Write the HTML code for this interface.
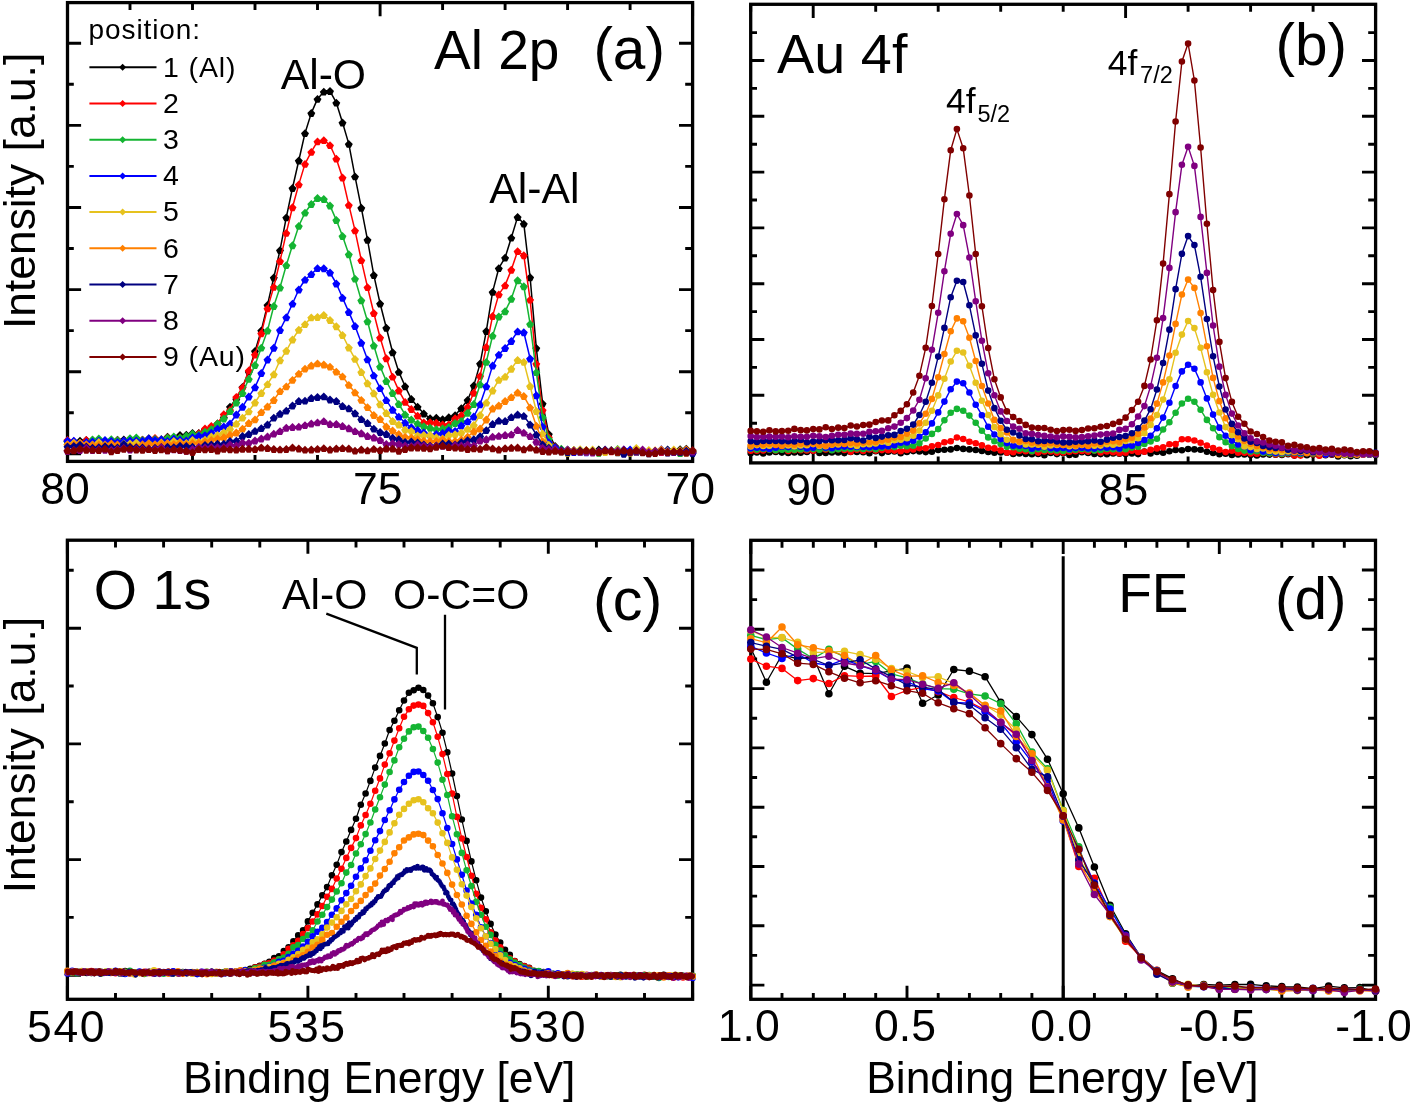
<!DOCTYPE html>
<html><head><meta charset="utf-8"><style>
html,body{margin:0;padding:0;background:#fff;}
svg{display:block;font-family:"Liberation Sans", sans-serif;will-change:transform;}
</style></head><body>
<svg width="1414" height="1106" viewBox="0 0 1414 1106">
<rect width="1414" height="1106" fill="#fff"/>
<path d="M67.5 461.4V447.8M67.5 2.6V16.2M380.1 461.4V447.8M380.1 2.6V16.2M692.6 461.4V447.8M692.6 2.6V16.2M130.0 461.4V455.1M130.0 2.6V10.0M192.5 461.4V455.1M192.5 2.6V10.0M255.0 461.4V455.1M255.0 2.6V10.0M317.5 461.4V455.1M317.5 2.6V10.0M442.6 461.4V455.1M442.6 2.6V10.0M505.1 461.4V455.1M505.1 2.6V10.0M567.6 461.4V455.1M567.6 2.6V10.0M630.1 461.4V455.1M630.1 2.6V10.0M67.5 43.3H81.1M692.6 43.3H679.0M67.5 125.4H81.1M692.6 125.4H679.0M67.5 207.5H81.1M692.6 207.5H679.0M67.5 289.6H81.1M692.6 289.6H679.0M67.5 371.7H81.1M692.6 371.7H679.0M67.5 453.8H81.1M692.6 453.8H679.0M67.5 84.3H73.8M692.6 84.3H685.2M67.5 166.4H73.8M692.6 166.4H685.2M67.5 248.5H73.8M692.6 248.5H685.2M67.5 330.6H73.8M692.6 330.6H685.2M67.5 412.8H73.8M692.6 412.8H685.2" stroke="#000" stroke-width="2.9" fill="none"/>
<path d="M813.2 462.9V449.3M813.2 4.3V17.9M1125.6 462.9V449.3M1125.6 4.3V17.9M750.7 462.9V456.6M750.7 4.3V11.7M875.7 462.9V456.6M875.7 4.3V11.7M938.2 462.9V456.6M938.2 4.3V11.7M1000.7 462.9V456.6M1000.7 4.3V11.7M1063.2 462.9V456.6M1063.2 4.3V11.7M1188.1 462.9V456.6M1188.1 4.3V11.7M1250.6 462.9V456.6M1250.6 4.3V11.7M1313.1 462.9V456.6M1313.1 4.3V11.7M1375.6 462.9V456.6M1375.6 4.3V11.7M750.7 60.5H764.3M1375.6 60.5H1362.0M750.7 116.3H764.3M1375.6 116.3H1362.0M750.7 172.1H764.3M1375.6 172.1H1362.0M750.7 227.9H764.3M1375.6 227.9H1362.0M750.7 283.7H764.3M1375.6 283.7H1362.0M750.7 339.5H764.3M1375.6 339.5H1362.0M750.7 395.3H764.3M1375.6 395.3H1362.0M750.7 451.1H764.3M1375.6 451.1H1362.0M750.7 32.6H757.0M1375.6 32.6H1368.2M750.7 88.4H757.0M1375.6 88.4H1368.2M750.7 144.2H757.0M1375.6 144.2H1368.2M750.7 200.0H757.0M1375.6 200.0H1368.2M750.7 255.8H757.0M1375.6 255.8H1368.2M750.7 311.6H757.0M1375.6 311.6H1368.2M750.7 367.4H757.0M1375.6 367.4H1368.2M750.7 423.2H757.0M1375.6 423.2H1368.2" stroke="#000" stroke-width="2.9" fill="none"/>
<path d="M67.4 999.3V985.7M67.4 540.2V553.8M307.9 999.3V985.7M307.9 540.2V553.8M548.3 999.3V985.7M548.3 540.2V553.8M115.5 999.3V993.0M115.5 540.2V547.6M163.6 999.3V993.0M163.6 540.2V547.6M211.7 999.3V993.0M211.7 540.2V547.6M259.8 999.3V993.0M259.8 540.2V547.6M356.0 999.3V993.0M356.0 540.2V547.6M404.0 999.3V993.0M404.0 540.2V547.6M452.1 999.3V993.0M452.1 540.2V547.6M500.2 999.3V993.0M500.2 540.2V547.6M596.4 999.3V993.0M596.4 540.2V547.6M644.5 999.3V993.0M644.5 540.2V547.6M692.6 999.3V993.0M692.6 540.2V547.6M67.4 628.2H81.0M692.6 628.2H679.0M67.4 743.9H81.0M692.6 743.9H679.0M67.4 859.6H81.0M692.6 859.6H679.0M67.4 975.3H81.0M692.6 975.3H679.0M67.4 570.3H73.7M692.6 570.3H685.2M67.4 686.0H73.7M692.6 686.0H685.2M67.4 801.7H73.7M692.6 801.7H685.2M67.4 917.4H73.7M692.6 917.4H685.2" stroke="#000" stroke-width="2.9" fill="none"/>
<path d="M750.8 999.3V985.7M750.8 540.3V553.9M907.0 999.3V985.7M907.0 540.3V553.9M1063.2 999.3V985.7M1063.2 540.3V553.9M1219.3 999.3V985.7M1219.3 540.3V553.9M1375.5 999.3V985.7M1375.5 540.3V553.9M782.0 999.3V993.0M782.0 540.3V547.7M813.3 999.3V993.0M813.3 540.3V547.7M844.5 999.3V993.0M844.5 540.3V547.7M875.7 999.3V993.0M875.7 540.3V547.7M938.2 999.3V993.0M938.2 540.3V547.7M969.4 999.3V993.0M969.4 540.3V547.7M1000.7 999.3V993.0M1000.7 540.3V547.7M1031.9 999.3V993.0M1031.9 540.3V547.7M1094.4 999.3V993.0M1094.4 540.3V547.7M1125.6 999.3V993.0M1125.6 540.3V547.7M1156.9 999.3V993.0M1156.9 540.3V547.7M1188.1 999.3V993.0M1188.1 540.3V547.7M1250.6 999.3V993.0M1250.6 540.3V547.7M1281.8 999.3V993.0M1281.8 540.3V547.7M1313.0 999.3V993.0M1313.0 540.3V547.7M1344.3 999.3V993.0M1344.3 540.3V547.7M750.8 570.0H764.4M1375.5 570.0H1361.9M750.8 629.3H764.4M1375.5 629.3H1361.9M750.8 688.6H764.4M1375.5 688.6H1361.9M750.8 747.9H764.4M1375.5 747.9H1361.9M750.8 807.2H764.4M1375.5 807.2H1361.9M750.8 866.5H764.4M1375.5 866.5H1361.9M750.8 925.8H764.4M1375.5 925.8H1361.9M750.8 985.1H764.4M1375.5 985.1H1361.9M750.8 599.6H757.1M1375.5 599.6H1368.1M750.8 658.9H757.1M1375.5 658.9H1368.1M750.8 718.2H757.1M1375.5 718.2H1368.1M750.8 777.5H757.1M1375.5 777.5H1368.1M750.8 836.8H757.1M1375.5 836.8H1368.1M750.8 896.1H757.1M1375.5 896.1H1368.1M750.8 955.4H757.1M1375.5 955.4H1368.1" stroke="#000" stroke-width="2.9" fill="none"/>
<rect x="67.5" y="2.6" width="625.1" height="458.8" fill="none" stroke="#000" stroke-width="3.3" stroke-linejoin="miter"/>
<rect x="750.7" y="4.3" width="624.9" height="458.6" fill="none" stroke="#000" stroke-width="3.3" stroke-linejoin="miter"/>
<rect x="67.4" y="540.2" width="625.2" height="459.1" fill="none" stroke="#000" stroke-width="3.3" stroke-linejoin="miter"/>
<rect x="750.8" y="540.3" width="624.7" height="459.0" fill="none" stroke="#000" stroke-width="3.3" stroke-linejoin="miter"/>
<g>
<polyline points="67.5,441.2 73.8,441.5 80.0,440.7 86.3,439.9 92.5,440.3 98.8,439.5 105.0,440.7 111.3,442.1 117.5,439.8 123.8,439.4 130.0,440.6 136.3,440.3 142.5,439.8 148.8,438.3 155.0,439.1 161.3,439.7 167.5,436.8 173.8,437.4 180.0,435.0 186.3,434.8 192.5,432.9 198.8,433.1 205.0,429.5 211.3,428.1 217.5,423.6 223.8,417.3 230.0,406.7 236.3,399.1 242.5,387.1 248.8,371.7 255.0,351.1 261.3,330.4 267.5,304.9 273.8,277.5 280.0,250.2 286.3,217.4 292.5,188.0 298.8,160.5 305.0,133.2 311.3,113.1 317.5,98.9 323.8,91.7 330.0,91.1 336.3,102.7 342.5,122.5 348.8,143.9 355.0,176.4 361.3,207.8 367.5,239.8 373.8,275.1 380.1,303.5 386.3,327.8 392.6,352.3 398.8,371.9 405.1,386.3 411.3,399.0 417.6,406.7 423.8,413.6 430.1,418.3 436.3,417.8 442.6,419.3 448.8,417.3 455.1,415.2 461.3,408.3 467.6,400.0 473.8,385.6 480.1,363.6 486.3,331.1 492.6,291.9 498.8,268.2 505.1,257.7 511.3,237.7 517.6,217.1 523.8,223.7 530.1,277.3 536.3,347.9 542.6,403.4 548.8,434.0 555.1,445.9 561.3,451.4 567.6,449.8 573.8,450.1 580.1,451.0 586.3,450.5 592.6,450.5 598.8,449.4 605.1,450.8 611.3,450.3 617.6,452.3 623.8,451.7 630.1,451.0 636.3,451.8 642.6,450.7 648.8,452.4 655.1,451.1 661.3,451.9 667.6,449.6 673.8,451.6 680.1,449.2 686.3,448.8 692.6,450.9" fill="none" stroke="#000000" stroke-width="1.5" stroke-linejoin="round"/>
<path d="M67.5 437.2l4 4l-2 3.9h-4l-2 -3.9zM73.8 437.5l4 4l-2 3.9h-4l-2 -3.9zM80.0 436.7l4 4l-2 3.9h-4l-2 -3.9zM86.3 435.9l4 4l-2 3.9h-4l-2 -3.9zM92.5 436.3l4 4l-2 3.9h-4l-2 -3.9zM98.8 435.5l4 4l-2 3.9h-4l-2 -3.9zM105.0 436.7l4 4l-2 3.9h-4l-2 -3.9zM111.3 438.1l4 4l-2 3.9h-4l-2 -3.9zM117.5 435.8l4 4l-2 3.9h-4l-2 -3.9zM123.8 435.4l4 4l-2 3.9h-4l-2 -3.9zM130.0 436.6l4 4l-2 3.9h-4l-2 -3.9zM136.3 436.3l4 4l-2 3.9h-4l-2 -3.9zM142.5 435.8l4 4l-2 3.9h-4l-2 -3.9zM148.8 434.3l4 4l-2 3.9h-4l-2 -3.9zM155.0 435.1l4 4l-2 3.9h-4l-2 -3.9zM161.3 435.7l4 4l-2 3.9h-4l-2 -3.9zM167.5 432.8l4 4l-2 3.9h-4l-2 -3.9zM173.8 433.4l4 4l-2 3.9h-4l-2 -3.9zM180.0 431.0l4 4l-2 3.9h-4l-2 -3.9zM186.3 430.8l4 4l-2 3.9h-4l-2 -3.9zM192.5 428.9l4 4l-2 3.9h-4l-2 -3.9zM198.8 429.1l4 4l-2 3.9h-4l-2 -3.9zM205.0 425.5l4 4l-2 3.9h-4l-2 -3.9zM211.3 424.1l4 4l-2 3.9h-4l-2 -3.9zM217.5 419.6l4 4l-2 3.9h-4l-2 -3.9zM223.8 413.3l4 4l-2 3.9h-4l-2 -3.9zM230.0 402.7l4 4l-2 3.9h-4l-2 -3.9zM236.3 395.1l4 4l-2 3.9h-4l-2 -3.9zM242.5 383.1l4 4l-2 3.9h-4l-2 -3.9zM248.8 367.7l4 4l-2 3.9h-4l-2 -3.9zM255.0 347.1l4 4l-2 3.9h-4l-2 -3.9zM261.3 326.4l4 4l-2 3.9h-4l-2 -3.9zM267.5 300.9l4 4l-2 3.9h-4l-2 -3.9zM273.8 273.5l4 4l-2 3.9h-4l-2 -3.9zM280.0 246.2l4 4l-2 3.9h-4l-2 -3.9zM286.3 213.4l4 4l-2 3.9h-4l-2 -3.9zM292.5 184.0l4 4l-2 3.9h-4l-2 -3.9zM298.8 156.5l4 4l-2 3.9h-4l-2 -3.9zM305.0 129.2l4 4l-2 3.9h-4l-2 -3.9zM311.3 109.1l4 4l-2 3.9h-4l-2 -3.9zM317.5 94.9l4 4l-2 3.9h-4l-2 -3.9zM323.8 87.7l4 4l-2 3.9h-4l-2 -3.9zM330.0 87.1l4 4l-2 3.9h-4l-2 -3.9zM336.3 98.7l4 4l-2 3.9h-4l-2 -3.9zM342.5 118.5l4 4l-2 3.9h-4l-2 -3.9zM348.8 139.9l4 4l-2 3.9h-4l-2 -3.9zM355.0 172.4l4 4l-2 3.9h-4l-2 -3.9zM361.3 203.8l4 4l-2 3.9h-4l-2 -3.9zM367.5 235.8l4 4l-2 3.9h-4l-2 -3.9zM373.8 271.1l4 4l-2 3.9h-4l-2 -3.9zM380.1 299.5l4 4l-2 3.9h-4l-2 -3.9zM386.3 323.8l4 4l-2 3.9h-4l-2 -3.9zM392.6 348.3l4 4l-2 3.9h-4l-2 -3.9zM398.8 367.9l4 4l-2 3.9h-4l-2 -3.9zM405.1 382.3l4 4l-2 3.9h-4l-2 -3.9zM411.3 395.0l4 4l-2 3.9h-4l-2 -3.9zM417.6 402.7l4 4l-2 3.9h-4l-2 -3.9zM423.8 409.6l4 4l-2 3.9h-4l-2 -3.9zM430.1 414.3l4 4l-2 3.9h-4l-2 -3.9zM436.3 413.8l4 4l-2 3.9h-4l-2 -3.9zM442.6 415.3l4 4l-2 3.9h-4l-2 -3.9zM448.8 413.3l4 4l-2 3.9h-4l-2 -3.9zM455.1 411.2l4 4l-2 3.9h-4l-2 -3.9zM461.3 404.3l4 4l-2 3.9h-4l-2 -3.9zM467.6 396.0l4 4l-2 3.9h-4l-2 -3.9zM473.8 381.6l4 4l-2 3.9h-4l-2 -3.9zM480.1 359.6l4 4l-2 3.9h-4l-2 -3.9zM486.3 327.1l4 4l-2 3.9h-4l-2 -3.9zM492.6 287.9l4 4l-2 3.9h-4l-2 -3.9zM498.8 264.2l4 4l-2 3.9h-4l-2 -3.9zM505.1 253.7l4 4l-2 3.9h-4l-2 -3.9zM511.3 233.7l4 4l-2 3.9h-4l-2 -3.9zM517.6 213.1l4 4l-2 3.9h-4l-2 -3.9zM523.8 219.7l4 4l-2 3.9h-4l-2 -3.9zM530.1 273.3l4 4l-2 3.9h-4l-2 -3.9zM536.3 343.9l4 4l-2 3.9h-4l-2 -3.9zM542.6 399.4l4 4l-2 3.9h-4l-2 -3.9zM548.8 430.0l4 4l-2 3.9h-4l-2 -3.9zM555.1 441.9l4 4l-2 3.9h-4l-2 -3.9zM561.3 447.4l4 4l-2 3.9h-4l-2 -3.9zM567.6 445.8l4 4l-2 3.9h-4l-2 -3.9zM573.8 446.1l4 4l-2 3.9h-4l-2 -3.9zM580.1 447.0l4 4l-2 3.9h-4l-2 -3.9zM586.3 446.5l4 4l-2 3.9h-4l-2 -3.9zM592.6 446.5l4 4l-2 3.9h-4l-2 -3.9zM598.8 445.4l4 4l-2 3.9h-4l-2 -3.9zM605.1 446.8l4 4l-2 3.9h-4l-2 -3.9zM611.3 446.3l4 4l-2 3.9h-4l-2 -3.9zM617.6 448.3l4 4l-2 3.9h-4l-2 -3.9zM623.8 447.7l4 4l-2 3.9h-4l-2 -3.9zM630.1 447.0l4 4l-2 3.9h-4l-2 -3.9zM636.3 447.8l4 4l-2 3.9h-4l-2 -3.9zM642.6 446.7l4 4l-2 3.9h-4l-2 -3.9zM648.8 448.4l4 4l-2 3.9h-4l-2 -3.9zM655.1 447.1l4 4l-2 3.9h-4l-2 -3.9zM661.3 447.9l4 4l-2 3.9h-4l-2 -3.9zM667.6 445.6l4 4l-2 3.9h-4l-2 -3.9zM673.8 447.6l4 4l-2 3.9h-4l-2 -3.9zM680.1 445.2l4 4l-2 3.9h-4l-2 -3.9zM686.3 444.8l4 4l-2 3.9h-4l-2 -3.9zM692.6 446.9l4 4l-2 3.9h-4l-2 -3.9z" fill="#000000"/>
<polyline points="67.5,440.1 73.8,441.3 80.0,443.7 86.3,440.0 92.5,440.1 98.8,441.0 105.0,441.3 111.3,440.3 117.5,440.2 123.8,441.1 130.0,440.8 136.3,438.7 142.5,439.7 148.8,439.6 155.0,438.0 161.3,439.3 167.5,437.6 173.8,439.2 180.0,437.6 186.3,436.6 192.5,434.4 198.8,433.2 205.0,428.5 211.3,426.1 217.5,423.4 223.8,414.3 230.0,410.0 236.3,396.9 242.5,387.5 248.8,370.5 255.0,354.6 261.3,333.3 267.5,308.4 273.8,286.9 280.0,261.0 286.3,232.9 292.5,207.3 298.8,184.4 305.0,163.9 311.3,151.9 317.5,141.4 323.8,140.2 330.0,145.2 336.3,158.7 342.5,177.5 348.8,204.9 355.0,230.4 361.3,260.2 367.5,287.2 373.8,313.0 380.1,337.5 386.3,358.3 392.6,376.7 398.8,390.6 405.1,401.9 411.3,409.0 417.6,415.7 423.8,422.6 430.1,422.2 436.3,422.8 442.6,424.4 448.8,424.4 455.1,418.3 461.3,415.2 467.6,406.9 473.8,392.8 480.1,375.9 486.3,347.0 492.6,316.1 498.8,294.4 505.1,285.4 511.3,269.8 517.6,251.2 523.8,255.3 530.1,299.7 536.3,363.7 542.6,410.1 548.8,437.2 555.1,446.9 561.3,449.3 567.6,449.9 573.8,451.4 580.1,450.3 586.3,450.6 592.6,450.8 598.8,452.3 605.1,451.7 611.3,451.4 617.6,450.3 623.8,449.4 630.1,452.2 636.3,452.2 642.6,450.9 648.8,451.8 655.1,452.1 661.3,452.2 667.6,452.3 673.8,450.7 680.1,453.1 686.3,449.8 692.6,452.3" fill="none" stroke="#ff0000" stroke-width="1.5" stroke-linejoin="round"/>
<path d="M67.5 436.1l4 4l-2 3.9h-4l-2 -3.9zM73.8 437.3l4 4l-2 3.9h-4l-2 -3.9zM80.0 439.7l4 4l-2 3.9h-4l-2 -3.9zM86.3 436.0l4 4l-2 3.9h-4l-2 -3.9zM92.5 436.1l4 4l-2 3.9h-4l-2 -3.9zM98.8 437.0l4 4l-2 3.9h-4l-2 -3.9zM105.0 437.3l4 4l-2 3.9h-4l-2 -3.9zM111.3 436.3l4 4l-2 3.9h-4l-2 -3.9zM117.5 436.2l4 4l-2 3.9h-4l-2 -3.9zM123.8 437.1l4 4l-2 3.9h-4l-2 -3.9zM130.0 436.8l4 4l-2 3.9h-4l-2 -3.9zM136.3 434.7l4 4l-2 3.9h-4l-2 -3.9zM142.5 435.7l4 4l-2 3.9h-4l-2 -3.9zM148.8 435.6l4 4l-2 3.9h-4l-2 -3.9zM155.0 434.0l4 4l-2 3.9h-4l-2 -3.9zM161.3 435.3l4 4l-2 3.9h-4l-2 -3.9zM167.5 433.6l4 4l-2 3.9h-4l-2 -3.9zM173.8 435.2l4 4l-2 3.9h-4l-2 -3.9zM180.0 433.6l4 4l-2 3.9h-4l-2 -3.9zM186.3 432.6l4 4l-2 3.9h-4l-2 -3.9zM192.5 430.4l4 4l-2 3.9h-4l-2 -3.9zM198.8 429.2l4 4l-2 3.9h-4l-2 -3.9zM205.0 424.5l4 4l-2 3.9h-4l-2 -3.9zM211.3 422.1l4 4l-2 3.9h-4l-2 -3.9zM217.5 419.4l4 4l-2 3.9h-4l-2 -3.9zM223.8 410.3l4 4l-2 3.9h-4l-2 -3.9zM230.0 406.0l4 4l-2 3.9h-4l-2 -3.9zM236.3 392.9l4 4l-2 3.9h-4l-2 -3.9zM242.5 383.5l4 4l-2 3.9h-4l-2 -3.9zM248.8 366.5l4 4l-2 3.9h-4l-2 -3.9zM255.0 350.6l4 4l-2 3.9h-4l-2 -3.9zM261.3 329.3l4 4l-2 3.9h-4l-2 -3.9zM267.5 304.4l4 4l-2 3.9h-4l-2 -3.9zM273.8 282.9l4 4l-2 3.9h-4l-2 -3.9zM280.0 257.0l4 4l-2 3.9h-4l-2 -3.9zM286.3 228.9l4 4l-2 3.9h-4l-2 -3.9zM292.5 203.3l4 4l-2 3.9h-4l-2 -3.9zM298.8 180.4l4 4l-2 3.9h-4l-2 -3.9zM305.0 159.9l4 4l-2 3.9h-4l-2 -3.9zM311.3 147.9l4 4l-2 3.9h-4l-2 -3.9zM317.5 137.4l4 4l-2 3.9h-4l-2 -3.9zM323.8 136.2l4 4l-2 3.9h-4l-2 -3.9zM330.0 141.2l4 4l-2 3.9h-4l-2 -3.9zM336.3 154.7l4 4l-2 3.9h-4l-2 -3.9zM342.5 173.5l4 4l-2 3.9h-4l-2 -3.9zM348.8 200.9l4 4l-2 3.9h-4l-2 -3.9zM355.0 226.4l4 4l-2 3.9h-4l-2 -3.9zM361.3 256.2l4 4l-2 3.9h-4l-2 -3.9zM367.5 283.2l4 4l-2 3.9h-4l-2 -3.9zM373.8 309.0l4 4l-2 3.9h-4l-2 -3.9zM380.1 333.5l4 4l-2 3.9h-4l-2 -3.9zM386.3 354.3l4 4l-2 3.9h-4l-2 -3.9zM392.6 372.7l4 4l-2 3.9h-4l-2 -3.9zM398.8 386.6l4 4l-2 3.9h-4l-2 -3.9zM405.1 397.9l4 4l-2 3.9h-4l-2 -3.9zM411.3 405.0l4 4l-2 3.9h-4l-2 -3.9zM417.6 411.7l4 4l-2 3.9h-4l-2 -3.9zM423.8 418.6l4 4l-2 3.9h-4l-2 -3.9zM430.1 418.2l4 4l-2 3.9h-4l-2 -3.9zM436.3 418.8l4 4l-2 3.9h-4l-2 -3.9zM442.6 420.4l4 4l-2 3.9h-4l-2 -3.9zM448.8 420.4l4 4l-2 3.9h-4l-2 -3.9zM455.1 414.3l4 4l-2 3.9h-4l-2 -3.9zM461.3 411.2l4 4l-2 3.9h-4l-2 -3.9zM467.6 402.9l4 4l-2 3.9h-4l-2 -3.9zM473.8 388.8l4 4l-2 3.9h-4l-2 -3.9zM480.1 371.9l4 4l-2 3.9h-4l-2 -3.9zM486.3 343.0l4 4l-2 3.9h-4l-2 -3.9zM492.6 312.1l4 4l-2 3.9h-4l-2 -3.9zM498.8 290.4l4 4l-2 3.9h-4l-2 -3.9zM505.1 281.4l4 4l-2 3.9h-4l-2 -3.9zM511.3 265.8l4 4l-2 3.9h-4l-2 -3.9zM517.6 247.2l4 4l-2 3.9h-4l-2 -3.9zM523.8 251.3l4 4l-2 3.9h-4l-2 -3.9zM530.1 295.7l4 4l-2 3.9h-4l-2 -3.9zM536.3 359.7l4 4l-2 3.9h-4l-2 -3.9zM542.6 406.1l4 4l-2 3.9h-4l-2 -3.9zM548.8 433.2l4 4l-2 3.9h-4l-2 -3.9zM555.1 442.9l4 4l-2 3.9h-4l-2 -3.9zM561.3 445.3l4 4l-2 3.9h-4l-2 -3.9zM567.6 445.9l4 4l-2 3.9h-4l-2 -3.9zM573.8 447.4l4 4l-2 3.9h-4l-2 -3.9zM580.1 446.3l4 4l-2 3.9h-4l-2 -3.9zM586.3 446.6l4 4l-2 3.9h-4l-2 -3.9zM592.6 446.8l4 4l-2 3.9h-4l-2 -3.9zM598.8 448.3l4 4l-2 3.9h-4l-2 -3.9zM605.1 447.7l4 4l-2 3.9h-4l-2 -3.9zM611.3 447.4l4 4l-2 3.9h-4l-2 -3.9zM617.6 446.3l4 4l-2 3.9h-4l-2 -3.9zM623.8 445.4l4 4l-2 3.9h-4l-2 -3.9zM630.1 448.2l4 4l-2 3.9h-4l-2 -3.9zM636.3 448.2l4 4l-2 3.9h-4l-2 -3.9zM642.6 446.9l4 4l-2 3.9h-4l-2 -3.9zM648.8 447.8l4 4l-2 3.9h-4l-2 -3.9zM655.1 448.1l4 4l-2 3.9h-4l-2 -3.9zM661.3 448.2l4 4l-2 3.9h-4l-2 -3.9zM667.6 448.3l4 4l-2 3.9h-4l-2 -3.9zM673.8 446.7l4 4l-2 3.9h-4l-2 -3.9zM680.1 449.1l4 4l-2 3.9h-4l-2 -3.9zM686.3 445.8l4 4l-2 3.9h-4l-2 -3.9zM692.6 448.3l4 4l-2 3.9h-4l-2 -3.9z" fill="#ff0000"/>
<polyline points="67.5,441.6 73.8,442.0 80.0,443.1 86.3,442.6 92.5,439.4 98.8,438.6 105.0,441.5 111.3,439.2 117.5,440.3 123.8,441.3 130.0,438.2 136.3,437.5 142.5,440.1 148.8,439.7 155.0,439.1 161.3,439.2 167.5,437.8 173.8,436.5 180.0,437.5 186.3,435.7 192.5,433.7 198.8,434.6 205.0,431.7 211.3,429.2 217.5,423.5 223.8,418.5 230.0,411.2 236.3,402.6 242.5,393.1 248.8,378.9 255.0,365.1 261.3,347.7 267.5,330.6 273.8,306.0 280.0,287.5 286.3,265.2 292.5,245.3 298.8,225.9 305.0,212.7 311.3,204.0 317.5,198.1 323.8,199.0 330.0,205.6 336.3,220.1 342.5,236.1 348.8,254.3 355.0,278.7 361.3,300.3 367.5,321.3 373.8,345.5 380.1,366.5 386.3,381.1 392.6,393.0 398.8,404.0 405.1,414.6 411.3,419.5 417.6,423.6 423.8,426.2 430.1,427.8 436.3,429.2 442.6,428.6 448.8,426.9 455.1,423.0 461.3,420.9 467.6,412.8 473.8,404.1 480.1,384.4 486.3,361.9 492.6,335.7 498.8,316.5 505.1,311.3 511.3,298.8 517.6,280.3 523.8,286.3 530.1,323.9 536.3,372.2 542.6,417.1 548.8,439.0 555.1,447.7 561.3,448.8 567.6,450.3 573.8,450.6 580.1,452.2 586.3,451.3 592.6,450.9 598.8,452.8 605.1,450.3 611.3,450.5 617.6,448.9 623.8,453.0 630.1,452.3 636.3,452.2 642.6,451.9 648.8,451.3 655.1,451.4 661.3,450.9 667.6,451.0 673.8,451.3 680.1,453.1 686.3,452.0 692.6,451.2" fill="none" stroke="#14b432" stroke-width="1.5" stroke-linejoin="round"/>
<path d="M67.5 437.6l4 4l-2 3.9h-4l-2 -3.9zM73.8 438.0l4 4l-2 3.9h-4l-2 -3.9zM80.0 439.1l4 4l-2 3.9h-4l-2 -3.9zM86.3 438.6l4 4l-2 3.9h-4l-2 -3.9zM92.5 435.4l4 4l-2 3.9h-4l-2 -3.9zM98.8 434.6l4 4l-2 3.9h-4l-2 -3.9zM105.0 437.5l4 4l-2 3.9h-4l-2 -3.9zM111.3 435.2l4 4l-2 3.9h-4l-2 -3.9zM117.5 436.3l4 4l-2 3.9h-4l-2 -3.9zM123.8 437.3l4 4l-2 3.9h-4l-2 -3.9zM130.0 434.2l4 4l-2 3.9h-4l-2 -3.9zM136.3 433.5l4 4l-2 3.9h-4l-2 -3.9zM142.5 436.1l4 4l-2 3.9h-4l-2 -3.9zM148.8 435.7l4 4l-2 3.9h-4l-2 -3.9zM155.0 435.1l4 4l-2 3.9h-4l-2 -3.9zM161.3 435.2l4 4l-2 3.9h-4l-2 -3.9zM167.5 433.8l4 4l-2 3.9h-4l-2 -3.9zM173.8 432.5l4 4l-2 3.9h-4l-2 -3.9zM180.0 433.5l4 4l-2 3.9h-4l-2 -3.9zM186.3 431.7l4 4l-2 3.9h-4l-2 -3.9zM192.5 429.7l4 4l-2 3.9h-4l-2 -3.9zM198.8 430.6l4 4l-2 3.9h-4l-2 -3.9zM205.0 427.7l4 4l-2 3.9h-4l-2 -3.9zM211.3 425.2l4 4l-2 3.9h-4l-2 -3.9zM217.5 419.5l4 4l-2 3.9h-4l-2 -3.9zM223.8 414.5l4 4l-2 3.9h-4l-2 -3.9zM230.0 407.2l4 4l-2 3.9h-4l-2 -3.9zM236.3 398.6l4 4l-2 3.9h-4l-2 -3.9zM242.5 389.1l4 4l-2 3.9h-4l-2 -3.9zM248.8 374.9l4 4l-2 3.9h-4l-2 -3.9zM255.0 361.1l4 4l-2 3.9h-4l-2 -3.9zM261.3 343.7l4 4l-2 3.9h-4l-2 -3.9zM267.5 326.6l4 4l-2 3.9h-4l-2 -3.9zM273.8 302.0l4 4l-2 3.9h-4l-2 -3.9zM280.0 283.5l4 4l-2 3.9h-4l-2 -3.9zM286.3 261.2l4 4l-2 3.9h-4l-2 -3.9zM292.5 241.3l4 4l-2 3.9h-4l-2 -3.9zM298.8 221.9l4 4l-2 3.9h-4l-2 -3.9zM305.0 208.7l4 4l-2 3.9h-4l-2 -3.9zM311.3 200.0l4 4l-2 3.9h-4l-2 -3.9zM317.5 194.1l4 4l-2 3.9h-4l-2 -3.9zM323.8 195.0l4 4l-2 3.9h-4l-2 -3.9zM330.0 201.6l4 4l-2 3.9h-4l-2 -3.9zM336.3 216.1l4 4l-2 3.9h-4l-2 -3.9zM342.5 232.1l4 4l-2 3.9h-4l-2 -3.9zM348.8 250.3l4 4l-2 3.9h-4l-2 -3.9zM355.0 274.7l4 4l-2 3.9h-4l-2 -3.9zM361.3 296.3l4 4l-2 3.9h-4l-2 -3.9zM367.5 317.3l4 4l-2 3.9h-4l-2 -3.9zM373.8 341.5l4 4l-2 3.9h-4l-2 -3.9zM380.1 362.5l4 4l-2 3.9h-4l-2 -3.9zM386.3 377.1l4 4l-2 3.9h-4l-2 -3.9zM392.6 389.0l4 4l-2 3.9h-4l-2 -3.9zM398.8 400.0l4 4l-2 3.9h-4l-2 -3.9zM405.1 410.6l4 4l-2 3.9h-4l-2 -3.9zM411.3 415.5l4 4l-2 3.9h-4l-2 -3.9zM417.6 419.6l4 4l-2 3.9h-4l-2 -3.9zM423.8 422.2l4 4l-2 3.9h-4l-2 -3.9zM430.1 423.8l4 4l-2 3.9h-4l-2 -3.9zM436.3 425.2l4 4l-2 3.9h-4l-2 -3.9zM442.6 424.6l4 4l-2 3.9h-4l-2 -3.9zM448.8 422.9l4 4l-2 3.9h-4l-2 -3.9zM455.1 419.0l4 4l-2 3.9h-4l-2 -3.9zM461.3 416.9l4 4l-2 3.9h-4l-2 -3.9zM467.6 408.8l4 4l-2 3.9h-4l-2 -3.9zM473.8 400.1l4 4l-2 3.9h-4l-2 -3.9zM480.1 380.4l4 4l-2 3.9h-4l-2 -3.9zM486.3 357.9l4 4l-2 3.9h-4l-2 -3.9zM492.6 331.7l4 4l-2 3.9h-4l-2 -3.9zM498.8 312.5l4 4l-2 3.9h-4l-2 -3.9zM505.1 307.3l4 4l-2 3.9h-4l-2 -3.9zM511.3 294.8l4 4l-2 3.9h-4l-2 -3.9zM517.6 276.3l4 4l-2 3.9h-4l-2 -3.9zM523.8 282.3l4 4l-2 3.9h-4l-2 -3.9zM530.1 319.9l4 4l-2 3.9h-4l-2 -3.9zM536.3 368.2l4 4l-2 3.9h-4l-2 -3.9zM542.6 413.1l4 4l-2 3.9h-4l-2 -3.9zM548.8 435.0l4 4l-2 3.9h-4l-2 -3.9zM555.1 443.7l4 4l-2 3.9h-4l-2 -3.9zM561.3 444.8l4 4l-2 3.9h-4l-2 -3.9zM567.6 446.3l4 4l-2 3.9h-4l-2 -3.9zM573.8 446.6l4 4l-2 3.9h-4l-2 -3.9zM580.1 448.2l4 4l-2 3.9h-4l-2 -3.9zM586.3 447.3l4 4l-2 3.9h-4l-2 -3.9zM592.6 446.9l4 4l-2 3.9h-4l-2 -3.9zM598.8 448.8l4 4l-2 3.9h-4l-2 -3.9zM605.1 446.3l4 4l-2 3.9h-4l-2 -3.9zM611.3 446.5l4 4l-2 3.9h-4l-2 -3.9zM617.6 444.9l4 4l-2 3.9h-4l-2 -3.9zM623.8 449.0l4 4l-2 3.9h-4l-2 -3.9zM630.1 448.3l4 4l-2 3.9h-4l-2 -3.9zM636.3 448.2l4 4l-2 3.9h-4l-2 -3.9zM642.6 447.9l4 4l-2 3.9h-4l-2 -3.9zM648.8 447.3l4 4l-2 3.9h-4l-2 -3.9zM655.1 447.4l4 4l-2 3.9h-4l-2 -3.9zM661.3 446.9l4 4l-2 3.9h-4l-2 -3.9zM667.6 447.0l4 4l-2 3.9h-4l-2 -3.9zM673.8 447.3l4 4l-2 3.9h-4l-2 -3.9zM680.1 449.1l4 4l-2 3.9h-4l-2 -3.9zM686.3 448.0l4 4l-2 3.9h-4l-2 -3.9zM692.6 447.2l4 4l-2 3.9h-4l-2 -3.9z" fill="#14b432"/>
<polyline points="67.5,440.8 73.8,440.7 80.0,443.3 86.3,442.0 92.5,441.4 98.8,440.8 105.0,439.9 111.3,441.0 117.5,442.1 123.8,440.5 130.0,440.6 136.3,440.5 142.5,440.8 148.8,438.6 155.0,440.1 161.3,439.2 167.5,441.0 173.8,438.7 180.0,439.8 186.3,440.4 192.5,437.3 198.8,435.8 205.0,435.2 211.3,432.8 217.5,428.7 223.8,426.6 230.0,423.5 236.3,414.5 242.5,406.8 248.8,396.6 255.0,387.3 261.3,373.1 267.5,359.6 273.8,347.8 280.0,330.0 286.3,317.3 292.5,303.7 298.8,289.5 305.0,279.7 311.3,274.2 317.5,268.2 323.8,268.3 330.0,272.6 336.3,283.5 342.5,297.8 348.8,312.1 355.0,326.1 361.3,342.8 367.5,359.4 373.8,375.4 380.1,388.2 386.3,400.2 392.6,409.8 398.8,416.7 405.1,422.8 411.3,427.3 417.6,429.9 423.8,432.5 430.1,435.2 436.3,434.0 442.6,433.1 448.8,430.2 455.1,431.1 461.3,425.5 467.6,421.4 473.8,416.5 480.1,404.3 486.3,386.3 492.6,365.6 498.8,354.7 505.1,348.1 511.3,341.0 517.6,331.4 523.8,332.3 530.1,358.5 536.3,395.3 542.6,426.4 548.8,442.3 555.1,447.3 561.3,450.6 567.6,449.4 573.8,452.2 580.1,452.2 586.3,452.3 592.6,450.4 598.8,451.7 605.1,450.9 611.3,450.6 617.6,450.7 623.8,449.6 630.1,449.4 636.3,452.1 642.6,451.0 648.8,451.5 655.1,452.4 661.3,449.2 667.6,450.3 673.8,451.5 680.1,451.7 686.3,450.8 692.6,452.5" fill="none" stroke="#0000ff" stroke-width="1.5" stroke-linejoin="round"/>
<path d="M67.5 436.8l4 4l-2 3.9h-4l-2 -3.9zM73.8 436.7l4 4l-2 3.9h-4l-2 -3.9zM80.0 439.3l4 4l-2 3.9h-4l-2 -3.9zM86.3 438.0l4 4l-2 3.9h-4l-2 -3.9zM92.5 437.4l4 4l-2 3.9h-4l-2 -3.9zM98.8 436.8l4 4l-2 3.9h-4l-2 -3.9zM105.0 435.9l4 4l-2 3.9h-4l-2 -3.9zM111.3 437.0l4 4l-2 3.9h-4l-2 -3.9zM117.5 438.1l4 4l-2 3.9h-4l-2 -3.9zM123.8 436.5l4 4l-2 3.9h-4l-2 -3.9zM130.0 436.6l4 4l-2 3.9h-4l-2 -3.9zM136.3 436.5l4 4l-2 3.9h-4l-2 -3.9zM142.5 436.8l4 4l-2 3.9h-4l-2 -3.9zM148.8 434.6l4 4l-2 3.9h-4l-2 -3.9zM155.0 436.1l4 4l-2 3.9h-4l-2 -3.9zM161.3 435.2l4 4l-2 3.9h-4l-2 -3.9zM167.5 437.0l4 4l-2 3.9h-4l-2 -3.9zM173.8 434.7l4 4l-2 3.9h-4l-2 -3.9zM180.0 435.8l4 4l-2 3.9h-4l-2 -3.9zM186.3 436.4l4 4l-2 3.9h-4l-2 -3.9zM192.5 433.3l4 4l-2 3.9h-4l-2 -3.9zM198.8 431.8l4 4l-2 3.9h-4l-2 -3.9zM205.0 431.2l4 4l-2 3.9h-4l-2 -3.9zM211.3 428.8l4 4l-2 3.9h-4l-2 -3.9zM217.5 424.7l4 4l-2 3.9h-4l-2 -3.9zM223.8 422.6l4 4l-2 3.9h-4l-2 -3.9zM230.0 419.5l4 4l-2 3.9h-4l-2 -3.9zM236.3 410.5l4 4l-2 3.9h-4l-2 -3.9zM242.5 402.8l4 4l-2 3.9h-4l-2 -3.9zM248.8 392.6l4 4l-2 3.9h-4l-2 -3.9zM255.0 383.3l4 4l-2 3.9h-4l-2 -3.9zM261.3 369.1l4 4l-2 3.9h-4l-2 -3.9zM267.5 355.6l4 4l-2 3.9h-4l-2 -3.9zM273.8 343.8l4 4l-2 3.9h-4l-2 -3.9zM280.0 326.0l4 4l-2 3.9h-4l-2 -3.9zM286.3 313.3l4 4l-2 3.9h-4l-2 -3.9zM292.5 299.7l4 4l-2 3.9h-4l-2 -3.9zM298.8 285.5l4 4l-2 3.9h-4l-2 -3.9zM305.0 275.7l4 4l-2 3.9h-4l-2 -3.9zM311.3 270.2l4 4l-2 3.9h-4l-2 -3.9zM317.5 264.2l4 4l-2 3.9h-4l-2 -3.9zM323.8 264.3l4 4l-2 3.9h-4l-2 -3.9zM330.0 268.6l4 4l-2 3.9h-4l-2 -3.9zM336.3 279.5l4 4l-2 3.9h-4l-2 -3.9zM342.5 293.8l4 4l-2 3.9h-4l-2 -3.9zM348.8 308.1l4 4l-2 3.9h-4l-2 -3.9zM355.0 322.1l4 4l-2 3.9h-4l-2 -3.9zM361.3 338.8l4 4l-2 3.9h-4l-2 -3.9zM367.5 355.4l4 4l-2 3.9h-4l-2 -3.9zM373.8 371.4l4 4l-2 3.9h-4l-2 -3.9zM380.1 384.2l4 4l-2 3.9h-4l-2 -3.9zM386.3 396.2l4 4l-2 3.9h-4l-2 -3.9zM392.6 405.8l4 4l-2 3.9h-4l-2 -3.9zM398.8 412.7l4 4l-2 3.9h-4l-2 -3.9zM405.1 418.8l4 4l-2 3.9h-4l-2 -3.9zM411.3 423.3l4 4l-2 3.9h-4l-2 -3.9zM417.6 425.9l4 4l-2 3.9h-4l-2 -3.9zM423.8 428.5l4 4l-2 3.9h-4l-2 -3.9zM430.1 431.2l4 4l-2 3.9h-4l-2 -3.9zM436.3 430.0l4 4l-2 3.9h-4l-2 -3.9zM442.6 429.1l4 4l-2 3.9h-4l-2 -3.9zM448.8 426.2l4 4l-2 3.9h-4l-2 -3.9zM455.1 427.1l4 4l-2 3.9h-4l-2 -3.9zM461.3 421.5l4 4l-2 3.9h-4l-2 -3.9zM467.6 417.4l4 4l-2 3.9h-4l-2 -3.9zM473.8 412.5l4 4l-2 3.9h-4l-2 -3.9zM480.1 400.3l4 4l-2 3.9h-4l-2 -3.9zM486.3 382.3l4 4l-2 3.9h-4l-2 -3.9zM492.6 361.6l4 4l-2 3.9h-4l-2 -3.9zM498.8 350.7l4 4l-2 3.9h-4l-2 -3.9zM505.1 344.1l4 4l-2 3.9h-4l-2 -3.9zM511.3 337.0l4 4l-2 3.9h-4l-2 -3.9zM517.6 327.4l4 4l-2 3.9h-4l-2 -3.9zM523.8 328.3l4 4l-2 3.9h-4l-2 -3.9zM530.1 354.5l4 4l-2 3.9h-4l-2 -3.9zM536.3 391.3l4 4l-2 3.9h-4l-2 -3.9zM542.6 422.4l4 4l-2 3.9h-4l-2 -3.9zM548.8 438.3l4 4l-2 3.9h-4l-2 -3.9zM555.1 443.3l4 4l-2 3.9h-4l-2 -3.9zM561.3 446.6l4 4l-2 3.9h-4l-2 -3.9zM567.6 445.4l4 4l-2 3.9h-4l-2 -3.9zM573.8 448.2l4 4l-2 3.9h-4l-2 -3.9zM580.1 448.2l4 4l-2 3.9h-4l-2 -3.9zM586.3 448.3l4 4l-2 3.9h-4l-2 -3.9zM592.6 446.4l4 4l-2 3.9h-4l-2 -3.9zM598.8 447.7l4 4l-2 3.9h-4l-2 -3.9zM605.1 446.9l4 4l-2 3.9h-4l-2 -3.9zM611.3 446.6l4 4l-2 3.9h-4l-2 -3.9zM617.6 446.7l4 4l-2 3.9h-4l-2 -3.9zM623.8 445.6l4 4l-2 3.9h-4l-2 -3.9zM630.1 445.4l4 4l-2 3.9h-4l-2 -3.9zM636.3 448.1l4 4l-2 3.9h-4l-2 -3.9zM642.6 447.0l4 4l-2 3.9h-4l-2 -3.9zM648.8 447.5l4 4l-2 3.9h-4l-2 -3.9zM655.1 448.4l4 4l-2 3.9h-4l-2 -3.9zM661.3 445.2l4 4l-2 3.9h-4l-2 -3.9zM667.6 446.3l4 4l-2 3.9h-4l-2 -3.9zM673.8 447.5l4 4l-2 3.9h-4l-2 -3.9zM680.1 447.7l4 4l-2 3.9h-4l-2 -3.9zM686.3 446.8l4 4l-2 3.9h-4l-2 -3.9zM692.6 448.5l4 4l-2 3.9h-4l-2 -3.9z" fill="#0000ff"/>
<polyline points="67.5,444.4 73.8,442.8 80.0,443.1 86.3,445.0 92.5,444.6 98.8,441.9 105.0,445.5 111.3,444.6 117.5,445.3 123.8,443.4 130.0,443.4 136.3,442.4 142.5,446.4 148.8,443.3 155.0,445.1 161.3,442.5 167.5,443.2 173.8,440.9 180.0,442.0 186.3,443.1 192.5,440.0 198.8,441.7 205.0,439.7 211.3,436.5 217.5,435.0 223.8,432.2 230.0,428.9 236.3,423.7 242.5,417.7 248.8,411.4 255.0,402.5 261.3,393.0 267.5,384.2 273.8,374.3 280.0,360.3 286.3,350.8 292.5,339.5 298.8,329.8 305.0,324.2 311.3,317.4 317.5,317.0 323.8,315.0 330.0,320.1 336.3,326.3 342.5,335.0 348.8,347.6 355.0,358.9 361.3,372.0 367.5,383.3 373.8,393.3 380.1,404.3 386.3,413.0 392.6,421.0 398.8,424.5 405.1,429.7 411.3,430.9 417.6,435.6 423.8,435.1 430.1,435.0 436.3,437.2 442.6,438.4 448.8,434.9 455.1,434.3 461.3,432.7 467.6,428.9 473.8,425.0 480.1,415.0 486.3,402.7 492.6,390.5 498.8,379.9 505.1,376.7 511.3,368.8 517.6,360.1 523.8,361.9 530.1,386.0 536.3,411.0 542.6,433.4 548.8,444.8 555.1,449.5 561.3,450.7 567.6,453.0 573.8,449.9 580.1,449.3 586.3,450.0 592.6,449.6 598.8,451.9 605.1,452.0 611.3,450.1 617.6,449.6 623.8,450.8 630.1,452.7 636.3,448.1 642.6,451.8 648.8,450.0 655.1,452.4 661.3,450.1 667.6,450.9 673.8,449.6 680.1,450.2 686.3,452.8 692.6,452.2" fill="none" stroke="#e6c21e" stroke-width="1.5" stroke-linejoin="round"/>
<path d="M67.5 440.4l4 4l-2 3.9h-4l-2 -3.9zM73.8 438.8l4 4l-2 3.9h-4l-2 -3.9zM80.0 439.1l4 4l-2 3.9h-4l-2 -3.9zM86.3 441.0l4 4l-2 3.9h-4l-2 -3.9zM92.5 440.6l4 4l-2 3.9h-4l-2 -3.9zM98.8 437.9l4 4l-2 3.9h-4l-2 -3.9zM105.0 441.5l4 4l-2 3.9h-4l-2 -3.9zM111.3 440.6l4 4l-2 3.9h-4l-2 -3.9zM117.5 441.3l4 4l-2 3.9h-4l-2 -3.9zM123.8 439.4l4 4l-2 3.9h-4l-2 -3.9zM130.0 439.4l4 4l-2 3.9h-4l-2 -3.9zM136.3 438.4l4 4l-2 3.9h-4l-2 -3.9zM142.5 442.4l4 4l-2 3.9h-4l-2 -3.9zM148.8 439.3l4 4l-2 3.9h-4l-2 -3.9zM155.0 441.1l4 4l-2 3.9h-4l-2 -3.9zM161.3 438.5l4 4l-2 3.9h-4l-2 -3.9zM167.5 439.2l4 4l-2 3.9h-4l-2 -3.9zM173.8 436.9l4 4l-2 3.9h-4l-2 -3.9zM180.0 438.0l4 4l-2 3.9h-4l-2 -3.9zM186.3 439.1l4 4l-2 3.9h-4l-2 -3.9zM192.5 436.0l4 4l-2 3.9h-4l-2 -3.9zM198.8 437.7l4 4l-2 3.9h-4l-2 -3.9zM205.0 435.7l4 4l-2 3.9h-4l-2 -3.9zM211.3 432.5l4 4l-2 3.9h-4l-2 -3.9zM217.5 431.0l4 4l-2 3.9h-4l-2 -3.9zM223.8 428.2l4 4l-2 3.9h-4l-2 -3.9zM230.0 424.9l4 4l-2 3.9h-4l-2 -3.9zM236.3 419.7l4 4l-2 3.9h-4l-2 -3.9zM242.5 413.7l4 4l-2 3.9h-4l-2 -3.9zM248.8 407.4l4 4l-2 3.9h-4l-2 -3.9zM255.0 398.5l4 4l-2 3.9h-4l-2 -3.9zM261.3 389.0l4 4l-2 3.9h-4l-2 -3.9zM267.5 380.2l4 4l-2 3.9h-4l-2 -3.9zM273.8 370.3l4 4l-2 3.9h-4l-2 -3.9zM280.0 356.3l4 4l-2 3.9h-4l-2 -3.9zM286.3 346.8l4 4l-2 3.9h-4l-2 -3.9zM292.5 335.5l4 4l-2 3.9h-4l-2 -3.9zM298.8 325.8l4 4l-2 3.9h-4l-2 -3.9zM305.0 320.2l4 4l-2 3.9h-4l-2 -3.9zM311.3 313.4l4 4l-2 3.9h-4l-2 -3.9zM317.5 313.0l4 4l-2 3.9h-4l-2 -3.9zM323.8 311.0l4 4l-2 3.9h-4l-2 -3.9zM330.0 316.1l4 4l-2 3.9h-4l-2 -3.9zM336.3 322.3l4 4l-2 3.9h-4l-2 -3.9zM342.5 331.0l4 4l-2 3.9h-4l-2 -3.9zM348.8 343.6l4 4l-2 3.9h-4l-2 -3.9zM355.0 354.9l4 4l-2 3.9h-4l-2 -3.9zM361.3 368.0l4 4l-2 3.9h-4l-2 -3.9zM367.5 379.3l4 4l-2 3.9h-4l-2 -3.9zM373.8 389.3l4 4l-2 3.9h-4l-2 -3.9zM380.1 400.3l4 4l-2 3.9h-4l-2 -3.9zM386.3 409.0l4 4l-2 3.9h-4l-2 -3.9zM392.6 417.0l4 4l-2 3.9h-4l-2 -3.9zM398.8 420.5l4 4l-2 3.9h-4l-2 -3.9zM405.1 425.7l4 4l-2 3.9h-4l-2 -3.9zM411.3 426.9l4 4l-2 3.9h-4l-2 -3.9zM417.6 431.6l4 4l-2 3.9h-4l-2 -3.9zM423.8 431.1l4 4l-2 3.9h-4l-2 -3.9zM430.1 431.0l4 4l-2 3.9h-4l-2 -3.9zM436.3 433.2l4 4l-2 3.9h-4l-2 -3.9zM442.6 434.4l4 4l-2 3.9h-4l-2 -3.9zM448.8 430.9l4 4l-2 3.9h-4l-2 -3.9zM455.1 430.3l4 4l-2 3.9h-4l-2 -3.9zM461.3 428.7l4 4l-2 3.9h-4l-2 -3.9zM467.6 424.9l4 4l-2 3.9h-4l-2 -3.9zM473.8 421.0l4 4l-2 3.9h-4l-2 -3.9zM480.1 411.0l4 4l-2 3.9h-4l-2 -3.9zM486.3 398.7l4 4l-2 3.9h-4l-2 -3.9zM492.6 386.5l4 4l-2 3.9h-4l-2 -3.9zM498.8 375.9l4 4l-2 3.9h-4l-2 -3.9zM505.1 372.7l4 4l-2 3.9h-4l-2 -3.9zM511.3 364.8l4 4l-2 3.9h-4l-2 -3.9zM517.6 356.1l4 4l-2 3.9h-4l-2 -3.9zM523.8 357.9l4 4l-2 3.9h-4l-2 -3.9zM530.1 382.0l4 4l-2 3.9h-4l-2 -3.9zM536.3 407.0l4 4l-2 3.9h-4l-2 -3.9zM542.6 429.4l4 4l-2 3.9h-4l-2 -3.9zM548.8 440.8l4 4l-2 3.9h-4l-2 -3.9zM555.1 445.5l4 4l-2 3.9h-4l-2 -3.9zM561.3 446.7l4 4l-2 3.9h-4l-2 -3.9zM567.6 449.0l4 4l-2 3.9h-4l-2 -3.9zM573.8 445.9l4 4l-2 3.9h-4l-2 -3.9zM580.1 445.3l4 4l-2 3.9h-4l-2 -3.9zM586.3 446.0l4 4l-2 3.9h-4l-2 -3.9zM592.6 445.6l4 4l-2 3.9h-4l-2 -3.9zM598.8 447.9l4 4l-2 3.9h-4l-2 -3.9zM605.1 448.0l4 4l-2 3.9h-4l-2 -3.9zM611.3 446.1l4 4l-2 3.9h-4l-2 -3.9zM617.6 445.6l4 4l-2 3.9h-4l-2 -3.9zM623.8 446.8l4 4l-2 3.9h-4l-2 -3.9zM630.1 448.7l4 4l-2 3.9h-4l-2 -3.9zM636.3 444.1l4 4l-2 3.9h-4l-2 -3.9zM642.6 447.8l4 4l-2 3.9h-4l-2 -3.9zM648.8 446.0l4 4l-2 3.9h-4l-2 -3.9zM655.1 448.4l4 4l-2 3.9h-4l-2 -3.9zM661.3 446.1l4 4l-2 3.9h-4l-2 -3.9zM667.6 446.9l4 4l-2 3.9h-4l-2 -3.9zM673.8 445.6l4 4l-2 3.9h-4l-2 -3.9zM680.1 446.2l4 4l-2 3.9h-4l-2 -3.9zM686.3 448.8l4 4l-2 3.9h-4l-2 -3.9zM692.6 448.2l4 4l-2 3.9h-4l-2 -3.9z" fill="#e6c21e"/>
<polyline points="67.5,444.4 73.8,443.9 80.0,442.9 86.3,444.3 92.5,444.7 98.8,444.6 105.0,444.6 111.3,443.5 117.5,444.5 123.8,444.5 130.0,445.8 136.3,446.3 142.5,444.3 148.8,443.6 155.0,444.2 161.3,443.6 167.5,443.3 173.8,443.9 180.0,442.7 186.3,444.0 192.5,442.9 198.8,442.7 205.0,441.6 211.3,440.0 217.5,438.4 223.8,437.3 230.0,434.7 236.3,432.6 242.5,428.7 248.8,423.1 255.0,419.4 261.3,412.2 267.5,406.6 273.8,400.1 280.0,391.2 286.3,386.4 292.5,379.9 298.8,373.7 305.0,368.7 311.3,365.5 317.5,363.4 323.8,364.5 330.0,366.7 336.3,371.7 342.5,376.4 348.8,384.9 355.0,392.4 361.3,399.9 367.5,407.2 373.8,415.1 380.1,419.1 386.3,426.5 392.6,430.6 398.8,434.1 405.1,436.7 411.3,437.5 417.6,439.2 423.8,440.8 430.1,441.0 436.3,441.0 442.6,439.2 448.8,440.9 455.1,440.9 461.3,439.5 467.6,436.7 473.8,431.5 480.1,428.5 486.3,419.6 492.6,408.5 498.8,405.6 505.1,401.0 511.3,397.2 517.6,392.5 523.8,396.1 530.1,407.4 536.3,425.8 542.6,441.3 548.8,448.7 555.1,449.9 561.3,450.6 567.6,449.8 573.8,450.4 580.1,451.6 586.3,451.5 592.6,451.3 598.8,452.2 605.1,450.4 611.3,451.1 617.6,451.9 623.8,451.8 630.1,452.3 636.3,451.6 642.6,450.9 648.8,451.6 655.1,450.3 661.3,449.6 667.6,451.9 673.8,451.2 680.1,451.6 686.3,449.6 692.6,450.9" fill="none" stroke="#ff8000" stroke-width="1.5" stroke-linejoin="round"/>
<path d="M67.5 440.4l4 4l-2 3.9h-4l-2 -3.9zM73.8 439.9l4 4l-2 3.9h-4l-2 -3.9zM80.0 438.9l4 4l-2 3.9h-4l-2 -3.9zM86.3 440.3l4 4l-2 3.9h-4l-2 -3.9zM92.5 440.7l4 4l-2 3.9h-4l-2 -3.9zM98.8 440.6l4 4l-2 3.9h-4l-2 -3.9zM105.0 440.6l4 4l-2 3.9h-4l-2 -3.9zM111.3 439.5l4 4l-2 3.9h-4l-2 -3.9zM117.5 440.5l4 4l-2 3.9h-4l-2 -3.9zM123.8 440.5l4 4l-2 3.9h-4l-2 -3.9zM130.0 441.8l4 4l-2 3.9h-4l-2 -3.9zM136.3 442.3l4 4l-2 3.9h-4l-2 -3.9zM142.5 440.3l4 4l-2 3.9h-4l-2 -3.9zM148.8 439.6l4 4l-2 3.9h-4l-2 -3.9zM155.0 440.2l4 4l-2 3.9h-4l-2 -3.9zM161.3 439.6l4 4l-2 3.9h-4l-2 -3.9zM167.5 439.3l4 4l-2 3.9h-4l-2 -3.9zM173.8 439.9l4 4l-2 3.9h-4l-2 -3.9zM180.0 438.7l4 4l-2 3.9h-4l-2 -3.9zM186.3 440.0l4 4l-2 3.9h-4l-2 -3.9zM192.5 438.9l4 4l-2 3.9h-4l-2 -3.9zM198.8 438.7l4 4l-2 3.9h-4l-2 -3.9zM205.0 437.6l4 4l-2 3.9h-4l-2 -3.9zM211.3 436.0l4 4l-2 3.9h-4l-2 -3.9zM217.5 434.4l4 4l-2 3.9h-4l-2 -3.9zM223.8 433.3l4 4l-2 3.9h-4l-2 -3.9zM230.0 430.7l4 4l-2 3.9h-4l-2 -3.9zM236.3 428.6l4 4l-2 3.9h-4l-2 -3.9zM242.5 424.7l4 4l-2 3.9h-4l-2 -3.9zM248.8 419.1l4 4l-2 3.9h-4l-2 -3.9zM255.0 415.4l4 4l-2 3.9h-4l-2 -3.9zM261.3 408.2l4 4l-2 3.9h-4l-2 -3.9zM267.5 402.6l4 4l-2 3.9h-4l-2 -3.9zM273.8 396.1l4 4l-2 3.9h-4l-2 -3.9zM280.0 387.2l4 4l-2 3.9h-4l-2 -3.9zM286.3 382.4l4 4l-2 3.9h-4l-2 -3.9zM292.5 375.9l4 4l-2 3.9h-4l-2 -3.9zM298.8 369.7l4 4l-2 3.9h-4l-2 -3.9zM305.0 364.7l4 4l-2 3.9h-4l-2 -3.9zM311.3 361.5l4 4l-2 3.9h-4l-2 -3.9zM317.5 359.4l4 4l-2 3.9h-4l-2 -3.9zM323.8 360.5l4 4l-2 3.9h-4l-2 -3.9zM330.0 362.7l4 4l-2 3.9h-4l-2 -3.9zM336.3 367.7l4 4l-2 3.9h-4l-2 -3.9zM342.5 372.4l4 4l-2 3.9h-4l-2 -3.9zM348.8 380.9l4 4l-2 3.9h-4l-2 -3.9zM355.0 388.4l4 4l-2 3.9h-4l-2 -3.9zM361.3 395.9l4 4l-2 3.9h-4l-2 -3.9zM367.5 403.2l4 4l-2 3.9h-4l-2 -3.9zM373.8 411.1l4 4l-2 3.9h-4l-2 -3.9zM380.1 415.1l4 4l-2 3.9h-4l-2 -3.9zM386.3 422.5l4 4l-2 3.9h-4l-2 -3.9zM392.6 426.6l4 4l-2 3.9h-4l-2 -3.9zM398.8 430.1l4 4l-2 3.9h-4l-2 -3.9zM405.1 432.7l4 4l-2 3.9h-4l-2 -3.9zM411.3 433.5l4 4l-2 3.9h-4l-2 -3.9zM417.6 435.2l4 4l-2 3.9h-4l-2 -3.9zM423.8 436.8l4 4l-2 3.9h-4l-2 -3.9zM430.1 437.0l4 4l-2 3.9h-4l-2 -3.9zM436.3 437.0l4 4l-2 3.9h-4l-2 -3.9zM442.6 435.2l4 4l-2 3.9h-4l-2 -3.9zM448.8 436.9l4 4l-2 3.9h-4l-2 -3.9zM455.1 436.9l4 4l-2 3.9h-4l-2 -3.9zM461.3 435.5l4 4l-2 3.9h-4l-2 -3.9zM467.6 432.7l4 4l-2 3.9h-4l-2 -3.9zM473.8 427.5l4 4l-2 3.9h-4l-2 -3.9zM480.1 424.5l4 4l-2 3.9h-4l-2 -3.9zM486.3 415.6l4 4l-2 3.9h-4l-2 -3.9zM492.6 404.5l4 4l-2 3.9h-4l-2 -3.9zM498.8 401.6l4 4l-2 3.9h-4l-2 -3.9zM505.1 397.0l4 4l-2 3.9h-4l-2 -3.9zM511.3 393.2l4 4l-2 3.9h-4l-2 -3.9zM517.6 388.5l4 4l-2 3.9h-4l-2 -3.9zM523.8 392.1l4 4l-2 3.9h-4l-2 -3.9zM530.1 403.4l4 4l-2 3.9h-4l-2 -3.9zM536.3 421.8l4 4l-2 3.9h-4l-2 -3.9zM542.6 437.3l4 4l-2 3.9h-4l-2 -3.9zM548.8 444.7l4 4l-2 3.9h-4l-2 -3.9zM555.1 445.9l4 4l-2 3.9h-4l-2 -3.9zM561.3 446.6l4 4l-2 3.9h-4l-2 -3.9zM567.6 445.8l4 4l-2 3.9h-4l-2 -3.9zM573.8 446.4l4 4l-2 3.9h-4l-2 -3.9zM580.1 447.6l4 4l-2 3.9h-4l-2 -3.9zM586.3 447.5l4 4l-2 3.9h-4l-2 -3.9zM592.6 447.3l4 4l-2 3.9h-4l-2 -3.9zM598.8 448.2l4 4l-2 3.9h-4l-2 -3.9zM605.1 446.4l4 4l-2 3.9h-4l-2 -3.9zM611.3 447.1l4 4l-2 3.9h-4l-2 -3.9zM617.6 447.9l4 4l-2 3.9h-4l-2 -3.9zM623.8 447.8l4 4l-2 3.9h-4l-2 -3.9zM630.1 448.3l4 4l-2 3.9h-4l-2 -3.9zM636.3 447.6l4 4l-2 3.9h-4l-2 -3.9zM642.6 446.9l4 4l-2 3.9h-4l-2 -3.9zM648.8 447.6l4 4l-2 3.9h-4l-2 -3.9zM655.1 446.3l4 4l-2 3.9h-4l-2 -3.9zM661.3 445.6l4 4l-2 3.9h-4l-2 -3.9zM667.6 447.9l4 4l-2 3.9h-4l-2 -3.9zM673.8 447.2l4 4l-2 3.9h-4l-2 -3.9zM680.1 447.6l4 4l-2 3.9h-4l-2 -3.9zM686.3 445.6l4 4l-2 3.9h-4l-2 -3.9zM692.6 446.9l4 4l-2 3.9h-4l-2 -3.9z" fill="#ff8000"/>
<polyline points="67.5,446.4 73.8,446.1 80.0,444.7 86.3,446.6 92.5,447.8 98.8,447.3 105.0,446.3 111.3,446.9 117.5,447.6 123.8,444.1 130.0,446.7 136.3,447.3 142.5,447.4 148.8,448.4 155.0,447.8 161.3,446.9 167.5,446.8 173.8,447.2 180.0,445.8 186.3,446.1 192.5,446.8 198.8,447.5 205.0,444.9 211.3,444.4 217.5,443.8 223.8,443.8 230.0,441.0 236.3,440.7 242.5,436.0 248.8,434.0 255.0,430.9 261.3,428.2 267.5,424.5 273.8,417.7 280.0,413.8 286.3,410.7 292.5,405.6 298.8,401.1 305.0,400.7 311.3,398.1 317.5,397.1 323.8,396.4 330.0,399.5 336.3,401.0 342.5,406.0 348.8,408.4 355.0,413.3 361.3,419.2 367.5,423.0 373.8,428.7 380.1,432.1 386.3,434.1 392.6,437.7 398.8,439.3 405.1,442.0 411.3,441.5 417.6,442.4 423.8,444.4 430.1,445.7 436.3,445.5 442.6,443.5 448.8,443.5 455.1,444.5 461.3,442.2 467.6,440.2 473.8,439.3 480.1,436.3 486.3,430.2 492.6,424.0 498.8,420.7 505.1,421.1 511.3,417.2 517.6,414.5 523.8,415.9 530.1,424.5 536.3,434.7 542.6,444.4 548.8,447.8 555.1,450.1 561.3,450.0 567.6,452.3 573.8,451.2 580.1,450.5 586.3,450.9 592.6,451.0 598.8,451.9 605.1,449.6 611.3,450.2 617.6,450.9 623.8,453.8 630.1,452.2 636.3,451.1 642.6,452.0 648.8,453.3 655.1,451.0 661.3,450.9 667.6,452.5 673.8,451.8 680.1,452.0 686.3,450.8 692.6,453.2" fill="none" stroke="#000080" stroke-width="1.5" stroke-linejoin="round"/>
<path d="M67.5 442.4l4 4l-2 3.9h-4l-2 -3.9zM73.8 442.1l4 4l-2 3.9h-4l-2 -3.9zM80.0 440.7l4 4l-2 3.9h-4l-2 -3.9zM86.3 442.6l4 4l-2 3.9h-4l-2 -3.9zM92.5 443.8l4 4l-2 3.9h-4l-2 -3.9zM98.8 443.3l4 4l-2 3.9h-4l-2 -3.9zM105.0 442.3l4 4l-2 3.9h-4l-2 -3.9zM111.3 442.9l4 4l-2 3.9h-4l-2 -3.9zM117.5 443.6l4 4l-2 3.9h-4l-2 -3.9zM123.8 440.1l4 4l-2 3.9h-4l-2 -3.9zM130.0 442.7l4 4l-2 3.9h-4l-2 -3.9zM136.3 443.3l4 4l-2 3.9h-4l-2 -3.9zM142.5 443.4l4 4l-2 3.9h-4l-2 -3.9zM148.8 444.4l4 4l-2 3.9h-4l-2 -3.9zM155.0 443.8l4 4l-2 3.9h-4l-2 -3.9zM161.3 442.9l4 4l-2 3.9h-4l-2 -3.9zM167.5 442.8l4 4l-2 3.9h-4l-2 -3.9zM173.8 443.2l4 4l-2 3.9h-4l-2 -3.9zM180.0 441.8l4 4l-2 3.9h-4l-2 -3.9zM186.3 442.1l4 4l-2 3.9h-4l-2 -3.9zM192.5 442.8l4 4l-2 3.9h-4l-2 -3.9zM198.8 443.5l4 4l-2 3.9h-4l-2 -3.9zM205.0 440.9l4 4l-2 3.9h-4l-2 -3.9zM211.3 440.4l4 4l-2 3.9h-4l-2 -3.9zM217.5 439.8l4 4l-2 3.9h-4l-2 -3.9zM223.8 439.8l4 4l-2 3.9h-4l-2 -3.9zM230.0 437.0l4 4l-2 3.9h-4l-2 -3.9zM236.3 436.7l4 4l-2 3.9h-4l-2 -3.9zM242.5 432.0l4 4l-2 3.9h-4l-2 -3.9zM248.8 430.0l4 4l-2 3.9h-4l-2 -3.9zM255.0 426.9l4 4l-2 3.9h-4l-2 -3.9zM261.3 424.2l4 4l-2 3.9h-4l-2 -3.9zM267.5 420.5l4 4l-2 3.9h-4l-2 -3.9zM273.8 413.7l4 4l-2 3.9h-4l-2 -3.9zM280.0 409.8l4 4l-2 3.9h-4l-2 -3.9zM286.3 406.7l4 4l-2 3.9h-4l-2 -3.9zM292.5 401.6l4 4l-2 3.9h-4l-2 -3.9zM298.8 397.1l4 4l-2 3.9h-4l-2 -3.9zM305.0 396.7l4 4l-2 3.9h-4l-2 -3.9zM311.3 394.1l4 4l-2 3.9h-4l-2 -3.9zM317.5 393.1l4 4l-2 3.9h-4l-2 -3.9zM323.8 392.4l4 4l-2 3.9h-4l-2 -3.9zM330.0 395.5l4 4l-2 3.9h-4l-2 -3.9zM336.3 397.0l4 4l-2 3.9h-4l-2 -3.9zM342.5 402.0l4 4l-2 3.9h-4l-2 -3.9zM348.8 404.4l4 4l-2 3.9h-4l-2 -3.9zM355.0 409.3l4 4l-2 3.9h-4l-2 -3.9zM361.3 415.2l4 4l-2 3.9h-4l-2 -3.9zM367.5 419.0l4 4l-2 3.9h-4l-2 -3.9zM373.8 424.7l4 4l-2 3.9h-4l-2 -3.9zM380.1 428.1l4 4l-2 3.9h-4l-2 -3.9zM386.3 430.1l4 4l-2 3.9h-4l-2 -3.9zM392.6 433.7l4 4l-2 3.9h-4l-2 -3.9zM398.8 435.3l4 4l-2 3.9h-4l-2 -3.9zM405.1 438.0l4 4l-2 3.9h-4l-2 -3.9zM411.3 437.5l4 4l-2 3.9h-4l-2 -3.9zM417.6 438.4l4 4l-2 3.9h-4l-2 -3.9zM423.8 440.4l4 4l-2 3.9h-4l-2 -3.9zM430.1 441.7l4 4l-2 3.9h-4l-2 -3.9zM436.3 441.5l4 4l-2 3.9h-4l-2 -3.9zM442.6 439.5l4 4l-2 3.9h-4l-2 -3.9zM448.8 439.5l4 4l-2 3.9h-4l-2 -3.9zM455.1 440.5l4 4l-2 3.9h-4l-2 -3.9zM461.3 438.2l4 4l-2 3.9h-4l-2 -3.9zM467.6 436.2l4 4l-2 3.9h-4l-2 -3.9zM473.8 435.3l4 4l-2 3.9h-4l-2 -3.9zM480.1 432.3l4 4l-2 3.9h-4l-2 -3.9zM486.3 426.2l4 4l-2 3.9h-4l-2 -3.9zM492.6 420.0l4 4l-2 3.9h-4l-2 -3.9zM498.8 416.7l4 4l-2 3.9h-4l-2 -3.9zM505.1 417.1l4 4l-2 3.9h-4l-2 -3.9zM511.3 413.2l4 4l-2 3.9h-4l-2 -3.9zM517.6 410.5l4 4l-2 3.9h-4l-2 -3.9zM523.8 411.9l4 4l-2 3.9h-4l-2 -3.9zM530.1 420.5l4 4l-2 3.9h-4l-2 -3.9zM536.3 430.7l4 4l-2 3.9h-4l-2 -3.9zM542.6 440.4l4 4l-2 3.9h-4l-2 -3.9zM548.8 443.8l4 4l-2 3.9h-4l-2 -3.9zM555.1 446.1l4 4l-2 3.9h-4l-2 -3.9zM561.3 446.0l4 4l-2 3.9h-4l-2 -3.9zM567.6 448.3l4 4l-2 3.9h-4l-2 -3.9zM573.8 447.2l4 4l-2 3.9h-4l-2 -3.9zM580.1 446.5l4 4l-2 3.9h-4l-2 -3.9zM586.3 446.9l4 4l-2 3.9h-4l-2 -3.9zM592.6 447.0l4 4l-2 3.9h-4l-2 -3.9zM598.8 447.9l4 4l-2 3.9h-4l-2 -3.9zM605.1 445.6l4 4l-2 3.9h-4l-2 -3.9zM611.3 446.2l4 4l-2 3.9h-4l-2 -3.9zM617.6 446.9l4 4l-2 3.9h-4l-2 -3.9zM623.8 449.8l4 4l-2 3.9h-4l-2 -3.9zM630.1 448.2l4 4l-2 3.9h-4l-2 -3.9zM636.3 447.1l4 4l-2 3.9h-4l-2 -3.9zM642.6 448.0l4 4l-2 3.9h-4l-2 -3.9zM648.8 449.3l4 4l-2 3.9h-4l-2 -3.9zM655.1 447.0l4 4l-2 3.9h-4l-2 -3.9zM661.3 446.9l4 4l-2 3.9h-4l-2 -3.9zM667.6 448.5l4 4l-2 3.9h-4l-2 -3.9zM673.8 447.8l4 4l-2 3.9h-4l-2 -3.9zM680.1 448.0l4 4l-2 3.9h-4l-2 -3.9zM686.3 446.8l4 4l-2 3.9h-4l-2 -3.9zM692.6 449.2l4 4l-2 3.9h-4l-2 -3.9z" fill="#000080"/>
<polyline points="67.5,451.0 73.8,450.0 80.0,450.1 86.3,447.7 92.5,450.0 98.8,449.3 105.0,449.8 111.3,450.1 117.5,449.1 123.8,447.9 130.0,449.7 136.3,448.7 142.5,449.1 148.8,448.8 155.0,449.0 161.3,447.2 167.5,450.3 173.8,449.4 180.0,450.1 186.3,450.8 192.5,448.9 198.8,447.1 205.0,447.6 211.3,447.0 217.5,447.2 223.8,447.1 230.0,444.4 236.3,445.5 242.5,442.6 248.8,442.7 255.0,440.6 261.3,438.5 267.5,436.5 273.8,433.7 280.0,431.2 286.3,427.8 292.5,427.0 298.8,426.7 305.0,425.2 311.3,423.5 317.5,422.4 323.8,421.2 330.0,424.0 336.3,424.1 342.5,426.1 348.8,428.3 355.0,431.2 361.3,433.3 367.5,436.1 373.8,437.5 380.1,440.1 386.3,444.1 392.6,443.3 398.8,444.1 405.1,445.5 411.3,446.0 417.6,444.6 423.8,445.6 430.1,446.6 436.3,446.1 442.6,445.9 448.8,447.2 455.1,445.1 461.3,445.6 467.6,444.6 473.8,445.4 480.1,440.7 486.3,439.3 492.6,436.7 498.8,435.9 505.1,435.0 511.3,434.4 517.6,430.0 523.8,432.7 530.1,436.2 536.3,441.9 542.6,447.8 548.8,449.0 555.1,449.0 561.3,450.8 567.6,449.9 573.8,450.7 580.1,451.6 586.3,451.5 592.6,452.7 598.8,451.1 605.1,449.9 611.3,450.6 617.6,450.4 623.8,450.2 630.1,451.7 636.3,450.7 642.6,449.5 648.8,451.9 655.1,451.2 661.3,451.6 667.6,451.4 673.8,451.9 680.1,451.3 686.3,452.4 692.6,451.7" fill="none" stroke="#800080" stroke-width="1.5" stroke-linejoin="round"/>
<path d="M67.5 447.0l4 4l-2 3.9h-4l-2 -3.9zM73.8 446.0l4 4l-2 3.9h-4l-2 -3.9zM80.0 446.1l4 4l-2 3.9h-4l-2 -3.9zM86.3 443.7l4 4l-2 3.9h-4l-2 -3.9zM92.5 446.0l4 4l-2 3.9h-4l-2 -3.9zM98.8 445.3l4 4l-2 3.9h-4l-2 -3.9zM105.0 445.8l4 4l-2 3.9h-4l-2 -3.9zM111.3 446.1l4 4l-2 3.9h-4l-2 -3.9zM117.5 445.1l4 4l-2 3.9h-4l-2 -3.9zM123.8 443.9l4 4l-2 3.9h-4l-2 -3.9zM130.0 445.7l4 4l-2 3.9h-4l-2 -3.9zM136.3 444.7l4 4l-2 3.9h-4l-2 -3.9zM142.5 445.1l4 4l-2 3.9h-4l-2 -3.9zM148.8 444.8l4 4l-2 3.9h-4l-2 -3.9zM155.0 445.0l4 4l-2 3.9h-4l-2 -3.9zM161.3 443.2l4 4l-2 3.9h-4l-2 -3.9zM167.5 446.3l4 4l-2 3.9h-4l-2 -3.9zM173.8 445.4l4 4l-2 3.9h-4l-2 -3.9zM180.0 446.1l4 4l-2 3.9h-4l-2 -3.9zM186.3 446.8l4 4l-2 3.9h-4l-2 -3.9zM192.5 444.9l4 4l-2 3.9h-4l-2 -3.9zM198.8 443.1l4 4l-2 3.9h-4l-2 -3.9zM205.0 443.6l4 4l-2 3.9h-4l-2 -3.9zM211.3 443.0l4 4l-2 3.9h-4l-2 -3.9zM217.5 443.2l4 4l-2 3.9h-4l-2 -3.9zM223.8 443.1l4 4l-2 3.9h-4l-2 -3.9zM230.0 440.4l4 4l-2 3.9h-4l-2 -3.9zM236.3 441.5l4 4l-2 3.9h-4l-2 -3.9zM242.5 438.6l4 4l-2 3.9h-4l-2 -3.9zM248.8 438.7l4 4l-2 3.9h-4l-2 -3.9zM255.0 436.6l4 4l-2 3.9h-4l-2 -3.9zM261.3 434.5l4 4l-2 3.9h-4l-2 -3.9zM267.5 432.5l4 4l-2 3.9h-4l-2 -3.9zM273.8 429.7l4 4l-2 3.9h-4l-2 -3.9zM280.0 427.2l4 4l-2 3.9h-4l-2 -3.9zM286.3 423.8l4 4l-2 3.9h-4l-2 -3.9zM292.5 423.0l4 4l-2 3.9h-4l-2 -3.9zM298.8 422.7l4 4l-2 3.9h-4l-2 -3.9zM305.0 421.2l4 4l-2 3.9h-4l-2 -3.9zM311.3 419.5l4 4l-2 3.9h-4l-2 -3.9zM317.5 418.4l4 4l-2 3.9h-4l-2 -3.9zM323.8 417.2l4 4l-2 3.9h-4l-2 -3.9zM330.0 420.0l4 4l-2 3.9h-4l-2 -3.9zM336.3 420.1l4 4l-2 3.9h-4l-2 -3.9zM342.5 422.1l4 4l-2 3.9h-4l-2 -3.9zM348.8 424.3l4 4l-2 3.9h-4l-2 -3.9zM355.0 427.2l4 4l-2 3.9h-4l-2 -3.9zM361.3 429.3l4 4l-2 3.9h-4l-2 -3.9zM367.5 432.1l4 4l-2 3.9h-4l-2 -3.9zM373.8 433.5l4 4l-2 3.9h-4l-2 -3.9zM380.1 436.1l4 4l-2 3.9h-4l-2 -3.9zM386.3 440.1l4 4l-2 3.9h-4l-2 -3.9zM392.6 439.3l4 4l-2 3.9h-4l-2 -3.9zM398.8 440.1l4 4l-2 3.9h-4l-2 -3.9zM405.1 441.5l4 4l-2 3.9h-4l-2 -3.9zM411.3 442.0l4 4l-2 3.9h-4l-2 -3.9zM417.6 440.6l4 4l-2 3.9h-4l-2 -3.9zM423.8 441.6l4 4l-2 3.9h-4l-2 -3.9zM430.1 442.6l4 4l-2 3.9h-4l-2 -3.9zM436.3 442.1l4 4l-2 3.9h-4l-2 -3.9zM442.6 441.9l4 4l-2 3.9h-4l-2 -3.9zM448.8 443.2l4 4l-2 3.9h-4l-2 -3.9zM455.1 441.1l4 4l-2 3.9h-4l-2 -3.9zM461.3 441.6l4 4l-2 3.9h-4l-2 -3.9zM467.6 440.6l4 4l-2 3.9h-4l-2 -3.9zM473.8 441.4l4 4l-2 3.9h-4l-2 -3.9zM480.1 436.7l4 4l-2 3.9h-4l-2 -3.9zM486.3 435.3l4 4l-2 3.9h-4l-2 -3.9zM492.6 432.7l4 4l-2 3.9h-4l-2 -3.9zM498.8 431.9l4 4l-2 3.9h-4l-2 -3.9zM505.1 431.0l4 4l-2 3.9h-4l-2 -3.9zM511.3 430.4l4 4l-2 3.9h-4l-2 -3.9zM517.6 426.0l4 4l-2 3.9h-4l-2 -3.9zM523.8 428.7l4 4l-2 3.9h-4l-2 -3.9zM530.1 432.2l4 4l-2 3.9h-4l-2 -3.9zM536.3 437.9l4 4l-2 3.9h-4l-2 -3.9zM542.6 443.8l4 4l-2 3.9h-4l-2 -3.9zM548.8 445.0l4 4l-2 3.9h-4l-2 -3.9zM555.1 445.0l4 4l-2 3.9h-4l-2 -3.9zM561.3 446.8l4 4l-2 3.9h-4l-2 -3.9zM567.6 445.9l4 4l-2 3.9h-4l-2 -3.9zM573.8 446.7l4 4l-2 3.9h-4l-2 -3.9zM580.1 447.6l4 4l-2 3.9h-4l-2 -3.9zM586.3 447.5l4 4l-2 3.9h-4l-2 -3.9zM592.6 448.7l4 4l-2 3.9h-4l-2 -3.9zM598.8 447.1l4 4l-2 3.9h-4l-2 -3.9zM605.1 445.9l4 4l-2 3.9h-4l-2 -3.9zM611.3 446.6l4 4l-2 3.9h-4l-2 -3.9zM617.6 446.4l4 4l-2 3.9h-4l-2 -3.9zM623.8 446.2l4 4l-2 3.9h-4l-2 -3.9zM630.1 447.7l4 4l-2 3.9h-4l-2 -3.9zM636.3 446.7l4 4l-2 3.9h-4l-2 -3.9zM642.6 445.5l4 4l-2 3.9h-4l-2 -3.9zM648.8 447.9l4 4l-2 3.9h-4l-2 -3.9zM655.1 447.2l4 4l-2 3.9h-4l-2 -3.9zM661.3 447.6l4 4l-2 3.9h-4l-2 -3.9zM667.6 447.4l4 4l-2 3.9h-4l-2 -3.9zM673.8 447.9l4 4l-2 3.9h-4l-2 -3.9zM680.1 447.3l4 4l-2 3.9h-4l-2 -3.9zM686.3 448.4l4 4l-2 3.9h-4l-2 -3.9zM692.6 447.7l4 4l-2 3.9h-4l-2 -3.9z" fill="#800080"/>
<polyline points="67.5,450.3 73.8,450.3 80.0,448.6 86.3,449.8 92.5,449.7 98.8,450.1 105.0,448.7 111.3,451.4 117.5,450.0 123.8,448.8 130.0,448.4 136.3,449.6 142.5,449.8 148.8,449.2 155.0,450.0 161.3,449.3 167.5,450.4 173.8,449.2 180.0,449.9 186.3,450.8 192.5,452.2 198.8,449.0 205.0,449.4 211.3,449.1 217.5,450.5 223.8,448.8 230.0,449.3 236.3,449.7 242.5,448.8 248.8,448.8 255.0,449.1 261.3,447.6 267.5,448.1 273.8,449.0 280.0,449.4 286.3,449.0 292.5,447.5 298.8,448.6 305.0,449.7 311.3,449.5 317.5,448.9 323.8,448.2 330.0,449.6 336.3,448.6 342.5,448.2 348.8,448.6 355.0,450.7 361.3,449.6 367.5,450.4 373.8,448.9 380.1,450.1 386.3,448.5 392.6,448.7 398.8,450.8 405.1,449.0 411.3,447.5 417.6,447.6 423.8,447.8 430.1,448.4 436.3,446.8 442.6,445.7 448.8,447.2 455.1,447.6 461.3,447.9 467.6,449.1 473.8,448.4 480.1,448.8 486.3,446.9 492.6,448.4 498.8,449.5 505.1,448.3 511.3,447.8 517.6,447.6 523.8,449.3 530.1,447.7 536.3,449.6 542.6,451.0 548.8,451.7 555.1,450.8 561.3,451.6 567.6,451.0 573.8,451.4 580.1,451.2 586.3,450.3 592.6,451.3 598.8,452.1 605.1,450.4 611.3,451.1 617.6,451.9 623.8,450.3 630.1,451.5 636.3,450.3 642.6,452.3 648.8,453.4 655.1,453.1 661.3,451.1 667.6,452.0 673.8,451.4 680.1,451.4 686.3,452.7 692.6,450.1" fill="none" stroke="#800000" stroke-width="1.5" stroke-linejoin="round"/>
<path d="M67.5 446.3l4 4l-2 3.9h-4l-2 -3.9zM73.8 446.3l4 4l-2 3.9h-4l-2 -3.9zM80.0 444.6l4 4l-2 3.9h-4l-2 -3.9zM86.3 445.8l4 4l-2 3.9h-4l-2 -3.9zM92.5 445.7l4 4l-2 3.9h-4l-2 -3.9zM98.8 446.1l4 4l-2 3.9h-4l-2 -3.9zM105.0 444.7l4 4l-2 3.9h-4l-2 -3.9zM111.3 447.4l4 4l-2 3.9h-4l-2 -3.9zM117.5 446.0l4 4l-2 3.9h-4l-2 -3.9zM123.8 444.8l4 4l-2 3.9h-4l-2 -3.9zM130.0 444.4l4 4l-2 3.9h-4l-2 -3.9zM136.3 445.6l4 4l-2 3.9h-4l-2 -3.9zM142.5 445.8l4 4l-2 3.9h-4l-2 -3.9zM148.8 445.2l4 4l-2 3.9h-4l-2 -3.9zM155.0 446.0l4 4l-2 3.9h-4l-2 -3.9zM161.3 445.3l4 4l-2 3.9h-4l-2 -3.9zM167.5 446.4l4 4l-2 3.9h-4l-2 -3.9zM173.8 445.2l4 4l-2 3.9h-4l-2 -3.9zM180.0 445.9l4 4l-2 3.9h-4l-2 -3.9zM186.3 446.8l4 4l-2 3.9h-4l-2 -3.9zM192.5 448.2l4 4l-2 3.9h-4l-2 -3.9zM198.8 445.0l4 4l-2 3.9h-4l-2 -3.9zM205.0 445.4l4 4l-2 3.9h-4l-2 -3.9zM211.3 445.1l4 4l-2 3.9h-4l-2 -3.9zM217.5 446.5l4 4l-2 3.9h-4l-2 -3.9zM223.8 444.8l4 4l-2 3.9h-4l-2 -3.9zM230.0 445.3l4 4l-2 3.9h-4l-2 -3.9zM236.3 445.7l4 4l-2 3.9h-4l-2 -3.9zM242.5 444.8l4 4l-2 3.9h-4l-2 -3.9zM248.8 444.8l4 4l-2 3.9h-4l-2 -3.9zM255.0 445.1l4 4l-2 3.9h-4l-2 -3.9zM261.3 443.6l4 4l-2 3.9h-4l-2 -3.9zM267.5 444.1l4 4l-2 3.9h-4l-2 -3.9zM273.8 445.0l4 4l-2 3.9h-4l-2 -3.9zM280.0 445.4l4 4l-2 3.9h-4l-2 -3.9zM286.3 445.0l4 4l-2 3.9h-4l-2 -3.9zM292.5 443.5l4 4l-2 3.9h-4l-2 -3.9zM298.8 444.6l4 4l-2 3.9h-4l-2 -3.9zM305.0 445.7l4 4l-2 3.9h-4l-2 -3.9zM311.3 445.5l4 4l-2 3.9h-4l-2 -3.9zM317.5 444.9l4 4l-2 3.9h-4l-2 -3.9zM323.8 444.2l4 4l-2 3.9h-4l-2 -3.9zM330.0 445.6l4 4l-2 3.9h-4l-2 -3.9zM336.3 444.6l4 4l-2 3.9h-4l-2 -3.9zM342.5 444.2l4 4l-2 3.9h-4l-2 -3.9zM348.8 444.6l4 4l-2 3.9h-4l-2 -3.9zM355.0 446.7l4 4l-2 3.9h-4l-2 -3.9zM361.3 445.6l4 4l-2 3.9h-4l-2 -3.9zM367.5 446.4l4 4l-2 3.9h-4l-2 -3.9zM373.8 444.9l4 4l-2 3.9h-4l-2 -3.9zM380.1 446.1l4 4l-2 3.9h-4l-2 -3.9zM386.3 444.5l4 4l-2 3.9h-4l-2 -3.9zM392.6 444.7l4 4l-2 3.9h-4l-2 -3.9zM398.8 446.8l4 4l-2 3.9h-4l-2 -3.9zM405.1 445.0l4 4l-2 3.9h-4l-2 -3.9zM411.3 443.5l4 4l-2 3.9h-4l-2 -3.9zM417.6 443.6l4 4l-2 3.9h-4l-2 -3.9zM423.8 443.8l4 4l-2 3.9h-4l-2 -3.9zM430.1 444.4l4 4l-2 3.9h-4l-2 -3.9zM436.3 442.8l4 4l-2 3.9h-4l-2 -3.9zM442.6 441.7l4 4l-2 3.9h-4l-2 -3.9zM448.8 443.2l4 4l-2 3.9h-4l-2 -3.9zM455.1 443.6l4 4l-2 3.9h-4l-2 -3.9zM461.3 443.9l4 4l-2 3.9h-4l-2 -3.9zM467.6 445.1l4 4l-2 3.9h-4l-2 -3.9zM473.8 444.4l4 4l-2 3.9h-4l-2 -3.9zM480.1 444.8l4 4l-2 3.9h-4l-2 -3.9zM486.3 442.9l4 4l-2 3.9h-4l-2 -3.9zM492.6 444.4l4 4l-2 3.9h-4l-2 -3.9zM498.8 445.5l4 4l-2 3.9h-4l-2 -3.9zM505.1 444.3l4 4l-2 3.9h-4l-2 -3.9zM511.3 443.8l4 4l-2 3.9h-4l-2 -3.9zM517.6 443.6l4 4l-2 3.9h-4l-2 -3.9zM523.8 445.3l4 4l-2 3.9h-4l-2 -3.9zM530.1 443.7l4 4l-2 3.9h-4l-2 -3.9zM536.3 445.6l4 4l-2 3.9h-4l-2 -3.9zM542.6 447.0l4 4l-2 3.9h-4l-2 -3.9zM548.8 447.7l4 4l-2 3.9h-4l-2 -3.9zM555.1 446.8l4 4l-2 3.9h-4l-2 -3.9zM561.3 447.6l4 4l-2 3.9h-4l-2 -3.9zM567.6 447.0l4 4l-2 3.9h-4l-2 -3.9zM573.8 447.4l4 4l-2 3.9h-4l-2 -3.9zM580.1 447.2l4 4l-2 3.9h-4l-2 -3.9zM586.3 446.3l4 4l-2 3.9h-4l-2 -3.9zM592.6 447.3l4 4l-2 3.9h-4l-2 -3.9zM598.8 448.1l4 4l-2 3.9h-4l-2 -3.9zM605.1 446.4l4 4l-2 3.9h-4l-2 -3.9zM611.3 447.1l4 4l-2 3.9h-4l-2 -3.9zM617.6 447.9l4 4l-2 3.9h-4l-2 -3.9zM623.8 446.3l4 4l-2 3.9h-4l-2 -3.9zM630.1 447.5l4 4l-2 3.9h-4l-2 -3.9zM636.3 446.3l4 4l-2 3.9h-4l-2 -3.9zM642.6 448.3l4 4l-2 3.9h-4l-2 -3.9zM648.8 449.4l4 4l-2 3.9h-4l-2 -3.9zM655.1 449.1l4 4l-2 3.9h-4l-2 -3.9zM661.3 447.1l4 4l-2 3.9h-4l-2 -3.9zM667.6 448.0l4 4l-2 3.9h-4l-2 -3.9zM673.8 447.4l4 4l-2 3.9h-4l-2 -3.9zM680.1 447.4l4 4l-2 3.9h-4l-2 -3.9zM686.3 448.7l4 4l-2 3.9h-4l-2 -3.9zM692.6 446.1l4 4l-2 3.9h-4l-2 -3.9z" fill="#800000"/>
</g>
<g>
<polyline points="750.7,453.1 756.9,452.4 763.2,453.4 769.4,452.5 775.7,451.9 781.9,452.6 788.2,452.9 794.4,452.4 800.7,452.7 806.9,452.0 813.2,450.9 819.4,453.0 825.7,452.9 831.9,452.5 838.2,452.4 844.4,453.1 850.7,452.0 856.9,451.9 863.2,452.2 869.4,453.2 875.7,451.3 881.9,453.1 888.2,451.8 894.4,451.5 900.7,453.1 906.9,452.0 913.2,451.1 919.4,451.5 925.7,452.1 931.9,451.8 938.2,450.0 944.4,449.8 950.7,449.4 956.9,448.0 963.2,448.9 969.4,449.4 975.7,450.0 981.9,450.9 988.2,452.0 994.4,452.6 1000.7,452.5 1006.9,452.8 1013.2,454.0 1019.4,453.5 1025.7,454.0 1031.9,454.3 1038.2,453.9 1044.4,455.1 1050.7,452.9 1056.9,454.1 1063.2,453.3 1069.4,454.9 1075.6,454.8 1081.9,452.2 1088.1,452.9 1094.4,454.0 1100.6,454.1 1106.9,454.1 1113.1,453.5 1119.4,453.8 1125.6,453.9 1131.9,453.4 1138.1,454.1 1144.4,451.6 1150.6,453.4 1156.9,451.9 1163.1,452.7 1169.4,451.2 1175.6,450.0 1181.9,450.2 1188.1,449.0 1194.4,449.4 1200.6,449.7 1206.9,451.8 1213.1,453.0 1219.4,454.1 1225.6,453.8 1231.9,455.0 1238.1,454.5 1244.4,454.5 1250.6,455.1 1256.9,455.5 1263.1,454.5 1269.4,454.6 1275.6,454.7 1281.9,454.9 1288.1,454.3 1294.4,455.6 1300.6,454.6 1306.9,455.3 1313.1,454.4 1319.4,455.2 1325.6,455.2 1331.9,454.7 1338.1,456.4 1344.4,455.2 1350.6,456.2 1356.9,455.7 1363.1,454.5 1369.4,454.7 1375.6,455.3" fill="none" stroke="#000000" stroke-width="1.4" stroke-linejoin="round"/>
<path d="M747.4 453.1a3.3 3.3 0 1 0 6.6 0a3.3 3.3 0 1 0 -6.6 0zM753.6 452.4a3.3 3.3 0 1 0 6.6 0a3.3 3.3 0 1 0 -6.6 0zM759.9 453.4a3.3 3.3 0 1 0 6.6 0a3.3 3.3 0 1 0 -6.6 0zM766.1 452.5a3.3 3.3 0 1 0 6.6 0a3.3 3.3 0 1 0 -6.6 0zM772.4 451.9a3.3 3.3 0 1 0 6.6 0a3.3 3.3 0 1 0 -6.6 0zM778.6 452.6a3.3 3.3 0 1 0 6.6 0a3.3 3.3 0 1 0 -6.6 0zM784.9 452.9a3.3 3.3 0 1 0 6.6 0a3.3 3.3 0 1 0 -6.6 0zM791.1 452.4a3.3 3.3 0 1 0 6.6 0a3.3 3.3 0 1 0 -6.6 0zM797.4 452.7a3.3 3.3 0 1 0 6.6 0a3.3 3.3 0 1 0 -6.6 0zM803.6 452.0a3.3 3.3 0 1 0 6.6 0a3.3 3.3 0 1 0 -6.6 0zM809.9 450.9a3.3 3.3 0 1 0 6.6 0a3.3 3.3 0 1 0 -6.6 0zM816.1 453.0a3.3 3.3 0 1 0 6.6 0a3.3 3.3 0 1 0 -6.6 0zM822.4 452.9a3.3 3.3 0 1 0 6.6 0a3.3 3.3 0 1 0 -6.6 0zM828.6 452.5a3.3 3.3 0 1 0 6.6 0a3.3 3.3 0 1 0 -6.6 0zM834.9 452.4a3.3 3.3 0 1 0 6.6 0a3.3 3.3 0 1 0 -6.6 0zM841.1 453.1a3.3 3.3 0 1 0 6.6 0a3.3 3.3 0 1 0 -6.6 0zM847.4 452.0a3.3 3.3 0 1 0 6.6 0a3.3 3.3 0 1 0 -6.6 0zM853.6 451.9a3.3 3.3 0 1 0 6.6 0a3.3 3.3 0 1 0 -6.6 0zM859.9 452.2a3.3 3.3 0 1 0 6.6 0a3.3 3.3 0 1 0 -6.6 0zM866.1 453.2a3.3 3.3 0 1 0 6.6 0a3.3 3.3 0 1 0 -6.6 0zM872.4 451.3a3.3 3.3 0 1 0 6.6 0a3.3 3.3 0 1 0 -6.6 0zM878.6 453.1a3.3 3.3 0 1 0 6.6 0a3.3 3.3 0 1 0 -6.6 0zM884.9 451.8a3.3 3.3 0 1 0 6.6 0a3.3 3.3 0 1 0 -6.6 0zM891.1 451.5a3.3 3.3 0 1 0 6.6 0a3.3 3.3 0 1 0 -6.6 0zM897.4 453.1a3.3 3.3 0 1 0 6.6 0a3.3 3.3 0 1 0 -6.6 0zM903.6 452.0a3.3 3.3 0 1 0 6.6 0a3.3 3.3 0 1 0 -6.6 0zM909.9 451.1a3.3 3.3 0 1 0 6.6 0a3.3 3.3 0 1 0 -6.6 0zM916.1 451.5a3.3 3.3 0 1 0 6.6 0a3.3 3.3 0 1 0 -6.6 0zM922.4 452.1a3.3 3.3 0 1 0 6.6 0a3.3 3.3 0 1 0 -6.6 0zM928.6 451.8a3.3 3.3 0 1 0 6.6 0a3.3 3.3 0 1 0 -6.6 0zM934.9 450.0a3.3 3.3 0 1 0 6.6 0a3.3 3.3 0 1 0 -6.6 0zM941.1 449.8a3.3 3.3 0 1 0 6.6 0a3.3 3.3 0 1 0 -6.6 0zM947.4 449.4a3.3 3.3 0 1 0 6.6 0a3.3 3.3 0 1 0 -6.6 0zM953.6 448.0a3.3 3.3 0 1 0 6.6 0a3.3 3.3 0 1 0 -6.6 0zM959.9 448.9a3.3 3.3 0 1 0 6.6 0a3.3 3.3 0 1 0 -6.6 0zM966.1 449.4a3.3 3.3 0 1 0 6.6 0a3.3 3.3 0 1 0 -6.6 0zM972.4 450.0a3.3 3.3 0 1 0 6.6 0a3.3 3.3 0 1 0 -6.6 0zM978.6 450.9a3.3 3.3 0 1 0 6.6 0a3.3 3.3 0 1 0 -6.6 0zM984.9 452.0a3.3 3.3 0 1 0 6.6 0a3.3 3.3 0 1 0 -6.6 0zM991.1 452.6a3.3 3.3 0 1 0 6.6 0a3.3 3.3 0 1 0 -6.6 0zM997.4 452.5a3.3 3.3 0 1 0 6.6 0a3.3 3.3 0 1 0 -6.6 0zM1003.6 452.8a3.3 3.3 0 1 0 6.6 0a3.3 3.3 0 1 0 -6.6 0zM1009.9 454.0a3.3 3.3 0 1 0 6.6 0a3.3 3.3 0 1 0 -6.6 0zM1016.1 453.5a3.3 3.3 0 1 0 6.6 0a3.3 3.3 0 1 0 -6.6 0zM1022.4 454.0a3.3 3.3 0 1 0 6.6 0a3.3 3.3 0 1 0 -6.6 0zM1028.6 454.3a3.3 3.3 0 1 0 6.6 0a3.3 3.3 0 1 0 -6.6 0zM1034.9 453.9a3.3 3.3 0 1 0 6.6 0a3.3 3.3 0 1 0 -6.6 0zM1041.1 455.1a3.3 3.3 0 1 0 6.6 0a3.3 3.3 0 1 0 -6.6 0zM1047.4 452.9a3.3 3.3 0 1 0 6.6 0a3.3 3.3 0 1 0 -6.6 0zM1053.6 454.1a3.3 3.3 0 1 0 6.6 0a3.3 3.3 0 1 0 -6.6 0zM1059.9 453.3a3.3 3.3 0 1 0 6.6 0a3.3 3.3 0 1 0 -6.6 0zM1066.1 454.9a3.3 3.3 0 1 0 6.6 0a3.3 3.3 0 1 0 -6.6 0zM1072.3 454.8a3.3 3.3 0 1 0 6.6 0a3.3 3.3 0 1 0 -6.6 0zM1078.6 452.2a3.3 3.3 0 1 0 6.6 0a3.3 3.3 0 1 0 -6.6 0zM1084.8 452.9a3.3 3.3 0 1 0 6.6 0a3.3 3.3 0 1 0 -6.6 0zM1091.1 454.0a3.3 3.3 0 1 0 6.6 0a3.3 3.3 0 1 0 -6.6 0zM1097.3 454.1a3.3 3.3 0 1 0 6.6 0a3.3 3.3 0 1 0 -6.6 0zM1103.6 454.1a3.3 3.3 0 1 0 6.6 0a3.3 3.3 0 1 0 -6.6 0zM1109.8 453.5a3.3 3.3 0 1 0 6.6 0a3.3 3.3 0 1 0 -6.6 0zM1116.1 453.8a3.3 3.3 0 1 0 6.6 0a3.3 3.3 0 1 0 -6.6 0zM1122.3 453.9a3.3 3.3 0 1 0 6.6 0a3.3 3.3 0 1 0 -6.6 0zM1128.6 453.4a3.3 3.3 0 1 0 6.6 0a3.3 3.3 0 1 0 -6.6 0zM1134.8 454.1a3.3 3.3 0 1 0 6.6 0a3.3 3.3 0 1 0 -6.6 0zM1141.1 451.6a3.3 3.3 0 1 0 6.6 0a3.3 3.3 0 1 0 -6.6 0zM1147.3 453.4a3.3 3.3 0 1 0 6.6 0a3.3 3.3 0 1 0 -6.6 0zM1153.6 451.9a3.3 3.3 0 1 0 6.6 0a3.3 3.3 0 1 0 -6.6 0zM1159.8 452.7a3.3 3.3 0 1 0 6.6 0a3.3 3.3 0 1 0 -6.6 0zM1166.1 451.2a3.3 3.3 0 1 0 6.6 0a3.3 3.3 0 1 0 -6.6 0zM1172.3 450.0a3.3 3.3 0 1 0 6.6 0a3.3 3.3 0 1 0 -6.6 0zM1178.6 450.2a3.3 3.3 0 1 0 6.6 0a3.3 3.3 0 1 0 -6.6 0zM1184.8 449.0a3.3 3.3 0 1 0 6.6 0a3.3 3.3 0 1 0 -6.6 0zM1191.1 449.4a3.3 3.3 0 1 0 6.6 0a3.3 3.3 0 1 0 -6.6 0zM1197.3 449.7a3.3 3.3 0 1 0 6.6 0a3.3 3.3 0 1 0 -6.6 0zM1203.6 451.8a3.3 3.3 0 1 0 6.6 0a3.3 3.3 0 1 0 -6.6 0zM1209.8 453.0a3.3 3.3 0 1 0 6.6 0a3.3 3.3 0 1 0 -6.6 0zM1216.1 454.1a3.3 3.3 0 1 0 6.6 0a3.3 3.3 0 1 0 -6.6 0zM1222.3 453.8a3.3 3.3 0 1 0 6.6 0a3.3 3.3 0 1 0 -6.6 0zM1228.6 455.0a3.3 3.3 0 1 0 6.6 0a3.3 3.3 0 1 0 -6.6 0zM1234.8 454.5a3.3 3.3 0 1 0 6.6 0a3.3 3.3 0 1 0 -6.6 0zM1241.1 454.5a3.3 3.3 0 1 0 6.6 0a3.3 3.3 0 1 0 -6.6 0zM1247.3 455.1a3.3 3.3 0 1 0 6.6 0a3.3 3.3 0 1 0 -6.6 0zM1253.6 455.5a3.3 3.3 0 1 0 6.6 0a3.3 3.3 0 1 0 -6.6 0zM1259.8 454.5a3.3 3.3 0 1 0 6.6 0a3.3 3.3 0 1 0 -6.6 0zM1266.1 454.6a3.3 3.3 0 1 0 6.6 0a3.3 3.3 0 1 0 -6.6 0zM1272.3 454.7a3.3 3.3 0 1 0 6.6 0a3.3 3.3 0 1 0 -6.6 0zM1278.6 454.9a3.3 3.3 0 1 0 6.6 0a3.3 3.3 0 1 0 -6.6 0zM1284.8 454.3a3.3 3.3 0 1 0 6.6 0a3.3 3.3 0 1 0 -6.6 0zM1291.1 455.6a3.3 3.3 0 1 0 6.6 0a3.3 3.3 0 1 0 -6.6 0zM1297.3 454.6a3.3 3.3 0 1 0 6.6 0a3.3 3.3 0 1 0 -6.6 0zM1303.6 455.3a3.3 3.3 0 1 0 6.6 0a3.3 3.3 0 1 0 -6.6 0zM1309.8 454.4a3.3 3.3 0 1 0 6.6 0a3.3 3.3 0 1 0 -6.6 0zM1316.1 455.2a3.3 3.3 0 1 0 6.6 0a3.3 3.3 0 1 0 -6.6 0zM1322.3 455.2a3.3 3.3 0 1 0 6.6 0a3.3 3.3 0 1 0 -6.6 0zM1328.6 454.7a3.3 3.3 0 1 0 6.6 0a3.3 3.3 0 1 0 -6.6 0zM1334.8 456.4a3.3 3.3 0 1 0 6.6 0a3.3 3.3 0 1 0 -6.6 0zM1341.1 455.2a3.3 3.3 0 1 0 6.6 0a3.3 3.3 0 1 0 -6.6 0zM1347.3 456.2a3.3 3.3 0 1 0 6.6 0a3.3 3.3 0 1 0 -6.6 0zM1353.6 455.7a3.3 3.3 0 1 0 6.6 0a3.3 3.3 0 1 0 -6.6 0zM1359.8 454.5a3.3 3.3 0 1 0 6.6 0a3.3 3.3 0 1 0 -6.6 0zM1366.1 454.7a3.3 3.3 0 1 0 6.6 0a3.3 3.3 0 1 0 -6.6 0zM1372.3 455.3a3.3 3.3 0 1 0 6.6 0a3.3 3.3 0 1 0 -6.6 0z" fill="#000000"/>
<polyline points="750.7,450.7 756.9,450.7 763.2,450.5 769.4,449.4 775.7,450.5 781.9,449.1 788.2,450.9 794.4,450.2 800.7,450.2 806.9,450.5 813.2,450.8 819.4,449.6 825.7,449.4 831.9,449.9 838.2,449.2 844.4,449.9 850.7,451.7 856.9,449.8 863.2,450.9 869.4,449.5 875.7,450.6 881.9,450.1 888.2,450.2 894.4,450.6 900.7,451.2 906.9,449.9 913.2,449.5 919.4,448.1 925.7,448.2 931.9,446.2 938.2,445.0 944.4,442.2 950.7,441.3 956.9,437.5 963.2,439.0 969.4,441.7 975.7,443.3 981.9,445.4 988.2,447.7 994.4,448.4 1000.7,450.4 1006.9,452.6 1013.2,452.1 1019.4,450.8 1025.7,451.1 1031.9,451.5 1038.2,452.6 1044.4,451.4 1050.7,451.5 1056.9,452.6 1063.2,452.6 1069.4,451.8 1075.6,451.3 1081.9,451.0 1088.1,451.6 1094.4,450.5 1100.6,452.5 1106.9,451.5 1113.1,452.3 1119.4,453.2 1125.6,452.6 1131.9,450.8 1138.1,451.9 1144.4,451.7 1150.6,449.7 1156.9,448.4 1163.1,447.4 1169.4,444.3 1175.6,444.1 1181.9,439.3 1188.1,439.2 1194.4,440.5 1200.6,442.7 1206.9,445.6 1213.1,448.1 1219.4,449.7 1225.6,452.1 1231.9,450.7 1238.1,452.8 1244.4,452.7 1250.6,453.5 1256.9,453.7 1263.1,453.0 1269.4,453.3 1275.6,454.4 1281.9,454.1 1288.1,453.4 1294.4,455.4 1300.6,455.6 1306.9,453.0 1313.1,454.3 1319.4,455.8 1325.6,454.6 1331.9,454.3 1338.1,454.0 1344.4,453.8 1350.6,454.0 1356.9,453.8 1363.1,454.7 1369.4,453.9 1375.6,453.9" fill="none" stroke="#ff0000" stroke-width="1.4" stroke-linejoin="round"/>
<path d="M747.4 450.7a3.3 3.3 0 1 0 6.6 0a3.3 3.3 0 1 0 -6.6 0zM753.6 450.7a3.3 3.3 0 1 0 6.6 0a3.3 3.3 0 1 0 -6.6 0zM759.9 450.5a3.3 3.3 0 1 0 6.6 0a3.3 3.3 0 1 0 -6.6 0zM766.1 449.4a3.3 3.3 0 1 0 6.6 0a3.3 3.3 0 1 0 -6.6 0zM772.4 450.5a3.3 3.3 0 1 0 6.6 0a3.3 3.3 0 1 0 -6.6 0zM778.6 449.1a3.3 3.3 0 1 0 6.6 0a3.3 3.3 0 1 0 -6.6 0zM784.9 450.9a3.3 3.3 0 1 0 6.6 0a3.3 3.3 0 1 0 -6.6 0zM791.1 450.2a3.3 3.3 0 1 0 6.6 0a3.3 3.3 0 1 0 -6.6 0zM797.4 450.2a3.3 3.3 0 1 0 6.6 0a3.3 3.3 0 1 0 -6.6 0zM803.6 450.5a3.3 3.3 0 1 0 6.6 0a3.3 3.3 0 1 0 -6.6 0zM809.9 450.8a3.3 3.3 0 1 0 6.6 0a3.3 3.3 0 1 0 -6.6 0zM816.1 449.6a3.3 3.3 0 1 0 6.6 0a3.3 3.3 0 1 0 -6.6 0zM822.4 449.4a3.3 3.3 0 1 0 6.6 0a3.3 3.3 0 1 0 -6.6 0zM828.6 449.9a3.3 3.3 0 1 0 6.6 0a3.3 3.3 0 1 0 -6.6 0zM834.9 449.2a3.3 3.3 0 1 0 6.6 0a3.3 3.3 0 1 0 -6.6 0zM841.1 449.9a3.3 3.3 0 1 0 6.6 0a3.3 3.3 0 1 0 -6.6 0zM847.4 451.7a3.3 3.3 0 1 0 6.6 0a3.3 3.3 0 1 0 -6.6 0zM853.6 449.8a3.3 3.3 0 1 0 6.6 0a3.3 3.3 0 1 0 -6.6 0zM859.9 450.9a3.3 3.3 0 1 0 6.6 0a3.3 3.3 0 1 0 -6.6 0zM866.1 449.5a3.3 3.3 0 1 0 6.6 0a3.3 3.3 0 1 0 -6.6 0zM872.4 450.6a3.3 3.3 0 1 0 6.6 0a3.3 3.3 0 1 0 -6.6 0zM878.6 450.1a3.3 3.3 0 1 0 6.6 0a3.3 3.3 0 1 0 -6.6 0zM884.9 450.2a3.3 3.3 0 1 0 6.6 0a3.3 3.3 0 1 0 -6.6 0zM891.1 450.6a3.3 3.3 0 1 0 6.6 0a3.3 3.3 0 1 0 -6.6 0zM897.4 451.2a3.3 3.3 0 1 0 6.6 0a3.3 3.3 0 1 0 -6.6 0zM903.6 449.9a3.3 3.3 0 1 0 6.6 0a3.3 3.3 0 1 0 -6.6 0zM909.9 449.5a3.3 3.3 0 1 0 6.6 0a3.3 3.3 0 1 0 -6.6 0zM916.1 448.1a3.3 3.3 0 1 0 6.6 0a3.3 3.3 0 1 0 -6.6 0zM922.4 448.2a3.3 3.3 0 1 0 6.6 0a3.3 3.3 0 1 0 -6.6 0zM928.6 446.2a3.3 3.3 0 1 0 6.6 0a3.3 3.3 0 1 0 -6.6 0zM934.9 445.0a3.3 3.3 0 1 0 6.6 0a3.3 3.3 0 1 0 -6.6 0zM941.1 442.2a3.3 3.3 0 1 0 6.6 0a3.3 3.3 0 1 0 -6.6 0zM947.4 441.3a3.3 3.3 0 1 0 6.6 0a3.3 3.3 0 1 0 -6.6 0zM953.6 437.5a3.3 3.3 0 1 0 6.6 0a3.3 3.3 0 1 0 -6.6 0zM959.9 439.0a3.3 3.3 0 1 0 6.6 0a3.3 3.3 0 1 0 -6.6 0zM966.1 441.7a3.3 3.3 0 1 0 6.6 0a3.3 3.3 0 1 0 -6.6 0zM972.4 443.3a3.3 3.3 0 1 0 6.6 0a3.3 3.3 0 1 0 -6.6 0zM978.6 445.4a3.3 3.3 0 1 0 6.6 0a3.3 3.3 0 1 0 -6.6 0zM984.9 447.7a3.3 3.3 0 1 0 6.6 0a3.3 3.3 0 1 0 -6.6 0zM991.1 448.4a3.3 3.3 0 1 0 6.6 0a3.3 3.3 0 1 0 -6.6 0zM997.4 450.4a3.3 3.3 0 1 0 6.6 0a3.3 3.3 0 1 0 -6.6 0zM1003.6 452.6a3.3 3.3 0 1 0 6.6 0a3.3 3.3 0 1 0 -6.6 0zM1009.9 452.1a3.3 3.3 0 1 0 6.6 0a3.3 3.3 0 1 0 -6.6 0zM1016.1 450.8a3.3 3.3 0 1 0 6.6 0a3.3 3.3 0 1 0 -6.6 0zM1022.4 451.1a3.3 3.3 0 1 0 6.6 0a3.3 3.3 0 1 0 -6.6 0zM1028.6 451.5a3.3 3.3 0 1 0 6.6 0a3.3 3.3 0 1 0 -6.6 0zM1034.9 452.6a3.3 3.3 0 1 0 6.6 0a3.3 3.3 0 1 0 -6.6 0zM1041.1 451.4a3.3 3.3 0 1 0 6.6 0a3.3 3.3 0 1 0 -6.6 0zM1047.4 451.5a3.3 3.3 0 1 0 6.6 0a3.3 3.3 0 1 0 -6.6 0zM1053.6 452.6a3.3 3.3 0 1 0 6.6 0a3.3 3.3 0 1 0 -6.6 0zM1059.9 452.6a3.3 3.3 0 1 0 6.6 0a3.3 3.3 0 1 0 -6.6 0zM1066.1 451.8a3.3 3.3 0 1 0 6.6 0a3.3 3.3 0 1 0 -6.6 0zM1072.3 451.3a3.3 3.3 0 1 0 6.6 0a3.3 3.3 0 1 0 -6.6 0zM1078.6 451.0a3.3 3.3 0 1 0 6.6 0a3.3 3.3 0 1 0 -6.6 0zM1084.8 451.6a3.3 3.3 0 1 0 6.6 0a3.3 3.3 0 1 0 -6.6 0zM1091.1 450.5a3.3 3.3 0 1 0 6.6 0a3.3 3.3 0 1 0 -6.6 0zM1097.3 452.5a3.3 3.3 0 1 0 6.6 0a3.3 3.3 0 1 0 -6.6 0zM1103.6 451.5a3.3 3.3 0 1 0 6.6 0a3.3 3.3 0 1 0 -6.6 0zM1109.8 452.3a3.3 3.3 0 1 0 6.6 0a3.3 3.3 0 1 0 -6.6 0zM1116.1 453.2a3.3 3.3 0 1 0 6.6 0a3.3 3.3 0 1 0 -6.6 0zM1122.3 452.6a3.3 3.3 0 1 0 6.6 0a3.3 3.3 0 1 0 -6.6 0zM1128.6 450.8a3.3 3.3 0 1 0 6.6 0a3.3 3.3 0 1 0 -6.6 0zM1134.8 451.9a3.3 3.3 0 1 0 6.6 0a3.3 3.3 0 1 0 -6.6 0zM1141.1 451.7a3.3 3.3 0 1 0 6.6 0a3.3 3.3 0 1 0 -6.6 0zM1147.3 449.7a3.3 3.3 0 1 0 6.6 0a3.3 3.3 0 1 0 -6.6 0zM1153.6 448.4a3.3 3.3 0 1 0 6.6 0a3.3 3.3 0 1 0 -6.6 0zM1159.8 447.4a3.3 3.3 0 1 0 6.6 0a3.3 3.3 0 1 0 -6.6 0zM1166.1 444.3a3.3 3.3 0 1 0 6.6 0a3.3 3.3 0 1 0 -6.6 0zM1172.3 444.1a3.3 3.3 0 1 0 6.6 0a3.3 3.3 0 1 0 -6.6 0zM1178.6 439.3a3.3 3.3 0 1 0 6.6 0a3.3 3.3 0 1 0 -6.6 0zM1184.8 439.2a3.3 3.3 0 1 0 6.6 0a3.3 3.3 0 1 0 -6.6 0zM1191.1 440.5a3.3 3.3 0 1 0 6.6 0a3.3 3.3 0 1 0 -6.6 0zM1197.3 442.7a3.3 3.3 0 1 0 6.6 0a3.3 3.3 0 1 0 -6.6 0zM1203.6 445.6a3.3 3.3 0 1 0 6.6 0a3.3 3.3 0 1 0 -6.6 0zM1209.8 448.1a3.3 3.3 0 1 0 6.6 0a3.3 3.3 0 1 0 -6.6 0zM1216.1 449.7a3.3 3.3 0 1 0 6.6 0a3.3 3.3 0 1 0 -6.6 0zM1222.3 452.1a3.3 3.3 0 1 0 6.6 0a3.3 3.3 0 1 0 -6.6 0zM1228.6 450.7a3.3 3.3 0 1 0 6.6 0a3.3 3.3 0 1 0 -6.6 0zM1234.8 452.8a3.3 3.3 0 1 0 6.6 0a3.3 3.3 0 1 0 -6.6 0zM1241.1 452.7a3.3 3.3 0 1 0 6.6 0a3.3 3.3 0 1 0 -6.6 0zM1247.3 453.5a3.3 3.3 0 1 0 6.6 0a3.3 3.3 0 1 0 -6.6 0zM1253.6 453.7a3.3 3.3 0 1 0 6.6 0a3.3 3.3 0 1 0 -6.6 0zM1259.8 453.0a3.3 3.3 0 1 0 6.6 0a3.3 3.3 0 1 0 -6.6 0zM1266.1 453.3a3.3 3.3 0 1 0 6.6 0a3.3 3.3 0 1 0 -6.6 0zM1272.3 454.4a3.3 3.3 0 1 0 6.6 0a3.3 3.3 0 1 0 -6.6 0zM1278.6 454.1a3.3 3.3 0 1 0 6.6 0a3.3 3.3 0 1 0 -6.6 0zM1284.8 453.4a3.3 3.3 0 1 0 6.6 0a3.3 3.3 0 1 0 -6.6 0zM1291.1 455.4a3.3 3.3 0 1 0 6.6 0a3.3 3.3 0 1 0 -6.6 0zM1297.3 455.6a3.3 3.3 0 1 0 6.6 0a3.3 3.3 0 1 0 -6.6 0zM1303.6 453.0a3.3 3.3 0 1 0 6.6 0a3.3 3.3 0 1 0 -6.6 0zM1309.8 454.3a3.3 3.3 0 1 0 6.6 0a3.3 3.3 0 1 0 -6.6 0zM1316.1 455.8a3.3 3.3 0 1 0 6.6 0a3.3 3.3 0 1 0 -6.6 0zM1322.3 454.6a3.3 3.3 0 1 0 6.6 0a3.3 3.3 0 1 0 -6.6 0zM1328.6 454.3a3.3 3.3 0 1 0 6.6 0a3.3 3.3 0 1 0 -6.6 0zM1334.8 454.0a3.3 3.3 0 1 0 6.6 0a3.3 3.3 0 1 0 -6.6 0zM1341.1 453.8a3.3 3.3 0 1 0 6.6 0a3.3 3.3 0 1 0 -6.6 0zM1347.3 454.0a3.3 3.3 0 1 0 6.6 0a3.3 3.3 0 1 0 -6.6 0zM1353.6 453.8a3.3 3.3 0 1 0 6.6 0a3.3 3.3 0 1 0 -6.6 0zM1359.8 454.7a3.3 3.3 0 1 0 6.6 0a3.3 3.3 0 1 0 -6.6 0zM1366.1 453.9a3.3 3.3 0 1 0 6.6 0a3.3 3.3 0 1 0 -6.6 0zM1372.3 453.9a3.3 3.3 0 1 0 6.6 0a3.3 3.3 0 1 0 -6.6 0z" fill="#ff0000"/>
<polyline points="750.7,448.8 756.9,449.6 763.2,448.9 769.4,449.4 775.7,450.3 781.9,449.8 788.2,449.8 794.4,449.7 800.7,449.5 806.9,449.3 813.2,449.1 819.4,449.8 825.7,448.5 831.9,450.2 838.2,449.2 844.4,448.6 850.7,448.7 856.9,448.4 863.2,448.9 869.4,448.1 875.7,449.3 881.9,447.7 888.2,446.4 894.4,447.1 900.7,445.7 906.9,446.3 913.2,445.7 919.4,443.3 925.7,438.5 931.9,433.9 938.2,429.1 944.4,420.3 950.7,412.7 956.9,408.9 963.2,410.7 969.4,415.6 975.7,422.7 981.9,430.7 988.2,437.4 994.4,441.2 1000.7,444.1 1006.9,446.8 1013.2,447.3 1019.4,448.7 1025.7,449.3 1031.9,451.2 1038.2,449.2 1044.4,449.9 1050.7,449.9 1056.9,450.5 1063.2,450.9 1069.4,449.9 1075.6,449.7 1081.9,449.0 1088.1,449.5 1094.4,450.4 1100.6,449.9 1106.9,449.0 1113.1,449.2 1119.4,449.2 1125.6,449.1 1131.9,447.6 1138.1,446.8 1144.4,443.9 1150.6,441.4 1156.9,438.8 1163.1,429.5 1169.4,422.2 1175.6,412.8 1181.9,403.5 1188.1,398.7 1194.4,401.7 1200.6,409.8 1206.9,419.9 1213.1,428.2 1219.4,437.1 1225.6,442.2 1231.9,446.1 1238.1,448.9 1244.4,450.6 1250.6,451.6 1256.9,451.3 1263.1,452.7 1269.4,453.2 1275.6,453.4 1281.9,453.8 1288.1,452.9 1294.4,453.0 1300.6,453.9 1306.9,452.4 1313.1,453.6 1319.4,453.2 1325.6,453.4 1331.9,452.5 1338.1,453.1 1344.4,453.8 1350.6,454.5 1356.9,454.6 1363.1,453.9 1369.4,453.8 1375.6,453.4" fill="none" stroke="#14b432" stroke-width="1.4" stroke-linejoin="round"/>
<path d="M747.4 448.8a3.3 3.3 0 1 0 6.6 0a3.3 3.3 0 1 0 -6.6 0zM753.6 449.6a3.3 3.3 0 1 0 6.6 0a3.3 3.3 0 1 0 -6.6 0zM759.9 448.9a3.3 3.3 0 1 0 6.6 0a3.3 3.3 0 1 0 -6.6 0zM766.1 449.4a3.3 3.3 0 1 0 6.6 0a3.3 3.3 0 1 0 -6.6 0zM772.4 450.3a3.3 3.3 0 1 0 6.6 0a3.3 3.3 0 1 0 -6.6 0zM778.6 449.8a3.3 3.3 0 1 0 6.6 0a3.3 3.3 0 1 0 -6.6 0zM784.9 449.8a3.3 3.3 0 1 0 6.6 0a3.3 3.3 0 1 0 -6.6 0zM791.1 449.7a3.3 3.3 0 1 0 6.6 0a3.3 3.3 0 1 0 -6.6 0zM797.4 449.5a3.3 3.3 0 1 0 6.6 0a3.3 3.3 0 1 0 -6.6 0zM803.6 449.3a3.3 3.3 0 1 0 6.6 0a3.3 3.3 0 1 0 -6.6 0zM809.9 449.1a3.3 3.3 0 1 0 6.6 0a3.3 3.3 0 1 0 -6.6 0zM816.1 449.8a3.3 3.3 0 1 0 6.6 0a3.3 3.3 0 1 0 -6.6 0zM822.4 448.5a3.3 3.3 0 1 0 6.6 0a3.3 3.3 0 1 0 -6.6 0zM828.6 450.2a3.3 3.3 0 1 0 6.6 0a3.3 3.3 0 1 0 -6.6 0zM834.9 449.2a3.3 3.3 0 1 0 6.6 0a3.3 3.3 0 1 0 -6.6 0zM841.1 448.6a3.3 3.3 0 1 0 6.6 0a3.3 3.3 0 1 0 -6.6 0zM847.4 448.7a3.3 3.3 0 1 0 6.6 0a3.3 3.3 0 1 0 -6.6 0zM853.6 448.4a3.3 3.3 0 1 0 6.6 0a3.3 3.3 0 1 0 -6.6 0zM859.9 448.9a3.3 3.3 0 1 0 6.6 0a3.3 3.3 0 1 0 -6.6 0zM866.1 448.1a3.3 3.3 0 1 0 6.6 0a3.3 3.3 0 1 0 -6.6 0zM872.4 449.3a3.3 3.3 0 1 0 6.6 0a3.3 3.3 0 1 0 -6.6 0zM878.6 447.7a3.3 3.3 0 1 0 6.6 0a3.3 3.3 0 1 0 -6.6 0zM884.9 446.4a3.3 3.3 0 1 0 6.6 0a3.3 3.3 0 1 0 -6.6 0zM891.1 447.1a3.3 3.3 0 1 0 6.6 0a3.3 3.3 0 1 0 -6.6 0zM897.4 445.7a3.3 3.3 0 1 0 6.6 0a3.3 3.3 0 1 0 -6.6 0zM903.6 446.3a3.3 3.3 0 1 0 6.6 0a3.3 3.3 0 1 0 -6.6 0zM909.9 445.7a3.3 3.3 0 1 0 6.6 0a3.3 3.3 0 1 0 -6.6 0zM916.1 443.3a3.3 3.3 0 1 0 6.6 0a3.3 3.3 0 1 0 -6.6 0zM922.4 438.5a3.3 3.3 0 1 0 6.6 0a3.3 3.3 0 1 0 -6.6 0zM928.6 433.9a3.3 3.3 0 1 0 6.6 0a3.3 3.3 0 1 0 -6.6 0zM934.9 429.1a3.3 3.3 0 1 0 6.6 0a3.3 3.3 0 1 0 -6.6 0zM941.1 420.3a3.3 3.3 0 1 0 6.6 0a3.3 3.3 0 1 0 -6.6 0zM947.4 412.7a3.3 3.3 0 1 0 6.6 0a3.3 3.3 0 1 0 -6.6 0zM953.6 408.9a3.3 3.3 0 1 0 6.6 0a3.3 3.3 0 1 0 -6.6 0zM959.9 410.7a3.3 3.3 0 1 0 6.6 0a3.3 3.3 0 1 0 -6.6 0zM966.1 415.6a3.3 3.3 0 1 0 6.6 0a3.3 3.3 0 1 0 -6.6 0zM972.4 422.7a3.3 3.3 0 1 0 6.6 0a3.3 3.3 0 1 0 -6.6 0zM978.6 430.7a3.3 3.3 0 1 0 6.6 0a3.3 3.3 0 1 0 -6.6 0zM984.9 437.4a3.3 3.3 0 1 0 6.6 0a3.3 3.3 0 1 0 -6.6 0zM991.1 441.2a3.3 3.3 0 1 0 6.6 0a3.3 3.3 0 1 0 -6.6 0zM997.4 444.1a3.3 3.3 0 1 0 6.6 0a3.3 3.3 0 1 0 -6.6 0zM1003.6 446.8a3.3 3.3 0 1 0 6.6 0a3.3 3.3 0 1 0 -6.6 0zM1009.9 447.3a3.3 3.3 0 1 0 6.6 0a3.3 3.3 0 1 0 -6.6 0zM1016.1 448.7a3.3 3.3 0 1 0 6.6 0a3.3 3.3 0 1 0 -6.6 0zM1022.4 449.3a3.3 3.3 0 1 0 6.6 0a3.3 3.3 0 1 0 -6.6 0zM1028.6 451.2a3.3 3.3 0 1 0 6.6 0a3.3 3.3 0 1 0 -6.6 0zM1034.9 449.2a3.3 3.3 0 1 0 6.6 0a3.3 3.3 0 1 0 -6.6 0zM1041.1 449.9a3.3 3.3 0 1 0 6.6 0a3.3 3.3 0 1 0 -6.6 0zM1047.4 449.9a3.3 3.3 0 1 0 6.6 0a3.3 3.3 0 1 0 -6.6 0zM1053.6 450.5a3.3 3.3 0 1 0 6.6 0a3.3 3.3 0 1 0 -6.6 0zM1059.9 450.9a3.3 3.3 0 1 0 6.6 0a3.3 3.3 0 1 0 -6.6 0zM1066.1 449.9a3.3 3.3 0 1 0 6.6 0a3.3 3.3 0 1 0 -6.6 0zM1072.3 449.7a3.3 3.3 0 1 0 6.6 0a3.3 3.3 0 1 0 -6.6 0zM1078.6 449.0a3.3 3.3 0 1 0 6.6 0a3.3 3.3 0 1 0 -6.6 0zM1084.8 449.5a3.3 3.3 0 1 0 6.6 0a3.3 3.3 0 1 0 -6.6 0zM1091.1 450.4a3.3 3.3 0 1 0 6.6 0a3.3 3.3 0 1 0 -6.6 0zM1097.3 449.9a3.3 3.3 0 1 0 6.6 0a3.3 3.3 0 1 0 -6.6 0zM1103.6 449.0a3.3 3.3 0 1 0 6.6 0a3.3 3.3 0 1 0 -6.6 0zM1109.8 449.2a3.3 3.3 0 1 0 6.6 0a3.3 3.3 0 1 0 -6.6 0zM1116.1 449.2a3.3 3.3 0 1 0 6.6 0a3.3 3.3 0 1 0 -6.6 0zM1122.3 449.1a3.3 3.3 0 1 0 6.6 0a3.3 3.3 0 1 0 -6.6 0zM1128.6 447.6a3.3 3.3 0 1 0 6.6 0a3.3 3.3 0 1 0 -6.6 0zM1134.8 446.8a3.3 3.3 0 1 0 6.6 0a3.3 3.3 0 1 0 -6.6 0zM1141.1 443.9a3.3 3.3 0 1 0 6.6 0a3.3 3.3 0 1 0 -6.6 0zM1147.3 441.4a3.3 3.3 0 1 0 6.6 0a3.3 3.3 0 1 0 -6.6 0zM1153.6 438.8a3.3 3.3 0 1 0 6.6 0a3.3 3.3 0 1 0 -6.6 0zM1159.8 429.5a3.3 3.3 0 1 0 6.6 0a3.3 3.3 0 1 0 -6.6 0zM1166.1 422.2a3.3 3.3 0 1 0 6.6 0a3.3 3.3 0 1 0 -6.6 0zM1172.3 412.8a3.3 3.3 0 1 0 6.6 0a3.3 3.3 0 1 0 -6.6 0zM1178.6 403.5a3.3 3.3 0 1 0 6.6 0a3.3 3.3 0 1 0 -6.6 0zM1184.8 398.7a3.3 3.3 0 1 0 6.6 0a3.3 3.3 0 1 0 -6.6 0zM1191.1 401.7a3.3 3.3 0 1 0 6.6 0a3.3 3.3 0 1 0 -6.6 0zM1197.3 409.8a3.3 3.3 0 1 0 6.6 0a3.3 3.3 0 1 0 -6.6 0zM1203.6 419.9a3.3 3.3 0 1 0 6.6 0a3.3 3.3 0 1 0 -6.6 0zM1209.8 428.2a3.3 3.3 0 1 0 6.6 0a3.3 3.3 0 1 0 -6.6 0zM1216.1 437.1a3.3 3.3 0 1 0 6.6 0a3.3 3.3 0 1 0 -6.6 0zM1222.3 442.2a3.3 3.3 0 1 0 6.6 0a3.3 3.3 0 1 0 -6.6 0zM1228.6 446.1a3.3 3.3 0 1 0 6.6 0a3.3 3.3 0 1 0 -6.6 0zM1234.8 448.9a3.3 3.3 0 1 0 6.6 0a3.3 3.3 0 1 0 -6.6 0zM1241.1 450.6a3.3 3.3 0 1 0 6.6 0a3.3 3.3 0 1 0 -6.6 0zM1247.3 451.6a3.3 3.3 0 1 0 6.6 0a3.3 3.3 0 1 0 -6.6 0zM1253.6 451.3a3.3 3.3 0 1 0 6.6 0a3.3 3.3 0 1 0 -6.6 0zM1259.8 452.7a3.3 3.3 0 1 0 6.6 0a3.3 3.3 0 1 0 -6.6 0zM1266.1 453.2a3.3 3.3 0 1 0 6.6 0a3.3 3.3 0 1 0 -6.6 0zM1272.3 453.4a3.3 3.3 0 1 0 6.6 0a3.3 3.3 0 1 0 -6.6 0zM1278.6 453.8a3.3 3.3 0 1 0 6.6 0a3.3 3.3 0 1 0 -6.6 0zM1284.8 452.9a3.3 3.3 0 1 0 6.6 0a3.3 3.3 0 1 0 -6.6 0zM1291.1 453.0a3.3 3.3 0 1 0 6.6 0a3.3 3.3 0 1 0 -6.6 0zM1297.3 453.9a3.3 3.3 0 1 0 6.6 0a3.3 3.3 0 1 0 -6.6 0zM1303.6 452.4a3.3 3.3 0 1 0 6.6 0a3.3 3.3 0 1 0 -6.6 0zM1309.8 453.6a3.3 3.3 0 1 0 6.6 0a3.3 3.3 0 1 0 -6.6 0zM1316.1 453.2a3.3 3.3 0 1 0 6.6 0a3.3 3.3 0 1 0 -6.6 0zM1322.3 453.4a3.3 3.3 0 1 0 6.6 0a3.3 3.3 0 1 0 -6.6 0zM1328.6 452.5a3.3 3.3 0 1 0 6.6 0a3.3 3.3 0 1 0 -6.6 0zM1334.8 453.1a3.3 3.3 0 1 0 6.6 0a3.3 3.3 0 1 0 -6.6 0zM1341.1 453.8a3.3 3.3 0 1 0 6.6 0a3.3 3.3 0 1 0 -6.6 0zM1347.3 454.5a3.3 3.3 0 1 0 6.6 0a3.3 3.3 0 1 0 -6.6 0zM1353.6 454.6a3.3 3.3 0 1 0 6.6 0a3.3 3.3 0 1 0 -6.6 0zM1359.8 453.9a3.3 3.3 0 1 0 6.6 0a3.3 3.3 0 1 0 -6.6 0zM1366.1 453.8a3.3 3.3 0 1 0 6.6 0a3.3 3.3 0 1 0 -6.6 0zM1372.3 453.4a3.3 3.3 0 1 0 6.6 0a3.3 3.3 0 1 0 -6.6 0z" fill="#14b432"/>
<polyline points="750.7,448.2 756.9,447.7 763.2,448.3 769.4,449.0 775.7,447.8 781.9,446.7 788.2,447.1 794.4,446.7 800.7,446.8 806.9,448.5 813.2,447.7 819.4,446.4 825.7,447.8 831.9,448.2 838.2,446.9 844.4,446.6 850.7,446.7 856.9,447.0 863.2,447.0 869.4,447.2 875.7,446.9 881.9,446.5 888.2,446.2 894.4,445.2 900.7,442.8 906.9,442.5 913.2,440.7 919.4,436.7 925.7,432.2 931.9,423.4 938.2,412.4 944.4,401.6 950.7,389.2 956.9,381.6 963.2,383.3 969.4,392.5 975.7,404.7 981.9,415.2 988.2,426.8 994.4,434.5 1000.7,439.1 1006.9,443.1 1013.2,445.7 1019.4,445.7 1025.7,446.0 1031.9,448.8 1038.2,447.4 1044.4,447.1 1050.7,448.3 1056.9,448.6 1063.2,447.9 1069.4,449.0 1075.6,448.1 1081.9,447.7 1088.1,448.4 1094.4,448.6 1100.6,447.4 1106.9,447.8 1113.1,447.1 1119.4,448.6 1125.6,445.4 1131.9,445.8 1138.1,443.0 1144.4,440.0 1150.6,435.7 1156.9,428.3 1163.1,417.6 1169.4,402.7 1175.6,386.0 1181.9,371.4 1188.1,364.7 1194.4,368.7 1200.6,382.4 1206.9,398.4 1213.1,414.6 1219.4,427.6 1225.6,435.7 1231.9,440.6 1238.1,444.5 1244.4,446.7 1250.6,450.2 1256.9,449.5 1263.1,451.6 1269.4,451.7 1275.6,452.9 1281.9,452.8 1288.1,452.3 1294.4,452.5 1300.6,452.9 1306.9,453.1 1313.1,452.8 1319.4,453.3 1325.6,454.6 1331.9,452.3 1338.1,453.8 1344.4,453.1 1350.6,453.9 1356.9,454.4 1363.1,453.9 1369.4,454.5 1375.6,452.9" fill="none" stroke="#0000ff" stroke-width="1.4" stroke-linejoin="round"/>
<path d="M747.4 448.2a3.3 3.3 0 1 0 6.6 0a3.3 3.3 0 1 0 -6.6 0zM753.6 447.7a3.3 3.3 0 1 0 6.6 0a3.3 3.3 0 1 0 -6.6 0zM759.9 448.3a3.3 3.3 0 1 0 6.6 0a3.3 3.3 0 1 0 -6.6 0zM766.1 449.0a3.3 3.3 0 1 0 6.6 0a3.3 3.3 0 1 0 -6.6 0zM772.4 447.8a3.3 3.3 0 1 0 6.6 0a3.3 3.3 0 1 0 -6.6 0zM778.6 446.7a3.3 3.3 0 1 0 6.6 0a3.3 3.3 0 1 0 -6.6 0zM784.9 447.1a3.3 3.3 0 1 0 6.6 0a3.3 3.3 0 1 0 -6.6 0zM791.1 446.7a3.3 3.3 0 1 0 6.6 0a3.3 3.3 0 1 0 -6.6 0zM797.4 446.8a3.3 3.3 0 1 0 6.6 0a3.3 3.3 0 1 0 -6.6 0zM803.6 448.5a3.3 3.3 0 1 0 6.6 0a3.3 3.3 0 1 0 -6.6 0zM809.9 447.7a3.3 3.3 0 1 0 6.6 0a3.3 3.3 0 1 0 -6.6 0zM816.1 446.4a3.3 3.3 0 1 0 6.6 0a3.3 3.3 0 1 0 -6.6 0zM822.4 447.8a3.3 3.3 0 1 0 6.6 0a3.3 3.3 0 1 0 -6.6 0zM828.6 448.2a3.3 3.3 0 1 0 6.6 0a3.3 3.3 0 1 0 -6.6 0zM834.9 446.9a3.3 3.3 0 1 0 6.6 0a3.3 3.3 0 1 0 -6.6 0zM841.1 446.6a3.3 3.3 0 1 0 6.6 0a3.3 3.3 0 1 0 -6.6 0zM847.4 446.7a3.3 3.3 0 1 0 6.6 0a3.3 3.3 0 1 0 -6.6 0zM853.6 447.0a3.3 3.3 0 1 0 6.6 0a3.3 3.3 0 1 0 -6.6 0zM859.9 447.0a3.3 3.3 0 1 0 6.6 0a3.3 3.3 0 1 0 -6.6 0zM866.1 447.2a3.3 3.3 0 1 0 6.6 0a3.3 3.3 0 1 0 -6.6 0zM872.4 446.9a3.3 3.3 0 1 0 6.6 0a3.3 3.3 0 1 0 -6.6 0zM878.6 446.5a3.3 3.3 0 1 0 6.6 0a3.3 3.3 0 1 0 -6.6 0zM884.9 446.2a3.3 3.3 0 1 0 6.6 0a3.3 3.3 0 1 0 -6.6 0zM891.1 445.2a3.3 3.3 0 1 0 6.6 0a3.3 3.3 0 1 0 -6.6 0zM897.4 442.8a3.3 3.3 0 1 0 6.6 0a3.3 3.3 0 1 0 -6.6 0zM903.6 442.5a3.3 3.3 0 1 0 6.6 0a3.3 3.3 0 1 0 -6.6 0zM909.9 440.7a3.3 3.3 0 1 0 6.6 0a3.3 3.3 0 1 0 -6.6 0zM916.1 436.7a3.3 3.3 0 1 0 6.6 0a3.3 3.3 0 1 0 -6.6 0zM922.4 432.2a3.3 3.3 0 1 0 6.6 0a3.3 3.3 0 1 0 -6.6 0zM928.6 423.4a3.3 3.3 0 1 0 6.6 0a3.3 3.3 0 1 0 -6.6 0zM934.9 412.4a3.3 3.3 0 1 0 6.6 0a3.3 3.3 0 1 0 -6.6 0zM941.1 401.6a3.3 3.3 0 1 0 6.6 0a3.3 3.3 0 1 0 -6.6 0zM947.4 389.2a3.3 3.3 0 1 0 6.6 0a3.3 3.3 0 1 0 -6.6 0zM953.6 381.6a3.3 3.3 0 1 0 6.6 0a3.3 3.3 0 1 0 -6.6 0zM959.9 383.3a3.3 3.3 0 1 0 6.6 0a3.3 3.3 0 1 0 -6.6 0zM966.1 392.5a3.3 3.3 0 1 0 6.6 0a3.3 3.3 0 1 0 -6.6 0zM972.4 404.7a3.3 3.3 0 1 0 6.6 0a3.3 3.3 0 1 0 -6.6 0zM978.6 415.2a3.3 3.3 0 1 0 6.6 0a3.3 3.3 0 1 0 -6.6 0zM984.9 426.8a3.3 3.3 0 1 0 6.6 0a3.3 3.3 0 1 0 -6.6 0zM991.1 434.5a3.3 3.3 0 1 0 6.6 0a3.3 3.3 0 1 0 -6.6 0zM997.4 439.1a3.3 3.3 0 1 0 6.6 0a3.3 3.3 0 1 0 -6.6 0zM1003.6 443.1a3.3 3.3 0 1 0 6.6 0a3.3 3.3 0 1 0 -6.6 0zM1009.9 445.7a3.3 3.3 0 1 0 6.6 0a3.3 3.3 0 1 0 -6.6 0zM1016.1 445.7a3.3 3.3 0 1 0 6.6 0a3.3 3.3 0 1 0 -6.6 0zM1022.4 446.0a3.3 3.3 0 1 0 6.6 0a3.3 3.3 0 1 0 -6.6 0zM1028.6 448.8a3.3 3.3 0 1 0 6.6 0a3.3 3.3 0 1 0 -6.6 0zM1034.9 447.4a3.3 3.3 0 1 0 6.6 0a3.3 3.3 0 1 0 -6.6 0zM1041.1 447.1a3.3 3.3 0 1 0 6.6 0a3.3 3.3 0 1 0 -6.6 0zM1047.4 448.3a3.3 3.3 0 1 0 6.6 0a3.3 3.3 0 1 0 -6.6 0zM1053.6 448.6a3.3 3.3 0 1 0 6.6 0a3.3 3.3 0 1 0 -6.6 0zM1059.9 447.9a3.3 3.3 0 1 0 6.6 0a3.3 3.3 0 1 0 -6.6 0zM1066.1 449.0a3.3 3.3 0 1 0 6.6 0a3.3 3.3 0 1 0 -6.6 0zM1072.3 448.1a3.3 3.3 0 1 0 6.6 0a3.3 3.3 0 1 0 -6.6 0zM1078.6 447.7a3.3 3.3 0 1 0 6.6 0a3.3 3.3 0 1 0 -6.6 0zM1084.8 448.4a3.3 3.3 0 1 0 6.6 0a3.3 3.3 0 1 0 -6.6 0zM1091.1 448.6a3.3 3.3 0 1 0 6.6 0a3.3 3.3 0 1 0 -6.6 0zM1097.3 447.4a3.3 3.3 0 1 0 6.6 0a3.3 3.3 0 1 0 -6.6 0zM1103.6 447.8a3.3 3.3 0 1 0 6.6 0a3.3 3.3 0 1 0 -6.6 0zM1109.8 447.1a3.3 3.3 0 1 0 6.6 0a3.3 3.3 0 1 0 -6.6 0zM1116.1 448.6a3.3 3.3 0 1 0 6.6 0a3.3 3.3 0 1 0 -6.6 0zM1122.3 445.4a3.3 3.3 0 1 0 6.6 0a3.3 3.3 0 1 0 -6.6 0zM1128.6 445.8a3.3 3.3 0 1 0 6.6 0a3.3 3.3 0 1 0 -6.6 0zM1134.8 443.0a3.3 3.3 0 1 0 6.6 0a3.3 3.3 0 1 0 -6.6 0zM1141.1 440.0a3.3 3.3 0 1 0 6.6 0a3.3 3.3 0 1 0 -6.6 0zM1147.3 435.7a3.3 3.3 0 1 0 6.6 0a3.3 3.3 0 1 0 -6.6 0zM1153.6 428.3a3.3 3.3 0 1 0 6.6 0a3.3 3.3 0 1 0 -6.6 0zM1159.8 417.6a3.3 3.3 0 1 0 6.6 0a3.3 3.3 0 1 0 -6.6 0zM1166.1 402.7a3.3 3.3 0 1 0 6.6 0a3.3 3.3 0 1 0 -6.6 0zM1172.3 386.0a3.3 3.3 0 1 0 6.6 0a3.3 3.3 0 1 0 -6.6 0zM1178.6 371.4a3.3 3.3 0 1 0 6.6 0a3.3 3.3 0 1 0 -6.6 0zM1184.8 364.7a3.3 3.3 0 1 0 6.6 0a3.3 3.3 0 1 0 -6.6 0zM1191.1 368.7a3.3 3.3 0 1 0 6.6 0a3.3 3.3 0 1 0 -6.6 0zM1197.3 382.4a3.3 3.3 0 1 0 6.6 0a3.3 3.3 0 1 0 -6.6 0zM1203.6 398.4a3.3 3.3 0 1 0 6.6 0a3.3 3.3 0 1 0 -6.6 0zM1209.8 414.6a3.3 3.3 0 1 0 6.6 0a3.3 3.3 0 1 0 -6.6 0zM1216.1 427.6a3.3 3.3 0 1 0 6.6 0a3.3 3.3 0 1 0 -6.6 0zM1222.3 435.7a3.3 3.3 0 1 0 6.6 0a3.3 3.3 0 1 0 -6.6 0zM1228.6 440.6a3.3 3.3 0 1 0 6.6 0a3.3 3.3 0 1 0 -6.6 0zM1234.8 444.5a3.3 3.3 0 1 0 6.6 0a3.3 3.3 0 1 0 -6.6 0zM1241.1 446.7a3.3 3.3 0 1 0 6.6 0a3.3 3.3 0 1 0 -6.6 0zM1247.3 450.2a3.3 3.3 0 1 0 6.6 0a3.3 3.3 0 1 0 -6.6 0zM1253.6 449.5a3.3 3.3 0 1 0 6.6 0a3.3 3.3 0 1 0 -6.6 0zM1259.8 451.6a3.3 3.3 0 1 0 6.6 0a3.3 3.3 0 1 0 -6.6 0zM1266.1 451.7a3.3 3.3 0 1 0 6.6 0a3.3 3.3 0 1 0 -6.6 0zM1272.3 452.9a3.3 3.3 0 1 0 6.6 0a3.3 3.3 0 1 0 -6.6 0zM1278.6 452.8a3.3 3.3 0 1 0 6.6 0a3.3 3.3 0 1 0 -6.6 0zM1284.8 452.3a3.3 3.3 0 1 0 6.6 0a3.3 3.3 0 1 0 -6.6 0zM1291.1 452.5a3.3 3.3 0 1 0 6.6 0a3.3 3.3 0 1 0 -6.6 0zM1297.3 452.9a3.3 3.3 0 1 0 6.6 0a3.3 3.3 0 1 0 -6.6 0zM1303.6 453.1a3.3 3.3 0 1 0 6.6 0a3.3 3.3 0 1 0 -6.6 0zM1309.8 452.8a3.3 3.3 0 1 0 6.6 0a3.3 3.3 0 1 0 -6.6 0zM1316.1 453.3a3.3 3.3 0 1 0 6.6 0a3.3 3.3 0 1 0 -6.6 0zM1322.3 454.6a3.3 3.3 0 1 0 6.6 0a3.3 3.3 0 1 0 -6.6 0zM1328.6 452.3a3.3 3.3 0 1 0 6.6 0a3.3 3.3 0 1 0 -6.6 0zM1334.8 453.8a3.3 3.3 0 1 0 6.6 0a3.3 3.3 0 1 0 -6.6 0zM1341.1 453.1a3.3 3.3 0 1 0 6.6 0a3.3 3.3 0 1 0 -6.6 0zM1347.3 453.9a3.3 3.3 0 1 0 6.6 0a3.3 3.3 0 1 0 -6.6 0zM1353.6 454.4a3.3 3.3 0 1 0 6.6 0a3.3 3.3 0 1 0 -6.6 0zM1359.8 453.9a3.3 3.3 0 1 0 6.6 0a3.3 3.3 0 1 0 -6.6 0zM1366.1 454.5a3.3 3.3 0 1 0 6.6 0a3.3 3.3 0 1 0 -6.6 0zM1372.3 452.9a3.3 3.3 0 1 0 6.6 0a3.3 3.3 0 1 0 -6.6 0z" fill="#0000ff"/>
<polyline points="750.7,446.4 756.9,445.1 763.2,446.0 769.4,445.6 775.7,443.6 781.9,444.9 788.2,445.5 794.4,446.4 800.7,445.4 806.9,445.3 813.2,444.1 819.4,446.0 825.7,446.1 831.9,444.7 838.2,444.4 844.4,443.3 850.7,444.8 856.9,445.9 863.2,444.2 869.4,444.3 875.7,443.4 881.9,441.8 888.2,442.8 894.4,440.2 900.7,439.7 906.9,438.2 913.2,435.7 919.4,430.5 925.7,422.8 931.9,410.7 938.2,395.4 944.4,378.8 950.7,361.5 956.9,350.8 963.2,352.5 969.4,365.8 975.7,382.8 981.9,400.7 988.2,415.0 994.4,427.0 1000.7,434.2 1006.9,439.8 1013.2,440.1 1019.4,442.3 1025.7,444.4 1031.9,444.4 1038.2,444.8 1044.4,446.6 1050.7,445.4 1056.9,445.0 1063.2,445.0 1069.4,446.2 1075.6,446.2 1081.9,444.9 1088.1,445.0 1094.4,445.8 1100.6,445.6 1106.9,444.3 1113.1,444.6 1119.4,443.7 1125.6,441.0 1131.9,440.3 1138.1,438.2 1144.4,433.2 1150.6,424.9 1156.9,415.0 1163.1,399.6 1169.4,379.2 1175.6,352.8 1181.9,334.6 1188.1,321.0 1194.4,328.1 1200.6,347.8 1206.9,372.2 1213.1,394.8 1219.4,412.5 1225.6,427.1 1231.9,435.1 1238.1,439.3 1244.4,446.5 1250.6,447.1 1256.9,449.3 1263.1,448.4 1269.4,450.9 1275.6,451.6 1281.9,452.1 1288.1,451.4 1294.4,451.0 1300.6,452.0 1306.9,450.8 1313.1,451.4 1319.4,452.9 1325.6,452.3 1331.9,453.0 1338.1,453.2 1344.4,454.7 1350.6,454.4 1356.9,453.5 1363.1,454.5 1369.4,453.2 1375.6,453.6" fill="none" stroke="#e6c21e" stroke-width="1.4" stroke-linejoin="round"/>
<path d="M747.4 446.4a3.3 3.3 0 1 0 6.6 0a3.3 3.3 0 1 0 -6.6 0zM753.6 445.1a3.3 3.3 0 1 0 6.6 0a3.3 3.3 0 1 0 -6.6 0zM759.9 446.0a3.3 3.3 0 1 0 6.6 0a3.3 3.3 0 1 0 -6.6 0zM766.1 445.6a3.3 3.3 0 1 0 6.6 0a3.3 3.3 0 1 0 -6.6 0zM772.4 443.6a3.3 3.3 0 1 0 6.6 0a3.3 3.3 0 1 0 -6.6 0zM778.6 444.9a3.3 3.3 0 1 0 6.6 0a3.3 3.3 0 1 0 -6.6 0zM784.9 445.5a3.3 3.3 0 1 0 6.6 0a3.3 3.3 0 1 0 -6.6 0zM791.1 446.4a3.3 3.3 0 1 0 6.6 0a3.3 3.3 0 1 0 -6.6 0zM797.4 445.4a3.3 3.3 0 1 0 6.6 0a3.3 3.3 0 1 0 -6.6 0zM803.6 445.3a3.3 3.3 0 1 0 6.6 0a3.3 3.3 0 1 0 -6.6 0zM809.9 444.1a3.3 3.3 0 1 0 6.6 0a3.3 3.3 0 1 0 -6.6 0zM816.1 446.0a3.3 3.3 0 1 0 6.6 0a3.3 3.3 0 1 0 -6.6 0zM822.4 446.1a3.3 3.3 0 1 0 6.6 0a3.3 3.3 0 1 0 -6.6 0zM828.6 444.7a3.3 3.3 0 1 0 6.6 0a3.3 3.3 0 1 0 -6.6 0zM834.9 444.4a3.3 3.3 0 1 0 6.6 0a3.3 3.3 0 1 0 -6.6 0zM841.1 443.3a3.3 3.3 0 1 0 6.6 0a3.3 3.3 0 1 0 -6.6 0zM847.4 444.8a3.3 3.3 0 1 0 6.6 0a3.3 3.3 0 1 0 -6.6 0zM853.6 445.9a3.3 3.3 0 1 0 6.6 0a3.3 3.3 0 1 0 -6.6 0zM859.9 444.2a3.3 3.3 0 1 0 6.6 0a3.3 3.3 0 1 0 -6.6 0zM866.1 444.3a3.3 3.3 0 1 0 6.6 0a3.3 3.3 0 1 0 -6.6 0zM872.4 443.4a3.3 3.3 0 1 0 6.6 0a3.3 3.3 0 1 0 -6.6 0zM878.6 441.8a3.3 3.3 0 1 0 6.6 0a3.3 3.3 0 1 0 -6.6 0zM884.9 442.8a3.3 3.3 0 1 0 6.6 0a3.3 3.3 0 1 0 -6.6 0zM891.1 440.2a3.3 3.3 0 1 0 6.6 0a3.3 3.3 0 1 0 -6.6 0zM897.4 439.7a3.3 3.3 0 1 0 6.6 0a3.3 3.3 0 1 0 -6.6 0zM903.6 438.2a3.3 3.3 0 1 0 6.6 0a3.3 3.3 0 1 0 -6.6 0zM909.9 435.7a3.3 3.3 0 1 0 6.6 0a3.3 3.3 0 1 0 -6.6 0zM916.1 430.5a3.3 3.3 0 1 0 6.6 0a3.3 3.3 0 1 0 -6.6 0zM922.4 422.8a3.3 3.3 0 1 0 6.6 0a3.3 3.3 0 1 0 -6.6 0zM928.6 410.7a3.3 3.3 0 1 0 6.6 0a3.3 3.3 0 1 0 -6.6 0zM934.9 395.4a3.3 3.3 0 1 0 6.6 0a3.3 3.3 0 1 0 -6.6 0zM941.1 378.8a3.3 3.3 0 1 0 6.6 0a3.3 3.3 0 1 0 -6.6 0zM947.4 361.5a3.3 3.3 0 1 0 6.6 0a3.3 3.3 0 1 0 -6.6 0zM953.6 350.8a3.3 3.3 0 1 0 6.6 0a3.3 3.3 0 1 0 -6.6 0zM959.9 352.5a3.3 3.3 0 1 0 6.6 0a3.3 3.3 0 1 0 -6.6 0zM966.1 365.8a3.3 3.3 0 1 0 6.6 0a3.3 3.3 0 1 0 -6.6 0zM972.4 382.8a3.3 3.3 0 1 0 6.6 0a3.3 3.3 0 1 0 -6.6 0zM978.6 400.7a3.3 3.3 0 1 0 6.6 0a3.3 3.3 0 1 0 -6.6 0zM984.9 415.0a3.3 3.3 0 1 0 6.6 0a3.3 3.3 0 1 0 -6.6 0zM991.1 427.0a3.3 3.3 0 1 0 6.6 0a3.3 3.3 0 1 0 -6.6 0zM997.4 434.2a3.3 3.3 0 1 0 6.6 0a3.3 3.3 0 1 0 -6.6 0zM1003.6 439.8a3.3 3.3 0 1 0 6.6 0a3.3 3.3 0 1 0 -6.6 0zM1009.9 440.1a3.3 3.3 0 1 0 6.6 0a3.3 3.3 0 1 0 -6.6 0zM1016.1 442.3a3.3 3.3 0 1 0 6.6 0a3.3 3.3 0 1 0 -6.6 0zM1022.4 444.4a3.3 3.3 0 1 0 6.6 0a3.3 3.3 0 1 0 -6.6 0zM1028.6 444.4a3.3 3.3 0 1 0 6.6 0a3.3 3.3 0 1 0 -6.6 0zM1034.9 444.8a3.3 3.3 0 1 0 6.6 0a3.3 3.3 0 1 0 -6.6 0zM1041.1 446.6a3.3 3.3 0 1 0 6.6 0a3.3 3.3 0 1 0 -6.6 0zM1047.4 445.4a3.3 3.3 0 1 0 6.6 0a3.3 3.3 0 1 0 -6.6 0zM1053.6 445.0a3.3 3.3 0 1 0 6.6 0a3.3 3.3 0 1 0 -6.6 0zM1059.9 445.0a3.3 3.3 0 1 0 6.6 0a3.3 3.3 0 1 0 -6.6 0zM1066.1 446.2a3.3 3.3 0 1 0 6.6 0a3.3 3.3 0 1 0 -6.6 0zM1072.3 446.2a3.3 3.3 0 1 0 6.6 0a3.3 3.3 0 1 0 -6.6 0zM1078.6 444.9a3.3 3.3 0 1 0 6.6 0a3.3 3.3 0 1 0 -6.6 0zM1084.8 445.0a3.3 3.3 0 1 0 6.6 0a3.3 3.3 0 1 0 -6.6 0zM1091.1 445.8a3.3 3.3 0 1 0 6.6 0a3.3 3.3 0 1 0 -6.6 0zM1097.3 445.6a3.3 3.3 0 1 0 6.6 0a3.3 3.3 0 1 0 -6.6 0zM1103.6 444.3a3.3 3.3 0 1 0 6.6 0a3.3 3.3 0 1 0 -6.6 0zM1109.8 444.6a3.3 3.3 0 1 0 6.6 0a3.3 3.3 0 1 0 -6.6 0zM1116.1 443.7a3.3 3.3 0 1 0 6.6 0a3.3 3.3 0 1 0 -6.6 0zM1122.3 441.0a3.3 3.3 0 1 0 6.6 0a3.3 3.3 0 1 0 -6.6 0zM1128.6 440.3a3.3 3.3 0 1 0 6.6 0a3.3 3.3 0 1 0 -6.6 0zM1134.8 438.2a3.3 3.3 0 1 0 6.6 0a3.3 3.3 0 1 0 -6.6 0zM1141.1 433.2a3.3 3.3 0 1 0 6.6 0a3.3 3.3 0 1 0 -6.6 0zM1147.3 424.9a3.3 3.3 0 1 0 6.6 0a3.3 3.3 0 1 0 -6.6 0zM1153.6 415.0a3.3 3.3 0 1 0 6.6 0a3.3 3.3 0 1 0 -6.6 0zM1159.8 399.6a3.3 3.3 0 1 0 6.6 0a3.3 3.3 0 1 0 -6.6 0zM1166.1 379.2a3.3 3.3 0 1 0 6.6 0a3.3 3.3 0 1 0 -6.6 0zM1172.3 352.8a3.3 3.3 0 1 0 6.6 0a3.3 3.3 0 1 0 -6.6 0zM1178.6 334.6a3.3 3.3 0 1 0 6.6 0a3.3 3.3 0 1 0 -6.6 0zM1184.8 321.0a3.3 3.3 0 1 0 6.6 0a3.3 3.3 0 1 0 -6.6 0zM1191.1 328.1a3.3 3.3 0 1 0 6.6 0a3.3 3.3 0 1 0 -6.6 0zM1197.3 347.8a3.3 3.3 0 1 0 6.6 0a3.3 3.3 0 1 0 -6.6 0zM1203.6 372.2a3.3 3.3 0 1 0 6.6 0a3.3 3.3 0 1 0 -6.6 0zM1209.8 394.8a3.3 3.3 0 1 0 6.6 0a3.3 3.3 0 1 0 -6.6 0zM1216.1 412.5a3.3 3.3 0 1 0 6.6 0a3.3 3.3 0 1 0 -6.6 0zM1222.3 427.1a3.3 3.3 0 1 0 6.6 0a3.3 3.3 0 1 0 -6.6 0zM1228.6 435.1a3.3 3.3 0 1 0 6.6 0a3.3 3.3 0 1 0 -6.6 0zM1234.8 439.3a3.3 3.3 0 1 0 6.6 0a3.3 3.3 0 1 0 -6.6 0zM1241.1 446.5a3.3 3.3 0 1 0 6.6 0a3.3 3.3 0 1 0 -6.6 0zM1247.3 447.1a3.3 3.3 0 1 0 6.6 0a3.3 3.3 0 1 0 -6.6 0zM1253.6 449.3a3.3 3.3 0 1 0 6.6 0a3.3 3.3 0 1 0 -6.6 0zM1259.8 448.4a3.3 3.3 0 1 0 6.6 0a3.3 3.3 0 1 0 -6.6 0zM1266.1 450.9a3.3 3.3 0 1 0 6.6 0a3.3 3.3 0 1 0 -6.6 0zM1272.3 451.6a3.3 3.3 0 1 0 6.6 0a3.3 3.3 0 1 0 -6.6 0zM1278.6 452.1a3.3 3.3 0 1 0 6.6 0a3.3 3.3 0 1 0 -6.6 0zM1284.8 451.4a3.3 3.3 0 1 0 6.6 0a3.3 3.3 0 1 0 -6.6 0zM1291.1 451.0a3.3 3.3 0 1 0 6.6 0a3.3 3.3 0 1 0 -6.6 0zM1297.3 452.0a3.3 3.3 0 1 0 6.6 0a3.3 3.3 0 1 0 -6.6 0zM1303.6 450.8a3.3 3.3 0 1 0 6.6 0a3.3 3.3 0 1 0 -6.6 0zM1309.8 451.4a3.3 3.3 0 1 0 6.6 0a3.3 3.3 0 1 0 -6.6 0zM1316.1 452.9a3.3 3.3 0 1 0 6.6 0a3.3 3.3 0 1 0 -6.6 0zM1322.3 452.3a3.3 3.3 0 1 0 6.6 0a3.3 3.3 0 1 0 -6.6 0zM1328.6 453.0a3.3 3.3 0 1 0 6.6 0a3.3 3.3 0 1 0 -6.6 0zM1334.8 453.2a3.3 3.3 0 1 0 6.6 0a3.3 3.3 0 1 0 -6.6 0zM1341.1 454.7a3.3 3.3 0 1 0 6.6 0a3.3 3.3 0 1 0 -6.6 0zM1347.3 454.4a3.3 3.3 0 1 0 6.6 0a3.3 3.3 0 1 0 -6.6 0zM1353.6 453.5a3.3 3.3 0 1 0 6.6 0a3.3 3.3 0 1 0 -6.6 0zM1359.8 454.5a3.3 3.3 0 1 0 6.6 0a3.3 3.3 0 1 0 -6.6 0zM1366.1 453.2a3.3 3.3 0 1 0 6.6 0a3.3 3.3 0 1 0 -6.6 0zM1372.3 453.6a3.3 3.3 0 1 0 6.6 0a3.3 3.3 0 1 0 -6.6 0z" fill="#e6c21e"/>
<polyline points="750.7,445.6 756.9,444.1 763.2,444.7 769.4,443.9 775.7,444.9 781.9,445.9 788.2,444.1 794.4,444.7 800.7,443.8 806.9,443.6 813.2,443.4 819.4,445.1 825.7,445.6 831.9,444.1 838.2,443.1 844.4,443.9 850.7,442.9 856.9,443.4 863.2,442.6 869.4,442.2 875.7,441.9 881.9,440.4 888.2,439.7 894.4,437.6 900.7,436.9 906.9,433.7 913.2,430.6 919.4,423.4 925.7,413.8 931.9,398.9 938.2,377.3 944.4,354.0 950.7,331.2 956.9,318.4 963.2,321.2 969.4,337.8 975.7,361.0 981.9,386.0 988.2,403.5 994.4,419.9 1000.7,428.0 1006.9,432.5 1013.2,439.9 1019.4,441.4 1025.7,441.0 1031.9,442.8 1038.2,443.2 1044.4,443.9 1050.7,443.2 1056.9,444.0 1063.2,444.9 1069.4,444.8 1075.6,445.5 1081.9,444.6 1088.1,445.9 1094.4,443.5 1100.6,443.7 1106.9,441.6 1113.1,441.3 1119.4,442.1 1125.6,439.0 1131.9,437.8 1138.1,433.9 1144.4,427.5 1150.6,418.5 1156.9,403.6 1163.1,382.4 1169.4,355.5 1175.6,323.9 1181.9,294.5 1188.1,279.6 1194.4,287.9 1200.6,313.1 1206.9,346.2 1213.1,377.9 1219.4,401.1 1225.6,418.2 1231.9,429.7 1238.1,436.5 1244.4,440.9 1250.6,443.7 1256.9,446.0 1263.1,447.3 1269.4,449.2 1275.6,449.2 1281.9,450.0 1288.1,449.9 1294.4,452.3 1300.6,451.9 1306.9,453.2 1313.1,452.8 1319.4,453.5 1325.6,452.5 1331.9,453.4 1338.1,455.0 1344.4,452.4 1350.6,454.2 1356.9,454.7 1363.1,453.9 1369.4,454.2 1375.6,454.7" fill="none" stroke="#ff8000" stroke-width="1.4" stroke-linejoin="round"/>
<path d="M747.4 445.6a3.3 3.3 0 1 0 6.6 0a3.3 3.3 0 1 0 -6.6 0zM753.6 444.1a3.3 3.3 0 1 0 6.6 0a3.3 3.3 0 1 0 -6.6 0zM759.9 444.7a3.3 3.3 0 1 0 6.6 0a3.3 3.3 0 1 0 -6.6 0zM766.1 443.9a3.3 3.3 0 1 0 6.6 0a3.3 3.3 0 1 0 -6.6 0zM772.4 444.9a3.3 3.3 0 1 0 6.6 0a3.3 3.3 0 1 0 -6.6 0zM778.6 445.9a3.3 3.3 0 1 0 6.6 0a3.3 3.3 0 1 0 -6.6 0zM784.9 444.1a3.3 3.3 0 1 0 6.6 0a3.3 3.3 0 1 0 -6.6 0zM791.1 444.7a3.3 3.3 0 1 0 6.6 0a3.3 3.3 0 1 0 -6.6 0zM797.4 443.8a3.3 3.3 0 1 0 6.6 0a3.3 3.3 0 1 0 -6.6 0zM803.6 443.6a3.3 3.3 0 1 0 6.6 0a3.3 3.3 0 1 0 -6.6 0zM809.9 443.4a3.3 3.3 0 1 0 6.6 0a3.3 3.3 0 1 0 -6.6 0zM816.1 445.1a3.3 3.3 0 1 0 6.6 0a3.3 3.3 0 1 0 -6.6 0zM822.4 445.6a3.3 3.3 0 1 0 6.6 0a3.3 3.3 0 1 0 -6.6 0zM828.6 444.1a3.3 3.3 0 1 0 6.6 0a3.3 3.3 0 1 0 -6.6 0zM834.9 443.1a3.3 3.3 0 1 0 6.6 0a3.3 3.3 0 1 0 -6.6 0zM841.1 443.9a3.3 3.3 0 1 0 6.6 0a3.3 3.3 0 1 0 -6.6 0zM847.4 442.9a3.3 3.3 0 1 0 6.6 0a3.3 3.3 0 1 0 -6.6 0zM853.6 443.4a3.3 3.3 0 1 0 6.6 0a3.3 3.3 0 1 0 -6.6 0zM859.9 442.6a3.3 3.3 0 1 0 6.6 0a3.3 3.3 0 1 0 -6.6 0zM866.1 442.2a3.3 3.3 0 1 0 6.6 0a3.3 3.3 0 1 0 -6.6 0zM872.4 441.9a3.3 3.3 0 1 0 6.6 0a3.3 3.3 0 1 0 -6.6 0zM878.6 440.4a3.3 3.3 0 1 0 6.6 0a3.3 3.3 0 1 0 -6.6 0zM884.9 439.7a3.3 3.3 0 1 0 6.6 0a3.3 3.3 0 1 0 -6.6 0zM891.1 437.6a3.3 3.3 0 1 0 6.6 0a3.3 3.3 0 1 0 -6.6 0zM897.4 436.9a3.3 3.3 0 1 0 6.6 0a3.3 3.3 0 1 0 -6.6 0zM903.6 433.7a3.3 3.3 0 1 0 6.6 0a3.3 3.3 0 1 0 -6.6 0zM909.9 430.6a3.3 3.3 0 1 0 6.6 0a3.3 3.3 0 1 0 -6.6 0zM916.1 423.4a3.3 3.3 0 1 0 6.6 0a3.3 3.3 0 1 0 -6.6 0zM922.4 413.8a3.3 3.3 0 1 0 6.6 0a3.3 3.3 0 1 0 -6.6 0zM928.6 398.9a3.3 3.3 0 1 0 6.6 0a3.3 3.3 0 1 0 -6.6 0zM934.9 377.3a3.3 3.3 0 1 0 6.6 0a3.3 3.3 0 1 0 -6.6 0zM941.1 354.0a3.3 3.3 0 1 0 6.6 0a3.3 3.3 0 1 0 -6.6 0zM947.4 331.2a3.3 3.3 0 1 0 6.6 0a3.3 3.3 0 1 0 -6.6 0zM953.6 318.4a3.3 3.3 0 1 0 6.6 0a3.3 3.3 0 1 0 -6.6 0zM959.9 321.2a3.3 3.3 0 1 0 6.6 0a3.3 3.3 0 1 0 -6.6 0zM966.1 337.8a3.3 3.3 0 1 0 6.6 0a3.3 3.3 0 1 0 -6.6 0zM972.4 361.0a3.3 3.3 0 1 0 6.6 0a3.3 3.3 0 1 0 -6.6 0zM978.6 386.0a3.3 3.3 0 1 0 6.6 0a3.3 3.3 0 1 0 -6.6 0zM984.9 403.5a3.3 3.3 0 1 0 6.6 0a3.3 3.3 0 1 0 -6.6 0zM991.1 419.9a3.3 3.3 0 1 0 6.6 0a3.3 3.3 0 1 0 -6.6 0zM997.4 428.0a3.3 3.3 0 1 0 6.6 0a3.3 3.3 0 1 0 -6.6 0zM1003.6 432.5a3.3 3.3 0 1 0 6.6 0a3.3 3.3 0 1 0 -6.6 0zM1009.9 439.9a3.3 3.3 0 1 0 6.6 0a3.3 3.3 0 1 0 -6.6 0zM1016.1 441.4a3.3 3.3 0 1 0 6.6 0a3.3 3.3 0 1 0 -6.6 0zM1022.4 441.0a3.3 3.3 0 1 0 6.6 0a3.3 3.3 0 1 0 -6.6 0zM1028.6 442.8a3.3 3.3 0 1 0 6.6 0a3.3 3.3 0 1 0 -6.6 0zM1034.9 443.2a3.3 3.3 0 1 0 6.6 0a3.3 3.3 0 1 0 -6.6 0zM1041.1 443.9a3.3 3.3 0 1 0 6.6 0a3.3 3.3 0 1 0 -6.6 0zM1047.4 443.2a3.3 3.3 0 1 0 6.6 0a3.3 3.3 0 1 0 -6.6 0zM1053.6 444.0a3.3 3.3 0 1 0 6.6 0a3.3 3.3 0 1 0 -6.6 0zM1059.9 444.9a3.3 3.3 0 1 0 6.6 0a3.3 3.3 0 1 0 -6.6 0zM1066.1 444.8a3.3 3.3 0 1 0 6.6 0a3.3 3.3 0 1 0 -6.6 0zM1072.3 445.5a3.3 3.3 0 1 0 6.6 0a3.3 3.3 0 1 0 -6.6 0zM1078.6 444.6a3.3 3.3 0 1 0 6.6 0a3.3 3.3 0 1 0 -6.6 0zM1084.8 445.9a3.3 3.3 0 1 0 6.6 0a3.3 3.3 0 1 0 -6.6 0zM1091.1 443.5a3.3 3.3 0 1 0 6.6 0a3.3 3.3 0 1 0 -6.6 0zM1097.3 443.7a3.3 3.3 0 1 0 6.6 0a3.3 3.3 0 1 0 -6.6 0zM1103.6 441.6a3.3 3.3 0 1 0 6.6 0a3.3 3.3 0 1 0 -6.6 0zM1109.8 441.3a3.3 3.3 0 1 0 6.6 0a3.3 3.3 0 1 0 -6.6 0zM1116.1 442.1a3.3 3.3 0 1 0 6.6 0a3.3 3.3 0 1 0 -6.6 0zM1122.3 439.0a3.3 3.3 0 1 0 6.6 0a3.3 3.3 0 1 0 -6.6 0zM1128.6 437.8a3.3 3.3 0 1 0 6.6 0a3.3 3.3 0 1 0 -6.6 0zM1134.8 433.9a3.3 3.3 0 1 0 6.6 0a3.3 3.3 0 1 0 -6.6 0zM1141.1 427.5a3.3 3.3 0 1 0 6.6 0a3.3 3.3 0 1 0 -6.6 0zM1147.3 418.5a3.3 3.3 0 1 0 6.6 0a3.3 3.3 0 1 0 -6.6 0zM1153.6 403.6a3.3 3.3 0 1 0 6.6 0a3.3 3.3 0 1 0 -6.6 0zM1159.8 382.4a3.3 3.3 0 1 0 6.6 0a3.3 3.3 0 1 0 -6.6 0zM1166.1 355.5a3.3 3.3 0 1 0 6.6 0a3.3 3.3 0 1 0 -6.6 0zM1172.3 323.9a3.3 3.3 0 1 0 6.6 0a3.3 3.3 0 1 0 -6.6 0zM1178.6 294.5a3.3 3.3 0 1 0 6.6 0a3.3 3.3 0 1 0 -6.6 0zM1184.8 279.6a3.3 3.3 0 1 0 6.6 0a3.3 3.3 0 1 0 -6.6 0zM1191.1 287.9a3.3 3.3 0 1 0 6.6 0a3.3 3.3 0 1 0 -6.6 0zM1197.3 313.1a3.3 3.3 0 1 0 6.6 0a3.3 3.3 0 1 0 -6.6 0zM1203.6 346.2a3.3 3.3 0 1 0 6.6 0a3.3 3.3 0 1 0 -6.6 0zM1209.8 377.9a3.3 3.3 0 1 0 6.6 0a3.3 3.3 0 1 0 -6.6 0zM1216.1 401.1a3.3 3.3 0 1 0 6.6 0a3.3 3.3 0 1 0 -6.6 0zM1222.3 418.2a3.3 3.3 0 1 0 6.6 0a3.3 3.3 0 1 0 -6.6 0zM1228.6 429.7a3.3 3.3 0 1 0 6.6 0a3.3 3.3 0 1 0 -6.6 0zM1234.8 436.5a3.3 3.3 0 1 0 6.6 0a3.3 3.3 0 1 0 -6.6 0zM1241.1 440.9a3.3 3.3 0 1 0 6.6 0a3.3 3.3 0 1 0 -6.6 0zM1247.3 443.7a3.3 3.3 0 1 0 6.6 0a3.3 3.3 0 1 0 -6.6 0zM1253.6 446.0a3.3 3.3 0 1 0 6.6 0a3.3 3.3 0 1 0 -6.6 0zM1259.8 447.3a3.3 3.3 0 1 0 6.6 0a3.3 3.3 0 1 0 -6.6 0zM1266.1 449.2a3.3 3.3 0 1 0 6.6 0a3.3 3.3 0 1 0 -6.6 0zM1272.3 449.2a3.3 3.3 0 1 0 6.6 0a3.3 3.3 0 1 0 -6.6 0zM1278.6 450.0a3.3 3.3 0 1 0 6.6 0a3.3 3.3 0 1 0 -6.6 0zM1284.8 449.9a3.3 3.3 0 1 0 6.6 0a3.3 3.3 0 1 0 -6.6 0zM1291.1 452.3a3.3 3.3 0 1 0 6.6 0a3.3 3.3 0 1 0 -6.6 0zM1297.3 451.9a3.3 3.3 0 1 0 6.6 0a3.3 3.3 0 1 0 -6.6 0zM1303.6 453.2a3.3 3.3 0 1 0 6.6 0a3.3 3.3 0 1 0 -6.6 0zM1309.8 452.8a3.3 3.3 0 1 0 6.6 0a3.3 3.3 0 1 0 -6.6 0zM1316.1 453.5a3.3 3.3 0 1 0 6.6 0a3.3 3.3 0 1 0 -6.6 0zM1322.3 452.5a3.3 3.3 0 1 0 6.6 0a3.3 3.3 0 1 0 -6.6 0zM1328.6 453.4a3.3 3.3 0 1 0 6.6 0a3.3 3.3 0 1 0 -6.6 0zM1334.8 455.0a3.3 3.3 0 1 0 6.6 0a3.3 3.3 0 1 0 -6.6 0zM1341.1 452.4a3.3 3.3 0 1 0 6.6 0a3.3 3.3 0 1 0 -6.6 0zM1347.3 454.2a3.3 3.3 0 1 0 6.6 0a3.3 3.3 0 1 0 -6.6 0zM1353.6 454.7a3.3 3.3 0 1 0 6.6 0a3.3 3.3 0 1 0 -6.6 0zM1359.8 453.9a3.3 3.3 0 1 0 6.6 0a3.3 3.3 0 1 0 -6.6 0zM1366.1 454.2a3.3 3.3 0 1 0 6.6 0a3.3 3.3 0 1 0 -6.6 0zM1372.3 454.7a3.3 3.3 0 1 0 6.6 0a3.3 3.3 0 1 0 -6.6 0z" fill="#ff8000"/>
<polyline points="750.7,441.2 756.9,441.9 763.2,441.0 769.4,441.0 775.7,441.0 781.9,441.2 788.2,441.3 794.4,441.5 800.7,440.0 806.9,442.3 813.2,441.6 819.4,441.1 825.7,440.1 831.9,440.1 838.2,440.3 844.4,439.9 850.7,438.1 856.9,439.4 863.2,440.5 869.4,436.6 875.7,437.9 881.9,436.6 888.2,435.2 894.4,434.9 900.7,431.0 906.9,428.8 913.2,424.6 919.4,415.0 925.7,401.7 931.9,382.7 938.2,356.6 944.4,327.9 950.7,297.2 956.9,280.7 963.2,282.0 969.4,305.3 975.7,335.4 981.9,363.8 988.2,390.6 994.4,408.1 1000.7,420.7 1006.9,429.8 1013.2,432.5 1019.4,435.4 1025.7,439.0 1031.9,439.2 1038.2,441.2 1044.4,440.9 1050.7,440.5 1056.9,441.4 1063.2,442.5 1069.4,442.4 1075.6,441.7 1081.9,441.6 1088.1,441.2 1094.4,440.5 1100.6,441.7 1106.9,439.6 1113.1,437.8 1119.4,437.0 1125.6,436.0 1131.9,433.2 1138.1,428.3 1144.4,420.6 1150.6,409.2 1156.9,389.5 1163.1,363.0 1169.4,329.6 1175.6,289.1 1181.9,253.8 1188.1,236.1 1194.4,245.1 1200.6,276.8 1206.9,319.0 1213.1,356.3 1219.4,386.5 1225.6,409.5 1231.9,423.9 1238.1,432.2 1244.4,438.4 1250.6,441.8 1256.9,442.9 1263.1,445.9 1269.4,447.1 1275.6,448.0 1281.9,448.0 1288.1,449.6 1294.4,450.5 1300.6,451.1 1306.9,450.6 1313.1,452.3 1319.4,451.3 1325.6,452.3 1331.9,453.6 1338.1,452.4 1344.4,452.7 1350.6,454.0 1356.9,453.1 1363.1,453.3 1369.4,453.8 1375.6,454.6" fill="none" stroke="#000080" stroke-width="1.4" stroke-linejoin="round"/>
<path d="M747.4 441.2a3.3 3.3 0 1 0 6.6 0a3.3 3.3 0 1 0 -6.6 0zM753.6 441.9a3.3 3.3 0 1 0 6.6 0a3.3 3.3 0 1 0 -6.6 0zM759.9 441.0a3.3 3.3 0 1 0 6.6 0a3.3 3.3 0 1 0 -6.6 0zM766.1 441.0a3.3 3.3 0 1 0 6.6 0a3.3 3.3 0 1 0 -6.6 0zM772.4 441.0a3.3 3.3 0 1 0 6.6 0a3.3 3.3 0 1 0 -6.6 0zM778.6 441.2a3.3 3.3 0 1 0 6.6 0a3.3 3.3 0 1 0 -6.6 0zM784.9 441.3a3.3 3.3 0 1 0 6.6 0a3.3 3.3 0 1 0 -6.6 0zM791.1 441.5a3.3 3.3 0 1 0 6.6 0a3.3 3.3 0 1 0 -6.6 0zM797.4 440.0a3.3 3.3 0 1 0 6.6 0a3.3 3.3 0 1 0 -6.6 0zM803.6 442.3a3.3 3.3 0 1 0 6.6 0a3.3 3.3 0 1 0 -6.6 0zM809.9 441.6a3.3 3.3 0 1 0 6.6 0a3.3 3.3 0 1 0 -6.6 0zM816.1 441.1a3.3 3.3 0 1 0 6.6 0a3.3 3.3 0 1 0 -6.6 0zM822.4 440.1a3.3 3.3 0 1 0 6.6 0a3.3 3.3 0 1 0 -6.6 0zM828.6 440.1a3.3 3.3 0 1 0 6.6 0a3.3 3.3 0 1 0 -6.6 0zM834.9 440.3a3.3 3.3 0 1 0 6.6 0a3.3 3.3 0 1 0 -6.6 0zM841.1 439.9a3.3 3.3 0 1 0 6.6 0a3.3 3.3 0 1 0 -6.6 0zM847.4 438.1a3.3 3.3 0 1 0 6.6 0a3.3 3.3 0 1 0 -6.6 0zM853.6 439.4a3.3 3.3 0 1 0 6.6 0a3.3 3.3 0 1 0 -6.6 0zM859.9 440.5a3.3 3.3 0 1 0 6.6 0a3.3 3.3 0 1 0 -6.6 0zM866.1 436.6a3.3 3.3 0 1 0 6.6 0a3.3 3.3 0 1 0 -6.6 0zM872.4 437.9a3.3 3.3 0 1 0 6.6 0a3.3 3.3 0 1 0 -6.6 0zM878.6 436.6a3.3 3.3 0 1 0 6.6 0a3.3 3.3 0 1 0 -6.6 0zM884.9 435.2a3.3 3.3 0 1 0 6.6 0a3.3 3.3 0 1 0 -6.6 0zM891.1 434.9a3.3 3.3 0 1 0 6.6 0a3.3 3.3 0 1 0 -6.6 0zM897.4 431.0a3.3 3.3 0 1 0 6.6 0a3.3 3.3 0 1 0 -6.6 0zM903.6 428.8a3.3 3.3 0 1 0 6.6 0a3.3 3.3 0 1 0 -6.6 0zM909.9 424.6a3.3 3.3 0 1 0 6.6 0a3.3 3.3 0 1 0 -6.6 0zM916.1 415.0a3.3 3.3 0 1 0 6.6 0a3.3 3.3 0 1 0 -6.6 0zM922.4 401.7a3.3 3.3 0 1 0 6.6 0a3.3 3.3 0 1 0 -6.6 0zM928.6 382.7a3.3 3.3 0 1 0 6.6 0a3.3 3.3 0 1 0 -6.6 0zM934.9 356.6a3.3 3.3 0 1 0 6.6 0a3.3 3.3 0 1 0 -6.6 0zM941.1 327.9a3.3 3.3 0 1 0 6.6 0a3.3 3.3 0 1 0 -6.6 0zM947.4 297.2a3.3 3.3 0 1 0 6.6 0a3.3 3.3 0 1 0 -6.6 0zM953.6 280.7a3.3 3.3 0 1 0 6.6 0a3.3 3.3 0 1 0 -6.6 0zM959.9 282.0a3.3 3.3 0 1 0 6.6 0a3.3 3.3 0 1 0 -6.6 0zM966.1 305.3a3.3 3.3 0 1 0 6.6 0a3.3 3.3 0 1 0 -6.6 0zM972.4 335.4a3.3 3.3 0 1 0 6.6 0a3.3 3.3 0 1 0 -6.6 0zM978.6 363.8a3.3 3.3 0 1 0 6.6 0a3.3 3.3 0 1 0 -6.6 0zM984.9 390.6a3.3 3.3 0 1 0 6.6 0a3.3 3.3 0 1 0 -6.6 0zM991.1 408.1a3.3 3.3 0 1 0 6.6 0a3.3 3.3 0 1 0 -6.6 0zM997.4 420.7a3.3 3.3 0 1 0 6.6 0a3.3 3.3 0 1 0 -6.6 0zM1003.6 429.8a3.3 3.3 0 1 0 6.6 0a3.3 3.3 0 1 0 -6.6 0zM1009.9 432.5a3.3 3.3 0 1 0 6.6 0a3.3 3.3 0 1 0 -6.6 0zM1016.1 435.4a3.3 3.3 0 1 0 6.6 0a3.3 3.3 0 1 0 -6.6 0zM1022.4 439.0a3.3 3.3 0 1 0 6.6 0a3.3 3.3 0 1 0 -6.6 0zM1028.6 439.2a3.3 3.3 0 1 0 6.6 0a3.3 3.3 0 1 0 -6.6 0zM1034.9 441.2a3.3 3.3 0 1 0 6.6 0a3.3 3.3 0 1 0 -6.6 0zM1041.1 440.9a3.3 3.3 0 1 0 6.6 0a3.3 3.3 0 1 0 -6.6 0zM1047.4 440.5a3.3 3.3 0 1 0 6.6 0a3.3 3.3 0 1 0 -6.6 0zM1053.6 441.4a3.3 3.3 0 1 0 6.6 0a3.3 3.3 0 1 0 -6.6 0zM1059.9 442.5a3.3 3.3 0 1 0 6.6 0a3.3 3.3 0 1 0 -6.6 0zM1066.1 442.4a3.3 3.3 0 1 0 6.6 0a3.3 3.3 0 1 0 -6.6 0zM1072.3 441.7a3.3 3.3 0 1 0 6.6 0a3.3 3.3 0 1 0 -6.6 0zM1078.6 441.6a3.3 3.3 0 1 0 6.6 0a3.3 3.3 0 1 0 -6.6 0zM1084.8 441.2a3.3 3.3 0 1 0 6.6 0a3.3 3.3 0 1 0 -6.6 0zM1091.1 440.5a3.3 3.3 0 1 0 6.6 0a3.3 3.3 0 1 0 -6.6 0zM1097.3 441.7a3.3 3.3 0 1 0 6.6 0a3.3 3.3 0 1 0 -6.6 0zM1103.6 439.6a3.3 3.3 0 1 0 6.6 0a3.3 3.3 0 1 0 -6.6 0zM1109.8 437.8a3.3 3.3 0 1 0 6.6 0a3.3 3.3 0 1 0 -6.6 0zM1116.1 437.0a3.3 3.3 0 1 0 6.6 0a3.3 3.3 0 1 0 -6.6 0zM1122.3 436.0a3.3 3.3 0 1 0 6.6 0a3.3 3.3 0 1 0 -6.6 0zM1128.6 433.2a3.3 3.3 0 1 0 6.6 0a3.3 3.3 0 1 0 -6.6 0zM1134.8 428.3a3.3 3.3 0 1 0 6.6 0a3.3 3.3 0 1 0 -6.6 0zM1141.1 420.6a3.3 3.3 0 1 0 6.6 0a3.3 3.3 0 1 0 -6.6 0zM1147.3 409.2a3.3 3.3 0 1 0 6.6 0a3.3 3.3 0 1 0 -6.6 0zM1153.6 389.5a3.3 3.3 0 1 0 6.6 0a3.3 3.3 0 1 0 -6.6 0zM1159.8 363.0a3.3 3.3 0 1 0 6.6 0a3.3 3.3 0 1 0 -6.6 0zM1166.1 329.6a3.3 3.3 0 1 0 6.6 0a3.3 3.3 0 1 0 -6.6 0zM1172.3 289.1a3.3 3.3 0 1 0 6.6 0a3.3 3.3 0 1 0 -6.6 0zM1178.6 253.8a3.3 3.3 0 1 0 6.6 0a3.3 3.3 0 1 0 -6.6 0zM1184.8 236.1a3.3 3.3 0 1 0 6.6 0a3.3 3.3 0 1 0 -6.6 0zM1191.1 245.1a3.3 3.3 0 1 0 6.6 0a3.3 3.3 0 1 0 -6.6 0zM1197.3 276.8a3.3 3.3 0 1 0 6.6 0a3.3 3.3 0 1 0 -6.6 0zM1203.6 319.0a3.3 3.3 0 1 0 6.6 0a3.3 3.3 0 1 0 -6.6 0zM1209.8 356.3a3.3 3.3 0 1 0 6.6 0a3.3 3.3 0 1 0 -6.6 0zM1216.1 386.5a3.3 3.3 0 1 0 6.6 0a3.3 3.3 0 1 0 -6.6 0zM1222.3 409.5a3.3 3.3 0 1 0 6.6 0a3.3 3.3 0 1 0 -6.6 0zM1228.6 423.9a3.3 3.3 0 1 0 6.6 0a3.3 3.3 0 1 0 -6.6 0zM1234.8 432.2a3.3 3.3 0 1 0 6.6 0a3.3 3.3 0 1 0 -6.6 0zM1241.1 438.4a3.3 3.3 0 1 0 6.6 0a3.3 3.3 0 1 0 -6.6 0zM1247.3 441.8a3.3 3.3 0 1 0 6.6 0a3.3 3.3 0 1 0 -6.6 0zM1253.6 442.9a3.3 3.3 0 1 0 6.6 0a3.3 3.3 0 1 0 -6.6 0zM1259.8 445.9a3.3 3.3 0 1 0 6.6 0a3.3 3.3 0 1 0 -6.6 0zM1266.1 447.1a3.3 3.3 0 1 0 6.6 0a3.3 3.3 0 1 0 -6.6 0zM1272.3 448.0a3.3 3.3 0 1 0 6.6 0a3.3 3.3 0 1 0 -6.6 0zM1278.6 448.0a3.3 3.3 0 1 0 6.6 0a3.3 3.3 0 1 0 -6.6 0zM1284.8 449.6a3.3 3.3 0 1 0 6.6 0a3.3 3.3 0 1 0 -6.6 0zM1291.1 450.5a3.3 3.3 0 1 0 6.6 0a3.3 3.3 0 1 0 -6.6 0zM1297.3 451.1a3.3 3.3 0 1 0 6.6 0a3.3 3.3 0 1 0 -6.6 0zM1303.6 450.6a3.3 3.3 0 1 0 6.6 0a3.3 3.3 0 1 0 -6.6 0zM1309.8 452.3a3.3 3.3 0 1 0 6.6 0a3.3 3.3 0 1 0 -6.6 0zM1316.1 451.3a3.3 3.3 0 1 0 6.6 0a3.3 3.3 0 1 0 -6.6 0zM1322.3 452.3a3.3 3.3 0 1 0 6.6 0a3.3 3.3 0 1 0 -6.6 0zM1328.6 453.6a3.3 3.3 0 1 0 6.6 0a3.3 3.3 0 1 0 -6.6 0zM1334.8 452.4a3.3 3.3 0 1 0 6.6 0a3.3 3.3 0 1 0 -6.6 0zM1341.1 452.7a3.3 3.3 0 1 0 6.6 0a3.3 3.3 0 1 0 -6.6 0zM1347.3 454.0a3.3 3.3 0 1 0 6.6 0a3.3 3.3 0 1 0 -6.6 0zM1353.6 453.1a3.3 3.3 0 1 0 6.6 0a3.3 3.3 0 1 0 -6.6 0zM1359.8 453.3a3.3 3.3 0 1 0 6.6 0a3.3 3.3 0 1 0 -6.6 0zM1366.1 453.8a3.3 3.3 0 1 0 6.6 0a3.3 3.3 0 1 0 -6.6 0zM1372.3 454.6a3.3 3.3 0 1 0 6.6 0a3.3 3.3 0 1 0 -6.6 0z" fill="#000080"/>
<polyline points="750.7,436.1 756.9,437.0 763.2,436.8 769.4,436.6 775.7,436.7 781.9,436.6 788.2,437.3 794.4,436.3 800.7,436.8 806.9,436.8 813.2,435.8 819.4,436.2 825.7,437.0 831.9,435.8 838.2,434.7 844.4,434.7 850.7,433.6 856.9,433.9 863.2,433.7 869.4,431.7 875.7,431.2 881.9,430.9 888.2,428.2 894.4,426.6 900.7,422.7 906.9,418.1 913.2,410.5 919.4,399.7 925.7,378.2 931.9,349.8 938.2,312.8 944.4,271.2 950.7,233.8 956.9,214.0 963.2,225.1 969.4,257.5 975.7,301.2 981.9,340.7 988.2,373.3 994.4,395.2 1000.7,411.4 1006.9,421.0 1013.2,426.6 1019.4,428.8 1025.7,433.2 1031.9,433.9 1038.2,435.0 1044.4,435.9 1050.7,436.5 1056.9,437.3 1063.2,436.4 1069.4,436.7 1075.6,437.4 1081.9,437.1 1088.1,436.3 1094.4,435.6 1100.6,434.6 1106.9,434.0 1113.1,433.5 1119.4,429.9 1125.6,428.9 1131.9,424.2 1138.1,416.5 1144.4,406.1 1150.6,386.2 1156.9,357.8 1163.1,318.1 1169.4,267.9 1175.6,212.1 1181.9,164.8 1188.1,146.7 1194.4,165.9 1200.6,216.9 1206.9,272.9 1213.1,325.5 1219.4,366.6 1225.6,394.9 1231.9,413.6 1238.1,425.5 1244.4,433.3 1250.6,438.3 1256.9,441.4 1263.1,442.5 1269.4,444.4 1275.6,445.7 1281.9,447.8 1288.1,447.1 1294.4,450.2 1300.6,449.6 1306.9,450.0 1313.1,451.3 1319.4,452.2 1325.6,452.1 1331.9,453.0 1338.1,452.6 1344.4,453.7 1350.6,453.9 1356.9,453.2 1363.1,454.5 1369.4,453.8 1375.6,453.9" fill="none" stroke="#800080" stroke-width="1.4" stroke-linejoin="round"/>
<path d="M747.4 436.1a3.3 3.3 0 1 0 6.6 0a3.3 3.3 0 1 0 -6.6 0zM753.6 437.0a3.3 3.3 0 1 0 6.6 0a3.3 3.3 0 1 0 -6.6 0zM759.9 436.8a3.3 3.3 0 1 0 6.6 0a3.3 3.3 0 1 0 -6.6 0zM766.1 436.6a3.3 3.3 0 1 0 6.6 0a3.3 3.3 0 1 0 -6.6 0zM772.4 436.7a3.3 3.3 0 1 0 6.6 0a3.3 3.3 0 1 0 -6.6 0zM778.6 436.6a3.3 3.3 0 1 0 6.6 0a3.3 3.3 0 1 0 -6.6 0zM784.9 437.3a3.3 3.3 0 1 0 6.6 0a3.3 3.3 0 1 0 -6.6 0zM791.1 436.3a3.3 3.3 0 1 0 6.6 0a3.3 3.3 0 1 0 -6.6 0zM797.4 436.8a3.3 3.3 0 1 0 6.6 0a3.3 3.3 0 1 0 -6.6 0zM803.6 436.8a3.3 3.3 0 1 0 6.6 0a3.3 3.3 0 1 0 -6.6 0zM809.9 435.8a3.3 3.3 0 1 0 6.6 0a3.3 3.3 0 1 0 -6.6 0zM816.1 436.2a3.3 3.3 0 1 0 6.6 0a3.3 3.3 0 1 0 -6.6 0zM822.4 437.0a3.3 3.3 0 1 0 6.6 0a3.3 3.3 0 1 0 -6.6 0zM828.6 435.8a3.3 3.3 0 1 0 6.6 0a3.3 3.3 0 1 0 -6.6 0zM834.9 434.7a3.3 3.3 0 1 0 6.6 0a3.3 3.3 0 1 0 -6.6 0zM841.1 434.7a3.3 3.3 0 1 0 6.6 0a3.3 3.3 0 1 0 -6.6 0zM847.4 433.6a3.3 3.3 0 1 0 6.6 0a3.3 3.3 0 1 0 -6.6 0zM853.6 433.9a3.3 3.3 0 1 0 6.6 0a3.3 3.3 0 1 0 -6.6 0zM859.9 433.7a3.3 3.3 0 1 0 6.6 0a3.3 3.3 0 1 0 -6.6 0zM866.1 431.7a3.3 3.3 0 1 0 6.6 0a3.3 3.3 0 1 0 -6.6 0zM872.4 431.2a3.3 3.3 0 1 0 6.6 0a3.3 3.3 0 1 0 -6.6 0zM878.6 430.9a3.3 3.3 0 1 0 6.6 0a3.3 3.3 0 1 0 -6.6 0zM884.9 428.2a3.3 3.3 0 1 0 6.6 0a3.3 3.3 0 1 0 -6.6 0zM891.1 426.6a3.3 3.3 0 1 0 6.6 0a3.3 3.3 0 1 0 -6.6 0zM897.4 422.7a3.3 3.3 0 1 0 6.6 0a3.3 3.3 0 1 0 -6.6 0zM903.6 418.1a3.3 3.3 0 1 0 6.6 0a3.3 3.3 0 1 0 -6.6 0zM909.9 410.5a3.3 3.3 0 1 0 6.6 0a3.3 3.3 0 1 0 -6.6 0zM916.1 399.7a3.3 3.3 0 1 0 6.6 0a3.3 3.3 0 1 0 -6.6 0zM922.4 378.2a3.3 3.3 0 1 0 6.6 0a3.3 3.3 0 1 0 -6.6 0zM928.6 349.8a3.3 3.3 0 1 0 6.6 0a3.3 3.3 0 1 0 -6.6 0zM934.9 312.8a3.3 3.3 0 1 0 6.6 0a3.3 3.3 0 1 0 -6.6 0zM941.1 271.2a3.3 3.3 0 1 0 6.6 0a3.3 3.3 0 1 0 -6.6 0zM947.4 233.8a3.3 3.3 0 1 0 6.6 0a3.3 3.3 0 1 0 -6.6 0zM953.6 214.0a3.3 3.3 0 1 0 6.6 0a3.3 3.3 0 1 0 -6.6 0zM959.9 225.1a3.3 3.3 0 1 0 6.6 0a3.3 3.3 0 1 0 -6.6 0zM966.1 257.5a3.3 3.3 0 1 0 6.6 0a3.3 3.3 0 1 0 -6.6 0zM972.4 301.2a3.3 3.3 0 1 0 6.6 0a3.3 3.3 0 1 0 -6.6 0zM978.6 340.7a3.3 3.3 0 1 0 6.6 0a3.3 3.3 0 1 0 -6.6 0zM984.9 373.3a3.3 3.3 0 1 0 6.6 0a3.3 3.3 0 1 0 -6.6 0zM991.1 395.2a3.3 3.3 0 1 0 6.6 0a3.3 3.3 0 1 0 -6.6 0zM997.4 411.4a3.3 3.3 0 1 0 6.6 0a3.3 3.3 0 1 0 -6.6 0zM1003.6 421.0a3.3 3.3 0 1 0 6.6 0a3.3 3.3 0 1 0 -6.6 0zM1009.9 426.6a3.3 3.3 0 1 0 6.6 0a3.3 3.3 0 1 0 -6.6 0zM1016.1 428.8a3.3 3.3 0 1 0 6.6 0a3.3 3.3 0 1 0 -6.6 0zM1022.4 433.2a3.3 3.3 0 1 0 6.6 0a3.3 3.3 0 1 0 -6.6 0zM1028.6 433.9a3.3 3.3 0 1 0 6.6 0a3.3 3.3 0 1 0 -6.6 0zM1034.9 435.0a3.3 3.3 0 1 0 6.6 0a3.3 3.3 0 1 0 -6.6 0zM1041.1 435.9a3.3 3.3 0 1 0 6.6 0a3.3 3.3 0 1 0 -6.6 0zM1047.4 436.5a3.3 3.3 0 1 0 6.6 0a3.3 3.3 0 1 0 -6.6 0zM1053.6 437.3a3.3 3.3 0 1 0 6.6 0a3.3 3.3 0 1 0 -6.6 0zM1059.9 436.4a3.3 3.3 0 1 0 6.6 0a3.3 3.3 0 1 0 -6.6 0zM1066.1 436.7a3.3 3.3 0 1 0 6.6 0a3.3 3.3 0 1 0 -6.6 0zM1072.3 437.4a3.3 3.3 0 1 0 6.6 0a3.3 3.3 0 1 0 -6.6 0zM1078.6 437.1a3.3 3.3 0 1 0 6.6 0a3.3 3.3 0 1 0 -6.6 0zM1084.8 436.3a3.3 3.3 0 1 0 6.6 0a3.3 3.3 0 1 0 -6.6 0zM1091.1 435.6a3.3 3.3 0 1 0 6.6 0a3.3 3.3 0 1 0 -6.6 0zM1097.3 434.6a3.3 3.3 0 1 0 6.6 0a3.3 3.3 0 1 0 -6.6 0zM1103.6 434.0a3.3 3.3 0 1 0 6.6 0a3.3 3.3 0 1 0 -6.6 0zM1109.8 433.5a3.3 3.3 0 1 0 6.6 0a3.3 3.3 0 1 0 -6.6 0zM1116.1 429.9a3.3 3.3 0 1 0 6.6 0a3.3 3.3 0 1 0 -6.6 0zM1122.3 428.9a3.3 3.3 0 1 0 6.6 0a3.3 3.3 0 1 0 -6.6 0zM1128.6 424.2a3.3 3.3 0 1 0 6.6 0a3.3 3.3 0 1 0 -6.6 0zM1134.8 416.5a3.3 3.3 0 1 0 6.6 0a3.3 3.3 0 1 0 -6.6 0zM1141.1 406.1a3.3 3.3 0 1 0 6.6 0a3.3 3.3 0 1 0 -6.6 0zM1147.3 386.2a3.3 3.3 0 1 0 6.6 0a3.3 3.3 0 1 0 -6.6 0zM1153.6 357.8a3.3 3.3 0 1 0 6.6 0a3.3 3.3 0 1 0 -6.6 0zM1159.8 318.1a3.3 3.3 0 1 0 6.6 0a3.3 3.3 0 1 0 -6.6 0zM1166.1 267.9a3.3 3.3 0 1 0 6.6 0a3.3 3.3 0 1 0 -6.6 0zM1172.3 212.1a3.3 3.3 0 1 0 6.6 0a3.3 3.3 0 1 0 -6.6 0zM1178.6 164.8a3.3 3.3 0 1 0 6.6 0a3.3 3.3 0 1 0 -6.6 0zM1184.8 146.7a3.3 3.3 0 1 0 6.6 0a3.3 3.3 0 1 0 -6.6 0zM1191.1 165.9a3.3 3.3 0 1 0 6.6 0a3.3 3.3 0 1 0 -6.6 0zM1197.3 216.9a3.3 3.3 0 1 0 6.6 0a3.3 3.3 0 1 0 -6.6 0zM1203.6 272.9a3.3 3.3 0 1 0 6.6 0a3.3 3.3 0 1 0 -6.6 0zM1209.8 325.5a3.3 3.3 0 1 0 6.6 0a3.3 3.3 0 1 0 -6.6 0zM1216.1 366.6a3.3 3.3 0 1 0 6.6 0a3.3 3.3 0 1 0 -6.6 0zM1222.3 394.9a3.3 3.3 0 1 0 6.6 0a3.3 3.3 0 1 0 -6.6 0zM1228.6 413.6a3.3 3.3 0 1 0 6.6 0a3.3 3.3 0 1 0 -6.6 0zM1234.8 425.5a3.3 3.3 0 1 0 6.6 0a3.3 3.3 0 1 0 -6.6 0zM1241.1 433.3a3.3 3.3 0 1 0 6.6 0a3.3 3.3 0 1 0 -6.6 0zM1247.3 438.3a3.3 3.3 0 1 0 6.6 0a3.3 3.3 0 1 0 -6.6 0zM1253.6 441.4a3.3 3.3 0 1 0 6.6 0a3.3 3.3 0 1 0 -6.6 0zM1259.8 442.5a3.3 3.3 0 1 0 6.6 0a3.3 3.3 0 1 0 -6.6 0zM1266.1 444.4a3.3 3.3 0 1 0 6.6 0a3.3 3.3 0 1 0 -6.6 0zM1272.3 445.7a3.3 3.3 0 1 0 6.6 0a3.3 3.3 0 1 0 -6.6 0zM1278.6 447.8a3.3 3.3 0 1 0 6.6 0a3.3 3.3 0 1 0 -6.6 0zM1284.8 447.1a3.3 3.3 0 1 0 6.6 0a3.3 3.3 0 1 0 -6.6 0zM1291.1 450.2a3.3 3.3 0 1 0 6.6 0a3.3 3.3 0 1 0 -6.6 0zM1297.3 449.6a3.3 3.3 0 1 0 6.6 0a3.3 3.3 0 1 0 -6.6 0zM1303.6 450.0a3.3 3.3 0 1 0 6.6 0a3.3 3.3 0 1 0 -6.6 0zM1309.8 451.3a3.3 3.3 0 1 0 6.6 0a3.3 3.3 0 1 0 -6.6 0zM1316.1 452.2a3.3 3.3 0 1 0 6.6 0a3.3 3.3 0 1 0 -6.6 0zM1322.3 452.1a3.3 3.3 0 1 0 6.6 0a3.3 3.3 0 1 0 -6.6 0zM1328.6 453.0a3.3 3.3 0 1 0 6.6 0a3.3 3.3 0 1 0 -6.6 0zM1334.8 452.6a3.3 3.3 0 1 0 6.6 0a3.3 3.3 0 1 0 -6.6 0zM1341.1 453.7a3.3 3.3 0 1 0 6.6 0a3.3 3.3 0 1 0 -6.6 0zM1347.3 453.9a3.3 3.3 0 1 0 6.6 0a3.3 3.3 0 1 0 -6.6 0zM1353.6 453.2a3.3 3.3 0 1 0 6.6 0a3.3 3.3 0 1 0 -6.6 0zM1359.8 454.5a3.3 3.3 0 1 0 6.6 0a3.3 3.3 0 1 0 -6.6 0zM1366.1 453.8a3.3 3.3 0 1 0 6.6 0a3.3 3.3 0 1 0 -6.6 0zM1372.3 453.9a3.3 3.3 0 1 0 6.6 0a3.3 3.3 0 1 0 -6.6 0z" fill="#800080"/>
<polyline points="750.7,430.9 756.9,431.2 763.2,431.8 769.4,430.2 775.7,431.4 781.9,431.0 788.2,430.8 794.4,428.9 800.7,430.1 806.9,430.4 813.2,429.1 819.4,429.4 825.7,427.3 831.9,429.0 838.2,427.6 844.4,428.1 850.7,425.5 856.9,426.5 863.2,425.0 869.4,424.6 875.7,422.0 881.9,420.5 888.2,420.4 894.4,415.2 900.7,410.9 906.9,404.3 913.2,392.5 919.4,375.7 925.7,347.8 931.9,306.0 938.2,254.0 944.4,199.2 950.7,150.3 956.9,129.1 963.2,148.3 969.4,195.5 975.7,254.0 981.9,306.2 988.2,348.0 994.4,379.3 1000.7,397.4 1006.9,411.4 1013.2,417.0 1019.4,421.0 1025.7,424.9 1031.9,427.6 1038.2,428.1 1044.4,428.0 1050.7,429.8 1056.9,431.0 1063.2,430.0 1069.4,429.8 1075.6,430.9 1081.9,430.0 1088.1,428.5 1094.4,428.2 1100.6,426.8 1106.9,426.0 1113.1,423.9 1119.4,421.9 1125.6,417.6 1131.9,410.0 1138.1,401.7 1144.4,385.9 1150.6,359.5 1156.9,320.2 1163.1,263.6 1169.4,194.1 1175.6,121.5 1181.9,61.5 1188.1,43.5 1194.4,80.5 1200.6,147.5 1206.9,223.7 1213.1,290.1 1219.4,341.9 1225.6,378.1 1231.9,401.9 1238.1,416.8 1244.4,423.7 1250.6,431.5 1256.9,434.0 1263.1,437.0 1269.4,440.5 1275.6,441.7 1281.9,442.2 1288.1,445.8 1294.4,444.9 1300.6,446.6 1306.9,447.3 1313.1,448.8 1319.4,448.1 1325.6,449.6 1331.9,448.9 1338.1,450.5 1344.4,449.6 1350.6,450.2 1356.9,452.0 1363.1,451.2 1369.4,451.3 1375.6,453.0" fill="none" stroke="#800000" stroke-width="1.4" stroke-linejoin="round"/>
<path d="M747.4 430.9a3.3 3.3 0 1 0 6.6 0a3.3 3.3 0 1 0 -6.6 0zM753.6 431.2a3.3 3.3 0 1 0 6.6 0a3.3 3.3 0 1 0 -6.6 0zM759.9 431.8a3.3 3.3 0 1 0 6.6 0a3.3 3.3 0 1 0 -6.6 0zM766.1 430.2a3.3 3.3 0 1 0 6.6 0a3.3 3.3 0 1 0 -6.6 0zM772.4 431.4a3.3 3.3 0 1 0 6.6 0a3.3 3.3 0 1 0 -6.6 0zM778.6 431.0a3.3 3.3 0 1 0 6.6 0a3.3 3.3 0 1 0 -6.6 0zM784.9 430.8a3.3 3.3 0 1 0 6.6 0a3.3 3.3 0 1 0 -6.6 0zM791.1 428.9a3.3 3.3 0 1 0 6.6 0a3.3 3.3 0 1 0 -6.6 0zM797.4 430.1a3.3 3.3 0 1 0 6.6 0a3.3 3.3 0 1 0 -6.6 0zM803.6 430.4a3.3 3.3 0 1 0 6.6 0a3.3 3.3 0 1 0 -6.6 0zM809.9 429.1a3.3 3.3 0 1 0 6.6 0a3.3 3.3 0 1 0 -6.6 0zM816.1 429.4a3.3 3.3 0 1 0 6.6 0a3.3 3.3 0 1 0 -6.6 0zM822.4 427.3a3.3 3.3 0 1 0 6.6 0a3.3 3.3 0 1 0 -6.6 0zM828.6 429.0a3.3 3.3 0 1 0 6.6 0a3.3 3.3 0 1 0 -6.6 0zM834.9 427.6a3.3 3.3 0 1 0 6.6 0a3.3 3.3 0 1 0 -6.6 0zM841.1 428.1a3.3 3.3 0 1 0 6.6 0a3.3 3.3 0 1 0 -6.6 0zM847.4 425.5a3.3 3.3 0 1 0 6.6 0a3.3 3.3 0 1 0 -6.6 0zM853.6 426.5a3.3 3.3 0 1 0 6.6 0a3.3 3.3 0 1 0 -6.6 0zM859.9 425.0a3.3 3.3 0 1 0 6.6 0a3.3 3.3 0 1 0 -6.6 0zM866.1 424.6a3.3 3.3 0 1 0 6.6 0a3.3 3.3 0 1 0 -6.6 0zM872.4 422.0a3.3 3.3 0 1 0 6.6 0a3.3 3.3 0 1 0 -6.6 0zM878.6 420.5a3.3 3.3 0 1 0 6.6 0a3.3 3.3 0 1 0 -6.6 0zM884.9 420.4a3.3 3.3 0 1 0 6.6 0a3.3 3.3 0 1 0 -6.6 0zM891.1 415.2a3.3 3.3 0 1 0 6.6 0a3.3 3.3 0 1 0 -6.6 0zM897.4 410.9a3.3 3.3 0 1 0 6.6 0a3.3 3.3 0 1 0 -6.6 0zM903.6 404.3a3.3 3.3 0 1 0 6.6 0a3.3 3.3 0 1 0 -6.6 0zM909.9 392.5a3.3 3.3 0 1 0 6.6 0a3.3 3.3 0 1 0 -6.6 0zM916.1 375.7a3.3 3.3 0 1 0 6.6 0a3.3 3.3 0 1 0 -6.6 0zM922.4 347.8a3.3 3.3 0 1 0 6.6 0a3.3 3.3 0 1 0 -6.6 0zM928.6 306.0a3.3 3.3 0 1 0 6.6 0a3.3 3.3 0 1 0 -6.6 0zM934.9 254.0a3.3 3.3 0 1 0 6.6 0a3.3 3.3 0 1 0 -6.6 0zM941.1 199.2a3.3 3.3 0 1 0 6.6 0a3.3 3.3 0 1 0 -6.6 0zM947.4 150.3a3.3 3.3 0 1 0 6.6 0a3.3 3.3 0 1 0 -6.6 0zM953.6 129.1a3.3 3.3 0 1 0 6.6 0a3.3 3.3 0 1 0 -6.6 0zM959.9 148.3a3.3 3.3 0 1 0 6.6 0a3.3 3.3 0 1 0 -6.6 0zM966.1 195.5a3.3 3.3 0 1 0 6.6 0a3.3 3.3 0 1 0 -6.6 0zM972.4 254.0a3.3 3.3 0 1 0 6.6 0a3.3 3.3 0 1 0 -6.6 0zM978.6 306.2a3.3 3.3 0 1 0 6.6 0a3.3 3.3 0 1 0 -6.6 0zM984.9 348.0a3.3 3.3 0 1 0 6.6 0a3.3 3.3 0 1 0 -6.6 0zM991.1 379.3a3.3 3.3 0 1 0 6.6 0a3.3 3.3 0 1 0 -6.6 0zM997.4 397.4a3.3 3.3 0 1 0 6.6 0a3.3 3.3 0 1 0 -6.6 0zM1003.6 411.4a3.3 3.3 0 1 0 6.6 0a3.3 3.3 0 1 0 -6.6 0zM1009.9 417.0a3.3 3.3 0 1 0 6.6 0a3.3 3.3 0 1 0 -6.6 0zM1016.1 421.0a3.3 3.3 0 1 0 6.6 0a3.3 3.3 0 1 0 -6.6 0zM1022.4 424.9a3.3 3.3 0 1 0 6.6 0a3.3 3.3 0 1 0 -6.6 0zM1028.6 427.6a3.3 3.3 0 1 0 6.6 0a3.3 3.3 0 1 0 -6.6 0zM1034.9 428.1a3.3 3.3 0 1 0 6.6 0a3.3 3.3 0 1 0 -6.6 0zM1041.1 428.0a3.3 3.3 0 1 0 6.6 0a3.3 3.3 0 1 0 -6.6 0zM1047.4 429.8a3.3 3.3 0 1 0 6.6 0a3.3 3.3 0 1 0 -6.6 0zM1053.6 431.0a3.3 3.3 0 1 0 6.6 0a3.3 3.3 0 1 0 -6.6 0zM1059.9 430.0a3.3 3.3 0 1 0 6.6 0a3.3 3.3 0 1 0 -6.6 0zM1066.1 429.8a3.3 3.3 0 1 0 6.6 0a3.3 3.3 0 1 0 -6.6 0zM1072.3 430.9a3.3 3.3 0 1 0 6.6 0a3.3 3.3 0 1 0 -6.6 0zM1078.6 430.0a3.3 3.3 0 1 0 6.6 0a3.3 3.3 0 1 0 -6.6 0zM1084.8 428.5a3.3 3.3 0 1 0 6.6 0a3.3 3.3 0 1 0 -6.6 0zM1091.1 428.2a3.3 3.3 0 1 0 6.6 0a3.3 3.3 0 1 0 -6.6 0zM1097.3 426.8a3.3 3.3 0 1 0 6.6 0a3.3 3.3 0 1 0 -6.6 0zM1103.6 426.0a3.3 3.3 0 1 0 6.6 0a3.3 3.3 0 1 0 -6.6 0zM1109.8 423.9a3.3 3.3 0 1 0 6.6 0a3.3 3.3 0 1 0 -6.6 0zM1116.1 421.9a3.3 3.3 0 1 0 6.6 0a3.3 3.3 0 1 0 -6.6 0zM1122.3 417.6a3.3 3.3 0 1 0 6.6 0a3.3 3.3 0 1 0 -6.6 0zM1128.6 410.0a3.3 3.3 0 1 0 6.6 0a3.3 3.3 0 1 0 -6.6 0zM1134.8 401.7a3.3 3.3 0 1 0 6.6 0a3.3 3.3 0 1 0 -6.6 0zM1141.1 385.9a3.3 3.3 0 1 0 6.6 0a3.3 3.3 0 1 0 -6.6 0zM1147.3 359.5a3.3 3.3 0 1 0 6.6 0a3.3 3.3 0 1 0 -6.6 0zM1153.6 320.2a3.3 3.3 0 1 0 6.6 0a3.3 3.3 0 1 0 -6.6 0zM1159.8 263.6a3.3 3.3 0 1 0 6.6 0a3.3 3.3 0 1 0 -6.6 0zM1166.1 194.1a3.3 3.3 0 1 0 6.6 0a3.3 3.3 0 1 0 -6.6 0zM1172.3 121.5a3.3 3.3 0 1 0 6.6 0a3.3 3.3 0 1 0 -6.6 0zM1178.6 61.5a3.3 3.3 0 1 0 6.6 0a3.3 3.3 0 1 0 -6.6 0zM1184.8 43.5a3.3 3.3 0 1 0 6.6 0a3.3 3.3 0 1 0 -6.6 0zM1191.1 80.5a3.3 3.3 0 1 0 6.6 0a3.3 3.3 0 1 0 -6.6 0zM1197.3 147.5a3.3 3.3 0 1 0 6.6 0a3.3 3.3 0 1 0 -6.6 0zM1203.6 223.7a3.3 3.3 0 1 0 6.6 0a3.3 3.3 0 1 0 -6.6 0zM1209.8 290.1a3.3 3.3 0 1 0 6.6 0a3.3 3.3 0 1 0 -6.6 0zM1216.1 341.9a3.3 3.3 0 1 0 6.6 0a3.3 3.3 0 1 0 -6.6 0zM1222.3 378.1a3.3 3.3 0 1 0 6.6 0a3.3 3.3 0 1 0 -6.6 0zM1228.6 401.9a3.3 3.3 0 1 0 6.6 0a3.3 3.3 0 1 0 -6.6 0zM1234.8 416.8a3.3 3.3 0 1 0 6.6 0a3.3 3.3 0 1 0 -6.6 0zM1241.1 423.7a3.3 3.3 0 1 0 6.6 0a3.3 3.3 0 1 0 -6.6 0zM1247.3 431.5a3.3 3.3 0 1 0 6.6 0a3.3 3.3 0 1 0 -6.6 0zM1253.6 434.0a3.3 3.3 0 1 0 6.6 0a3.3 3.3 0 1 0 -6.6 0zM1259.8 437.0a3.3 3.3 0 1 0 6.6 0a3.3 3.3 0 1 0 -6.6 0zM1266.1 440.5a3.3 3.3 0 1 0 6.6 0a3.3 3.3 0 1 0 -6.6 0zM1272.3 441.7a3.3 3.3 0 1 0 6.6 0a3.3 3.3 0 1 0 -6.6 0zM1278.6 442.2a3.3 3.3 0 1 0 6.6 0a3.3 3.3 0 1 0 -6.6 0zM1284.8 445.8a3.3 3.3 0 1 0 6.6 0a3.3 3.3 0 1 0 -6.6 0zM1291.1 444.9a3.3 3.3 0 1 0 6.6 0a3.3 3.3 0 1 0 -6.6 0zM1297.3 446.6a3.3 3.3 0 1 0 6.6 0a3.3 3.3 0 1 0 -6.6 0zM1303.6 447.3a3.3 3.3 0 1 0 6.6 0a3.3 3.3 0 1 0 -6.6 0zM1309.8 448.8a3.3 3.3 0 1 0 6.6 0a3.3 3.3 0 1 0 -6.6 0zM1316.1 448.1a3.3 3.3 0 1 0 6.6 0a3.3 3.3 0 1 0 -6.6 0zM1322.3 449.6a3.3 3.3 0 1 0 6.6 0a3.3 3.3 0 1 0 -6.6 0zM1328.6 448.9a3.3 3.3 0 1 0 6.6 0a3.3 3.3 0 1 0 -6.6 0zM1334.8 450.5a3.3 3.3 0 1 0 6.6 0a3.3 3.3 0 1 0 -6.6 0zM1341.1 449.6a3.3 3.3 0 1 0 6.6 0a3.3 3.3 0 1 0 -6.6 0zM1347.3 450.2a3.3 3.3 0 1 0 6.6 0a3.3 3.3 0 1 0 -6.6 0zM1353.6 452.0a3.3 3.3 0 1 0 6.6 0a3.3 3.3 0 1 0 -6.6 0zM1359.8 451.2a3.3 3.3 0 1 0 6.6 0a3.3 3.3 0 1 0 -6.6 0zM1366.1 451.3a3.3 3.3 0 1 0 6.6 0a3.3 3.3 0 1 0 -6.6 0zM1372.3 453.0a3.3 3.3 0 1 0 6.6 0a3.3 3.3 0 1 0 -6.6 0z" fill="#800000"/>
</g>
<g>
<polyline points="67.4,972.3 72.2,971.5 77.0,972.6 81.8,971.3 86.6,972.9 91.4,973.0 96.3,971.8 101.1,971.8 105.9,972.4 110.7,972.3 115.5,971.7 120.3,972.8 125.1,971.0 129.9,972.1 134.7,972.2 139.5,972.3 144.3,972.8 149.2,971.7 154.0,973.0 158.8,972.5 163.6,972.2 168.4,971.7 173.2,971.9 178.0,973.0 182.8,972.1 187.6,972.8 192.4,973.5 197.2,973.4 202.1,973.8 206.9,972.4 211.7,971.7 216.5,973.1 221.3,972.4 226.1,972.6 230.9,971.5 235.7,971.8 240.5,970.9 245.3,970.0 250.2,968.8 255.0,967.4 259.8,965.7 264.6,963.7 269.4,961.9 274.2,958.0 279.0,956.3 283.8,951.1 288.6,947.3 293.4,941.4 298.2,935.4 303.1,930.4 307.9,921.4 312.7,912.7 317.5,904.4 322.3,895.3 327.1,887.1 331.9,875.2 336.7,864.8 341.5,852.1 346.3,841.5 351.1,829.9 356.0,818.7 360.8,804.8 365.6,793.5 370.4,780.9 375.2,767.6 380.0,755.9 384.8,743.5 389.6,730.0 394.4,720.7 399.2,710.2 404.0,700.5 408.9,692.8 413.7,690.2 418.5,687.7 423.3,690.0 428.1,695.6 432.9,703.3 437.7,717.1 442.5,732.8 447.3,752.2 452.1,773.5 456.9,796.1 461.8,819.5 466.6,840.9 471.4,861.4 476.2,880.3 481.0,897.6 485.8,911.3 490.6,923.9 495.4,934.5 500.2,942.6 505.0,949.8 509.8,954.9 514.7,961.1 519.5,964.0 524.3,966.1 529.1,967.9 533.9,971.2 538.7,971.2 543.5,972.0 548.3,973.1 553.1,973.7 557.9,975.0 562.8,974.4 567.6,976.2 572.4,974.4 577.2,975.6 582.0,974.6 586.8,976.7 591.6,975.3 596.4,975.6 601.2,976.3 606.0,976.6 610.8,975.0 615.7,975.6 620.5,974.9 625.3,976.0 630.1,975.9 634.9,975.7 639.7,975.5 644.5,975.8 649.3,975.6 654.1,976.5 658.9,977.2 663.7,974.8 668.6,976.1 673.4,976.0 678.2,976.6 683.0,975.7 687.8,976.3 692.6,975.7" fill="none" stroke="#000000" stroke-width="1.2" stroke-linejoin="round"/>
<path d="M64.1 972.3a3.3 3.3 0 1 0 6.6 0a3.3 3.3 0 1 0 -6.6 0zM68.9 971.5a3.3 3.3 0 1 0 6.6 0a3.3 3.3 0 1 0 -6.6 0zM73.7 972.6a3.3 3.3 0 1 0 6.6 0a3.3 3.3 0 1 0 -6.6 0zM78.5 971.3a3.3 3.3 0 1 0 6.6 0a3.3 3.3 0 1 0 -6.6 0zM83.3 972.9a3.3 3.3 0 1 0 6.6 0a3.3 3.3 0 1 0 -6.6 0zM88.1 973.0a3.3 3.3 0 1 0 6.6 0a3.3 3.3 0 1 0 -6.6 0zM93.0 971.8a3.3 3.3 0 1 0 6.6 0a3.3 3.3 0 1 0 -6.6 0zM97.8 971.8a3.3 3.3 0 1 0 6.6 0a3.3 3.3 0 1 0 -6.6 0zM102.6 972.4a3.3 3.3 0 1 0 6.6 0a3.3 3.3 0 1 0 -6.6 0zM107.4 972.3a3.3 3.3 0 1 0 6.6 0a3.3 3.3 0 1 0 -6.6 0zM112.2 971.7a3.3 3.3 0 1 0 6.6 0a3.3 3.3 0 1 0 -6.6 0zM117.0 972.8a3.3 3.3 0 1 0 6.6 0a3.3 3.3 0 1 0 -6.6 0zM121.8 971.0a3.3 3.3 0 1 0 6.6 0a3.3 3.3 0 1 0 -6.6 0zM126.6 972.1a3.3 3.3 0 1 0 6.6 0a3.3 3.3 0 1 0 -6.6 0zM131.4 972.2a3.3 3.3 0 1 0 6.6 0a3.3 3.3 0 1 0 -6.6 0zM136.2 972.3a3.3 3.3 0 1 0 6.6 0a3.3 3.3 0 1 0 -6.6 0zM141.0 972.8a3.3 3.3 0 1 0 6.6 0a3.3 3.3 0 1 0 -6.6 0zM145.9 971.7a3.3 3.3 0 1 0 6.6 0a3.3 3.3 0 1 0 -6.6 0zM150.7 973.0a3.3 3.3 0 1 0 6.6 0a3.3 3.3 0 1 0 -6.6 0zM155.5 972.5a3.3 3.3 0 1 0 6.6 0a3.3 3.3 0 1 0 -6.6 0zM160.3 972.2a3.3 3.3 0 1 0 6.6 0a3.3 3.3 0 1 0 -6.6 0zM165.1 971.7a3.3 3.3 0 1 0 6.6 0a3.3 3.3 0 1 0 -6.6 0zM169.9 971.9a3.3 3.3 0 1 0 6.6 0a3.3 3.3 0 1 0 -6.6 0zM174.7 973.0a3.3 3.3 0 1 0 6.6 0a3.3 3.3 0 1 0 -6.6 0zM179.5 972.1a3.3 3.3 0 1 0 6.6 0a3.3 3.3 0 1 0 -6.6 0zM184.3 972.8a3.3 3.3 0 1 0 6.6 0a3.3 3.3 0 1 0 -6.6 0zM189.1 973.5a3.3 3.3 0 1 0 6.6 0a3.3 3.3 0 1 0 -6.6 0zM193.9 973.4a3.3 3.3 0 1 0 6.6 0a3.3 3.3 0 1 0 -6.6 0zM198.8 973.8a3.3 3.3 0 1 0 6.6 0a3.3 3.3 0 1 0 -6.6 0zM203.6 972.4a3.3 3.3 0 1 0 6.6 0a3.3 3.3 0 1 0 -6.6 0zM208.4 971.7a3.3 3.3 0 1 0 6.6 0a3.3 3.3 0 1 0 -6.6 0zM213.2 973.1a3.3 3.3 0 1 0 6.6 0a3.3 3.3 0 1 0 -6.6 0zM218.0 972.4a3.3 3.3 0 1 0 6.6 0a3.3 3.3 0 1 0 -6.6 0zM222.8 972.6a3.3 3.3 0 1 0 6.6 0a3.3 3.3 0 1 0 -6.6 0zM227.6 971.5a3.3 3.3 0 1 0 6.6 0a3.3 3.3 0 1 0 -6.6 0zM232.4 971.8a3.3 3.3 0 1 0 6.6 0a3.3 3.3 0 1 0 -6.6 0zM237.2 970.9a3.3 3.3 0 1 0 6.6 0a3.3 3.3 0 1 0 -6.6 0zM242.0 970.0a3.3 3.3 0 1 0 6.6 0a3.3 3.3 0 1 0 -6.6 0zM246.9 968.8a3.3 3.3 0 1 0 6.6 0a3.3 3.3 0 1 0 -6.6 0zM251.7 967.4a3.3 3.3 0 1 0 6.6 0a3.3 3.3 0 1 0 -6.6 0zM256.5 965.7a3.3 3.3 0 1 0 6.6 0a3.3 3.3 0 1 0 -6.6 0zM261.3 963.7a3.3 3.3 0 1 0 6.6 0a3.3 3.3 0 1 0 -6.6 0zM266.1 961.9a3.3 3.3 0 1 0 6.6 0a3.3 3.3 0 1 0 -6.6 0zM270.9 958.0a3.3 3.3 0 1 0 6.6 0a3.3 3.3 0 1 0 -6.6 0zM275.7 956.3a3.3 3.3 0 1 0 6.6 0a3.3 3.3 0 1 0 -6.6 0zM280.5 951.1a3.3 3.3 0 1 0 6.6 0a3.3 3.3 0 1 0 -6.6 0zM285.3 947.3a3.3 3.3 0 1 0 6.6 0a3.3 3.3 0 1 0 -6.6 0zM290.1 941.4a3.3 3.3 0 1 0 6.6 0a3.3 3.3 0 1 0 -6.6 0zM294.9 935.4a3.3 3.3 0 1 0 6.6 0a3.3 3.3 0 1 0 -6.6 0zM299.8 930.4a3.3 3.3 0 1 0 6.6 0a3.3 3.3 0 1 0 -6.6 0zM304.6 921.4a3.3 3.3 0 1 0 6.6 0a3.3 3.3 0 1 0 -6.6 0zM309.4 912.7a3.3 3.3 0 1 0 6.6 0a3.3 3.3 0 1 0 -6.6 0zM314.2 904.4a3.3 3.3 0 1 0 6.6 0a3.3 3.3 0 1 0 -6.6 0zM319.0 895.3a3.3 3.3 0 1 0 6.6 0a3.3 3.3 0 1 0 -6.6 0zM323.8 887.1a3.3 3.3 0 1 0 6.6 0a3.3 3.3 0 1 0 -6.6 0zM328.6 875.2a3.3 3.3 0 1 0 6.6 0a3.3 3.3 0 1 0 -6.6 0zM333.4 864.8a3.3 3.3 0 1 0 6.6 0a3.3 3.3 0 1 0 -6.6 0zM338.2 852.1a3.3 3.3 0 1 0 6.6 0a3.3 3.3 0 1 0 -6.6 0zM343.0 841.5a3.3 3.3 0 1 0 6.6 0a3.3 3.3 0 1 0 -6.6 0zM347.8 829.9a3.3 3.3 0 1 0 6.6 0a3.3 3.3 0 1 0 -6.6 0zM352.7 818.7a3.3 3.3 0 1 0 6.6 0a3.3 3.3 0 1 0 -6.6 0zM357.5 804.8a3.3 3.3 0 1 0 6.6 0a3.3 3.3 0 1 0 -6.6 0zM362.3 793.5a3.3 3.3 0 1 0 6.6 0a3.3 3.3 0 1 0 -6.6 0zM367.1 780.9a3.3 3.3 0 1 0 6.6 0a3.3 3.3 0 1 0 -6.6 0zM371.9 767.6a3.3 3.3 0 1 0 6.6 0a3.3 3.3 0 1 0 -6.6 0zM376.7 755.9a3.3 3.3 0 1 0 6.6 0a3.3 3.3 0 1 0 -6.6 0zM381.5 743.5a3.3 3.3 0 1 0 6.6 0a3.3 3.3 0 1 0 -6.6 0zM386.3 730.0a3.3 3.3 0 1 0 6.6 0a3.3 3.3 0 1 0 -6.6 0zM391.1 720.7a3.3 3.3 0 1 0 6.6 0a3.3 3.3 0 1 0 -6.6 0zM395.9 710.2a3.3 3.3 0 1 0 6.6 0a3.3 3.3 0 1 0 -6.6 0zM400.7 700.5a3.3 3.3 0 1 0 6.6 0a3.3 3.3 0 1 0 -6.6 0zM405.6 692.8a3.3 3.3 0 1 0 6.6 0a3.3 3.3 0 1 0 -6.6 0zM410.4 690.2a3.3 3.3 0 1 0 6.6 0a3.3 3.3 0 1 0 -6.6 0zM415.2 687.7a3.3 3.3 0 1 0 6.6 0a3.3 3.3 0 1 0 -6.6 0zM420.0 690.0a3.3 3.3 0 1 0 6.6 0a3.3 3.3 0 1 0 -6.6 0zM424.8 695.6a3.3 3.3 0 1 0 6.6 0a3.3 3.3 0 1 0 -6.6 0zM429.6 703.3a3.3 3.3 0 1 0 6.6 0a3.3 3.3 0 1 0 -6.6 0zM434.4 717.1a3.3 3.3 0 1 0 6.6 0a3.3 3.3 0 1 0 -6.6 0zM439.2 732.8a3.3 3.3 0 1 0 6.6 0a3.3 3.3 0 1 0 -6.6 0zM444.0 752.2a3.3 3.3 0 1 0 6.6 0a3.3 3.3 0 1 0 -6.6 0zM448.8 773.5a3.3 3.3 0 1 0 6.6 0a3.3 3.3 0 1 0 -6.6 0zM453.6 796.1a3.3 3.3 0 1 0 6.6 0a3.3 3.3 0 1 0 -6.6 0zM458.5 819.5a3.3 3.3 0 1 0 6.6 0a3.3 3.3 0 1 0 -6.6 0zM463.3 840.9a3.3 3.3 0 1 0 6.6 0a3.3 3.3 0 1 0 -6.6 0zM468.1 861.4a3.3 3.3 0 1 0 6.6 0a3.3 3.3 0 1 0 -6.6 0zM472.9 880.3a3.3 3.3 0 1 0 6.6 0a3.3 3.3 0 1 0 -6.6 0zM477.7 897.6a3.3 3.3 0 1 0 6.6 0a3.3 3.3 0 1 0 -6.6 0zM482.5 911.3a3.3 3.3 0 1 0 6.6 0a3.3 3.3 0 1 0 -6.6 0zM487.3 923.9a3.3 3.3 0 1 0 6.6 0a3.3 3.3 0 1 0 -6.6 0zM492.1 934.5a3.3 3.3 0 1 0 6.6 0a3.3 3.3 0 1 0 -6.6 0zM496.9 942.6a3.3 3.3 0 1 0 6.6 0a3.3 3.3 0 1 0 -6.6 0zM501.7 949.8a3.3 3.3 0 1 0 6.6 0a3.3 3.3 0 1 0 -6.6 0zM506.5 954.9a3.3 3.3 0 1 0 6.6 0a3.3 3.3 0 1 0 -6.6 0zM511.4 961.1a3.3 3.3 0 1 0 6.6 0a3.3 3.3 0 1 0 -6.6 0zM516.2 964.0a3.3 3.3 0 1 0 6.6 0a3.3 3.3 0 1 0 -6.6 0zM521.0 966.1a3.3 3.3 0 1 0 6.6 0a3.3 3.3 0 1 0 -6.6 0zM525.8 967.9a3.3 3.3 0 1 0 6.6 0a3.3 3.3 0 1 0 -6.6 0zM530.6 971.2a3.3 3.3 0 1 0 6.6 0a3.3 3.3 0 1 0 -6.6 0zM535.4 971.2a3.3 3.3 0 1 0 6.6 0a3.3 3.3 0 1 0 -6.6 0zM540.2 972.0a3.3 3.3 0 1 0 6.6 0a3.3 3.3 0 1 0 -6.6 0zM545.0 973.1a3.3 3.3 0 1 0 6.6 0a3.3 3.3 0 1 0 -6.6 0zM549.8 973.7a3.3 3.3 0 1 0 6.6 0a3.3 3.3 0 1 0 -6.6 0zM554.6 975.0a3.3 3.3 0 1 0 6.6 0a3.3 3.3 0 1 0 -6.6 0zM559.5 974.4a3.3 3.3 0 1 0 6.6 0a3.3 3.3 0 1 0 -6.6 0zM564.3 976.2a3.3 3.3 0 1 0 6.6 0a3.3 3.3 0 1 0 -6.6 0zM569.1 974.4a3.3 3.3 0 1 0 6.6 0a3.3 3.3 0 1 0 -6.6 0zM573.9 975.6a3.3 3.3 0 1 0 6.6 0a3.3 3.3 0 1 0 -6.6 0zM578.7 974.6a3.3 3.3 0 1 0 6.6 0a3.3 3.3 0 1 0 -6.6 0zM583.5 976.7a3.3 3.3 0 1 0 6.6 0a3.3 3.3 0 1 0 -6.6 0zM588.3 975.3a3.3 3.3 0 1 0 6.6 0a3.3 3.3 0 1 0 -6.6 0zM593.1 975.6a3.3 3.3 0 1 0 6.6 0a3.3 3.3 0 1 0 -6.6 0zM597.9 976.3a3.3 3.3 0 1 0 6.6 0a3.3 3.3 0 1 0 -6.6 0zM602.7 976.6a3.3 3.3 0 1 0 6.6 0a3.3 3.3 0 1 0 -6.6 0zM607.5 975.0a3.3 3.3 0 1 0 6.6 0a3.3 3.3 0 1 0 -6.6 0zM612.4 975.6a3.3 3.3 0 1 0 6.6 0a3.3 3.3 0 1 0 -6.6 0zM617.2 974.9a3.3 3.3 0 1 0 6.6 0a3.3 3.3 0 1 0 -6.6 0zM622.0 976.0a3.3 3.3 0 1 0 6.6 0a3.3 3.3 0 1 0 -6.6 0zM626.8 975.9a3.3 3.3 0 1 0 6.6 0a3.3 3.3 0 1 0 -6.6 0zM631.6 975.7a3.3 3.3 0 1 0 6.6 0a3.3 3.3 0 1 0 -6.6 0zM636.4 975.5a3.3 3.3 0 1 0 6.6 0a3.3 3.3 0 1 0 -6.6 0zM641.2 975.8a3.3 3.3 0 1 0 6.6 0a3.3 3.3 0 1 0 -6.6 0zM646.0 975.6a3.3 3.3 0 1 0 6.6 0a3.3 3.3 0 1 0 -6.6 0zM650.8 976.5a3.3 3.3 0 1 0 6.6 0a3.3 3.3 0 1 0 -6.6 0zM655.6 977.2a3.3 3.3 0 1 0 6.6 0a3.3 3.3 0 1 0 -6.6 0zM660.4 974.8a3.3 3.3 0 1 0 6.6 0a3.3 3.3 0 1 0 -6.6 0zM665.3 976.1a3.3 3.3 0 1 0 6.6 0a3.3 3.3 0 1 0 -6.6 0zM670.1 976.0a3.3 3.3 0 1 0 6.6 0a3.3 3.3 0 1 0 -6.6 0zM674.9 976.6a3.3 3.3 0 1 0 6.6 0a3.3 3.3 0 1 0 -6.6 0zM679.7 975.7a3.3 3.3 0 1 0 6.6 0a3.3 3.3 0 1 0 -6.6 0zM684.5 976.3a3.3 3.3 0 1 0 6.6 0a3.3 3.3 0 1 0 -6.6 0zM689.3 975.7a3.3 3.3 0 1 0 6.6 0a3.3 3.3 0 1 0 -6.6 0z" fill="#000000"/>
<polyline points="67.4,972.5 72.2,972.1 77.0,972.0 81.8,972.4 86.6,972.0 91.4,971.1 96.3,972.6 101.1,972.4 105.9,972.2 110.7,973.0 115.5,973.2 120.3,971.6 125.1,971.9 129.9,973.5 134.7,973.5 139.5,972.0 144.3,971.7 149.2,972.1 154.0,972.3 158.8,971.5 163.6,972.7 168.4,971.8 173.2,971.9 178.0,973.4 182.8,972.3 187.6,972.7 192.4,973.2 197.2,973.3 202.1,972.5 206.9,972.7 211.7,972.0 216.5,973.7 221.3,972.7 226.1,971.3 230.9,971.7 235.7,971.8 240.5,971.0 245.3,971.3 250.2,970.1 255.0,967.6 259.8,966.5 264.6,964.0 269.4,963.0 274.2,960.5 279.0,959.4 283.8,954.2 288.6,948.8 293.4,945.3 298.2,940.8 303.1,934.1 307.9,928.1 312.7,921.5 317.5,914.4 322.3,906.0 327.1,896.8 331.9,888.9 336.7,878.5 341.5,868.7 346.3,857.9 351.1,847.9 356.0,838.1 360.8,825.4 365.6,815.0 370.4,803.7 375.2,790.7 380.0,778.4 384.8,764.6 389.6,753.3 394.4,740.6 399.2,728.3 404.0,716.8 408.9,709.3 413.7,705.6 418.5,704.6 423.3,705.9 428.1,713.1 432.9,722.3 437.7,736.8 442.5,754.1 447.3,774.0 452.1,793.6 456.9,816.9 461.8,838.5 466.6,857.0 471.4,875.7 476.2,893.7 481.0,907.8 485.8,919.3 490.6,932.2 495.4,940.6 500.2,947.4 505.0,955.0 509.8,958.3 514.7,961.4 519.5,964.9 524.3,966.4 529.1,968.4 533.9,970.7 538.7,971.2 543.5,972.2 548.3,974.4 553.1,974.4 557.9,974.8 562.8,974.9 567.6,975.2 572.4,976.1 577.2,975.2 582.0,976.7 586.8,974.8 591.6,975.4 596.4,974.7 601.2,975.4 606.0,976.1 610.8,976.8 615.7,975.4 620.5,975.9 625.3,975.7 630.1,975.4 634.9,975.2 639.7,976.1 644.5,974.8 649.3,976.2 654.1,976.1 658.9,975.7 663.7,975.5 668.6,975.3 673.4,977.6 678.2,975.4 683.0,977.4 687.8,976.8 692.6,976.1" fill="none" stroke="#ff0000" stroke-width="1.2" stroke-linejoin="round"/>
<path d="M64.1 972.5a3.3 3.3 0 1 0 6.6 0a3.3 3.3 0 1 0 -6.6 0zM68.9 972.1a3.3 3.3 0 1 0 6.6 0a3.3 3.3 0 1 0 -6.6 0zM73.7 972.0a3.3 3.3 0 1 0 6.6 0a3.3 3.3 0 1 0 -6.6 0zM78.5 972.4a3.3 3.3 0 1 0 6.6 0a3.3 3.3 0 1 0 -6.6 0zM83.3 972.0a3.3 3.3 0 1 0 6.6 0a3.3 3.3 0 1 0 -6.6 0zM88.1 971.1a3.3 3.3 0 1 0 6.6 0a3.3 3.3 0 1 0 -6.6 0zM93.0 972.6a3.3 3.3 0 1 0 6.6 0a3.3 3.3 0 1 0 -6.6 0zM97.8 972.4a3.3 3.3 0 1 0 6.6 0a3.3 3.3 0 1 0 -6.6 0zM102.6 972.2a3.3 3.3 0 1 0 6.6 0a3.3 3.3 0 1 0 -6.6 0zM107.4 973.0a3.3 3.3 0 1 0 6.6 0a3.3 3.3 0 1 0 -6.6 0zM112.2 973.2a3.3 3.3 0 1 0 6.6 0a3.3 3.3 0 1 0 -6.6 0zM117.0 971.6a3.3 3.3 0 1 0 6.6 0a3.3 3.3 0 1 0 -6.6 0zM121.8 971.9a3.3 3.3 0 1 0 6.6 0a3.3 3.3 0 1 0 -6.6 0zM126.6 973.5a3.3 3.3 0 1 0 6.6 0a3.3 3.3 0 1 0 -6.6 0zM131.4 973.5a3.3 3.3 0 1 0 6.6 0a3.3 3.3 0 1 0 -6.6 0zM136.2 972.0a3.3 3.3 0 1 0 6.6 0a3.3 3.3 0 1 0 -6.6 0zM141.0 971.7a3.3 3.3 0 1 0 6.6 0a3.3 3.3 0 1 0 -6.6 0zM145.9 972.1a3.3 3.3 0 1 0 6.6 0a3.3 3.3 0 1 0 -6.6 0zM150.7 972.3a3.3 3.3 0 1 0 6.6 0a3.3 3.3 0 1 0 -6.6 0zM155.5 971.5a3.3 3.3 0 1 0 6.6 0a3.3 3.3 0 1 0 -6.6 0zM160.3 972.7a3.3 3.3 0 1 0 6.6 0a3.3 3.3 0 1 0 -6.6 0zM165.1 971.8a3.3 3.3 0 1 0 6.6 0a3.3 3.3 0 1 0 -6.6 0zM169.9 971.9a3.3 3.3 0 1 0 6.6 0a3.3 3.3 0 1 0 -6.6 0zM174.7 973.4a3.3 3.3 0 1 0 6.6 0a3.3 3.3 0 1 0 -6.6 0zM179.5 972.3a3.3 3.3 0 1 0 6.6 0a3.3 3.3 0 1 0 -6.6 0zM184.3 972.7a3.3 3.3 0 1 0 6.6 0a3.3 3.3 0 1 0 -6.6 0zM189.1 973.2a3.3 3.3 0 1 0 6.6 0a3.3 3.3 0 1 0 -6.6 0zM193.9 973.3a3.3 3.3 0 1 0 6.6 0a3.3 3.3 0 1 0 -6.6 0zM198.8 972.5a3.3 3.3 0 1 0 6.6 0a3.3 3.3 0 1 0 -6.6 0zM203.6 972.7a3.3 3.3 0 1 0 6.6 0a3.3 3.3 0 1 0 -6.6 0zM208.4 972.0a3.3 3.3 0 1 0 6.6 0a3.3 3.3 0 1 0 -6.6 0zM213.2 973.7a3.3 3.3 0 1 0 6.6 0a3.3 3.3 0 1 0 -6.6 0zM218.0 972.7a3.3 3.3 0 1 0 6.6 0a3.3 3.3 0 1 0 -6.6 0zM222.8 971.3a3.3 3.3 0 1 0 6.6 0a3.3 3.3 0 1 0 -6.6 0zM227.6 971.7a3.3 3.3 0 1 0 6.6 0a3.3 3.3 0 1 0 -6.6 0zM232.4 971.8a3.3 3.3 0 1 0 6.6 0a3.3 3.3 0 1 0 -6.6 0zM237.2 971.0a3.3 3.3 0 1 0 6.6 0a3.3 3.3 0 1 0 -6.6 0zM242.0 971.3a3.3 3.3 0 1 0 6.6 0a3.3 3.3 0 1 0 -6.6 0zM246.9 970.1a3.3 3.3 0 1 0 6.6 0a3.3 3.3 0 1 0 -6.6 0zM251.7 967.6a3.3 3.3 0 1 0 6.6 0a3.3 3.3 0 1 0 -6.6 0zM256.5 966.5a3.3 3.3 0 1 0 6.6 0a3.3 3.3 0 1 0 -6.6 0zM261.3 964.0a3.3 3.3 0 1 0 6.6 0a3.3 3.3 0 1 0 -6.6 0zM266.1 963.0a3.3 3.3 0 1 0 6.6 0a3.3 3.3 0 1 0 -6.6 0zM270.9 960.5a3.3 3.3 0 1 0 6.6 0a3.3 3.3 0 1 0 -6.6 0zM275.7 959.4a3.3 3.3 0 1 0 6.6 0a3.3 3.3 0 1 0 -6.6 0zM280.5 954.2a3.3 3.3 0 1 0 6.6 0a3.3 3.3 0 1 0 -6.6 0zM285.3 948.8a3.3 3.3 0 1 0 6.6 0a3.3 3.3 0 1 0 -6.6 0zM290.1 945.3a3.3 3.3 0 1 0 6.6 0a3.3 3.3 0 1 0 -6.6 0zM294.9 940.8a3.3 3.3 0 1 0 6.6 0a3.3 3.3 0 1 0 -6.6 0zM299.8 934.1a3.3 3.3 0 1 0 6.6 0a3.3 3.3 0 1 0 -6.6 0zM304.6 928.1a3.3 3.3 0 1 0 6.6 0a3.3 3.3 0 1 0 -6.6 0zM309.4 921.5a3.3 3.3 0 1 0 6.6 0a3.3 3.3 0 1 0 -6.6 0zM314.2 914.4a3.3 3.3 0 1 0 6.6 0a3.3 3.3 0 1 0 -6.6 0zM319.0 906.0a3.3 3.3 0 1 0 6.6 0a3.3 3.3 0 1 0 -6.6 0zM323.8 896.8a3.3 3.3 0 1 0 6.6 0a3.3 3.3 0 1 0 -6.6 0zM328.6 888.9a3.3 3.3 0 1 0 6.6 0a3.3 3.3 0 1 0 -6.6 0zM333.4 878.5a3.3 3.3 0 1 0 6.6 0a3.3 3.3 0 1 0 -6.6 0zM338.2 868.7a3.3 3.3 0 1 0 6.6 0a3.3 3.3 0 1 0 -6.6 0zM343.0 857.9a3.3 3.3 0 1 0 6.6 0a3.3 3.3 0 1 0 -6.6 0zM347.8 847.9a3.3 3.3 0 1 0 6.6 0a3.3 3.3 0 1 0 -6.6 0zM352.7 838.1a3.3 3.3 0 1 0 6.6 0a3.3 3.3 0 1 0 -6.6 0zM357.5 825.4a3.3 3.3 0 1 0 6.6 0a3.3 3.3 0 1 0 -6.6 0zM362.3 815.0a3.3 3.3 0 1 0 6.6 0a3.3 3.3 0 1 0 -6.6 0zM367.1 803.7a3.3 3.3 0 1 0 6.6 0a3.3 3.3 0 1 0 -6.6 0zM371.9 790.7a3.3 3.3 0 1 0 6.6 0a3.3 3.3 0 1 0 -6.6 0zM376.7 778.4a3.3 3.3 0 1 0 6.6 0a3.3 3.3 0 1 0 -6.6 0zM381.5 764.6a3.3 3.3 0 1 0 6.6 0a3.3 3.3 0 1 0 -6.6 0zM386.3 753.3a3.3 3.3 0 1 0 6.6 0a3.3 3.3 0 1 0 -6.6 0zM391.1 740.6a3.3 3.3 0 1 0 6.6 0a3.3 3.3 0 1 0 -6.6 0zM395.9 728.3a3.3 3.3 0 1 0 6.6 0a3.3 3.3 0 1 0 -6.6 0zM400.7 716.8a3.3 3.3 0 1 0 6.6 0a3.3 3.3 0 1 0 -6.6 0zM405.6 709.3a3.3 3.3 0 1 0 6.6 0a3.3 3.3 0 1 0 -6.6 0zM410.4 705.6a3.3 3.3 0 1 0 6.6 0a3.3 3.3 0 1 0 -6.6 0zM415.2 704.6a3.3 3.3 0 1 0 6.6 0a3.3 3.3 0 1 0 -6.6 0zM420.0 705.9a3.3 3.3 0 1 0 6.6 0a3.3 3.3 0 1 0 -6.6 0zM424.8 713.1a3.3 3.3 0 1 0 6.6 0a3.3 3.3 0 1 0 -6.6 0zM429.6 722.3a3.3 3.3 0 1 0 6.6 0a3.3 3.3 0 1 0 -6.6 0zM434.4 736.8a3.3 3.3 0 1 0 6.6 0a3.3 3.3 0 1 0 -6.6 0zM439.2 754.1a3.3 3.3 0 1 0 6.6 0a3.3 3.3 0 1 0 -6.6 0zM444.0 774.0a3.3 3.3 0 1 0 6.6 0a3.3 3.3 0 1 0 -6.6 0zM448.8 793.6a3.3 3.3 0 1 0 6.6 0a3.3 3.3 0 1 0 -6.6 0zM453.6 816.9a3.3 3.3 0 1 0 6.6 0a3.3 3.3 0 1 0 -6.6 0zM458.5 838.5a3.3 3.3 0 1 0 6.6 0a3.3 3.3 0 1 0 -6.6 0zM463.3 857.0a3.3 3.3 0 1 0 6.6 0a3.3 3.3 0 1 0 -6.6 0zM468.1 875.7a3.3 3.3 0 1 0 6.6 0a3.3 3.3 0 1 0 -6.6 0zM472.9 893.7a3.3 3.3 0 1 0 6.6 0a3.3 3.3 0 1 0 -6.6 0zM477.7 907.8a3.3 3.3 0 1 0 6.6 0a3.3 3.3 0 1 0 -6.6 0zM482.5 919.3a3.3 3.3 0 1 0 6.6 0a3.3 3.3 0 1 0 -6.6 0zM487.3 932.2a3.3 3.3 0 1 0 6.6 0a3.3 3.3 0 1 0 -6.6 0zM492.1 940.6a3.3 3.3 0 1 0 6.6 0a3.3 3.3 0 1 0 -6.6 0zM496.9 947.4a3.3 3.3 0 1 0 6.6 0a3.3 3.3 0 1 0 -6.6 0zM501.7 955.0a3.3 3.3 0 1 0 6.6 0a3.3 3.3 0 1 0 -6.6 0zM506.5 958.3a3.3 3.3 0 1 0 6.6 0a3.3 3.3 0 1 0 -6.6 0zM511.4 961.4a3.3 3.3 0 1 0 6.6 0a3.3 3.3 0 1 0 -6.6 0zM516.2 964.9a3.3 3.3 0 1 0 6.6 0a3.3 3.3 0 1 0 -6.6 0zM521.0 966.4a3.3 3.3 0 1 0 6.6 0a3.3 3.3 0 1 0 -6.6 0zM525.8 968.4a3.3 3.3 0 1 0 6.6 0a3.3 3.3 0 1 0 -6.6 0zM530.6 970.7a3.3 3.3 0 1 0 6.6 0a3.3 3.3 0 1 0 -6.6 0zM535.4 971.2a3.3 3.3 0 1 0 6.6 0a3.3 3.3 0 1 0 -6.6 0zM540.2 972.2a3.3 3.3 0 1 0 6.6 0a3.3 3.3 0 1 0 -6.6 0zM545.0 974.4a3.3 3.3 0 1 0 6.6 0a3.3 3.3 0 1 0 -6.6 0zM549.8 974.4a3.3 3.3 0 1 0 6.6 0a3.3 3.3 0 1 0 -6.6 0zM554.6 974.8a3.3 3.3 0 1 0 6.6 0a3.3 3.3 0 1 0 -6.6 0zM559.5 974.9a3.3 3.3 0 1 0 6.6 0a3.3 3.3 0 1 0 -6.6 0zM564.3 975.2a3.3 3.3 0 1 0 6.6 0a3.3 3.3 0 1 0 -6.6 0zM569.1 976.1a3.3 3.3 0 1 0 6.6 0a3.3 3.3 0 1 0 -6.6 0zM573.9 975.2a3.3 3.3 0 1 0 6.6 0a3.3 3.3 0 1 0 -6.6 0zM578.7 976.7a3.3 3.3 0 1 0 6.6 0a3.3 3.3 0 1 0 -6.6 0zM583.5 974.8a3.3 3.3 0 1 0 6.6 0a3.3 3.3 0 1 0 -6.6 0zM588.3 975.4a3.3 3.3 0 1 0 6.6 0a3.3 3.3 0 1 0 -6.6 0zM593.1 974.7a3.3 3.3 0 1 0 6.6 0a3.3 3.3 0 1 0 -6.6 0zM597.9 975.4a3.3 3.3 0 1 0 6.6 0a3.3 3.3 0 1 0 -6.6 0zM602.7 976.1a3.3 3.3 0 1 0 6.6 0a3.3 3.3 0 1 0 -6.6 0zM607.5 976.8a3.3 3.3 0 1 0 6.6 0a3.3 3.3 0 1 0 -6.6 0zM612.4 975.4a3.3 3.3 0 1 0 6.6 0a3.3 3.3 0 1 0 -6.6 0zM617.2 975.9a3.3 3.3 0 1 0 6.6 0a3.3 3.3 0 1 0 -6.6 0zM622.0 975.7a3.3 3.3 0 1 0 6.6 0a3.3 3.3 0 1 0 -6.6 0zM626.8 975.4a3.3 3.3 0 1 0 6.6 0a3.3 3.3 0 1 0 -6.6 0zM631.6 975.2a3.3 3.3 0 1 0 6.6 0a3.3 3.3 0 1 0 -6.6 0zM636.4 976.1a3.3 3.3 0 1 0 6.6 0a3.3 3.3 0 1 0 -6.6 0zM641.2 974.8a3.3 3.3 0 1 0 6.6 0a3.3 3.3 0 1 0 -6.6 0zM646.0 976.2a3.3 3.3 0 1 0 6.6 0a3.3 3.3 0 1 0 -6.6 0zM650.8 976.1a3.3 3.3 0 1 0 6.6 0a3.3 3.3 0 1 0 -6.6 0zM655.6 975.7a3.3 3.3 0 1 0 6.6 0a3.3 3.3 0 1 0 -6.6 0zM660.4 975.5a3.3 3.3 0 1 0 6.6 0a3.3 3.3 0 1 0 -6.6 0zM665.3 975.3a3.3 3.3 0 1 0 6.6 0a3.3 3.3 0 1 0 -6.6 0zM670.1 977.6a3.3 3.3 0 1 0 6.6 0a3.3 3.3 0 1 0 -6.6 0zM674.9 975.4a3.3 3.3 0 1 0 6.6 0a3.3 3.3 0 1 0 -6.6 0zM679.7 977.4a3.3 3.3 0 1 0 6.6 0a3.3 3.3 0 1 0 -6.6 0zM684.5 976.8a3.3 3.3 0 1 0 6.6 0a3.3 3.3 0 1 0 -6.6 0zM689.3 976.1a3.3 3.3 0 1 0 6.6 0a3.3 3.3 0 1 0 -6.6 0z" fill="#ff0000"/>
<polyline points="67.4,971.2 72.2,972.8 77.0,973.3 81.8,971.4 86.6,971.9 91.4,972.9 96.3,972.4 101.1,973.6 105.9,971.9 110.7,972.7 115.5,971.5 120.3,973.8 125.1,971.9 129.9,970.9 134.7,972.4 139.5,972.4 144.3,973.9 149.2,972.3 154.0,972.6 158.8,973.1 163.6,973.8 168.4,972.7 173.2,973.4 178.0,973.1 182.8,972.6 187.6,972.8 192.4,972.8 197.2,972.1 202.1,973.6 206.9,971.7 211.7,973.5 216.5,973.2 221.3,972.3 226.1,971.6 230.9,971.7 235.7,971.8 240.5,971.6 245.3,970.6 250.2,970.3 255.0,968.3 259.8,967.6 264.6,964.9 269.4,964.8 274.2,962.2 279.0,959.3 283.8,957.5 288.6,953.7 293.4,947.4 298.2,945.0 303.1,939.0 307.9,935.2 312.7,930.2 317.5,921.5 322.3,914.8 327.1,907.1 331.9,899.6 336.7,891.5 341.5,883.2 346.3,872.6 351.1,865.0 356.0,853.5 360.8,844.2 365.6,834.1 370.4,822.5 375.2,809.5 380.0,797.2 384.8,784.6 389.6,772.0 394.4,760.4 399.2,747.2 404.0,738.7 408.9,731.4 413.7,727.2 418.5,726.6 423.3,731.0 428.1,737.8 432.9,749.0 437.7,762.6 442.5,779.7 447.3,795.0 452.1,816.2 456.9,834.2 461.8,852.9 466.6,870.3 471.4,886.1 476.2,901.9 481.0,914.7 485.8,926.8 490.6,934.9 495.4,944.8 500.2,950.5 505.0,955.4 509.8,959.3 514.7,962.6 519.5,965.1 524.3,967.6 529.1,969.7 533.9,970.8 538.7,971.0 543.5,972.6 548.3,972.8 553.1,974.1 557.9,975.7 562.8,975.1 567.6,974.7 572.4,974.0 577.2,974.3 582.0,974.2 586.8,976.0 591.6,975.0 596.4,975.7 601.2,975.3 606.0,975.8 610.8,976.8 615.7,975.4 620.5,975.6 625.3,975.4 630.1,976.6 634.9,975.3 639.7,975.2 644.5,975.1 649.3,975.1 654.1,976.5 658.9,978.0 663.7,975.5 668.6,976.9 673.4,976.4 678.2,975.5 683.0,976.1 687.8,976.2 692.6,975.9" fill="none" stroke="#14b432" stroke-width="1.2" stroke-linejoin="round"/>
<path d="M64.1 971.2a3.3 3.3 0 1 0 6.6 0a3.3 3.3 0 1 0 -6.6 0zM68.9 972.8a3.3 3.3 0 1 0 6.6 0a3.3 3.3 0 1 0 -6.6 0zM73.7 973.3a3.3 3.3 0 1 0 6.6 0a3.3 3.3 0 1 0 -6.6 0zM78.5 971.4a3.3 3.3 0 1 0 6.6 0a3.3 3.3 0 1 0 -6.6 0zM83.3 971.9a3.3 3.3 0 1 0 6.6 0a3.3 3.3 0 1 0 -6.6 0zM88.1 972.9a3.3 3.3 0 1 0 6.6 0a3.3 3.3 0 1 0 -6.6 0zM93.0 972.4a3.3 3.3 0 1 0 6.6 0a3.3 3.3 0 1 0 -6.6 0zM97.8 973.6a3.3 3.3 0 1 0 6.6 0a3.3 3.3 0 1 0 -6.6 0zM102.6 971.9a3.3 3.3 0 1 0 6.6 0a3.3 3.3 0 1 0 -6.6 0zM107.4 972.7a3.3 3.3 0 1 0 6.6 0a3.3 3.3 0 1 0 -6.6 0zM112.2 971.5a3.3 3.3 0 1 0 6.6 0a3.3 3.3 0 1 0 -6.6 0zM117.0 973.8a3.3 3.3 0 1 0 6.6 0a3.3 3.3 0 1 0 -6.6 0zM121.8 971.9a3.3 3.3 0 1 0 6.6 0a3.3 3.3 0 1 0 -6.6 0zM126.6 970.9a3.3 3.3 0 1 0 6.6 0a3.3 3.3 0 1 0 -6.6 0zM131.4 972.4a3.3 3.3 0 1 0 6.6 0a3.3 3.3 0 1 0 -6.6 0zM136.2 972.4a3.3 3.3 0 1 0 6.6 0a3.3 3.3 0 1 0 -6.6 0zM141.0 973.9a3.3 3.3 0 1 0 6.6 0a3.3 3.3 0 1 0 -6.6 0zM145.9 972.3a3.3 3.3 0 1 0 6.6 0a3.3 3.3 0 1 0 -6.6 0zM150.7 972.6a3.3 3.3 0 1 0 6.6 0a3.3 3.3 0 1 0 -6.6 0zM155.5 973.1a3.3 3.3 0 1 0 6.6 0a3.3 3.3 0 1 0 -6.6 0zM160.3 973.8a3.3 3.3 0 1 0 6.6 0a3.3 3.3 0 1 0 -6.6 0zM165.1 972.7a3.3 3.3 0 1 0 6.6 0a3.3 3.3 0 1 0 -6.6 0zM169.9 973.4a3.3 3.3 0 1 0 6.6 0a3.3 3.3 0 1 0 -6.6 0zM174.7 973.1a3.3 3.3 0 1 0 6.6 0a3.3 3.3 0 1 0 -6.6 0zM179.5 972.6a3.3 3.3 0 1 0 6.6 0a3.3 3.3 0 1 0 -6.6 0zM184.3 972.8a3.3 3.3 0 1 0 6.6 0a3.3 3.3 0 1 0 -6.6 0zM189.1 972.8a3.3 3.3 0 1 0 6.6 0a3.3 3.3 0 1 0 -6.6 0zM193.9 972.1a3.3 3.3 0 1 0 6.6 0a3.3 3.3 0 1 0 -6.6 0zM198.8 973.6a3.3 3.3 0 1 0 6.6 0a3.3 3.3 0 1 0 -6.6 0zM203.6 971.7a3.3 3.3 0 1 0 6.6 0a3.3 3.3 0 1 0 -6.6 0zM208.4 973.5a3.3 3.3 0 1 0 6.6 0a3.3 3.3 0 1 0 -6.6 0zM213.2 973.2a3.3 3.3 0 1 0 6.6 0a3.3 3.3 0 1 0 -6.6 0zM218.0 972.3a3.3 3.3 0 1 0 6.6 0a3.3 3.3 0 1 0 -6.6 0zM222.8 971.6a3.3 3.3 0 1 0 6.6 0a3.3 3.3 0 1 0 -6.6 0zM227.6 971.7a3.3 3.3 0 1 0 6.6 0a3.3 3.3 0 1 0 -6.6 0zM232.4 971.8a3.3 3.3 0 1 0 6.6 0a3.3 3.3 0 1 0 -6.6 0zM237.2 971.6a3.3 3.3 0 1 0 6.6 0a3.3 3.3 0 1 0 -6.6 0zM242.0 970.6a3.3 3.3 0 1 0 6.6 0a3.3 3.3 0 1 0 -6.6 0zM246.9 970.3a3.3 3.3 0 1 0 6.6 0a3.3 3.3 0 1 0 -6.6 0zM251.7 968.3a3.3 3.3 0 1 0 6.6 0a3.3 3.3 0 1 0 -6.6 0zM256.5 967.6a3.3 3.3 0 1 0 6.6 0a3.3 3.3 0 1 0 -6.6 0zM261.3 964.9a3.3 3.3 0 1 0 6.6 0a3.3 3.3 0 1 0 -6.6 0zM266.1 964.8a3.3 3.3 0 1 0 6.6 0a3.3 3.3 0 1 0 -6.6 0zM270.9 962.2a3.3 3.3 0 1 0 6.6 0a3.3 3.3 0 1 0 -6.6 0zM275.7 959.3a3.3 3.3 0 1 0 6.6 0a3.3 3.3 0 1 0 -6.6 0zM280.5 957.5a3.3 3.3 0 1 0 6.6 0a3.3 3.3 0 1 0 -6.6 0zM285.3 953.7a3.3 3.3 0 1 0 6.6 0a3.3 3.3 0 1 0 -6.6 0zM290.1 947.4a3.3 3.3 0 1 0 6.6 0a3.3 3.3 0 1 0 -6.6 0zM294.9 945.0a3.3 3.3 0 1 0 6.6 0a3.3 3.3 0 1 0 -6.6 0zM299.8 939.0a3.3 3.3 0 1 0 6.6 0a3.3 3.3 0 1 0 -6.6 0zM304.6 935.2a3.3 3.3 0 1 0 6.6 0a3.3 3.3 0 1 0 -6.6 0zM309.4 930.2a3.3 3.3 0 1 0 6.6 0a3.3 3.3 0 1 0 -6.6 0zM314.2 921.5a3.3 3.3 0 1 0 6.6 0a3.3 3.3 0 1 0 -6.6 0zM319.0 914.8a3.3 3.3 0 1 0 6.6 0a3.3 3.3 0 1 0 -6.6 0zM323.8 907.1a3.3 3.3 0 1 0 6.6 0a3.3 3.3 0 1 0 -6.6 0zM328.6 899.6a3.3 3.3 0 1 0 6.6 0a3.3 3.3 0 1 0 -6.6 0zM333.4 891.5a3.3 3.3 0 1 0 6.6 0a3.3 3.3 0 1 0 -6.6 0zM338.2 883.2a3.3 3.3 0 1 0 6.6 0a3.3 3.3 0 1 0 -6.6 0zM343.0 872.6a3.3 3.3 0 1 0 6.6 0a3.3 3.3 0 1 0 -6.6 0zM347.8 865.0a3.3 3.3 0 1 0 6.6 0a3.3 3.3 0 1 0 -6.6 0zM352.7 853.5a3.3 3.3 0 1 0 6.6 0a3.3 3.3 0 1 0 -6.6 0zM357.5 844.2a3.3 3.3 0 1 0 6.6 0a3.3 3.3 0 1 0 -6.6 0zM362.3 834.1a3.3 3.3 0 1 0 6.6 0a3.3 3.3 0 1 0 -6.6 0zM367.1 822.5a3.3 3.3 0 1 0 6.6 0a3.3 3.3 0 1 0 -6.6 0zM371.9 809.5a3.3 3.3 0 1 0 6.6 0a3.3 3.3 0 1 0 -6.6 0zM376.7 797.2a3.3 3.3 0 1 0 6.6 0a3.3 3.3 0 1 0 -6.6 0zM381.5 784.6a3.3 3.3 0 1 0 6.6 0a3.3 3.3 0 1 0 -6.6 0zM386.3 772.0a3.3 3.3 0 1 0 6.6 0a3.3 3.3 0 1 0 -6.6 0zM391.1 760.4a3.3 3.3 0 1 0 6.6 0a3.3 3.3 0 1 0 -6.6 0zM395.9 747.2a3.3 3.3 0 1 0 6.6 0a3.3 3.3 0 1 0 -6.6 0zM400.7 738.7a3.3 3.3 0 1 0 6.6 0a3.3 3.3 0 1 0 -6.6 0zM405.6 731.4a3.3 3.3 0 1 0 6.6 0a3.3 3.3 0 1 0 -6.6 0zM410.4 727.2a3.3 3.3 0 1 0 6.6 0a3.3 3.3 0 1 0 -6.6 0zM415.2 726.6a3.3 3.3 0 1 0 6.6 0a3.3 3.3 0 1 0 -6.6 0zM420.0 731.0a3.3 3.3 0 1 0 6.6 0a3.3 3.3 0 1 0 -6.6 0zM424.8 737.8a3.3 3.3 0 1 0 6.6 0a3.3 3.3 0 1 0 -6.6 0zM429.6 749.0a3.3 3.3 0 1 0 6.6 0a3.3 3.3 0 1 0 -6.6 0zM434.4 762.6a3.3 3.3 0 1 0 6.6 0a3.3 3.3 0 1 0 -6.6 0zM439.2 779.7a3.3 3.3 0 1 0 6.6 0a3.3 3.3 0 1 0 -6.6 0zM444.0 795.0a3.3 3.3 0 1 0 6.6 0a3.3 3.3 0 1 0 -6.6 0zM448.8 816.2a3.3 3.3 0 1 0 6.6 0a3.3 3.3 0 1 0 -6.6 0zM453.6 834.2a3.3 3.3 0 1 0 6.6 0a3.3 3.3 0 1 0 -6.6 0zM458.5 852.9a3.3 3.3 0 1 0 6.6 0a3.3 3.3 0 1 0 -6.6 0zM463.3 870.3a3.3 3.3 0 1 0 6.6 0a3.3 3.3 0 1 0 -6.6 0zM468.1 886.1a3.3 3.3 0 1 0 6.6 0a3.3 3.3 0 1 0 -6.6 0zM472.9 901.9a3.3 3.3 0 1 0 6.6 0a3.3 3.3 0 1 0 -6.6 0zM477.7 914.7a3.3 3.3 0 1 0 6.6 0a3.3 3.3 0 1 0 -6.6 0zM482.5 926.8a3.3 3.3 0 1 0 6.6 0a3.3 3.3 0 1 0 -6.6 0zM487.3 934.9a3.3 3.3 0 1 0 6.6 0a3.3 3.3 0 1 0 -6.6 0zM492.1 944.8a3.3 3.3 0 1 0 6.6 0a3.3 3.3 0 1 0 -6.6 0zM496.9 950.5a3.3 3.3 0 1 0 6.6 0a3.3 3.3 0 1 0 -6.6 0zM501.7 955.4a3.3 3.3 0 1 0 6.6 0a3.3 3.3 0 1 0 -6.6 0zM506.5 959.3a3.3 3.3 0 1 0 6.6 0a3.3 3.3 0 1 0 -6.6 0zM511.4 962.6a3.3 3.3 0 1 0 6.6 0a3.3 3.3 0 1 0 -6.6 0zM516.2 965.1a3.3 3.3 0 1 0 6.6 0a3.3 3.3 0 1 0 -6.6 0zM521.0 967.6a3.3 3.3 0 1 0 6.6 0a3.3 3.3 0 1 0 -6.6 0zM525.8 969.7a3.3 3.3 0 1 0 6.6 0a3.3 3.3 0 1 0 -6.6 0zM530.6 970.8a3.3 3.3 0 1 0 6.6 0a3.3 3.3 0 1 0 -6.6 0zM535.4 971.0a3.3 3.3 0 1 0 6.6 0a3.3 3.3 0 1 0 -6.6 0zM540.2 972.6a3.3 3.3 0 1 0 6.6 0a3.3 3.3 0 1 0 -6.6 0zM545.0 972.8a3.3 3.3 0 1 0 6.6 0a3.3 3.3 0 1 0 -6.6 0zM549.8 974.1a3.3 3.3 0 1 0 6.6 0a3.3 3.3 0 1 0 -6.6 0zM554.6 975.7a3.3 3.3 0 1 0 6.6 0a3.3 3.3 0 1 0 -6.6 0zM559.5 975.1a3.3 3.3 0 1 0 6.6 0a3.3 3.3 0 1 0 -6.6 0zM564.3 974.7a3.3 3.3 0 1 0 6.6 0a3.3 3.3 0 1 0 -6.6 0zM569.1 974.0a3.3 3.3 0 1 0 6.6 0a3.3 3.3 0 1 0 -6.6 0zM573.9 974.3a3.3 3.3 0 1 0 6.6 0a3.3 3.3 0 1 0 -6.6 0zM578.7 974.2a3.3 3.3 0 1 0 6.6 0a3.3 3.3 0 1 0 -6.6 0zM583.5 976.0a3.3 3.3 0 1 0 6.6 0a3.3 3.3 0 1 0 -6.6 0zM588.3 975.0a3.3 3.3 0 1 0 6.6 0a3.3 3.3 0 1 0 -6.6 0zM593.1 975.7a3.3 3.3 0 1 0 6.6 0a3.3 3.3 0 1 0 -6.6 0zM597.9 975.3a3.3 3.3 0 1 0 6.6 0a3.3 3.3 0 1 0 -6.6 0zM602.7 975.8a3.3 3.3 0 1 0 6.6 0a3.3 3.3 0 1 0 -6.6 0zM607.5 976.8a3.3 3.3 0 1 0 6.6 0a3.3 3.3 0 1 0 -6.6 0zM612.4 975.4a3.3 3.3 0 1 0 6.6 0a3.3 3.3 0 1 0 -6.6 0zM617.2 975.6a3.3 3.3 0 1 0 6.6 0a3.3 3.3 0 1 0 -6.6 0zM622.0 975.4a3.3 3.3 0 1 0 6.6 0a3.3 3.3 0 1 0 -6.6 0zM626.8 976.6a3.3 3.3 0 1 0 6.6 0a3.3 3.3 0 1 0 -6.6 0zM631.6 975.3a3.3 3.3 0 1 0 6.6 0a3.3 3.3 0 1 0 -6.6 0zM636.4 975.2a3.3 3.3 0 1 0 6.6 0a3.3 3.3 0 1 0 -6.6 0zM641.2 975.1a3.3 3.3 0 1 0 6.6 0a3.3 3.3 0 1 0 -6.6 0zM646.0 975.1a3.3 3.3 0 1 0 6.6 0a3.3 3.3 0 1 0 -6.6 0zM650.8 976.5a3.3 3.3 0 1 0 6.6 0a3.3 3.3 0 1 0 -6.6 0zM655.6 978.0a3.3 3.3 0 1 0 6.6 0a3.3 3.3 0 1 0 -6.6 0zM660.4 975.5a3.3 3.3 0 1 0 6.6 0a3.3 3.3 0 1 0 -6.6 0zM665.3 976.9a3.3 3.3 0 1 0 6.6 0a3.3 3.3 0 1 0 -6.6 0zM670.1 976.4a3.3 3.3 0 1 0 6.6 0a3.3 3.3 0 1 0 -6.6 0zM674.9 975.5a3.3 3.3 0 1 0 6.6 0a3.3 3.3 0 1 0 -6.6 0zM679.7 976.1a3.3 3.3 0 1 0 6.6 0a3.3 3.3 0 1 0 -6.6 0zM684.5 976.2a3.3 3.3 0 1 0 6.6 0a3.3 3.3 0 1 0 -6.6 0zM689.3 975.9a3.3 3.3 0 1 0 6.6 0a3.3 3.3 0 1 0 -6.6 0z" fill="#14b432"/>
<polyline points="67.4,973.4 72.2,970.7 77.0,972.3 81.8,972.3 86.6,971.7 91.4,972.3 96.3,972.8 101.1,972.3 105.9,972.6 110.7,972.8 115.5,970.9 120.3,973.4 125.1,974.0 129.9,973.1 134.7,973.2 139.5,971.5 144.3,972.5 149.2,972.0 154.0,972.2 158.8,973.3 163.6,972.1 168.4,972.6 173.2,971.4 178.0,972.6 182.8,972.8 187.6,972.3 192.4,972.3 197.2,974.1 202.1,971.9 206.9,972.0 211.7,972.1 216.5,973.5 221.3,974.0 226.1,972.6 230.9,971.6 235.7,971.6 240.5,972.2 245.3,970.4 250.2,971.4 255.0,970.6 259.8,968.7 264.6,967.9 269.4,966.6 274.2,965.5 279.0,961.7 283.8,960.9 288.6,957.1 293.4,953.7 298.2,950.8 303.1,946.6 307.9,941.7 312.7,936.4 317.5,931.7 322.3,927.7 327.1,922.0 331.9,914.7 336.7,908.4 341.5,900.2 346.3,893.1 351.1,885.7 356.0,876.8 360.8,868.4 365.6,860.3 370.4,850.7 375.2,840.3 380.0,831.1 384.8,820.0 389.6,810.3 394.4,799.4 399.2,789.8 404.0,782.0 408.9,775.8 413.7,771.9 418.5,771.5 423.3,775.0 428.1,780.8 432.9,790.0 437.7,799.1 442.5,813.3 447.3,828.0 452.1,844.0 456.9,859.4 461.8,874.8 466.6,890.5 471.4,903.6 476.2,914.9 481.0,927.3 485.8,936.3 490.6,943.0 495.4,950.4 500.2,954.6 505.0,960.2 509.8,962.7 514.7,965.0 519.5,967.5 524.3,968.9 529.1,970.9 533.9,972.0 538.7,972.7 543.5,972.9 548.3,971.3 553.1,974.3 557.9,973.3 562.8,975.0 567.6,975.8 572.4,975.4 577.2,975.1 582.0,975.3 586.8,975.4 591.6,975.2 596.4,975.2 601.2,975.1 606.0,976.6 610.8,975.8 615.7,976.5 620.5,975.7 625.3,976.0 630.1,975.8 634.9,976.3 639.7,976.6 644.5,976.2 649.3,975.6 654.1,975.6 658.9,977.3 663.7,976.0 668.6,976.0 673.4,977.3 678.2,977.1 683.0,976.7 687.8,976.1 692.6,978.0" fill="none" stroke="#0000ff" stroke-width="1.2" stroke-linejoin="round"/>
<path d="M64.1 973.4a3.3 3.3 0 1 0 6.6 0a3.3 3.3 0 1 0 -6.6 0zM68.9 970.7a3.3 3.3 0 1 0 6.6 0a3.3 3.3 0 1 0 -6.6 0zM73.7 972.3a3.3 3.3 0 1 0 6.6 0a3.3 3.3 0 1 0 -6.6 0zM78.5 972.3a3.3 3.3 0 1 0 6.6 0a3.3 3.3 0 1 0 -6.6 0zM83.3 971.7a3.3 3.3 0 1 0 6.6 0a3.3 3.3 0 1 0 -6.6 0zM88.1 972.3a3.3 3.3 0 1 0 6.6 0a3.3 3.3 0 1 0 -6.6 0zM93.0 972.8a3.3 3.3 0 1 0 6.6 0a3.3 3.3 0 1 0 -6.6 0zM97.8 972.3a3.3 3.3 0 1 0 6.6 0a3.3 3.3 0 1 0 -6.6 0zM102.6 972.6a3.3 3.3 0 1 0 6.6 0a3.3 3.3 0 1 0 -6.6 0zM107.4 972.8a3.3 3.3 0 1 0 6.6 0a3.3 3.3 0 1 0 -6.6 0zM112.2 970.9a3.3 3.3 0 1 0 6.6 0a3.3 3.3 0 1 0 -6.6 0zM117.0 973.4a3.3 3.3 0 1 0 6.6 0a3.3 3.3 0 1 0 -6.6 0zM121.8 974.0a3.3 3.3 0 1 0 6.6 0a3.3 3.3 0 1 0 -6.6 0zM126.6 973.1a3.3 3.3 0 1 0 6.6 0a3.3 3.3 0 1 0 -6.6 0zM131.4 973.2a3.3 3.3 0 1 0 6.6 0a3.3 3.3 0 1 0 -6.6 0zM136.2 971.5a3.3 3.3 0 1 0 6.6 0a3.3 3.3 0 1 0 -6.6 0zM141.0 972.5a3.3 3.3 0 1 0 6.6 0a3.3 3.3 0 1 0 -6.6 0zM145.9 972.0a3.3 3.3 0 1 0 6.6 0a3.3 3.3 0 1 0 -6.6 0zM150.7 972.2a3.3 3.3 0 1 0 6.6 0a3.3 3.3 0 1 0 -6.6 0zM155.5 973.3a3.3 3.3 0 1 0 6.6 0a3.3 3.3 0 1 0 -6.6 0zM160.3 972.1a3.3 3.3 0 1 0 6.6 0a3.3 3.3 0 1 0 -6.6 0zM165.1 972.6a3.3 3.3 0 1 0 6.6 0a3.3 3.3 0 1 0 -6.6 0zM169.9 971.4a3.3 3.3 0 1 0 6.6 0a3.3 3.3 0 1 0 -6.6 0zM174.7 972.6a3.3 3.3 0 1 0 6.6 0a3.3 3.3 0 1 0 -6.6 0zM179.5 972.8a3.3 3.3 0 1 0 6.6 0a3.3 3.3 0 1 0 -6.6 0zM184.3 972.3a3.3 3.3 0 1 0 6.6 0a3.3 3.3 0 1 0 -6.6 0zM189.1 972.3a3.3 3.3 0 1 0 6.6 0a3.3 3.3 0 1 0 -6.6 0zM193.9 974.1a3.3 3.3 0 1 0 6.6 0a3.3 3.3 0 1 0 -6.6 0zM198.8 971.9a3.3 3.3 0 1 0 6.6 0a3.3 3.3 0 1 0 -6.6 0zM203.6 972.0a3.3 3.3 0 1 0 6.6 0a3.3 3.3 0 1 0 -6.6 0zM208.4 972.1a3.3 3.3 0 1 0 6.6 0a3.3 3.3 0 1 0 -6.6 0zM213.2 973.5a3.3 3.3 0 1 0 6.6 0a3.3 3.3 0 1 0 -6.6 0zM218.0 974.0a3.3 3.3 0 1 0 6.6 0a3.3 3.3 0 1 0 -6.6 0zM222.8 972.6a3.3 3.3 0 1 0 6.6 0a3.3 3.3 0 1 0 -6.6 0zM227.6 971.6a3.3 3.3 0 1 0 6.6 0a3.3 3.3 0 1 0 -6.6 0zM232.4 971.6a3.3 3.3 0 1 0 6.6 0a3.3 3.3 0 1 0 -6.6 0zM237.2 972.2a3.3 3.3 0 1 0 6.6 0a3.3 3.3 0 1 0 -6.6 0zM242.0 970.4a3.3 3.3 0 1 0 6.6 0a3.3 3.3 0 1 0 -6.6 0zM246.9 971.4a3.3 3.3 0 1 0 6.6 0a3.3 3.3 0 1 0 -6.6 0zM251.7 970.6a3.3 3.3 0 1 0 6.6 0a3.3 3.3 0 1 0 -6.6 0zM256.5 968.7a3.3 3.3 0 1 0 6.6 0a3.3 3.3 0 1 0 -6.6 0zM261.3 967.9a3.3 3.3 0 1 0 6.6 0a3.3 3.3 0 1 0 -6.6 0zM266.1 966.6a3.3 3.3 0 1 0 6.6 0a3.3 3.3 0 1 0 -6.6 0zM270.9 965.5a3.3 3.3 0 1 0 6.6 0a3.3 3.3 0 1 0 -6.6 0zM275.7 961.7a3.3 3.3 0 1 0 6.6 0a3.3 3.3 0 1 0 -6.6 0zM280.5 960.9a3.3 3.3 0 1 0 6.6 0a3.3 3.3 0 1 0 -6.6 0zM285.3 957.1a3.3 3.3 0 1 0 6.6 0a3.3 3.3 0 1 0 -6.6 0zM290.1 953.7a3.3 3.3 0 1 0 6.6 0a3.3 3.3 0 1 0 -6.6 0zM294.9 950.8a3.3 3.3 0 1 0 6.6 0a3.3 3.3 0 1 0 -6.6 0zM299.8 946.6a3.3 3.3 0 1 0 6.6 0a3.3 3.3 0 1 0 -6.6 0zM304.6 941.7a3.3 3.3 0 1 0 6.6 0a3.3 3.3 0 1 0 -6.6 0zM309.4 936.4a3.3 3.3 0 1 0 6.6 0a3.3 3.3 0 1 0 -6.6 0zM314.2 931.7a3.3 3.3 0 1 0 6.6 0a3.3 3.3 0 1 0 -6.6 0zM319.0 927.7a3.3 3.3 0 1 0 6.6 0a3.3 3.3 0 1 0 -6.6 0zM323.8 922.0a3.3 3.3 0 1 0 6.6 0a3.3 3.3 0 1 0 -6.6 0zM328.6 914.7a3.3 3.3 0 1 0 6.6 0a3.3 3.3 0 1 0 -6.6 0zM333.4 908.4a3.3 3.3 0 1 0 6.6 0a3.3 3.3 0 1 0 -6.6 0zM338.2 900.2a3.3 3.3 0 1 0 6.6 0a3.3 3.3 0 1 0 -6.6 0zM343.0 893.1a3.3 3.3 0 1 0 6.6 0a3.3 3.3 0 1 0 -6.6 0zM347.8 885.7a3.3 3.3 0 1 0 6.6 0a3.3 3.3 0 1 0 -6.6 0zM352.7 876.8a3.3 3.3 0 1 0 6.6 0a3.3 3.3 0 1 0 -6.6 0zM357.5 868.4a3.3 3.3 0 1 0 6.6 0a3.3 3.3 0 1 0 -6.6 0zM362.3 860.3a3.3 3.3 0 1 0 6.6 0a3.3 3.3 0 1 0 -6.6 0zM367.1 850.7a3.3 3.3 0 1 0 6.6 0a3.3 3.3 0 1 0 -6.6 0zM371.9 840.3a3.3 3.3 0 1 0 6.6 0a3.3 3.3 0 1 0 -6.6 0zM376.7 831.1a3.3 3.3 0 1 0 6.6 0a3.3 3.3 0 1 0 -6.6 0zM381.5 820.0a3.3 3.3 0 1 0 6.6 0a3.3 3.3 0 1 0 -6.6 0zM386.3 810.3a3.3 3.3 0 1 0 6.6 0a3.3 3.3 0 1 0 -6.6 0zM391.1 799.4a3.3 3.3 0 1 0 6.6 0a3.3 3.3 0 1 0 -6.6 0zM395.9 789.8a3.3 3.3 0 1 0 6.6 0a3.3 3.3 0 1 0 -6.6 0zM400.7 782.0a3.3 3.3 0 1 0 6.6 0a3.3 3.3 0 1 0 -6.6 0zM405.6 775.8a3.3 3.3 0 1 0 6.6 0a3.3 3.3 0 1 0 -6.6 0zM410.4 771.9a3.3 3.3 0 1 0 6.6 0a3.3 3.3 0 1 0 -6.6 0zM415.2 771.5a3.3 3.3 0 1 0 6.6 0a3.3 3.3 0 1 0 -6.6 0zM420.0 775.0a3.3 3.3 0 1 0 6.6 0a3.3 3.3 0 1 0 -6.6 0zM424.8 780.8a3.3 3.3 0 1 0 6.6 0a3.3 3.3 0 1 0 -6.6 0zM429.6 790.0a3.3 3.3 0 1 0 6.6 0a3.3 3.3 0 1 0 -6.6 0zM434.4 799.1a3.3 3.3 0 1 0 6.6 0a3.3 3.3 0 1 0 -6.6 0zM439.2 813.3a3.3 3.3 0 1 0 6.6 0a3.3 3.3 0 1 0 -6.6 0zM444.0 828.0a3.3 3.3 0 1 0 6.6 0a3.3 3.3 0 1 0 -6.6 0zM448.8 844.0a3.3 3.3 0 1 0 6.6 0a3.3 3.3 0 1 0 -6.6 0zM453.6 859.4a3.3 3.3 0 1 0 6.6 0a3.3 3.3 0 1 0 -6.6 0zM458.5 874.8a3.3 3.3 0 1 0 6.6 0a3.3 3.3 0 1 0 -6.6 0zM463.3 890.5a3.3 3.3 0 1 0 6.6 0a3.3 3.3 0 1 0 -6.6 0zM468.1 903.6a3.3 3.3 0 1 0 6.6 0a3.3 3.3 0 1 0 -6.6 0zM472.9 914.9a3.3 3.3 0 1 0 6.6 0a3.3 3.3 0 1 0 -6.6 0zM477.7 927.3a3.3 3.3 0 1 0 6.6 0a3.3 3.3 0 1 0 -6.6 0zM482.5 936.3a3.3 3.3 0 1 0 6.6 0a3.3 3.3 0 1 0 -6.6 0zM487.3 943.0a3.3 3.3 0 1 0 6.6 0a3.3 3.3 0 1 0 -6.6 0zM492.1 950.4a3.3 3.3 0 1 0 6.6 0a3.3 3.3 0 1 0 -6.6 0zM496.9 954.6a3.3 3.3 0 1 0 6.6 0a3.3 3.3 0 1 0 -6.6 0zM501.7 960.2a3.3 3.3 0 1 0 6.6 0a3.3 3.3 0 1 0 -6.6 0zM506.5 962.7a3.3 3.3 0 1 0 6.6 0a3.3 3.3 0 1 0 -6.6 0zM511.4 965.0a3.3 3.3 0 1 0 6.6 0a3.3 3.3 0 1 0 -6.6 0zM516.2 967.5a3.3 3.3 0 1 0 6.6 0a3.3 3.3 0 1 0 -6.6 0zM521.0 968.9a3.3 3.3 0 1 0 6.6 0a3.3 3.3 0 1 0 -6.6 0zM525.8 970.9a3.3 3.3 0 1 0 6.6 0a3.3 3.3 0 1 0 -6.6 0zM530.6 972.0a3.3 3.3 0 1 0 6.6 0a3.3 3.3 0 1 0 -6.6 0zM535.4 972.7a3.3 3.3 0 1 0 6.6 0a3.3 3.3 0 1 0 -6.6 0zM540.2 972.9a3.3 3.3 0 1 0 6.6 0a3.3 3.3 0 1 0 -6.6 0zM545.0 971.3a3.3 3.3 0 1 0 6.6 0a3.3 3.3 0 1 0 -6.6 0zM549.8 974.3a3.3 3.3 0 1 0 6.6 0a3.3 3.3 0 1 0 -6.6 0zM554.6 973.3a3.3 3.3 0 1 0 6.6 0a3.3 3.3 0 1 0 -6.6 0zM559.5 975.0a3.3 3.3 0 1 0 6.6 0a3.3 3.3 0 1 0 -6.6 0zM564.3 975.8a3.3 3.3 0 1 0 6.6 0a3.3 3.3 0 1 0 -6.6 0zM569.1 975.4a3.3 3.3 0 1 0 6.6 0a3.3 3.3 0 1 0 -6.6 0zM573.9 975.1a3.3 3.3 0 1 0 6.6 0a3.3 3.3 0 1 0 -6.6 0zM578.7 975.3a3.3 3.3 0 1 0 6.6 0a3.3 3.3 0 1 0 -6.6 0zM583.5 975.4a3.3 3.3 0 1 0 6.6 0a3.3 3.3 0 1 0 -6.6 0zM588.3 975.2a3.3 3.3 0 1 0 6.6 0a3.3 3.3 0 1 0 -6.6 0zM593.1 975.2a3.3 3.3 0 1 0 6.6 0a3.3 3.3 0 1 0 -6.6 0zM597.9 975.1a3.3 3.3 0 1 0 6.6 0a3.3 3.3 0 1 0 -6.6 0zM602.7 976.6a3.3 3.3 0 1 0 6.6 0a3.3 3.3 0 1 0 -6.6 0zM607.5 975.8a3.3 3.3 0 1 0 6.6 0a3.3 3.3 0 1 0 -6.6 0zM612.4 976.5a3.3 3.3 0 1 0 6.6 0a3.3 3.3 0 1 0 -6.6 0zM617.2 975.7a3.3 3.3 0 1 0 6.6 0a3.3 3.3 0 1 0 -6.6 0zM622.0 976.0a3.3 3.3 0 1 0 6.6 0a3.3 3.3 0 1 0 -6.6 0zM626.8 975.8a3.3 3.3 0 1 0 6.6 0a3.3 3.3 0 1 0 -6.6 0zM631.6 976.3a3.3 3.3 0 1 0 6.6 0a3.3 3.3 0 1 0 -6.6 0zM636.4 976.6a3.3 3.3 0 1 0 6.6 0a3.3 3.3 0 1 0 -6.6 0zM641.2 976.2a3.3 3.3 0 1 0 6.6 0a3.3 3.3 0 1 0 -6.6 0zM646.0 975.6a3.3 3.3 0 1 0 6.6 0a3.3 3.3 0 1 0 -6.6 0zM650.8 975.6a3.3 3.3 0 1 0 6.6 0a3.3 3.3 0 1 0 -6.6 0zM655.6 977.3a3.3 3.3 0 1 0 6.6 0a3.3 3.3 0 1 0 -6.6 0zM660.4 976.0a3.3 3.3 0 1 0 6.6 0a3.3 3.3 0 1 0 -6.6 0zM665.3 976.0a3.3 3.3 0 1 0 6.6 0a3.3 3.3 0 1 0 -6.6 0zM670.1 977.3a3.3 3.3 0 1 0 6.6 0a3.3 3.3 0 1 0 -6.6 0zM674.9 977.1a3.3 3.3 0 1 0 6.6 0a3.3 3.3 0 1 0 -6.6 0zM679.7 976.7a3.3 3.3 0 1 0 6.6 0a3.3 3.3 0 1 0 -6.6 0zM684.5 976.1a3.3 3.3 0 1 0 6.6 0a3.3 3.3 0 1 0 -6.6 0zM689.3 978.0a3.3 3.3 0 1 0 6.6 0a3.3 3.3 0 1 0 -6.6 0z" fill="#0000ff"/>
<polyline points="67.4,972.3 72.2,972.4 77.0,971.9 81.8,971.1 86.6,971.2 91.4,972.5 96.3,972.5 101.1,972.1 105.9,971.5 110.7,971.3 115.5,972.1 120.3,971.4 125.1,973.0 129.9,973.2 134.7,974.5 139.5,973.1 144.3,972.1 149.2,972.0 154.0,970.2 158.8,972.2 163.6,972.5 168.4,973.4 173.2,973.2 178.0,973.2 182.8,972.9 187.6,973.3 192.4,973.8 197.2,972.1 202.1,972.5 206.9,971.8 211.7,973.9 216.5,973.6 221.3,973.1 226.1,971.6 230.9,972.4 235.7,971.9 240.5,971.8 245.3,971.2 250.2,971.2 255.0,969.9 259.8,970.0 264.6,968.6 269.4,967.0 274.2,965.7 279.0,963.8 283.8,962.7 288.6,959.7 293.4,957.4 298.2,954.0 303.1,949.9 307.9,947.9 312.7,942.4 317.5,939.2 322.3,934.2 327.1,927.6 331.9,922.6 336.7,917.2 341.5,910.9 346.3,904.3 351.1,899.0 356.0,891.3 360.8,884.4 365.6,876.1 370.4,868.4 375.2,859.0 380.0,850.6 384.8,841.9 389.6,832.4 394.4,823.3 399.2,814.8 404.0,808.9 408.9,803.8 413.7,800.3 418.5,799.3 423.3,802.3 428.1,808.3 432.9,813.3 437.7,822.6 442.5,833.2 447.3,842.9 452.1,857.4 456.9,869.8 461.8,884.2 466.6,895.6 471.4,907.0 476.2,918.2 481.0,928.2 485.8,936.2 490.6,943.9 495.4,949.2 500.2,955.2 505.0,960.1 509.8,964.4 514.7,966.3 519.5,968.2 524.3,970.5 529.1,971.7 533.9,973.2 538.7,973.7 543.5,973.4 548.3,974.2 553.1,974.5 557.9,974.9 562.8,975.1 567.6,974.6 572.4,973.8 577.2,974.9 582.0,974.0 586.8,975.6 591.6,975.6 596.4,974.5 601.2,976.2 606.0,976.4 610.8,975.9 615.7,977.0 620.5,977.2 625.3,975.1 630.1,976.7 634.9,976.3 639.7,976.3 644.5,976.7 649.3,975.6 654.1,975.7 658.9,975.6 663.7,975.7 668.6,976.2 673.4,975.2 678.2,975.6 683.0,976.7 687.8,976.3 692.6,976.7" fill="none" stroke="#e6c21e" stroke-width="1.2" stroke-linejoin="round"/>
<path d="M64.1 972.3a3.3 3.3 0 1 0 6.6 0a3.3 3.3 0 1 0 -6.6 0zM68.9 972.4a3.3 3.3 0 1 0 6.6 0a3.3 3.3 0 1 0 -6.6 0zM73.7 971.9a3.3 3.3 0 1 0 6.6 0a3.3 3.3 0 1 0 -6.6 0zM78.5 971.1a3.3 3.3 0 1 0 6.6 0a3.3 3.3 0 1 0 -6.6 0zM83.3 971.2a3.3 3.3 0 1 0 6.6 0a3.3 3.3 0 1 0 -6.6 0zM88.1 972.5a3.3 3.3 0 1 0 6.6 0a3.3 3.3 0 1 0 -6.6 0zM93.0 972.5a3.3 3.3 0 1 0 6.6 0a3.3 3.3 0 1 0 -6.6 0zM97.8 972.1a3.3 3.3 0 1 0 6.6 0a3.3 3.3 0 1 0 -6.6 0zM102.6 971.5a3.3 3.3 0 1 0 6.6 0a3.3 3.3 0 1 0 -6.6 0zM107.4 971.3a3.3 3.3 0 1 0 6.6 0a3.3 3.3 0 1 0 -6.6 0zM112.2 972.1a3.3 3.3 0 1 0 6.6 0a3.3 3.3 0 1 0 -6.6 0zM117.0 971.4a3.3 3.3 0 1 0 6.6 0a3.3 3.3 0 1 0 -6.6 0zM121.8 973.0a3.3 3.3 0 1 0 6.6 0a3.3 3.3 0 1 0 -6.6 0zM126.6 973.2a3.3 3.3 0 1 0 6.6 0a3.3 3.3 0 1 0 -6.6 0zM131.4 974.5a3.3 3.3 0 1 0 6.6 0a3.3 3.3 0 1 0 -6.6 0zM136.2 973.1a3.3 3.3 0 1 0 6.6 0a3.3 3.3 0 1 0 -6.6 0zM141.0 972.1a3.3 3.3 0 1 0 6.6 0a3.3 3.3 0 1 0 -6.6 0zM145.9 972.0a3.3 3.3 0 1 0 6.6 0a3.3 3.3 0 1 0 -6.6 0zM150.7 970.2a3.3 3.3 0 1 0 6.6 0a3.3 3.3 0 1 0 -6.6 0zM155.5 972.2a3.3 3.3 0 1 0 6.6 0a3.3 3.3 0 1 0 -6.6 0zM160.3 972.5a3.3 3.3 0 1 0 6.6 0a3.3 3.3 0 1 0 -6.6 0zM165.1 973.4a3.3 3.3 0 1 0 6.6 0a3.3 3.3 0 1 0 -6.6 0zM169.9 973.2a3.3 3.3 0 1 0 6.6 0a3.3 3.3 0 1 0 -6.6 0zM174.7 973.2a3.3 3.3 0 1 0 6.6 0a3.3 3.3 0 1 0 -6.6 0zM179.5 972.9a3.3 3.3 0 1 0 6.6 0a3.3 3.3 0 1 0 -6.6 0zM184.3 973.3a3.3 3.3 0 1 0 6.6 0a3.3 3.3 0 1 0 -6.6 0zM189.1 973.8a3.3 3.3 0 1 0 6.6 0a3.3 3.3 0 1 0 -6.6 0zM193.9 972.1a3.3 3.3 0 1 0 6.6 0a3.3 3.3 0 1 0 -6.6 0zM198.8 972.5a3.3 3.3 0 1 0 6.6 0a3.3 3.3 0 1 0 -6.6 0zM203.6 971.8a3.3 3.3 0 1 0 6.6 0a3.3 3.3 0 1 0 -6.6 0zM208.4 973.9a3.3 3.3 0 1 0 6.6 0a3.3 3.3 0 1 0 -6.6 0zM213.2 973.6a3.3 3.3 0 1 0 6.6 0a3.3 3.3 0 1 0 -6.6 0zM218.0 973.1a3.3 3.3 0 1 0 6.6 0a3.3 3.3 0 1 0 -6.6 0zM222.8 971.6a3.3 3.3 0 1 0 6.6 0a3.3 3.3 0 1 0 -6.6 0zM227.6 972.4a3.3 3.3 0 1 0 6.6 0a3.3 3.3 0 1 0 -6.6 0zM232.4 971.9a3.3 3.3 0 1 0 6.6 0a3.3 3.3 0 1 0 -6.6 0zM237.2 971.8a3.3 3.3 0 1 0 6.6 0a3.3 3.3 0 1 0 -6.6 0zM242.0 971.2a3.3 3.3 0 1 0 6.6 0a3.3 3.3 0 1 0 -6.6 0zM246.9 971.2a3.3 3.3 0 1 0 6.6 0a3.3 3.3 0 1 0 -6.6 0zM251.7 969.9a3.3 3.3 0 1 0 6.6 0a3.3 3.3 0 1 0 -6.6 0zM256.5 970.0a3.3 3.3 0 1 0 6.6 0a3.3 3.3 0 1 0 -6.6 0zM261.3 968.6a3.3 3.3 0 1 0 6.6 0a3.3 3.3 0 1 0 -6.6 0zM266.1 967.0a3.3 3.3 0 1 0 6.6 0a3.3 3.3 0 1 0 -6.6 0zM270.9 965.7a3.3 3.3 0 1 0 6.6 0a3.3 3.3 0 1 0 -6.6 0zM275.7 963.8a3.3 3.3 0 1 0 6.6 0a3.3 3.3 0 1 0 -6.6 0zM280.5 962.7a3.3 3.3 0 1 0 6.6 0a3.3 3.3 0 1 0 -6.6 0zM285.3 959.7a3.3 3.3 0 1 0 6.6 0a3.3 3.3 0 1 0 -6.6 0zM290.1 957.4a3.3 3.3 0 1 0 6.6 0a3.3 3.3 0 1 0 -6.6 0zM294.9 954.0a3.3 3.3 0 1 0 6.6 0a3.3 3.3 0 1 0 -6.6 0zM299.8 949.9a3.3 3.3 0 1 0 6.6 0a3.3 3.3 0 1 0 -6.6 0zM304.6 947.9a3.3 3.3 0 1 0 6.6 0a3.3 3.3 0 1 0 -6.6 0zM309.4 942.4a3.3 3.3 0 1 0 6.6 0a3.3 3.3 0 1 0 -6.6 0zM314.2 939.2a3.3 3.3 0 1 0 6.6 0a3.3 3.3 0 1 0 -6.6 0zM319.0 934.2a3.3 3.3 0 1 0 6.6 0a3.3 3.3 0 1 0 -6.6 0zM323.8 927.6a3.3 3.3 0 1 0 6.6 0a3.3 3.3 0 1 0 -6.6 0zM328.6 922.6a3.3 3.3 0 1 0 6.6 0a3.3 3.3 0 1 0 -6.6 0zM333.4 917.2a3.3 3.3 0 1 0 6.6 0a3.3 3.3 0 1 0 -6.6 0zM338.2 910.9a3.3 3.3 0 1 0 6.6 0a3.3 3.3 0 1 0 -6.6 0zM343.0 904.3a3.3 3.3 0 1 0 6.6 0a3.3 3.3 0 1 0 -6.6 0zM347.8 899.0a3.3 3.3 0 1 0 6.6 0a3.3 3.3 0 1 0 -6.6 0zM352.7 891.3a3.3 3.3 0 1 0 6.6 0a3.3 3.3 0 1 0 -6.6 0zM357.5 884.4a3.3 3.3 0 1 0 6.6 0a3.3 3.3 0 1 0 -6.6 0zM362.3 876.1a3.3 3.3 0 1 0 6.6 0a3.3 3.3 0 1 0 -6.6 0zM367.1 868.4a3.3 3.3 0 1 0 6.6 0a3.3 3.3 0 1 0 -6.6 0zM371.9 859.0a3.3 3.3 0 1 0 6.6 0a3.3 3.3 0 1 0 -6.6 0zM376.7 850.6a3.3 3.3 0 1 0 6.6 0a3.3 3.3 0 1 0 -6.6 0zM381.5 841.9a3.3 3.3 0 1 0 6.6 0a3.3 3.3 0 1 0 -6.6 0zM386.3 832.4a3.3 3.3 0 1 0 6.6 0a3.3 3.3 0 1 0 -6.6 0zM391.1 823.3a3.3 3.3 0 1 0 6.6 0a3.3 3.3 0 1 0 -6.6 0zM395.9 814.8a3.3 3.3 0 1 0 6.6 0a3.3 3.3 0 1 0 -6.6 0zM400.7 808.9a3.3 3.3 0 1 0 6.6 0a3.3 3.3 0 1 0 -6.6 0zM405.6 803.8a3.3 3.3 0 1 0 6.6 0a3.3 3.3 0 1 0 -6.6 0zM410.4 800.3a3.3 3.3 0 1 0 6.6 0a3.3 3.3 0 1 0 -6.6 0zM415.2 799.3a3.3 3.3 0 1 0 6.6 0a3.3 3.3 0 1 0 -6.6 0zM420.0 802.3a3.3 3.3 0 1 0 6.6 0a3.3 3.3 0 1 0 -6.6 0zM424.8 808.3a3.3 3.3 0 1 0 6.6 0a3.3 3.3 0 1 0 -6.6 0zM429.6 813.3a3.3 3.3 0 1 0 6.6 0a3.3 3.3 0 1 0 -6.6 0zM434.4 822.6a3.3 3.3 0 1 0 6.6 0a3.3 3.3 0 1 0 -6.6 0zM439.2 833.2a3.3 3.3 0 1 0 6.6 0a3.3 3.3 0 1 0 -6.6 0zM444.0 842.9a3.3 3.3 0 1 0 6.6 0a3.3 3.3 0 1 0 -6.6 0zM448.8 857.4a3.3 3.3 0 1 0 6.6 0a3.3 3.3 0 1 0 -6.6 0zM453.6 869.8a3.3 3.3 0 1 0 6.6 0a3.3 3.3 0 1 0 -6.6 0zM458.5 884.2a3.3 3.3 0 1 0 6.6 0a3.3 3.3 0 1 0 -6.6 0zM463.3 895.6a3.3 3.3 0 1 0 6.6 0a3.3 3.3 0 1 0 -6.6 0zM468.1 907.0a3.3 3.3 0 1 0 6.6 0a3.3 3.3 0 1 0 -6.6 0zM472.9 918.2a3.3 3.3 0 1 0 6.6 0a3.3 3.3 0 1 0 -6.6 0zM477.7 928.2a3.3 3.3 0 1 0 6.6 0a3.3 3.3 0 1 0 -6.6 0zM482.5 936.2a3.3 3.3 0 1 0 6.6 0a3.3 3.3 0 1 0 -6.6 0zM487.3 943.9a3.3 3.3 0 1 0 6.6 0a3.3 3.3 0 1 0 -6.6 0zM492.1 949.2a3.3 3.3 0 1 0 6.6 0a3.3 3.3 0 1 0 -6.6 0zM496.9 955.2a3.3 3.3 0 1 0 6.6 0a3.3 3.3 0 1 0 -6.6 0zM501.7 960.1a3.3 3.3 0 1 0 6.6 0a3.3 3.3 0 1 0 -6.6 0zM506.5 964.4a3.3 3.3 0 1 0 6.6 0a3.3 3.3 0 1 0 -6.6 0zM511.4 966.3a3.3 3.3 0 1 0 6.6 0a3.3 3.3 0 1 0 -6.6 0zM516.2 968.2a3.3 3.3 0 1 0 6.6 0a3.3 3.3 0 1 0 -6.6 0zM521.0 970.5a3.3 3.3 0 1 0 6.6 0a3.3 3.3 0 1 0 -6.6 0zM525.8 971.7a3.3 3.3 0 1 0 6.6 0a3.3 3.3 0 1 0 -6.6 0zM530.6 973.2a3.3 3.3 0 1 0 6.6 0a3.3 3.3 0 1 0 -6.6 0zM535.4 973.7a3.3 3.3 0 1 0 6.6 0a3.3 3.3 0 1 0 -6.6 0zM540.2 973.4a3.3 3.3 0 1 0 6.6 0a3.3 3.3 0 1 0 -6.6 0zM545.0 974.2a3.3 3.3 0 1 0 6.6 0a3.3 3.3 0 1 0 -6.6 0zM549.8 974.5a3.3 3.3 0 1 0 6.6 0a3.3 3.3 0 1 0 -6.6 0zM554.6 974.9a3.3 3.3 0 1 0 6.6 0a3.3 3.3 0 1 0 -6.6 0zM559.5 975.1a3.3 3.3 0 1 0 6.6 0a3.3 3.3 0 1 0 -6.6 0zM564.3 974.6a3.3 3.3 0 1 0 6.6 0a3.3 3.3 0 1 0 -6.6 0zM569.1 973.8a3.3 3.3 0 1 0 6.6 0a3.3 3.3 0 1 0 -6.6 0zM573.9 974.9a3.3 3.3 0 1 0 6.6 0a3.3 3.3 0 1 0 -6.6 0zM578.7 974.0a3.3 3.3 0 1 0 6.6 0a3.3 3.3 0 1 0 -6.6 0zM583.5 975.6a3.3 3.3 0 1 0 6.6 0a3.3 3.3 0 1 0 -6.6 0zM588.3 975.6a3.3 3.3 0 1 0 6.6 0a3.3 3.3 0 1 0 -6.6 0zM593.1 974.5a3.3 3.3 0 1 0 6.6 0a3.3 3.3 0 1 0 -6.6 0zM597.9 976.2a3.3 3.3 0 1 0 6.6 0a3.3 3.3 0 1 0 -6.6 0zM602.7 976.4a3.3 3.3 0 1 0 6.6 0a3.3 3.3 0 1 0 -6.6 0zM607.5 975.9a3.3 3.3 0 1 0 6.6 0a3.3 3.3 0 1 0 -6.6 0zM612.4 977.0a3.3 3.3 0 1 0 6.6 0a3.3 3.3 0 1 0 -6.6 0zM617.2 977.2a3.3 3.3 0 1 0 6.6 0a3.3 3.3 0 1 0 -6.6 0zM622.0 975.1a3.3 3.3 0 1 0 6.6 0a3.3 3.3 0 1 0 -6.6 0zM626.8 976.7a3.3 3.3 0 1 0 6.6 0a3.3 3.3 0 1 0 -6.6 0zM631.6 976.3a3.3 3.3 0 1 0 6.6 0a3.3 3.3 0 1 0 -6.6 0zM636.4 976.3a3.3 3.3 0 1 0 6.6 0a3.3 3.3 0 1 0 -6.6 0zM641.2 976.7a3.3 3.3 0 1 0 6.6 0a3.3 3.3 0 1 0 -6.6 0zM646.0 975.6a3.3 3.3 0 1 0 6.6 0a3.3 3.3 0 1 0 -6.6 0zM650.8 975.7a3.3 3.3 0 1 0 6.6 0a3.3 3.3 0 1 0 -6.6 0zM655.6 975.6a3.3 3.3 0 1 0 6.6 0a3.3 3.3 0 1 0 -6.6 0zM660.4 975.7a3.3 3.3 0 1 0 6.6 0a3.3 3.3 0 1 0 -6.6 0zM665.3 976.2a3.3 3.3 0 1 0 6.6 0a3.3 3.3 0 1 0 -6.6 0zM670.1 975.2a3.3 3.3 0 1 0 6.6 0a3.3 3.3 0 1 0 -6.6 0zM674.9 975.6a3.3 3.3 0 1 0 6.6 0a3.3 3.3 0 1 0 -6.6 0zM679.7 976.7a3.3 3.3 0 1 0 6.6 0a3.3 3.3 0 1 0 -6.6 0zM684.5 976.3a3.3 3.3 0 1 0 6.6 0a3.3 3.3 0 1 0 -6.6 0zM689.3 976.7a3.3 3.3 0 1 0 6.6 0a3.3 3.3 0 1 0 -6.6 0z" fill="#e6c21e"/>
<polyline points="67.4,970.7 72.2,971.5 77.0,971.7 81.8,972.1 86.6,971.7 91.4,972.8 96.3,972.2 101.1,972.2 105.9,972.3 110.7,972.8 115.5,972.0 120.3,973.2 125.1,972.7 129.9,972.5 134.7,972.5 139.5,972.9 144.3,973.3 149.2,973.2 154.0,972.9 158.8,973.3 163.6,972.8 168.4,973.6 173.2,972.7 178.0,971.3 182.8,973.7 187.6,972.9 192.4,972.0 197.2,972.7 202.1,972.2 206.9,974.3 211.7,973.1 216.5,971.7 221.3,973.1 226.1,972.3 230.9,973.8 235.7,971.5 240.5,970.4 245.3,971.7 250.2,971.0 255.0,970.4 259.8,968.5 264.6,969.5 269.4,969.4 274.2,965.7 279.0,966.4 283.8,963.5 288.6,963.7 293.4,960.1 298.2,957.2 303.1,955.3 307.9,951.8 312.7,947.6 317.5,944.8 322.3,939.9 327.1,934.8 331.9,933.0 336.7,926.7 341.5,921.7 346.3,917.5 351.1,911.0 356.0,905.9 360.8,900.9 365.6,895.1 370.4,889.4 375.2,883.6 380.0,875.6 384.8,869.0 389.6,861.7 394.4,853.2 399.2,847.3 404.0,840.5 408.9,837.4 413.7,834.4 418.5,833.8 423.3,835.1 428.1,840.6 432.9,846.2 437.7,855.0 442.5,863.5 447.3,872.9 452.1,884.6 456.9,895.0 461.8,904.5 466.6,915.7 471.4,923.9 476.2,932.2 481.0,940.0 485.8,945.8 490.6,951.6 495.4,956.4 500.2,961.4 505.0,964.5 509.8,965.8 514.7,969.2 519.5,969.6 524.3,971.2 529.1,972.6 533.9,973.0 538.7,975.1 543.5,974.1 548.3,973.4 553.1,975.5 557.9,974.5 562.8,974.8 567.6,973.1 572.4,976.0 577.2,976.0 582.0,976.0 586.8,976.2 591.6,976.8 596.4,975.6 601.2,976.4 606.0,975.2 610.8,975.6 615.7,976.6 620.5,976.2 625.3,975.0 630.1,976.2 634.9,975.9 639.7,975.5 644.5,976.4 649.3,975.8 654.1,975.0 658.9,975.4 663.7,977.4 668.6,975.2 673.4,976.4 678.2,976.7 683.0,976.8 687.8,975.5 692.6,976.2" fill="none" stroke="#ff8000" stroke-width="1.2" stroke-linejoin="round"/>
<path d="M64.1 970.7a3.3 3.3 0 1 0 6.6 0a3.3 3.3 0 1 0 -6.6 0zM68.9 971.5a3.3 3.3 0 1 0 6.6 0a3.3 3.3 0 1 0 -6.6 0zM73.7 971.7a3.3 3.3 0 1 0 6.6 0a3.3 3.3 0 1 0 -6.6 0zM78.5 972.1a3.3 3.3 0 1 0 6.6 0a3.3 3.3 0 1 0 -6.6 0zM83.3 971.7a3.3 3.3 0 1 0 6.6 0a3.3 3.3 0 1 0 -6.6 0zM88.1 972.8a3.3 3.3 0 1 0 6.6 0a3.3 3.3 0 1 0 -6.6 0zM93.0 972.2a3.3 3.3 0 1 0 6.6 0a3.3 3.3 0 1 0 -6.6 0zM97.8 972.2a3.3 3.3 0 1 0 6.6 0a3.3 3.3 0 1 0 -6.6 0zM102.6 972.3a3.3 3.3 0 1 0 6.6 0a3.3 3.3 0 1 0 -6.6 0zM107.4 972.8a3.3 3.3 0 1 0 6.6 0a3.3 3.3 0 1 0 -6.6 0zM112.2 972.0a3.3 3.3 0 1 0 6.6 0a3.3 3.3 0 1 0 -6.6 0zM117.0 973.2a3.3 3.3 0 1 0 6.6 0a3.3 3.3 0 1 0 -6.6 0zM121.8 972.7a3.3 3.3 0 1 0 6.6 0a3.3 3.3 0 1 0 -6.6 0zM126.6 972.5a3.3 3.3 0 1 0 6.6 0a3.3 3.3 0 1 0 -6.6 0zM131.4 972.5a3.3 3.3 0 1 0 6.6 0a3.3 3.3 0 1 0 -6.6 0zM136.2 972.9a3.3 3.3 0 1 0 6.6 0a3.3 3.3 0 1 0 -6.6 0zM141.0 973.3a3.3 3.3 0 1 0 6.6 0a3.3 3.3 0 1 0 -6.6 0zM145.9 973.2a3.3 3.3 0 1 0 6.6 0a3.3 3.3 0 1 0 -6.6 0zM150.7 972.9a3.3 3.3 0 1 0 6.6 0a3.3 3.3 0 1 0 -6.6 0zM155.5 973.3a3.3 3.3 0 1 0 6.6 0a3.3 3.3 0 1 0 -6.6 0zM160.3 972.8a3.3 3.3 0 1 0 6.6 0a3.3 3.3 0 1 0 -6.6 0zM165.1 973.6a3.3 3.3 0 1 0 6.6 0a3.3 3.3 0 1 0 -6.6 0zM169.9 972.7a3.3 3.3 0 1 0 6.6 0a3.3 3.3 0 1 0 -6.6 0zM174.7 971.3a3.3 3.3 0 1 0 6.6 0a3.3 3.3 0 1 0 -6.6 0zM179.5 973.7a3.3 3.3 0 1 0 6.6 0a3.3 3.3 0 1 0 -6.6 0zM184.3 972.9a3.3 3.3 0 1 0 6.6 0a3.3 3.3 0 1 0 -6.6 0zM189.1 972.0a3.3 3.3 0 1 0 6.6 0a3.3 3.3 0 1 0 -6.6 0zM193.9 972.7a3.3 3.3 0 1 0 6.6 0a3.3 3.3 0 1 0 -6.6 0zM198.8 972.2a3.3 3.3 0 1 0 6.6 0a3.3 3.3 0 1 0 -6.6 0zM203.6 974.3a3.3 3.3 0 1 0 6.6 0a3.3 3.3 0 1 0 -6.6 0zM208.4 973.1a3.3 3.3 0 1 0 6.6 0a3.3 3.3 0 1 0 -6.6 0zM213.2 971.7a3.3 3.3 0 1 0 6.6 0a3.3 3.3 0 1 0 -6.6 0zM218.0 973.1a3.3 3.3 0 1 0 6.6 0a3.3 3.3 0 1 0 -6.6 0zM222.8 972.3a3.3 3.3 0 1 0 6.6 0a3.3 3.3 0 1 0 -6.6 0zM227.6 973.8a3.3 3.3 0 1 0 6.6 0a3.3 3.3 0 1 0 -6.6 0zM232.4 971.5a3.3 3.3 0 1 0 6.6 0a3.3 3.3 0 1 0 -6.6 0zM237.2 970.4a3.3 3.3 0 1 0 6.6 0a3.3 3.3 0 1 0 -6.6 0zM242.0 971.7a3.3 3.3 0 1 0 6.6 0a3.3 3.3 0 1 0 -6.6 0zM246.9 971.0a3.3 3.3 0 1 0 6.6 0a3.3 3.3 0 1 0 -6.6 0zM251.7 970.4a3.3 3.3 0 1 0 6.6 0a3.3 3.3 0 1 0 -6.6 0zM256.5 968.5a3.3 3.3 0 1 0 6.6 0a3.3 3.3 0 1 0 -6.6 0zM261.3 969.5a3.3 3.3 0 1 0 6.6 0a3.3 3.3 0 1 0 -6.6 0zM266.1 969.4a3.3 3.3 0 1 0 6.6 0a3.3 3.3 0 1 0 -6.6 0zM270.9 965.7a3.3 3.3 0 1 0 6.6 0a3.3 3.3 0 1 0 -6.6 0zM275.7 966.4a3.3 3.3 0 1 0 6.6 0a3.3 3.3 0 1 0 -6.6 0zM280.5 963.5a3.3 3.3 0 1 0 6.6 0a3.3 3.3 0 1 0 -6.6 0zM285.3 963.7a3.3 3.3 0 1 0 6.6 0a3.3 3.3 0 1 0 -6.6 0zM290.1 960.1a3.3 3.3 0 1 0 6.6 0a3.3 3.3 0 1 0 -6.6 0zM294.9 957.2a3.3 3.3 0 1 0 6.6 0a3.3 3.3 0 1 0 -6.6 0zM299.8 955.3a3.3 3.3 0 1 0 6.6 0a3.3 3.3 0 1 0 -6.6 0zM304.6 951.8a3.3 3.3 0 1 0 6.6 0a3.3 3.3 0 1 0 -6.6 0zM309.4 947.6a3.3 3.3 0 1 0 6.6 0a3.3 3.3 0 1 0 -6.6 0zM314.2 944.8a3.3 3.3 0 1 0 6.6 0a3.3 3.3 0 1 0 -6.6 0zM319.0 939.9a3.3 3.3 0 1 0 6.6 0a3.3 3.3 0 1 0 -6.6 0zM323.8 934.8a3.3 3.3 0 1 0 6.6 0a3.3 3.3 0 1 0 -6.6 0zM328.6 933.0a3.3 3.3 0 1 0 6.6 0a3.3 3.3 0 1 0 -6.6 0zM333.4 926.7a3.3 3.3 0 1 0 6.6 0a3.3 3.3 0 1 0 -6.6 0zM338.2 921.7a3.3 3.3 0 1 0 6.6 0a3.3 3.3 0 1 0 -6.6 0zM343.0 917.5a3.3 3.3 0 1 0 6.6 0a3.3 3.3 0 1 0 -6.6 0zM347.8 911.0a3.3 3.3 0 1 0 6.6 0a3.3 3.3 0 1 0 -6.6 0zM352.7 905.9a3.3 3.3 0 1 0 6.6 0a3.3 3.3 0 1 0 -6.6 0zM357.5 900.9a3.3 3.3 0 1 0 6.6 0a3.3 3.3 0 1 0 -6.6 0zM362.3 895.1a3.3 3.3 0 1 0 6.6 0a3.3 3.3 0 1 0 -6.6 0zM367.1 889.4a3.3 3.3 0 1 0 6.6 0a3.3 3.3 0 1 0 -6.6 0zM371.9 883.6a3.3 3.3 0 1 0 6.6 0a3.3 3.3 0 1 0 -6.6 0zM376.7 875.6a3.3 3.3 0 1 0 6.6 0a3.3 3.3 0 1 0 -6.6 0zM381.5 869.0a3.3 3.3 0 1 0 6.6 0a3.3 3.3 0 1 0 -6.6 0zM386.3 861.7a3.3 3.3 0 1 0 6.6 0a3.3 3.3 0 1 0 -6.6 0zM391.1 853.2a3.3 3.3 0 1 0 6.6 0a3.3 3.3 0 1 0 -6.6 0zM395.9 847.3a3.3 3.3 0 1 0 6.6 0a3.3 3.3 0 1 0 -6.6 0zM400.7 840.5a3.3 3.3 0 1 0 6.6 0a3.3 3.3 0 1 0 -6.6 0zM405.6 837.4a3.3 3.3 0 1 0 6.6 0a3.3 3.3 0 1 0 -6.6 0zM410.4 834.4a3.3 3.3 0 1 0 6.6 0a3.3 3.3 0 1 0 -6.6 0zM415.2 833.8a3.3 3.3 0 1 0 6.6 0a3.3 3.3 0 1 0 -6.6 0zM420.0 835.1a3.3 3.3 0 1 0 6.6 0a3.3 3.3 0 1 0 -6.6 0zM424.8 840.6a3.3 3.3 0 1 0 6.6 0a3.3 3.3 0 1 0 -6.6 0zM429.6 846.2a3.3 3.3 0 1 0 6.6 0a3.3 3.3 0 1 0 -6.6 0zM434.4 855.0a3.3 3.3 0 1 0 6.6 0a3.3 3.3 0 1 0 -6.6 0zM439.2 863.5a3.3 3.3 0 1 0 6.6 0a3.3 3.3 0 1 0 -6.6 0zM444.0 872.9a3.3 3.3 0 1 0 6.6 0a3.3 3.3 0 1 0 -6.6 0zM448.8 884.6a3.3 3.3 0 1 0 6.6 0a3.3 3.3 0 1 0 -6.6 0zM453.6 895.0a3.3 3.3 0 1 0 6.6 0a3.3 3.3 0 1 0 -6.6 0zM458.5 904.5a3.3 3.3 0 1 0 6.6 0a3.3 3.3 0 1 0 -6.6 0zM463.3 915.7a3.3 3.3 0 1 0 6.6 0a3.3 3.3 0 1 0 -6.6 0zM468.1 923.9a3.3 3.3 0 1 0 6.6 0a3.3 3.3 0 1 0 -6.6 0zM472.9 932.2a3.3 3.3 0 1 0 6.6 0a3.3 3.3 0 1 0 -6.6 0zM477.7 940.0a3.3 3.3 0 1 0 6.6 0a3.3 3.3 0 1 0 -6.6 0zM482.5 945.8a3.3 3.3 0 1 0 6.6 0a3.3 3.3 0 1 0 -6.6 0zM487.3 951.6a3.3 3.3 0 1 0 6.6 0a3.3 3.3 0 1 0 -6.6 0zM492.1 956.4a3.3 3.3 0 1 0 6.6 0a3.3 3.3 0 1 0 -6.6 0zM496.9 961.4a3.3 3.3 0 1 0 6.6 0a3.3 3.3 0 1 0 -6.6 0zM501.7 964.5a3.3 3.3 0 1 0 6.6 0a3.3 3.3 0 1 0 -6.6 0zM506.5 965.8a3.3 3.3 0 1 0 6.6 0a3.3 3.3 0 1 0 -6.6 0zM511.4 969.2a3.3 3.3 0 1 0 6.6 0a3.3 3.3 0 1 0 -6.6 0zM516.2 969.6a3.3 3.3 0 1 0 6.6 0a3.3 3.3 0 1 0 -6.6 0zM521.0 971.2a3.3 3.3 0 1 0 6.6 0a3.3 3.3 0 1 0 -6.6 0zM525.8 972.6a3.3 3.3 0 1 0 6.6 0a3.3 3.3 0 1 0 -6.6 0zM530.6 973.0a3.3 3.3 0 1 0 6.6 0a3.3 3.3 0 1 0 -6.6 0zM535.4 975.1a3.3 3.3 0 1 0 6.6 0a3.3 3.3 0 1 0 -6.6 0zM540.2 974.1a3.3 3.3 0 1 0 6.6 0a3.3 3.3 0 1 0 -6.6 0zM545.0 973.4a3.3 3.3 0 1 0 6.6 0a3.3 3.3 0 1 0 -6.6 0zM549.8 975.5a3.3 3.3 0 1 0 6.6 0a3.3 3.3 0 1 0 -6.6 0zM554.6 974.5a3.3 3.3 0 1 0 6.6 0a3.3 3.3 0 1 0 -6.6 0zM559.5 974.8a3.3 3.3 0 1 0 6.6 0a3.3 3.3 0 1 0 -6.6 0zM564.3 973.1a3.3 3.3 0 1 0 6.6 0a3.3 3.3 0 1 0 -6.6 0zM569.1 976.0a3.3 3.3 0 1 0 6.6 0a3.3 3.3 0 1 0 -6.6 0zM573.9 976.0a3.3 3.3 0 1 0 6.6 0a3.3 3.3 0 1 0 -6.6 0zM578.7 976.0a3.3 3.3 0 1 0 6.6 0a3.3 3.3 0 1 0 -6.6 0zM583.5 976.2a3.3 3.3 0 1 0 6.6 0a3.3 3.3 0 1 0 -6.6 0zM588.3 976.8a3.3 3.3 0 1 0 6.6 0a3.3 3.3 0 1 0 -6.6 0zM593.1 975.6a3.3 3.3 0 1 0 6.6 0a3.3 3.3 0 1 0 -6.6 0zM597.9 976.4a3.3 3.3 0 1 0 6.6 0a3.3 3.3 0 1 0 -6.6 0zM602.7 975.2a3.3 3.3 0 1 0 6.6 0a3.3 3.3 0 1 0 -6.6 0zM607.5 975.6a3.3 3.3 0 1 0 6.6 0a3.3 3.3 0 1 0 -6.6 0zM612.4 976.6a3.3 3.3 0 1 0 6.6 0a3.3 3.3 0 1 0 -6.6 0zM617.2 976.2a3.3 3.3 0 1 0 6.6 0a3.3 3.3 0 1 0 -6.6 0zM622.0 975.0a3.3 3.3 0 1 0 6.6 0a3.3 3.3 0 1 0 -6.6 0zM626.8 976.2a3.3 3.3 0 1 0 6.6 0a3.3 3.3 0 1 0 -6.6 0zM631.6 975.9a3.3 3.3 0 1 0 6.6 0a3.3 3.3 0 1 0 -6.6 0zM636.4 975.5a3.3 3.3 0 1 0 6.6 0a3.3 3.3 0 1 0 -6.6 0zM641.2 976.4a3.3 3.3 0 1 0 6.6 0a3.3 3.3 0 1 0 -6.6 0zM646.0 975.8a3.3 3.3 0 1 0 6.6 0a3.3 3.3 0 1 0 -6.6 0zM650.8 975.0a3.3 3.3 0 1 0 6.6 0a3.3 3.3 0 1 0 -6.6 0zM655.6 975.4a3.3 3.3 0 1 0 6.6 0a3.3 3.3 0 1 0 -6.6 0zM660.4 977.4a3.3 3.3 0 1 0 6.6 0a3.3 3.3 0 1 0 -6.6 0zM665.3 975.2a3.3 3.3 0 1 0 6.6 0a3.3 3.3 0 1 0 -6.6 0zM670.1 976.4a3.3 3.3 0 1 0 6.6 0a3.3 3.3 0 1 0 -6.6 0zM674.9 976.7a3.3 3.3 0 1 0 6.6 0a3.3 3.3 0 1 0 -6.6 0zM679.7 976.8a3.3 3.3 0 1 0 6.6 0a3.3 3.3 0 1 0 -6.6 0zM684.5 975.5a3.3 3.3 0 1 0 6.6 0a3.3 3.3 0 1 0 -6.6 0zM689.3 976.2a3.3 3.3 0 1 0 6.6 0a3.3 3.3 0 1 0 -6.6 0z" fill="#ff8000"/>
<polyline points="67.4,972.1 68.4,972.7 69.3,971.4 70.3,971.0 71.2,972.9 72.2,973.0 73.2,972.4 74.1,971.5 75.1,972.4 76.1,972.2 77.0,972.8 78.0,971.0 78.9,972.2 79.9,971.9 80.9,971.1 81.8,972.3 82.8,972.1 83.8,971.7 84.7,972.5 85.7,970.9 86.6,972.1 87.6,972.5 88.6,972.4 89.5,973.1 90.5,971.1 91.4,970.8 92.4,972.4 93.4,972.6 94.3,974.1 95.3,972.8 96.3,971.4 97.2,972.9 98.2,971.5 99.1,970.9 100.1,974.6 101.1,972.5 102.0,972.9 103.0,972.8 104.0,973.9 104.9,972.5 105.9,973.4 106.8,971.4 107.8,971.0 108.8,973.6 109.7,973.6 110.7,972.8 111.6,972.5 112.6,972.5 113.6,971.7 114.5,973.7 115.5,972.9 116.5,972.8 117.4,972.7 118.4,973.3 119.3,972.8 120.3,973.0 121.3,971.3 122.2,972.8 123.2,974.4 124.1,971.9 125.1,972.3 126.1,973.2 127.0,973.3 128.0,973.0 129.0,971.0 129.9,972.9 130.9,971.4 131.8,971.7 132.8,973.0 133.8,972.2 134.7,973.2 135.7,975.3 136.7,973.2 137.6,973.1 138.6,971.7 139.5,971.9 140.5,971.6 141.5,972.0 142.4,971.5 143.4,971.9 144.3,972.4 145.3,971.6 146.3,971.3 147.2,971.3 148.2,973.0 149.2,972.6 150.1,973.5 151.1,973.5 152.0,972.3 153.0,973.2 154.0,971.3 154.9,974.7 155.9,973.7 156.9,972.4 157.8,971.6 158.8,973.0 159.7,971.0 160.7,972.0 161.7,973.3 162.6,972.7 163.6,972.2 164.5,973.5 165.5,971.7 166.5,972.9 167.4,972.2 168.4,971.9 169.4,973.1 170.3,971.8 171.3,974.4 172.2,972.2 173.2,974.5 174.2,971.8 175.1,973.3 176.1,971.7 177.1,971.5 178.0,972.9 179.0,973.4 179.9,971.6 180.9,973.8 181.9,972.1 182.8,972.9 183.8,973.1 184.7,973.3 185.7,971.2 186.7,974.3 187.6,973.3 188.6,972.4 189.6,971.9 190.5,971.3 191.5,971.6 192.4,973.3 193.4,972.5 194.4,971.8 195.3,972.4 196.3,974.3 197.2,972.5 198.2,972.3 199.2,974.1 200.1,973.3 201.1,972.9 202.1,972.3 203.0,971.5 204.0,971.8 204.9,972.4 205.9,972.7 206.9,973.2 207.8,973.3 208.8,973.0 209.8,973.0 210.7,971.9 211.7,970.9 212.6,972.4 213.6,972.0 214.6,972.2 215.5,972.6 216.5,971.7 217.4,971.8 218.4,972.7 219.4,972.9 220.3,972.2 221.3,973.2 222.3,972.5 223.2,971.8 224.2,972.7 225.1,974.4 226.1,972.1 227.1,973.7 228.0,973.9 229.0,974.0 230.0,971.8 230.9,974.4 231.9,972.6 232.8,972.3 233.8,972.3 234.8,973.0 235.7,972.5 236.7,972.2 237.6,973.5 238.6,971.6 239.6,971.3 240.5,972.9 241.5,972.8 242.5,973.1 243.4,971.1 244.4,973.0 245.3,972.4 246.3,973.5 247.3,970.7 248.2,971.9 249.2,971.4 250.2,970.2 251.1,970.9 252.1,972.5 253.0,970.9 254.0,970.6 255.0,971.9 255.9,972.0 256.9,971.9 257.8,970.1 258.8,970.7 259.8,971.6 260.7,969.9 261.7,969.7 262.7,971.0 263.6,971.5 264.6,968.9 265.5,967.5 266.5,968.4 267.5,968.6 268.4,969.2 269.4,969.7 270.3,968.9 271.3,968.2 272.3,968.7 273.2,967.5 274.2,968.2 275.2,967.4 276.1,970.2 277.1,968.3 278.0,966.6 279.0,966.2 280.0,966.4 280.9,965.1 281.9,965.6 282.9,965.3 283.8,966.5 284.8,965.0 285.7,964.4 286.7,963.6 287.7,963.4 288.6,964.1 289.6,963.6 290.5,964.5 291.5,962.6 292.5,963.7 293.4,962.6 294.4,962.0 295.4,959.8 296.3,960.0 297.3,961.4 298.2,961.6 299.2,960.1 300.2,960.2 301.1,958.7 302.1,958.2 303.1,957.5 304.0,958.5 305.0,957.4 305.9,956.4 306.9,955.8 307.9,956.1 308.8,955.3 309.8,953.7 310.7,955.5 311.7,953.6 312.7,952.8 313.6,953.5 314.6,952.5 315.6,950.9 316.5,950.9 317.5,948.8 318.4,948.5 319.4,946.4 320.4,948.9 321.3,945.5 322.3,947.1 323.3,945.1 324.2,944.3 325.2,944.3 326.1,944.0 327.1,943.6 328.1,943.9 329.0,941.9 330.0,941.7 330.9,939.6 331.9,940.0 332.9,938.8 333.8,937.5 334.8,937.0 335.8,936.3 336.7,935.8 337.7,935.2 338.6,933.6 339.6,932.6 340.6,933.1 341.5,930.1 342.5,930.3 343.4,931.4 344.4,926.7 345.4,927.7 346.3,928.2 347.3,925.2 348.3,928.2 349.2,922.7 350.2,925.5 351.1,924.7 352.1,923.3 353.1,921.4 354.0,921.1 355.0,919.1 356.0,919.7 356.9,917.1 357.9,917.0 358.8,917.3 359.8,914.5 360.8,914.3 361.7,913.8 362.7,911.6 363.6,912.9 364.6,911.2 365.6,908.7 366.5,909.1 367.5,907.5 368.5,906.6 369.4,906.3 370.4,904.7 371.3,905.2 372.3,902.8 373.3,903.3 374.2,901.4 375.2,901.3 376.2,899.0 377.1,898.1 378.1,896.5 379.0,897.1 380.0,896.4 381.0,896.5 381.9,894.8 382.9,892.8 383.8,891.4 384.8,891.0 385.8,889.6 386.7,889.9 387.7,888.5 388.7,885.9 389.6,885.1 390.6,885.9 391.5,884.0 392.5,882.6 393.5,882.9 394.4,880.6 395.4,879.7 396.4,878.7 397.3,876.5 398.3,878.1 399.2,875.4 400.2,875.2 401.2,874.3 402.1,874.8 403.1,873.4 404.0,872.7 405.0,870.6 406.0,871.4 406.9,869.5 407.9,870.6 408.9,870.1 409.8,869.3 410.8,870.7 411.7,869.0 412.7,868.7 413.7,868.0 414.6,867.5 415.6,868.4 416.6,868.4 417.5,866.2 418.5,868.3 419.4,867.9 420.4,868.4 421.4,868.1 422.3,866.8 423.3,867.2 424.2,870.3 425.2,869.3 426.2,868.3 427.1,870.4 428.1,870.4 429.1,869.7 430.0,870.1 431.0,871.5 431.9,874.0 432.9,874.7 433.9,875.5 434.8,877.0 435.8,878.4 436.7,877.1 437.7,879.9 438.7,880.7 439.6,881.6 440.6,883.6 441.6,885.3 442.5,886.6 443.5,887.0 444.4,889.4 445.4,893.2 446.4,892.0 447.3,893.0 448.3,896.4 449.3,898.3 450.2,899.8 451.2,900.1 452.1,903.7 453.1,903.7 454.1,905.1 455.0,907.3 456.0,909.5 456.9,911.9 457.9,913.5 458.9,914.7 459.8,917.2 460.8,918.1 461.8,920.5 462.7,920.1 463.7,921.6 464.6,925.3 465.6,925.0 466.6,927.5 467.5,929.3 468.5,930.4 469.5,932.0 470.4,935.1 471.4,933.0 472.3,937.5 473.3,940.2 474.3,939.5 475.2,940.8 476.2,942.7 477.1,945.0 478.1,943.5 479.1,945.8 480.0,946.7 481.0,948.5 482.0,949.3 482.9,950.8 483.9,950.8 484.8,952.2 485.8,952.6 486.8,953.5 487.7,954.9 488.7,955.7 489.7,955.6 490.6,958.9 491.6,958.1 492.5,957.8 493.5,960.7 494.5,959.7 495.4,961.5 496.4,961.7 497.3,962.5 498.3,963.1 499.3,962.9 500.2,964.0 501.2,966.3 502.2,963.0 503.1,965.5 504.1,966.3 505.0,965.4 506.0,965.5 507.0,969.1 507.9,967.2 508.9,969.8 509.8,968.8 510.8,968.7 511.8,969.3 512.7,969.8 513.7,970.6 514.7,970.2 515.6,970.2 516.6,970.5 517.5,971.8 518.5,971.5 519.5,970.1 520.4,970.6 521.4,971.7 522.4,971.0 523.3,971.4 524.3,971.1 525.2,971.9 526.2,972.7 527.2,973.3 528.1,972.6 529.1,974.6 530.0,972.8 531.0,975.9 532.0,974.0 532.9,973.7 533.9,972.9 534.9,970.9 535.8,973.4 536.8,973.8 537.7,975.5 538.7,972.6 539.7,975.6 540.6,973.7 541.6,974.7 542.6,971.8 543.5,974.3 544.5,974.0 545.4,974.9 546.4,974.5 547.4,973.4 548.3,975.4 549.3,975.2 550.2,975.1 551.2,975.6 552.2,975.7 553.1,974.7 554.1,973.6 555.1,973.6 556.0,976.1 557.0,975.6 557.9,975.0 558.9,974.6 559.9,975.0 560.8,975.1 561.8,974.8 562.8,974.5 563.7,977.1 564.7,975.4 565.6,974.6 566.6,974.0 567.6,974.6 568.5,975.9 569.5,976.0 570.4,975.1 571.4,975.4 572.4,975.1 573.3,974.4 574.3,976.6 575.3,975.7 576.2,977.7 577.2,974.8 578.1,975.3 579.1,976.3 580.1,975.3 581.0,974.3 582.0,974.7 582.9,975.6 583.9,975.9 584.9,975.5 585.8,976.5 586.8,976.5 587.8,975.9 588.7,975.6 589.7,975.4 590.6,976.1 591.6,976.5 592.6,975.7 593.5,976.1 594.5,975.4 595.5,974.4 596.4,974.8 597.4,976.4 598.3,976.1 599.3,977.1 600.3,975.8 601.2,976.5 602.2,976.9 603.1,976.6 604.1,975.2 605.1,975.6 606.0,975.9 607.0,974.9 608.0,976.2 608.9,976.7 609.9,975.4 610.8,977.6 611.8,975.6 612.8,975.6 613.7,975.6 614.7,975.2 615.7,976.2 616.6,975.9 617.6,977.4 618.5,976.4 619.5,976.4 620.5,975.7 621.4,974.6 622.4,975.8 623.3,975.1 624.3,976.8 625.3,975.9 626.2,977.4 627.2,976.6 628.2,976.7 629.1,976.2 630.1,976.1 631.0,976.6 632.0,976.8 633.0,975.3 633.9,976.4 634.9,978.4 635.9,975.9 636.8,975.8 637.8,975.4 638.7,974.7 639.7,977.1 640.7,976.1 641.6,976.3 642.6,977.7 643.5,978.3 644.5,975.3 645.5,977.0 646.4,976.6 647.4,976.4 648.4,976.5 649.3,976.1 650.3,977.5 651.2,976.7 652.2,976.4 653.2,977.2 654.1,976.9 655.1,976.6 656.0,976.4 657.0,977.7 658.0,976.6 658.9,976.1 659.9,975.4 660.9,975.9 661.8,975.2 662.8,976.3 663.7,976.4 664.7,974.4 665.7,976.2 666.6,976.8 667.6,976.4 668.6,975.4 669.5,977.4 670.5,975.6 671.4,975.1 672.4,975.3 673.4,976.3 674.3,977.2 675.3,977.3 676.2,976.5 677.2,975.2 678.2,975.7 679.1,975.5 680.1,976.2 681.1,974.7 682.0,976.4 683.0,976.9 683.9,976.2 684.9,976.8 685.9,975.5 686.8,975.1 687.8,975.8 688.8,977.4 689.7,977.3 690.7,976.0 691.6,977.5 692.6,976.1" fill="none" stroke="#000080" stroke-width="1.2" stroke-linejoin="round"/>
<path d="M65.0 972.1a2.4 2.4 0 1 0 4.8 0a2.4 2.4 0 1 0 -4.8 0zM66.0 972.7a2.4 2.4 0 1 0 4.8 0a2.4 2.4 0 1 0 -4.8 0zM66.9 971.4a2.4 2.4 0 1 0 4.8 0a2.4 2.4 0 1 0 -4.8 0zM67.9 971.0a2.4 2.4 0 1 0 4.8 0a2.4 2.4 0 1 0 -4.8 0zM68.8 972.9a2.4 2.4 0 1 0 4.8 0a2.4 2.4 0 1 0 -4.8 0zM69.8 973.0a2.4 2.4 0 1 0 4.8 0a2.4 2.4 0 1 0 -4.8 0zM70.8 972.4a2.4 2.4 0 1 0 4.8 0a2.4 2.4 0 1 0 -4.8 0zM71.7 971.5a2.4 2.4 0 1 0 4.8 0a2.4 2.4 0 1 0 -4.8 0zM72.7 972.4a2.4 2.4 0 1 0 4.8 0a2.4 2.4 0 1 0 -4.8 0zM73.7 972.2a2.4 2.4 0 1 0 4.8 0a2.4 2.4 0 1 0 -4.8 0zM74.6 972.8a2.4 2.4 0 1 0 4.8 0a2.4 2.4 0 1 0 -4.8 0zM75.6 971.0a2.4 2.4 0 1 0 4.8 0a2.4 2.4 0 1 0 -4.8 0zM76.5 972.2a2.4 2.4 0 1 0 4.8 0a2.4 2.4 0 1 0 -4.8 0zM77.5 971.9a2.4 2.4 0 1 0 4.8 0a2.4 2.4 0 1 0 -4.8 0zM78.5 971.1a2.4 2.4 0 1 0 4.8 0a2.4 2.4 0 1 0 -4.8 0zM79.4 972.3a2.4 2.4 0 1 0 4.8 0a2.4 2.4 0 1 0 -4.8 0zM80.4 972.1a2.4 2.4 0 1 0 4.8 0a2.4 2.4 0 1 0 -4.8 0zM81.4 971.7a2.4 2.4 0 1 0 4.8 0a2.4 2.4 0 1 0 -4.8 0zM82.3 972.5a2.4 2.4 0 1 0 4.8 0a2.4 2.4 0 1 0 -4.8 0zM83.3 970.9a2.4 2.4 0 1 0 4.8 0a2.4 2.4 0 1 0 -4.8 0zM84.2 972.1a2.4 2.4 0 1 0 4.8 0a2.4 2.4 0 1 0 -4.8 0zM85.2 972.5a2.4 2.4 0 1 0 4.8 0a2.4 2.4 0 1 0 -4.8 0zM86.2 972.4a2.4 2.4 0 1 0 4.8 0a2.4 2.4 0 1 0 -4.8 0zM87.1 973.1a2.4 2.4 0 1 0 4.8 0a2.4 2.4 0 1 0 -4.8 0zM88.1 971.1a2.4 2.4 0 1 0 4.8 0a2.4 2.4 0 1 0 -4.8 0zM89.0 970.8a2.4 2.4 0 1 0 4.8 0a2.4 2.4 0 1 0 -4.8 0zM90.0 972.4a2.4 2.4 0 1 0 4.8 0a2.4 2.4 0 1 0 -4.8 0zM91.0 972.6a2.4 2.4 0 1 0 4.8 0a2.4 2.4 0 1 0 -4.8 0zM91.9 974.1a2.4 2.4 0 1 0 4.8 0a2.4 2.4 0 1 0 -4.8 0zM92.9 972.8a2.4 2.4 0 1 0 4.8 0a2.4 2.4 0 1 0 -4.8 0zM93.9 971.4a2.4 2.4 0 1 0 4.8 0a2.4 2.4 0 1 0 -4.8 0zM94.8 972.9a2.4 2.4 0 1 0 4.8 0a2.4 2.4 0 1 0 -4.8 0zM95.8 971.5a2.4 2.4 0 1 0 4.8 0a2.4 2.4 0 1 0 -4.8 0zM96.7 970.9a2.4 2.4 0 1 0 4.8 0a2.4 2.4 0 1 0 -4.8 0zM97.7 974.6a2.4 2.4 0 1 0 4.8 0a2.4 2.4 0 1 0 -4.8 0zM98.7 972.5a2.4 2.4 0 1 0 4.8 0a2.4 2.4 0 1 0 -4.8 0zM99.6 972.9a2.4 2.4 0 1 0 4.8 0a2.4 2.4 0 1 0 -4.8 0zM100.6 972.8a2.4 2.4 0 1 0 4.8 0a2.4 2.4 0 1 0 -4.8 0zM101.6 973.9a2.4 2.4 0 1 0 4.8 0a2.4 2.4 0 1 0 -4.8 0zM102.5 972.5a2.4 2.4 0 1 0 4.8 0a2.4 2.4 0 1 0 -4.8 0zM103.5 973.4a2.4 2.4 0 1 0 4.8 0a2.4 2.4 0 1 0 -4.8 0zM104.4 971.4a2.4 2.4 0 1 0 4.8 0a2.4 2.4 0 1 0 -4.8 0zM105.4 971.0a2.4 2.4 0 1 0 4.8 0a2.4 2.4 0 1 0 -4.8 0zM106.4 973.6a2.4 2.4 0 1 0 4.8 0a2.4 2.4 0 1 0 -4.8 0zM107.3 973.6a2.4 2.4 0 1 0 4.8 0a2.4 2.4 0 1 0 -4.8 0zM108.3 972.8a2.4 2.4 0 1 0 4.8 0a2.4 2.4 0 1 0 -4.8 0zM109.2 972.5a2.4 2.4 0 1 0 4.8 0a2.4 2.4 0 1 0 -4.8 0zM110.2 972.5a2.4 2.4 0 1 0 4.8 0a2.4 2.4 0 1 0 -4.8 0zM111.2 971.7a2.4 2.4 0 1 0 4.8 0a2.4 2.4 0 1 0 -4.8 0zM112.1 973.7a2.4 2.4 0 1 0 4.8 0a2.4 2.4 0 1 0 -4.8 0zM113.1 972.9a2.4 2.4 0 1 0 4.8 0a2.4 2.4 0 1 0 -4.8 0zM114.1 972.8a2.4 2.4 0 1 0 4.8 0a2.4 2.4 0 1 0 -4.8 0zM115.0 972.7a2.4 2.4 0 1 0 4.8 0a2.4 2.4 0 1 0 -4.8 0zM116.0 973.3a2.4 2.4 0 1 0 4.8 0a2.4 2.4 0 1 0 -4.8 0zM116.9 972.8a2.4 2.4 0 1 0 4.8 0a2.4 2.4 0 1 0 -4.8 0zM117.9 973.0a2.4 2.4 0 1 0 4.8 0a2.4 2.4 0 1 0 -4.8 0zM118.9 971.3a2.4 2.4 0 1 0 4.8 0a2.4 2.4 0 1 0 -4.8 0zM119.8 972.8a2.4 2.4 0 1 0 4.8 0a2.4 2.4 0 1 0 -4.8 0zM120.8 974.4a2.4 2.4 0 1 0 4.8 0a2.4 2.4 0 1 0 -4.8 0zM121.7 971.9a2.4 2.4 0 1 0 4.8 0a2.4 2.4 0 1 0 -4.8 0zM122.7 972.3a2.4 2.4 0 1 0 4.8 0a2.4 2.4 0 1 0 -4.8 0zM123.7 973.2a2.4 2.4 0 1 0 4.8 0a2.4 2.4 0 1 0 -4.8 0zM124.6 973.3a2.4 2.4 0 1 0 4.8 0a2.4 2.4 0 1 0 -4.8 0zM125.6 973.0a2.4 2.4 0 1 0 4.8 0a2.4 2.4 0 1 0 -4.8 0zM126.6 971.0a2.4 2.4 0 1 0 4.8 0a2.4 2.4 0 1 0 -4.8 0zM127.5 972.9a2.4 2.4 0 1 0 4.8 0a2.4 2.4 0 1 0 -4.8 0zM128.5 971.4a2.4 2.4 0 1 0 4.8 0a2.4 2.4 0 1 0 -4.8 0zM129.4 971.7a2.4 2.4 0 1 0 4.8 0a2.4 2.4 0 1 0 -4.8 0zM130.4 973.0a2.4 2.4 0 1 0 4.8 0a2.4 2.4 0 1 0 -4.8 0zM131.4 972.2a2.4 2.4 0 1 0 4.8 0a2.4 2.4 0 1 0 -4.8 0zM132.3 973.2a2.4 2.4 0 1 0 4.8 0a2.4 2.4 0 1 0 -4.8 0zM133.3 975.3a2.4 2.4 0 1 0 4.8 0a2.4 2.4 0 1 0 -4.8 0zM134.3 973.2a2.4 2.4 0 1 0 4.8 0a2.4 2.4 0 1 0 -4.8 0zM135.2 973.1a2.4 2.4 0 1 0 4.8 0a2.4 2.4 0 1 0 -4.8 0zM136.2 971.7a2.4 2.4 0 1 0 4.8 0a2.4 2.4 0 1 0 -4.8 0zM137.1 971.9a2.4 2.4 0 1 0 4.8 0a2.4 2.4 0 1 0 -4.8 0zM138.1 971.6a2.4 2.4 0 1 0 4.8 0a2.4 2.4 0 1 0 -4.8 0zM139.1 972.0a2.4 2.4 0 1 0 4.8 0a2.4 2.4 0 1 0 -4.8 0zM140.0 971.5a2.4 2.4 0 1 0 4.8 0a2.4 2.4 0 1 0 -4.8 0zM141.0 971.9a2.4 2.4 0 1 0 4.8 0a2.4 2.4 0 1 0 -4.8 0zM141.9 972.4a2.4 2.4 0 1 0 4.8 0a2.4 2.4 0 1 0 -4.8 0zM142.9 971.6a2.4 2.4 0 1 0 4.8 0a2.4 2.4 0 1 0 -4.8 0zM143.9 971.3a2.4 2.4 0 1 0 4.8 0a2.4 2.4 0 1 0 -4.8 0zM144.8 971.3a2.4 2.4 0 1 0 4.8 0a2.4 2.4 0 1 0 -4.8 0zM145.8 973.0a2.4 2.4 0 1 0 4.8 0a2.4 2.4 0 1 0 -4.8 0zM146.8 972.6a2.4 2.4 0 1 0 4.8 0a2.4 2.4 0 1 0 -4.8 0zM147.7 973.5a2.4 2.4 0 1 0 4.8 0a2.4 2.4 0 1 0 -4.8 0zM148.7 973.5a2.4 2.4 0 1 0 4.8 0a2.4 2.4 0 1 0 -4.8 0zM149.6 972.3a2.4 2.4 0 1 0 4.8 0a2.4 2.4 0 1 0 -4.8 0zM150.6 973.2a2.4 2.4 0 1 0 4.8 0a2.4 2.4 0 1 0 -4.8 0zM151.6 971.3a2.4 2.4 0 1 0 4.8 0a2.4 2.4 0 1 0 -4.8 0zM152.5 974.7a2.4 2.4 0 1 0 4.8 0a2.4 2.4 0 1 0 -4.8 0zM153.5 973.7a2.4 2.4 0 1 0 4.8 0a2.4 2.4 0 1 0 -4.8 0zM154.5 972.4a2.4 2.4 0 1 0 4.8 0a2.4 2.4 0 1 0 -4.8 0zM155.4 971.6a2.4 2.4 0 1 0 4.8 0a2.4 2.4 0 1 0 -4.8 0zM156.4 973.0a2.4 2.4 0 1 0 4.8 0a2.4 2.4 0 1 0 -4.8 0zM157.3 971.0a2.4 2.4 0 1 0 4.8 0a2.4 2.4 0 1 0 -4.8 0zM158.3 972.0a2.4 2.4 0 1 0 4.8 0a2.4 2.4 0 1 0 -4.8 0zM159.3 973.3a2.4 2.4 0 1 0 4.8 0a2.4 2.4 0 1 0 -4.8 0zM160.2 972.7a2.4 2.4 0 1 0 4.8 0a2.4 2.4 0 1 0 -4.8 0zM161.2 972.2a2.4 2.4 0 1 0 4.8 0a2.4 2.4 0 1 0 -4.8 0zM162.1 973.5a2.4 2.4 0 1 0 4.8 0a2.4 2.4 0 1 0 -4.8 0zM163.1 971.7a2.4 2.4 0 1 0 4.8 0a2.4 2.4 0 1 0 -4.8 0zM164.1 972.9a2.4 2.4 0 1 0 4.8 0a2.4 2.4 0 1 0 -4.8 0zM165.0 972.2a2.4 2.4 0 1 0 4.8 0a2.4 2.4 0 1 0 -4.8 0zM166.0 971.9a2.4 2.4 0 1 0 4.8 0a2.4 2.4 0 1 0 -4.8 0zM167.0 973.1a2.4 2.4 0 1 0 4.8 0a2.4 2.4 0 1 0 -4.8 0zM167.9 971.8a2.4 2.4 0 1 0 4.8 0a2.4 2.4 0 1 0 -4.8 0zM168.9 974.4a2.4 2.4 0 1 0 4.8 0a2.4 2.4 0 1 0 -4.8 0zM169.8 972.2a2.4 2.4 0 1 0 4.8 0a2.4 2.4 0 1 0 -4.8 0zM170.8 974.5a2.4 2.4 0 1 0 4.8 0a2.4 2.4 0 1 0 -4.8 0zM171.8 971.8a2.4 2.4 0 1 0 4.8 0a2.4 2.4 0 1 0 -4.8 0zM172.7 973.3a2.4 2.4 0 1 0 4.8 0a2.4 2.4 0 1 0 -4.8 0zM173.7 971.7a2.4 2.4 0 1 0 4.8 0a2.4 2.4 0 1 0 -4.8 0zM174.7 971.5a2.4 2.4 0 1 0 4.8 0a2.4 2.4 0 1 0 -4.8 0zM175.6 972.9a2.4 2.4 0 1 0 4.8 0a2.4 2.4 0 1 0 -4.8 0zM176.6 973.4a2.4 2.4 0 1 0 4.8 0a2.4 2.4 0 1 0 -4.8 0zM177.5 971.6a2.4 2.4 0 1 0 4.8 0a2.4 2.4 0 1 0 -4.8 0zM178.5 973.8a2.4 2.4 0 1 0 4.8 0a2.4 2.4 0 1 0 -4.8 0zM179.5 972.1a2.4 2.4 0 1 0 4.8 0a2.4 2.4 0 1 0 -4.8 0zM180.4 972.9a2.4 2.4 0 1 0 4.8 0a2.4 2.4 0 1 0 -4.8 0zM181.4 973.1a2.4 2.4 0 1 0 4.8 0a2.4 2.4 0 1 0 -4.8 0zM182.3 973.3a2.4 2.4 0 1 0 4.8 0a2.4 2.4 0 1 0 -4.8 0zM183.3 971.2a2.4 2.4 0 1 0 4.8 0a2.4 2.4 0 1 0 -4.8 0zM184.3 974.3a2.4 2.4 0 1 0 4.8 0a2.4 2.4 0 1 0 -4.8 0zM185.2 973.3a2.4 2.4 0 1 0 4.8 0a2.4 2.4 0 1 0 -4.8 0zM186.2 972.4a2.4 2.4 0 1 0 4.8 0a2.4 2.4 0 1 0 -4.8 0zM187.2 971.9a2.4 2.4 0 1 0 4.8 0a2.4 2.4 0 1 0 -4.8 0zM188.1 971.3a2.4 2.4 0 1 0 4.8 0a2.4 2.4 0 1 0 -4.8 0zM189.1 971.6a2.4 2.4 0 1 0 4.8 0a2.4 2.4 0 1 0 -4.8 0zM190.0 973.3a2.4 2.4 0 1 0 4.8 0a2.4 2.4 0 1 0 -4.8 0zM191.0 972.5a2.4 2.4 0 1 0 4.8 0a2.4 2.4 0 1 0 -4.8 0zM192.0 971.8a2.4 2.4 0 1 0 4.8 0a2.4 2.4 0 1 0 -4.8 0zM192.9 972.4a2.4 2.4 0 1 0 4.8 0a2.4 2.4 0 1 0 -4.8 0zM193.9 974.3a2.4 2.4 0 1 0 4.8 0a2.4 2.4 0 1 0 -4.8 0zM194.8 972.5a2.4 2.4 0 1 0 4.8 0a2.4 2.4 0 1 0 -4.8 0zM195.8 972.3a2.4 2.4 0 1 0 4.8 0a2.4 2.4 0 1 0 -4.8 0zM196.8 974.1a2.4 2.4 0 1 0 4.8 0a2.4 2.4 0 1 0 -4.8 0zM197.7 973.3a2.4 2.4 0 1 0 4.8 0a2.4 2.4 0 1 0 -4.8 0zM198.7 972.9a2.4 2.4 0 1 0 4.8 0a2.4 2.4 0 1 0 -4.8 0zM199.7 972.3a2.4 2.4 0 1 0 4.8 0a2.4 2.4 0 1 0 -4.8 0zM200.6 971.5a2.4 2.4 0 1 0 4.8 0a2.4 2.4 0 1 0 -4.8 0zM201.6 971.8a2.4 2.4 0 1 0 4.8 0a2.4 2.4 0 1 0 -4.8 0zM202.5 972.4a2.4 2.4 0 1 0 4.8 0a2.4 2.4 0 1 0 -4.8 0zM203.5 972.7a2.4 2.4 0 1 0 4.8 0a2.4 2.4 0 1 0 -4.8 0zM204.5 973.2a2.4 2.4 0 1 0 4.8 0a2.4 2.4 0 1 0 -4.8 0zM205.4 973.3a2.4 2.4 0 1 0 4.8 0a2.4 2.4 0 1 0 -4.8 0zM206.4 973.0a2.4 2.4 0 1 0 4.8 0a2.4 2.4 0 1 0 -4.8 0zM207.4 973.0a2.4 2.4 0 1 0 4.8 0a2.4 2.4 0 1 0 -4.8 0zM208.3 971.9a2.4 2.4 0 1 0 4.8 0a2.4 2.4 0 1 0 -4.8 0zM209.3 970.9a2.4 2.4 0 1 0 4.8 0a2.4 2.4 0 1 0 -4.8 0zM210.2 972.4a2.4 2.4 0 1 0 4.8 0a2.4 2.4 0 1 0 -4.8 0zM211.2 972.0a2.4 2.4 0 1 0 4.8 0a2.4 2.4 0 1 0 -4.8 0zM212.2 972.2a2.4 2.4 0 1 0 4.8 0a2.4 2.4 0 1 0 -4.8 0zM213.1 972.6a2.4 2.4 0 1 0 4.8 0a2.4 2.4 0 1 0 -4.8 0zM214.1 971.7a2.4 2.4 0 1 0 4.8 0a2.4 2.4 0 1 0 -4.8 0zM215.0 971.8a2.4 2.4 0 1 0 4.8 0a2.4 2.4 0 1 0 -4.8 0zM216.0 972.7a2.4 2.4 0 1 0 4.8 0a2.4 2.4 0 1 0 -4.8 0zM217.0 972.9a2.4 2.4 0 1 0 4.8 0a2.4 2.4 0 1 0 -4.8 0zM217.9 972.2a2.4 2.4 0 1 0 4.8 0a2.4 2.4 0 1 0 -4.8 0zM218.9 973.2a2.4 2.4 0 1 0 4.8 0a2.4 2.4 0 1 0 -4.8 0zM219.9 972.5a2.4 2.4 0 1 0 4.8 0a2.4 2.4 0 1 0 -4.8 0zM220.8 971.8a2.4 2.4 0 1 0 4.8 0a2.4 2.4 0 1 0 -4.8 0zM221.8 972.7a2.4 2.4 0 1 0 4.8 0a2.4 2.4 0 1 0 -4.8 0zM222.7 974.4a2.4 2.4 0 1 0 4.8 0a2.4 2.4 0 1 0 -4.8 0zM223.7 972.1a2.4 2.4 0 1 0 4.8 0a2.4 2.4 0 1 0 -4.8 0zM224.7 973.7a2.4 2.4 0 1 0 4.8 0a2.4 2.4 0 1 0 -4.8 0zM225.6 973.9a2.4 2.4 0 1 0 4.8 0a2.4 2.4 0 1 0 -4.8 0zM226.6 974.0a2.4 2.4 0 1 0 4.8 0a2.4 2.4 0 1 0 -4.8 0zM227.6 971.8a2.4 2.4 0 1 0 4.8 0a2.4 2.4 0 1 0 -4.8 0zM228.5 974.4a2.4 2.4 0 1 0 4.8 0a2.4 2.4 0 1 0 -4.8 0zM229.5 972.6a2.4 2.4 0 1 0 4.8 0a2.4 2.4 0 1 0 -4.8 0zM230.4 972.3a2.4 2.4 0 1 0 4.8 0a2.4 2.4 0 1 0 -4.8 0zM231.4 972.3a2.4 2.4 0 1 0 4.8 0a2.4 2.4 0 1 0 -4.8 0zM232.4 973.0a2.4 2.4 0 1 0 4.8 0a2.4 2.4 0 1 0 -4.8 0zM233.3 972.5a2.4 2.4 0 1 0 4.8 0a2.4 2.4 0 1 0 -4.8 0zM234.3 972.2a2.4 2.4 0 1 0 4.8 0a2.4 2.4 0 1 0 -4.8 0zM235.2 973.5a2.4 2.4 0 1 0 4.8 0a2.4 2.4 0 1 0 -4.8 0zM236.2 971.6a2.4 2.4 0 1 0 4.8 0a2.4 2.4 0 1 0 -4.8 0zM237.2 971.3a2.4 2.4 0 1 0 4.8 0a2.4 2.4 0 1 0 -4.8 0zM238.1 972.9a2.4 2.4 0 1 0 4.8 0a2.4 2.4 0 1 0 -4.8 0zM239.1 972.8a2.4 2.4 0 1 0 4.8 0a2.4 2.4 0 1 0 -4.8 0zM240.1 973.1a2.4 2.4 0 1 0 4.8 0a2.4 2.4 0 1 0 -4.8 0zM241.0 971.1a2.4 2.4 0 1 0 4.8 0a2.4 2.4 0 1 0 -4.8 0zM242.0 973.0a2.4 2.4 0 1 0 4.8 0a2.4 2.4 0 1 0 -4.8 0zM242.9 972.4a2.4 2.4 0 1 0 4.8 0a2.4 2.4 0 1 0 -4.8 0zM243.9 973.5a2.4 2.4 0 1 0 4.8 0a2.4 2.4 0 1 0 -4.8 0zM244.9 970.7a2.4 2.4 0 1 0 4.8 0a2.4 2.4 0 1 0 -4.8 0zM245.8 971.9a2.4 2.4 0 1 0 4.8 0a2.4 2.4 0 1 0 -4.8 0zM246.8 971.4a2.4 2.4 0 1 0 4.8 0a2.4 2.4 0 1 0 -4.8 0zM247.8 970.2a2.4 2.4 0 1 0 4.8 0a2.4 2.4 0 1 0 -4.8 0zM248.7 970.9a2.4 2.4 0 1 0 4.8 0a2.4 2.4 0 1 0 -4.8 0zM249.7 972.5a2.4 2.4 0 1 0 4.8 0a2.4 2.4 0 1 0 -4.8 0zM250.6 970.9a2.4 2.4 0 1 0 4.8 0a2.4 2.4 0 1 0 -4.8 0zM251.6 970.6a2.4 2.4 0 1 0 4.8 0a2.4 2.4 0 1 0 -4.8 0zM252.6 971.9a2.4 2.4 0 1 0 4.8 0a2.4 2.4 0 1 0 -4.8 0zM253.5 972.0a2.4 2.4 0 1 0 4.8 0a2.4 2.4 0 1 0 -4.8 0zM254.5 971.9a2.4 2.4 0 1 0 4.8 0a2.4 2.4 0 1 0 -4.8 0zM255.4 970.1a2.4 2.4 0 1 0 4.8 0a2.4 2.4 0 1 0 -4.8 0zM256.4 970.7a2.4 2.4 0 1 0 4.8 0a2.4 2.4 0 1 0 -4.8 0zM257.4 971.6a2.4 2.4 0 1 0 4.8 0a2.4 2.4 0 1 0 -4.8 0zM258.3 969.9a2.4 2.4 0 1 0 4.8 0a2.4 2.4 0 1 0 -4.8 0zM259.3 969.7a2.4 2.4 0 1 0 4.8 0a2.4 2.4 0 1 0 -4.8 0zM260.3 971.0a2.4 2.4 0 1 0 4.8 0a2.4 2.4 0 1 0 -4.8 0zM261.2 971.5a2.4 2.4 0 1 0 4.8 0a2.4 2.4 0 1 0 -4.8 0zM262.2 968.9a2.4 2.4 0 1 0 4.8 0a2.4 2.4 0 1 0 -4.8 0zM263.1 967.5a2.4 2.4 0 1 0 4.8 0a2.4 2.4 0 1 0 -4.8 0zM264.1 968.4a2.4 2.4 0 1 0 4.8 0a2.4 2.4 0 1 0 -4.8 0zM265.1 968.6a2.4 2.4 0 1 0 4.8 0a2.4 2.4 0 1 0 -4.8 0zM266.0 969.2a2.4 2.4 0 1 0 4.8 0a2.4 2.4 0 1 0 -4.8 0zM267.0 969.7a2.4 2.4 0 1 0 4.8 0a2.4 2.4 0 1 0 -4.8 0zM267.9 968.9a2.4 2.4 0 1 0 4.8 0a2.4 2.4 0 1 0 -4.8 0zM268.9 968.2a2.4 2.4 0 1 0 4.8 0a2.4 2.4 0 1 0 -4.8 0zM269.9 968.7a2.4 2.4 0 1 0 4.8 0a2.4 2.4 0 1 0 -4.8 0zM270.8 967.5a2.4 2.4 0 1 0 4.8 0a2.4 2.4 0 1 0 -4.8 0zM271.8 968.2a2.4 2.4 0 1 0 4.8 0a2.4 2.4 0 1 0 -4.8 0zM272.8 967.4a2.4 2.4 0 1 0 4.8 0a2.4 2.4 0 1 0 -4.8 0zM273.7 970.2a2.4 2.4 0 1 0 4.8 0a2.4 2.4 0 1 0 -4.8 0zM274.7 968.3a2.4 2.4 0 1 0 4.8 0a2.4 2.4 0 1 0 -4.8 0zM275.6 966.6a2.4 2.4 0 1 0 4.8 0a2.4 2.4 0 1 0 -4.8 0zM276.6 966.2a2.4 2.4 0 1 0 4.8 0a2.4 2.4 0 1 0 -4.8 0zM277.6 966.4a2.4 2.4 0 1 0 4.8 0a2.4 2.4 0 1 0 -4.8 0zM278.5 965.1a2.4 2.4 0 1 0 4.8 0a2.4 2.4 0 1 0 -4.8 0zM279.5 965.6a2.4 2.4 0 1 0 4.8 0a2.4 2.4 0 1 0 -4.8 0zM280.5 965.3a2.4 2.4 0 1 0 4.8 0a2.4 2.4 0 1 0 -4.8 0zM281.4 966.5a2.4 2.4 0 1 0 4.8 0a2.4 2.4 0 1 0 -4.8 0zM282.4 965.0a2.4 2.4 0 1 0 4.8 0a2.4 2.4 0 1 0 -4.8 0zM283.3 964.4a2.4 2.4 0 1 0 4.8 0a2.4 2.4 0 1 0 -4.8 0zM284.3 963.6a2.4 2.4 0 1 0 4.8 0a2.4 2.4 0 1 0 -4.8 0zM285.3 963.4a2.4 2.4 0 1 0 4.8 0a2.4 2.4 0 1 0 -4.8 0zM286.2 964.1a2.4 2.4 0 1 0 4.8 0a2.4 2.4 0 1 0 -4.8 0zM287.2 963.6a2.4 2.4 0 1 0 4.8 0a2.4 2.4 0 1 0 -4.8 0zM288.1 964.5a2.4 2.4 0 1 0 4.8 0a2.4 2.4 0 1 0 -4.8 0zM289.1 962.6a2.4 2.4 0 1 0 4.8 0a2.4 2.4 0 1 0 -4.8 0zM290.1 963.7a2.4 2.4 0 1 0 4.8 0a2.4 2.4 0 1 0 -4.8 0zM291.0 962.6a2.4 2.4 0 1 0 4.8 0a2.4 2.4 0 1 0 -4.8 0zM292.0 962.0a2.4 2.4 0 1 0 4.8 0a2.4 2.4 0 1 0 -4.8 0zM293.0 959.8a2.4 2.4 0 1 0 4.8 0a2.4 2.4 0 1 0 -4.8 0zM293.9 960.0a2.4 2.4 0 1 0 4.8 0a2.4 2.4 0 1 0 -4.8 0zM294.9 961.4a2.4 2.4 0 1 0 4.8 0a2.4 2.4 0 1 0 -4.8 0zM295.8 961.6a2.4 2.4 0 1 0 4.8 0a2.4 2.4 0 1 0 -4.8 0zM296.8 960.1a2.4 2.4 0 1 0 4.8 0a2.4 2.4 0 1 0 -4.8 0zM297.8 960.2a2.4 2.4 0 1 0 4.8 0a2.4 2.4 0 1 0 -4.8 0zM298.7 958.7a2.4 2.4 0 1 0 4.8 0a2.4 2.4 0 1 0 -4.8 0zM299.7 958.2a2.4 2.4 0 1 0 4.8 0a2.4 2.4 0 1 0 -4.8 0zM300.7 957.5a2.4 2.4 0 1 0 4.8 0a2.4 2.4 0 1 0 -4.8 0zM301.6 958.5a2.4 2.4 0 1 0 4.8 0a2.4 2.4 0 1 0 -4.8 0zM302.6 957.4a2.4 2.4 0 1 0 4.8 0a2.4 2.4 0 1 0 -4.8 0zM303.5 956.4a2.4 2.4 0 1 0 4.8 0a2.4 2.4 0 1 0 -4.8 0zM304.5 955.8a2.4 2.4 0 1 0 4.8 0a2.4 2.4 0 1 0 -4.8 0zM305.5 956.1a2.4 2.4 0 1 0 4.8 0a2.4 2.4 0 1 0 -4.8 0zM306.4 955.3a2.4 2.4 0 1 0 4.8 0a2.4 2.4 0 1 0 -4.8 0zM307.4 953.7a2.4 2.4 0 1 0 4.8 0a2.4 2.4 0 1 0 -4.8 0zM308.3 955.5a2.4 2.4 0 1 0 4.8 0a2.4 2.4 0 1 0 -4.8 0zM309.3 953.6a2.4 2.4 0 1 0 4.8 0a2.4 2.4 0 1 0 -4.8 0zM310.3 952.8a2.4 2.4 0 1 0 4.8 0a2.4 2.4 0 1 0 -4.8 0zM311.2 953.5a2.4 2.4 0 1 0 4.8 0a2.4 2.4 0 1 0 -4.8 0zM312.2 952.5a2.4 2.4 0 1 0 4.8 0a2.4 2.4 0 1 0 -4.8 0zM313.2 950.9a2.4 2.4 0 1 0 4.8 0a2.4 2.4 0 1 0 -4.8 0zM314.1 950.9a2.4 2.4 0 1 0 4.8 0a2.4 2.4 0 1 0 -4.8 0zM315.1 948.8a2.4 2.4 0 1 0 4.8 0a2.4 2.4 0 1 0 -4.8 0zM316.0 948.5a2.4 2.4 0 1 0 4.8 0a2.4 2.4 0 1 0 -4.8 0zM317.0 946.4a2.4 2.4 0 1 0 4.8 0a2.4 2.4 0 1 0 -4.8 0zM318.0 948.9a2.4 2.4 0 1 0 4.8 0a2.4 2.4 0 1 0 -4.8 0zM318.9 945.5a2.4 2.4 0 1 0 4.8 0a2.4 2.4 0 1 0 -4.8 0zM319.9 947.1a2.4 2.4 0 1 0 4.8 0a2.4 2.4 0 1 0 -4.8 0zM320.9 945.1a2.4 2.4 0 1 0 4.8 0a2.4 2.4 0 1 0 -4.8 0zM321.8 944.3a2.4 2.4 0 1 0 4.8 0a2.4 2.4 0 1 0 -4.8 0zM322.8 944.3a2.4 2.4 0 1 0 4.8 0a2.4 2.4 0 1 0 -4.8 0zM323.7 944.0a2.4 2.4 0 1 0 4.8 0a2.4 2.4 0 1 0 -4.8 0zM324.7 943.6a2.4 2.4 0 1 0 4.8 0a2.4 2.4 0 1 0 -4.8 0zM325.7 943.9a2.4 2.4 0 1 0 4.8 0a2.4 2.4 0 1 0 -4.8 0zM326.6 941.9a2.4 2.4 0 1 0 4.8 0a2.4 2.4 0 1 0 -4.8 0zM327.6 941.7a2.4 2.4 0 1 0 4.8 0a2.4 2.4 0 1 0 -4.8 0zM328.5 939.6a2.4 2.4 0 1 0 4.8 0a2.4 2.4 0 1 0 -4.8 0zM329.5 940.0a2.4 2.4 0 1 0 4.8 0a2.4 2.4 0 1 0 -4.8 0zM330.5 938.8a2.4 2.4 0 1 0 4.8 0a2.4 2.4 0 1 0 -4.8 0zM331.4 937.5a2.4 2.4 0 1 0 4.8 0a2.4 2.4 0 1 0 -4.8 0zM332.4 937.0a2.4 2.4 0 1 0 4.8 0a2.4 2.4 0 1 0 -4.8 0zM333.4 936.3a2.4 2.4 0 1 0 4.8 0a2.4 2.4 0 1 0 -4.8 0zM334.3 935.8a2.4 2.4 0 1 0 4.8 0a2.4 2.4 0 1 0 -4.8 0zM335.3 935.2a2.4 2.4 0 1 0 4.8 0a2.4 2.4 0 1 0 -4.8 0zM336.2 933.6a2.4 2.4 0 1 0 4.8 0a2.4 2.4 0 1 0 -4.8 0zM337.2 932.6a2.4 2.4 0 1 0 4.8 0a2.4 2.4 0 1 0 -4.8 0zM338.2 933.1a2.4 2.4 0 1 0 4.8 0a2.4 2.4 0 1 0 -4.8 0zM339.1 930.1a2.4 2.4 0 1 0 4.8 0a2.4 2.4 0 1 0 -4.8 0zM340.1 930.3a2.4 2.4 0 1 0 4.8 0a2.4 2.4 0 1 0 -4.8 0zM341.0 931.4a2.4 2.4 0 1 0 4.8 0a2.4 2.4 0 1 0 -4.8 0zM342.0 926.7a2.4 2.4 0 1 0 4.8 0a2.4 2.4 0 1 0 -4.8 0zM343.0 927.7a2.4 2.4 0 1 0 4.8 0a2.4 2.4 0 1 0 -4.8 0zM343.9 928.2a2.4 2.4 0 1 0 4.8 0a2.4 2.4 0 1 0 -4.8 0zM344.9 925.2a2.4 2.4 0 1 0 4.8 0a2.4 2.4 0 1 0 -4.8 0zM345.9 928.2a2.4 2.4 0 1 0 4.8 0a2.4 2.4 0 1 0 -4.8 0zM346.8 922.7a2.4 2.4 0 1 0 4.8 0a2.4 2.4 0 1 0 -4.8 0zM347.8 925.5a2.4 2.4 0 1 0 4.8 0a2.4 2.4 0 1 0 -4.8 0zM348.7 924.7a2.4 2.4 0 1 0 4.8 0a2.4 2.4 0 1 0 -4.8 0zM349.7 923.3a2.4 2.4 0 1 0 4.8 0a2.4 2.4 0 1 0 -4.8 0zM350.7 921.4a2.4 2.4 0 1 0 4.8 0a2.4 2.4 0 1 0 -4.8 0zM351.6 921.1a2.4 2.4 0 1 0 4.8 0a2.4 2.4 0 1 0 -4.8 0zM352.6 919.1a2.4 2.4 0 1 0 4.8 0a2.4 2.4 0 1 0 -4.8 0zM353.6 919.7a2.4 2.4 0 1 0 4.8 0a2.4 2.4 0 1 0 -4.8 0zM354.5 917.1a2.4 2.4 0 1 0 4.8 0a2.4 2.4 0 1 0 -4.8 0zM355.5 917.0a2.4 2.4 0 1 0 4.8 0a2.4 2.4 0 1 0 -4.8 0zM356.4 917.3a2.4 2.4 0 1 0 4.8 0a2.4 2.4 0 1 0 -4.8 0zM357.4 914.5a2.4 2.4 0 1 0 4.8 0a2.4 2.4 0 1 0 -4.8 0zM358.4 914.3a2.4 2.4 0 1 0 4.8 0a2.4 2.4 0 1 0 -4.8 0zM359.3 913.8a2.4 2.4 0 1 0 4.8 0a2.4 2.4 0 1 0 -4.8 0zM360.3 911.6a2.4 2.4 0 1 0 4.8 0a2.4 2.4 0 1 0 -4.8 0zM361.2 912.9a2.4 2.4 0 1 0 4.8 0a2.4 2.4 0 1 0 -4.8 0zM362.2 911.2a2.4 2.4 0 1 0 4.8 0a2.4 2.4 0 1 0 -4.8 0zM363.2 908.7a2.4 2.4 0 1 0 4.8 0a2.4 2.4 0 1 0 -4.8 0zM364.1 909.1a2.4 2.4 0 1 0 4.8 0a2.4 2.4 0 1 0 -4.8 0zM365.1 907.5a2.4 2.4 0 1 0 4.8 0a2.4 2.4 0 1 0 -4.8 0zM366.1 906.6a2.4 2.4 0 1 0 4.8 0a2.4 2.4 0 1 0 -4.8 0zM367.0 906.3a2.4 2.4 0 1 0 4.8 0a2.4 2.4 0 1 0 -4.8 0zM368.0 904.7a2.4 2.4 0 1 0 4.8 0a2.4 2.4 0 1 0 -4.8 0zM368.9 905.2a2.4 2.4 0 1 0 4.8 0a2.4 2.4 0 1 0 -4.8 0zM369.9 902.8a2.4 2.4 0 1 0 4.8 0a2.4 2.4 0 1 0 -4.8 0zM370.9 903.3a2.4 2.4 0 1 0 4.8 0a2.4 2.4 0 1 0 -4.8 0zM371.8 901.4a2.4 2.4 0 1 0 4.8 0a2.4 2.4 0 1 0 -4.8 0zM372.8 901.3a2.4 2.4 0 1 0 4.8 0a2.4 2.4 0 1 0 -4.8 0zM373.8 899.0a2.4 2.4 0 1 0 4.8 0a2.4 2.4 0 1 0 -4.8 0zM374.7 898.1a2.4 2.4 0 1 0 4.8 0a2.4 2.4 0 1 0 -4.8 0zM375.7 896.5a2.4 2.4 0 1 0 4.8 0a2.4 2.4 0 1 0 -4.8 0zM376.6 897.1a2.4 2.4 0 1 0 4.8 0a2.4 2.4 0 1 0 -4.8 0zM377.6 896.4a2.4 2.4 0 1 0 4.8 0a2.4 2.4 0 1 0 -4.8 0zM378.6 896.5a2.4 2.4 0 1 0 4.8 0a2.4 2.4 0 1 0 -4.8 0zM379.5 894.8a2.4 2.4 0 1 0 4.8 0a2.4 2.4 0 1 0 -4.8 0zM380.5 892.8a2.4 2.4 0 1 0 4.8 0a2.4 2.4 0 1 0 -4.8 0zM381.4 891.4a2.4 2.4 0 1 0 4.8 0a2.4 2.4 0 1 0 -4.8 0zM382.4 891.0a2.4 2.4 0 1 0 4.8 0a2.4 2.4 0 1 0 -4.8 0zM383.4 889.6a2.4 2.4 0 1 0 4.8 0a2.4 2.4 0 1 0 -4.8 0zM384.3 889.9a2.4 2.4 0 1 0 4.8 0a2.4 2.4 0 1 0 -4.8 0zM385.3 888.5a2.4 2.4 0 1 0 4.8 0a2.4 2.4 0 1 0 -4.8 0zM386.3 885.9a2.4 2.4 0 1 0 4.8 0a2.4 2.4 0 1 0 -4.8 0zM387.2 885.1a2.4 2.4 0 1 0 4.8 0a2.4 2.4 0 1 0 -4.8 0zM388.2 885.9a2.4 2.4 0 1 0 4.8 0a2.4 2.4 0 1 0 -4.8 0zM389.1 884.0a2.4 2.4 0 1 0 4.8 0a2.4 2.4 0 1 0 -4.8 0zM390.1 882.6a2.4 2.4 0 1 0 4.8 0a2.4 2.4 0 1 0 -4.8 0zM391.1 882.9a2.4 2.4 0 1 0 4.8 0a2.4 2.4 0 1 0 -4.8 0zM392.0 880.6a2.4 2.4 0 1 0 4.8 0a2.4 2.4 0 1 0 -4.8 0zM393.0 879.7a2.4 2.4 0 1 0 4.8 0a2.4 2.4 0 1 0 -4.8 0zM394.0 878.7a2.4 2.4 0 1 0 4.8 0a2.4 2.4 0 1 0 -4.8 0zM394.9 876.5a2.4 2.4 0 1 0 4.8 0a2.4 2.4 0 1 0 -4.8 0zM395.9 878.1a2.4 2.4 0 1 0 4.8 0a2.4 2.4 0 1 0 -4.8 0zM396.8 875.4a2.4 2.4 0 1 0 4.8 0a2.4 2.4 0 1 0 -4.8 0zM397.8 875.2a2.4 2.4 0 1 0 4.8 0a2.4 2.4 0 1 0 -4.8 0zM398.8 874.3a2.4 2.4 0 1 0 4.8 0a2.4 2.4 0 1 0 -4.8 0zM399.7 874.8a2.4 2.4 0 1 0 4.8 0a2.4 2.4 0 1 0 -4.8 0zM400.7 873.4a2.4 2.4 0 1 0 4.8 0a2.4 2.4 0 1 0 -4.8 0zM401.6 872.7a2.4 2.4 0 1 0 4.8 0a2.4 2.4 0 1 0 -4.8 0zM402.6 870.6a2.4 2.4 0 1 0 4.8 0a2.4 2.4 0 1 0 -4.8 0zM403.6 871.4a2.4 2.4 0 1 0 4.8 0a2.4 2.4 0 1 0 -4.8 0zM404.5 869.5a2.4 2.4 0 1 0 4.8 0a2.4 2.4 0 1 0 -4.8 0zM405.5 870.6a2.4 2.4 0 1 0 4.8 0a2.4 2.4 0 1 0 -4.8 0zM406.5 870.1a2.4 2.4 0 1 0 4.8 0a2.4 2.4 0 1 0 -4.8 0zM407.4 869.3a2.4 2.4 0 1 0 4.8 0a2.4 2.4 0 1 0 -4.8 0zM408.4 870.7a2.4 2.4 0 1 0 4.8 0a2.4 2.4 0 1 0 -4.8 0zM409.3 869.0a2.4 2.4 0 1 0 4.8 0a2.4 2.4 0 1 0 -4.8 0zM410.3 868.7a2.4 2.4 0 1 0 4.8 0a2.4 2.4 0 1 0 -4.8 0zM411.3 868.0a2.4 2.4 0 1 0 4.8 0a2.4 2.4 0 1 0 -4.8 0zM412.2 867.5a2.4 2.4 0 1 0 4.8 0a2.4 2.4 0 1 0 -4.8 0zM413.2 868.4a2.4 2.4 0 1 0 4.8 0a2.4 2.4 0 1 0 -4.8 0zM414.2 868.4a2.4 2.4 0 1 0 4.8 0a2.4 2.4 0 1 0 -4.8 0zM415.1 866.2a2.4 2.4 0 1 0 4.8 0a2.4 2.4 0 1 0 -4.8 0zM416.1 868.3a2.4 2.4 0 1 0 4.8 0a2.4 2.4 0 1 0 -4.8 0zM417.0 867.9a2.4 2.4 0 1 0 4.8 0a2.4 2.4 0 1 0 -4.8 0zM418.0 868.4a2.4 2.4 0 1 0 4.8 0a2.4 2.4 0 1 0 -4.8 0zM419.0 868.1a2.4 2.4 0 1 0 4.8 0a2.4 2.4 0 1 0 -4.8 0zM419.9 866.8a2.4 2.4 0 1 0 4.8 0a2.4 2.4 0 1 0 -4.8 0zM420.9 867.2a2.4 2.4 0 1 0 4.8 0a2.4 2.4 0 1 0 -4.8 0zM421.8 870.3a2.4 2.4 0 1 0 4.8 0a2.4 2.4 0 1 0 -4.8 0zM422.8 869.3a2.4 2.4 0 1 0 4.8 0a2.4 2.4 0 1 0 -4.8 0zM423.8 868.3a2.4 2.4 0 1 0 4.8 0a2.4 2.4 0 1 0 -4.8 0zM424.7 870.4a2.4 2.4 0 1 0 4.8 0a2.4 2.4 0 1 0 -4.8 0zM425.7 870.4a2.4 2.4 0 1 0 4.8 0a2.4 2.4 0 1 0 -4.8 0zM426.7 869.7a2.4 2.4 0 1 0 4.8 0a2.4 2.4 0 1 0 -4.8 0zM427.6 870.1a2.4 2.4 0 1 0 4.8 0a2.4 2.4 0 1 0 -4.8 0zM428.6 871.5a2.4 2.4 0 1 0 4.8 0a2.4 2.4 0 1 0 -4.8 0zM429.5 874.0a2.4 2.4 0 1 0 4.8 0a2.4 2.4 0 1 0 -4.8 0zM430.5 874.7a2.4 2.4 0 1 0 4.8 0a2.4 2.4 0 1 0 -4.8 0zM431.5 875.5a2.4 2.4 0 1 0 4.8 0a2.4 2.4 0 1 0 -4.8 0zM432.4 877.0a2.4 2.4 0 1 0 4.8 0a2.4 2.4 0 1 0 -4.8 0zM433.4 878.4a2.4 2.4 0 1 0 4.8 0a2.4 2.4 0 1 0 -4.8 0zM434.3 877.1a2.4 2.4 0 1 0 4.8 0a2.4 2.4 0 1 0 -4.8 0zM435.3 879.9a2.4 2.4 0 1 0 4.8 0a2.4 2.4 0 1 0 -4.8 0zM436.3 880.7a2.4 2.4 0 1 0 4.8 0a2.4 2.4 0 1 0 -4.8 0zM437.2 881.6a2.4 2.4 0 1 0 4.8 0a2.4 2.4 0 1 0 -4.8 0zM438.2 883.6a2.4 2.4 0 1 0 4.8 0a2.4 2.4 0 1 0 -4.8 0zM439.2 885.3a2.4 2.4 0 1 0 4.8 0a2.4 2.4 0 1 0 -4.8 0zM440.1 886.6a2.4 2.4 0 1 0 4.8 0a2.4 2.4 0 1 0 -4.8 0zM441.1 887.0a2.4 2.4 0 1 0 4.8 0a2.4 2.4 0 1 0 -4.8 0zM442.0 889.4a2.4 2.4 0 1 0 4.8 0a2.4 2.4 0 1 0 -4.8 0zM443.0 893.2a2.4 2.4 0 1 0 4.8 0a2.4 2.4 0 1 0 -4.8 0zM444.0 892.0a2.4 2.4 0 1 0 4.8 0a2.4 2.4 0 1 0 -4.8 0zM444.9 893.0a2.4 2.4 0 1 0 4.8 0a2.4 2.4 0 1 0 -4.8 0zM445.9 896.4a2.4 2.4 0 1 0 4.8 0a2.4 2.4 0 1 0 -4.8 0zM446.9 898.3a2.4 2.4 0 1 0 4.8 0a2.4 2.4 0 1 0 -4.8 0zM447.8 899.8a2.4 2.4 0 1 0 4.8 0a2.4 2.4 0 1 0 -4.8 0zM448.8 900.1a2.4 2.4 0 1 0 4.8 0a2.4 2.4 0 1 0 -4.8 0zM449.7 903.7a2.4 2.4 0 1 0 4.8 0a2.4 2.4 0 1 0 -4.8 0zM450.7 903.7a2.4 2.4 0 1 0 4.8 0a2.4 2.4 0 1 0 -4.8 0zM451.7 905.1a2.4 2.4 0 1 0 4.8 0a2.4 2.4 0 1 0 -4.8 0zM452.6 907.3a2.4 2.4 0 1 0 4.8 0a2.4 2.4 0 1 0 -4.8 0zM453.6 909.5a2.4 2.4 0 1 0 4.8 0a2.4 2.4 0 1 0 -4.8 0zM454.5 911.9a2.4 2.4 0 1 0 4.8 0a2.4 2.4 0 1 0 -4.8 0zM455.5 913.5a2.4 2.4 0 1 0 4.8 0a2.4 2.4 0 1 0 -4.8 0zM456.5 914.7a2.4 2.4 0 1 0 4.8 0a2.4 2.4 0 1 0 -4.8 0zM457.4 917.2a2.4 2.4 0 1 0 4.8 0a2.4 2.4 0 1 0 -4.8 0zM458.4 918.1a2.4 2.4 0 1 0 4.8 0a2.4 2.4 0 1 0 -4.8 0zM459.4 920.5a2.4 2.4 0 1 0 4.8 0a2.4 2.4 0 1 0 -4.8 0zM460.3 920.1a2.4 2.4 0 1 0 4.8 0a2.4 2.4 0 1 0 -4.8 0zM461.3 921.6a2.4 2.4 0 1 0 4.8 0a2.4 2.4 0 1 0 -4.8 0zM462.2 925.3a2.4 2.4 0 1 0 4.8 0a2.4 2.4 0 1 0 -4.8 0zM463.2 925.0a2.4 2.4 0 1 0 4.8 0a2.4 2.4 0 1 0 -4.8 0zM464.2 927.5a2.4 2.4 0 1 0 4.8 0a2.4 2.4 0 1 0 -4.8 0zM465.1 929.3a2.4 2.4 0 1 0 4.8 0a2.4 2.4 0 1 0 -4.8 0zM466.1 930.4a2.4 2.4 0 1 0 4.8 0a2.4 2.4 0 1 0 -4.8 0zM467.1 932.0a2.4 2.4 0 1 0 4.8 0a2.4 2.4 0 1 0 -4.8 0zM468.0 935.1a2.4 2.4 0 1 0 4.8 0a2.4 2.4 0 1 0 -4.8 0zM469.0 933.0a2.4 2.4 0 1 0 4.8 0a2.4 2.4 0 1 0 -4.8 0zM469.9 937.5a2.4 2.4 0 1 0 4.8 0a2.4 2.4 0 1 0 -4.8 0zM470.9 940.2a2.4 2.4 0 1 0 4.8 0a2.4 2.4 0 1 0 -4.8 0zM471.9 939.5a2.4 2.4 0 1 0 4.8 0a2.4 2.4 0 1 0 -4.8 0zM472.8 940.8a2.4 2.4 0 1 0 4.8 0a2.4 2.4 0 1 0 -4.8 0zM473.8 942.7a2.4 2.4 0 1 0 4.8 0a2.4 2.4 0 1 0 -4.8 0zM474.7 945.0a2.4 2.4 0 1 0 4.8 0a2.4 2.4 0 1 0 -4.8 0zM475.7 943.5a2.4 2.4 0 1 0 4.8 0a2.4 2.4 0 1 0 -4.8 0zM476.7 945.8a2.4 2.4 0 1 0 4.8 0a2.4 2.4 0 1 0 -4.8 0zM477.6 946.7a2.4 2.4 0 1 0 4.8 0a2.4 2.4 0 1 0 -4.8 0zM478.6 948.5a2.4 2.4 0 1 0 4.8 0a2.4 2.4 0 1 0 -4.8 0zM479.6 949.3a2.4 2.4 0 1 0 4.8 0a2.4 2.4 0 1 0 -4.8 0zM480.5 950.8a2.4 2.4 0 1 0 4.8 0a2.4 2.4 0 1 0 -4.8 0zM481.5 950.8a2.4 2.4 0 1 0 4.8 0a2.4 2.4 0 1 0 -4.8 0zM482.4 952.2a2.4 2.4 0 1 0 4.8 0a2.4 2.4 0 1 0 -4.8 0zM483.4 952.6a2.4 2.4 0 1 0 4.8 0a2.4 2.4 0 1 0 -4.8 0zM484.4 953.5a2.4 2.4 0 1 0 4.8 0a2.4 2.4 0 1 0 -4.8 0zM485.3 954.9a2.4 2.4 0 1 0 4.8 0a2.4 2.4 0 1 0 -4.8 0zM486.3 955.7a2.4 2.4 0 1 0 4.8 0a2.4 2.4 0 1 0 -4.8 0zM487.3 955.6a2.4 2.4 0 1 0 4.8 0a2.4 2.4 0 1 0 -4.8 0zM488.2 958.9a2.4 2.4 0 1 0 4.8 0a2.4 2.4 0 1 0 -4.8 0zM489.2 958.1a2.4 2.4 0 1 0 4.8 0a2.4 2.4 0 1 0 -4.8 0zM490.1 957.8a2.4 2.4 0 1 0 4.8 0a2.4 2.4 0 1 0 -4.8 0zM491.1 960.7a2.4 2.4 0 1 0 4.8 0a2.4 2.4 0 1 0 -4.8 0zM492.1 959.7a2.4 2.4 0 1 0 4.8 0a2.4 2.4 0 1 0 -4.8 0zM493.0 961.5a2.4 2.4 0 1 0 4.8 0a2.4 2.4 0 1 0 -4.8 0zM494.0 961.7a2.4 2.4 0 1 0 4.8 0a2.4 2.4 0 1 0 -4.8 0zM494.9 962.5a2.4 2.4 0 1 0 4.8 0a2.4 2.4 0 1 0 -4.8 0zM495.9 963.1a2.4 2.4 0 1 0 4.8 0a2.4 2.4 0 1 0 -4.8 0zM496.9 962.9a2.4 2.4 0 1 0 4.8 0a2.4 2.4 0 1 0 -4.8 0zM497.8 964.0a2.4 2.4 0 1 0 4.8 0a2.4 2.4 0 1 0 -4.8 0zM498.8 966.3a2.4 2.4 0 1 0 4.8 0a2.4 2.4 0 1 0 -4.8 0zM499.8 963.0a2.4 2.4 0 1 0 4.8 0a2.4 2.4 0 1 0 -4.8 0zM500.7 965.5a2.4 2.4 0 1 0 4.8 0a2.4 2.4 0 1 0 -4.8 0zM501.7 966.3a2.4 2.4 0 1 0 4.8 0a2.4 2.4 0 1 0 -4.8 0zM502.6 965.4a2.4 2.4 0 1 0 4.8 0a2.4 2.4 0 1 0 -4.8 0zM503.6 965.5a2.4 2.4 0 1 0 4.8 0a2.4 2.4 0 1 0 -4.8 0zM504.6 969.1a2.4 2.4 0 1 0 4.8 0a2.4 2.4 0 1 0 -4.8 0zM505.5 967.2a2.4 2.4 0 1 0 4.8 0a2.4 2.4 0 1 0 -4.8 0zM506.5 969.8a2.4 2.4 0 1 0 4.8 0a2.4 2.4 0 1 0 -4.8 0zM507.4 968.8a2.4 2.4 0 1 0 4.8 0a2.4 2.4 0 1 0 -4.8 0zM508.4 968.7a2.4 2.4 0 1 0 4.8 0a2.4 2.4 0 1 0 -4.8 0zM509.4 969.3a2.4 2.4 0 1 0 4.8 0a2.4 2.4 0 1 0 -4.8 0zM510.3 969.8a2.4 2.4 0 1 0 4.8 0a2.4 2.4 0 1 0 -4.8 0zM511.3 970.6a2.4 2.4 0 1 0 4.8 0a2.4 2.4 0 1 0 -4.8 0zM512.3 970.2a2.4 2.4 0 1 0 4.8 0a2.4 2.4 0 1 0 -4.8 0zM513.2 970.2a2.4 2.4 0 1 0 4.8 0a2.4 2.4 0 1 0 -4.8 0zM514.2 970.5a2.4 2.4 0 1 0 4.8 0a2.4 2.4 0 1 0 -4.8 0zM515.1 971.8a2.4 2.4 0 1 0 4.8 0a2.4 2.4 0 1 0 -4.8 0zM516.1 971.5a2.4 2.4 0 1 0 4.8 0a2.4 2.4 0 1 0 -4.8 0zM517.1 970.1a2.4 2.4 0 1 0 4.8 0a2.4 2.4 0 1 0 -4.8 0zM518.0 970.6a2.4 2.4 0 1 0 4.8 0a2.4 2.4 0 1 0 -4.8 0zM519.0 971.7a2.4 2.4 0 1 0 4.8 0a2.4 2.4 0 1 0 -4.8 0zM520.0 971.0a2.4 2.4 0 1 0 4.8 0a2.4 2.4 0 1 0 -4.8 0zM520.9 971.4a2.4 2.4 0 1 0 4.8 0a2.4 2.4 0 1 0 -4.8 0zM521.9 971.1a2.4 2.4 0 1 0 4.8 0a2.4 2.4 0 1 0 -4.8 0zM522.8 971.9a2.4 2.4 0 1 0 4.8 0a2.4 2.4 0 1 0 -4.8 0zM523.8 972.7a2.4 2.4 0 1 0 4.8 0a2.4 2.4 0 1 0 -4.8 0zM524.8 973.3a2.4 2.4 0 1 0 4.8 0a2.4 2.4 0 1 0 -4.8 0zM525.7 972.6a2.4 2.4 0 1 0 4.8 0a2.4 2.4 0 1 0 -4.8 0zM526.7 974.6a2.4 2.4 0 1 0 4.8 0a2.4 2.4 0 1 0 -4.8 0zM527.6 972.8a2.4 2.4 0 1 0 4.8 0a2.4 2.4 0 1 0 -4.8 0zM528.6 975.9a2.4 2.4 0 1 0 4.8 0a2.4 2.4 0 1 0 -4.8 0zM529.6 974.0a2.4 2.4 0 1 0 4.8 0a2.4 2.4 0 1 0 -4.8 0zM530.5 973.7a2.4 2.4 0 1 0 4.8 0a2.4 2.4 0 1 0 -4.8 0zM531.5 972.9a2.4 2.4 0 1 0 4.8 0a2.4 2.4 0 1 0 -4.8 0zM532.5 970.9a2.4 2.4 0 1 0 4.8 0a2.4 2.4 0 1 0 -4.8 0zM533.4 973.4a2.4 2.4 0 1 0 4.8 0a2.4 2.4 0 1 0 -4.8 0zM534.4 973.8a2.4 2.4 0 1 0 4.8 0a2.4 2.4 0 1 0 -4.8 0zM535.3 975.5a2.4 2.4 0 1 0 4.8 0a2.4 2.4 0 1 0 -4.8 0zM536.3 972.6a2.4 2.4 0 1 0 4.8 0a2.4 2.4 0 1 0 -4.8 0zM537.3 975.6a2.4 2.4 0 1 0 4.8 0a2.4 2.4 0 1 0 -4.8 0zM538.2 973.7a2.4 2.4 0 1 0 4.8 0a2.4 2.4 0 1 0 -4.8 0zM539.2 974.7a2.4 2.4 0 1 0 4.8 0a2.4 2.4 0 1 0 -4.8 0zM540.2 971.8a2.4 2.4 0 1 0 4.8 0a2.4 2.4 0 1 0 -4.8 0zM541.1 974.3a2.4 2.4 0 1 0 4.8 0a2.4 2.4 0 1 0 -4.8 0zM542.1 974.0a2.4 2.4 0 1 0 4.8 0a2.4 2.4 0 1 0 -4.8 0zM543.0 974.9a2.4 2.4 0 1 0 4.8 0a2.4 2.4 0 1 0 -4.8 0zM544.0 974.5a2.4 2.4 0 1 0 4.8 0a2.4 2.4 0 1 0 -4.8 0zM545.0 973.4a2.4 2.4 0 1 0 4.8 0a2.4 2.4 0 1 0 -4.8 0zM545.9 975.4a2.4 2.4 0 1 0 4.8 0a2.4 2.4 0 1 0 -4.8 0zM546.9 975.2a2.4 2.4 0 1 0 4.8 0a2.4 2.4 0 1 0 -4.8 0zM547.8 975.1a2.4 2.4 0 1 0 4.8 0a2.4 2.4 0 1 0 -4.8 0zM548.8 975.6a2.4 2.4 0 1 0 4.8 0a2.4 2.4 0 1 0 -4.8 0zM549.8 975.7a2.4 2.4 0 1 0 4.8 0a2.4 2.4 0 1 0 -4.8 0zM550.7 974.7a2.4 2.4 0 1 0 4.8 0a2.4 2.4 0 1 0 -4.8 0zM551.7 973.6a2.4 2.4 0 1 0 4.8 0a2.4 2.4 0 1 0 -4.8 0zM552.7 973.6a2.4 2.4 0 1 0 4.8 0a2.4 2.4 0 1 0 -4.8 0zM553.6 976.1a2.4 2.4 0 1 0 4.8 0a2.4 2.4 0 1 0 -4.8 0zM554.6 975.6a2.4 2.4 0 1 0 4.8 0a2.4 2.4 0 1 0 -4.8 0zM555.5 975.0a2.4 2.4 0 1 0 4.8 0a2.4 2.4 0 1 0 -4.8 0zM556.5 974.6a2.4 2.4 0 1 0 4.8 0a2.4 2.4 0 1 0 -4.8 0zM557.5 975.0a2.4 2.4 0 1 0 4.8 0a2.4 2.4 0 1 0 -4.8 0zM558.4 975.1a2.4 2.4 0 1 0 4.8 0a2.4 2.4 0 1 0 -4.8 0zM559.4 974.8a2.4 2.4 0 1 0 4.8 0a2.4 2.4 0 1 0 -4.8 0zM560.4 974.5a2.4 2.4 0 1 0 4.8 0a2.4 2.4 0 1 0 -4.8 0zM561.3 977.1a2.4 2.4 0 1 0 4.8 0a2.4 2.4 0 1 0 -4.8 0zM562.3 975.4a2.4 2.4 0 1 0 4.8 0a2.4 2.4 0 1 0 -4.8 0zM563.2 974.6a2.4 2.4 0 1 0 4.8 0a2.4 2.4 0 1 0 -4.8 0zM564.2 974.0a2.4 2.4 0 1 0 4.8 0a2.4 2.4 0 1 0 -4.8 0zM565.2 974.6a2.4 2.4 0 1 0 4.8 0a2.4 2.4 0 1 0 -4.8 0zM566.1 975.9a2.4 2.4 0 1 0 4.8 0a2.4 2.4 0 1 0 -4.8 0zM567.1 976.0a2.4 2.4 0 1 0 4.8 0a2.4 2.4 0 1 0 -4.8 0zM568.0 975.1a2.4 2.4 0 1 0 4.8 0a2.4 2.4 0 1 0 -4.8 0zM569.0 975.4a2.4 2.4 0 1 0 4.8 0a2.4 2.4 0 1 0 -4.8 0zM570.0 975.1a2.4 2.4 0 1 0 4.8 0a2.4 2.4 0 1 0 -4.8 0zM570.9 974.4a2.4 2.4 0 1 0 4.8 0a2.4 2.4 0 1 0 -4.8 0zM571.9 976.6a2.4 2.4 0 1 0 4.8 0a2.4 2.4 0 1 0 -4.8 0zM572.9 975.7a2.4 2.4 0 1 0 4.8 0a2.4 2.4 0 1 0 -4.8 0zM573.8 977.7a2.4 2.4 0 1 0 4.8 0a2.4 2.4 0 1 0 -4.8 0zM574.8 974.8a2.4 2.4 0 1 0 4.8 0a2.4 2.4 0 1 0 -4.8 0zM575.7 975.3a2.4 2.4 0 1 0 4.8 0a2.4 2.4 0 1 0 -4.8 0zM576.7 976.3a2.4 2.4 0 1 0 4.8 0a2.4 2.4 0 1 0 -4.8 0zM577.7 975.3a2.4 2.4 0 1 0 4.8 0a2.4 2.4 0 1 0 -4.8 0zM578.6 974.3a2.4 2.4 0 1 0 4.8 0a2.4 2.4 0 1 0 -4.8 0zM579.6 974.7a2.4 2.4 0 1 0 4.8 0a2.4 2.4 0 1 0 -4.8 0zM580.5 975.6a2.4 2.4 0 1 0 4.8 0a2.4 2.4 0 1 0 -4.8 0zM581.5 975.9a2.4 2.4 0 1 0 4.8 0a2.4 2.4 0 1 0 -4.8 0zM582.5 975.5a2.4 2.4 0 1 0 4.8 0a2.4 2.4 0 1 0 -4.8 0zM583.4 976.5a2.4 2.4 0 1 0 4.8 0a2.4 2.4 0 1 0 -4.8 0zM584.4 976.5a2.4 2.4 0 1 0 4.8 0a2.4 2.4 0 1 0 -4.8 0zM585.4 975.9a2.4 2.4 0 1 0 4.8 0a2.4 2.4 0 1 0 -4.8 0zM586.3 975.6a2.4 2.4 0 1 0 4.8 0a2.4 2.4 0 1 0 -4.8 0zM587.3 975.4a2.4 2.4 0 1 0 4.8 0a2.4 2.4 0 1 0 -4.8 0zM588.2 976.1a2.4 2.4 0 1 0 4.8 0a2.4 2.4 0 1 0 -4.8 0zM589.2 976.5a2.4 2.4 0 1 0 4.8 0a2.4 2.4 0 1 0 -4.8 0zM590.2 975.7a2.4 2.4 0 1 0 4.8 0a2.4 2.4 0 1 0 -4.8 0zM591.1 976.1a2.4 2.4 0 1 0 4.8 0a2.4 2.4 0 1 0 -4.8 0zM592.1 975.4a2.4 2.4 0 1 0 4.8 0a2.4 2.4 0 1 0 -4.8 0zM593.1 974.4a2.4 2.4 0 1 0 4.8 0a2.4 2.4 0 1 0 -4.8 0zM594.0 974.8a2.4 2.4 0 1 0 4.8 0a2.4 2.4 0 1 0 -4.8 0zM595.0 976.4a2.4 2.4 0 1 0 4.8 0a2.4 2.4 0 1 0 -4.8 0zM595.9 976.1a2.4 2.4 0 1 0 4.8 0a2.4 2.4 0 1 0 -4.8 0zM596.9 977.1a2.4 2.4 0 1 0 4.8 0a2.4 2.4 0 1 0 -4.8 0zM597.9 975.8a2.4 2.4 0 1 0 4.8 0a2.4 2.4 0 1 0 -4.8 0zM598.8 976.5a2.4 2.4 0 1 0 4.8 0a2.4 2.4 0 1 0 -4.8 0zM599.8 976.9a2.4 2.4 0 1 0 4.8 0a2.4 2.4 0 1 0 -4.8 0zM600.7 976.6a2.4 2.4 0 1 0 4.8 0a2.4 2.4 0 1 0 -4.8 0zM601.7 975.2a2.4 2.4 0 1 0 4.8 0a2.4 2.4 0 1 0 -4.8 0zM602.7 975.6a2.4 2.4 0 1 0 4.8 0a2.4 2.4 0 1 0 -4.8 0zM603.6 975.9a2.4 2.4 0 1 0 4.8 0a2.4 2.4 0 1 0 -4.8 0zM604.6 974.9a2.4 2.4 0 1 0 4.8 0a2.4 2.4 0 1 0 -4.8 0zM605.6 976.2a2.4 2.4 0 1 0 4.8 0a2.4 2.4 0 1 0 -4.8 0zM606.5 976.7a2.4 2.4 0 1 0 4.8 0a2.4 2.4 0 1 0 -4.8 0zM607.5 975.4a2.4 2.4 0 1 0 4.8 0a2.4 2.4 0 1 0 -4.8 0zM608.4 977.6a2.4 2.4 0 1 0 4.8 0a2.4 2.4 0 1 0 -4.8 0zM609.4 975.6a2.4 2.4 0 1 0 4.8 0a2.4 2.4 0 1 0 -4.8 0zM610.4 975.6a2.4 2.4 0 1 0 4.8 0a2.4 2.4 0 1 0 -4.8 0zM611.3 975.6a2.4 2.4 0 1 0 4.8 0a2.4 2.4 0 1 0 -4.8 0zM612.3 975.2a2.4 2.4 0 1 0 4.8 0a2.4 2.4 0 1 0 -4.8 0zM613.3 976.2a2.4 2.4 0 1 0 4.8 0a2.4 2.4 0 1 0 -4.8 0zM614.2 975.9a2.4 2.4 0 1 0 4.8 0a2.4 2.4 0 1 0 -4.8 0zM615.2 977.4a2.4 2.4 0 1 0 4.8 0a2.4 2.4 0 1 0 -4.8 0zM616.1 976.4a2.4 2.4 0 1 0 4.8 0a2.4 2.4 0 1 0 -4.8 0zM617.1 976.4a2.4 2.4 0 1 0 4.8 0a2.4 2.4 0 1 0 -4.8 0zM618.1 975.7a2.4 2.4 0 1 0 4.8 0a2.4 2.4 0 1 0 -4.8 0zM619.0 974.6a2.4 2.4 0 1 0 4.8 0a2.4 2.4 0 1 0 -4.8 0zM620.0 975.8a2.4 2.4 0 1 0 4.8 0a2.4 2.4 0 1 0 -4.8 0zM620.9 975.1a2.4 2.4 0 1 0 4.8 0a2.4 2.4 0 1 0 -4.8 0zM621.9 976.8a2.4 2.4 0 1 0 4.8 0a2.4 2.4 0 1 0 -4.8 0zM622.9 975.9a2.4 2.4 0 1 0 4.8 0a2.4 2.4 0 1 0 -4.8 0zM623.8 977.4a2.4 2.4 0 1 0 4.8 0a2.4 2.4 0 1 0 -4.8 0zM624.8 976.6a2.4 2.4 0 1 0 4.8 0a2.4 2.4 0 1 0 -4.8 0zM625.8 976.7a2.4 2.4 0 1 0 4.8 0a2.4 2.4 0 1 0 -4.8 0zM626.7 976.2a2.4 2.4 0 1 0 4.8 0a2.4 2.4 0 1 0 -4.8 0zM627.7 976.1a2.4 2.4 0 1 0 4.8 0a2.4 2.4 0 1 0 -4.8 0zM628.6 976.6a2.4 2.4 0 1 0 4.8 0a2.4 2.4 0 1 0 -4.8 0zM629.6 976.8a2.4 2.4 0 1 0 4.8 0a2.4 2.4 0 1 0 -4.8 0zM630.6 975.3a2.4 2.4 0 1 0 4.8 0a2.4 2.4 0 1 0 -4.8 0zM631.5 976.4a2.4 2.4 0 1 0 4.8 0a2.4 2.4 0 1 0 -4.8 0zM632.5 978.4a2.4 2.4 0 1 0 4.8 0a2.4 2.4 0 1 0 -4.8 0zM633.5 975.9a2.4 2.4 0 1 0 4.8 0a2.4 2.4 0 1 0 -4.8 0zM634.4 975.8a2.4 2.4 0 1 0 4.8 0a2.4 2.4 0 1 0 -4.8 0zM635.4 975.4a2.4 2.4 0 1 0 4.8 0a2.4 2.4 0 1 0 -4.8 0zM636.3 974.7a2.4 2.4 0 1 0 4.8 0a2.4 2.4 0 1 0 -4.8 0zM637.3 977.1a2.4 2.4 0 1 0 4.8 0a2.4 2.4 0 1 0 -4.8 0zM638.3 976.1a2.4 2.4 0 1 0 4.8 0a2.4 2.4 0 1 0 -4.8 0zM639.2 976.3a2.4 2.4 0 1 0 4.8 0a2.4 2.4 0 1 0 -4.8 0zM640.2 977.7a2.4 2.4 0 1 0 4.8 0a2.4 2.4 0 1 0 -4.8 0zM641.1 978.3a2.4 2.4 0 1 0 4.8 0a2.4 2.4 0 1 0 -4.8 0zM642.1 975.3a2.4 2.4 0 1 0 4.8 0a2.4 2.4 0 1 0 -4.8 0zM643.1 977.0a2.4 2.4 0 1 0 4.8 0a2.4 2.4 0 1 0 -4.8 0zM644.0 976.6a2.4 2.4 0 1 0 4.8 0a2.4 2.4 0 1 0 -4.8 0zM645.0 976.4a2.4 2.4 0 1 0 4.8 0a2.4 2.4 0 1 0 -4.8 0zM646.0 976.5a2.4 2.4 0 1 0 4.8 0a2.4 2.4 0 1 0 -4.8 0zM646.9 976.1a2.4 2.4 0 1 0 4.8 0a2.4 2.4 0 1 0 -4.8 0zM647.9 977.5a2.4 2.4 0 1 0 4.8 0a2.4 2.4 0 1 0 -4.8 0zM648.8 976.7a2.4 2.4 0 1 0 4.8 0a2.4 2.4 0 1 0 -4.8 0zM649.8 976.4a2.4 2.4 0 1 0 4.8 0a2.4 2.4 0 1 0 -4.8 0zM650.8 977.2a2.4 2.4 0 1 0 4.8 0a2.4 2.4 0 1 0 -4.8 0zM651.7 976.9a2.4 2.4 0 1 0 4.8 0a2.4 2.4 0 1 0 -4.8 0zM652.7 976.6a2.4 2.4 0 1 0 4.8 0a2.4 2.4 0 1 0 -4.8 0zM653.6 976.4a2.4 2.4 0 1 0 4.8 0a2.4 2.4 0 1 0 -4.8 0zM654.6 977.7a2.4 2.4 0 1 0 4.8 0a2.4 2.4 0 1 0 -4.8 0zM655.6 976.6a2.4 2.4 0 1 0 4.8 0a2.4 2.4 0 1 0 -4.8 0zM656.5 976.1a2.4 2.4 0 1 0 4.8 0a2.4 2.4 0 1 0 -4.8 0zM657.5 975.4a2.4 2.4 0 1 0 4.8 0a2.4 2.4 0 1 0 -4.8 0zM658.5 975.9a2.4 2.4 0 1 0 4.8 0a2.4 2.4 0 1 0 -4.8 0zM659.4 975.2a2.4 2.4 0 1 0 4.8 0a2.4 2.4 0 1 0 -4.8 0zM660.4 976.3a2.4 2.4 0 1 0 4.8 0a2.4 2.4 0 1 0 -4.8 0zM661.3 976.4a2.4 2.4 0 1 0 4.8 0a2.4 2.4 0 1 0 -4.8 0zM662.3 974.4a2.4 2.4 0 1 0 4.8 0a2.4 2.4 0 1 0 -4.8 0zM663.3 976.2a2.4 2.4 0 1 0 4.8 0a2.4 2.4 0 1 0 -4.8 0zM664.2 976.8a2.4 2.4 0 1 0 4.8 0a2.4 2.4 0 1 0 -4.8 0zM665.2 976.4a2.4 2.4 0 1 0 4.8 0a2.4 2.4 0 1 0 -4.8 0zM666.2 975.4a2.4 2.4 0 1 0 4.8 0a2.4 2.4 0 1 0 -4.8 0zM667.1 977.4a2.4 2.4 0 1 0 4.8 0a2.4 2.4 0 1 0 -4.8 0zM668.1 975.6a2.4 2.4 0 1 0 4.8 0a2.4 2.4 0 1 0 -4.8 0zM669.0 975.1a2.4 2.4 0 1 0 4.8 0a2.4 2.4 0 1 0 -4.8 0zM670.0 975.3a2.4 2.4 0 1 0 4.8 0a2.4 2.4 0 1 0 -4.8 0zM671.0 976.3a2.4 2.4 0 1 0 4.8 0a2.4 2.4 0 1 0 -4.8 0zM671.9 977.2a2.4 2.4 0 1 0 4.8 0a2.4 2.4 0 1 0 -4.8 0zM672.9 977.3a2.4 2.4 0 1 0 4.8 0a2.4 2.4 0 1 0 -4.8 0zM673.8 976.5a2.4 2.4 0 1 0 4.8 0a2.4 2.4 0 1 0 -4.8 0zM674.8 975.2a2.4 2.4 0 1 0 4.8 0a2.4 2.4 0 1 0 -4.8 0zM675.8 975.7a2.4 2.4 0 1 0 4.8 0a2.4 2.4 0 1 0 -4.8 0zM676.7 975.5a2.4 2.4 0 1 0 4.8 0a2.4 2.4 0 1 0 -4.8 0zM677.7 976.2a2.4 2.4 0 1 0 4.8 0a2.4 2.4 0 1 0 -4.8 0zM678.7 974.7a2.4 2.4 0 1 0 4.8 0a2.4 2.4 0 1 0 -4.8 0zM679.6 976.4a2.4 2.4 0 1 0 4.8 0a2.4 2.4 0 1 0 -4.8 0zM680.6 976.9a2.4 2.4 0 1 0 4.8 0a2.4 2.4 0 1 0 -4.8 0zM681.5 976.2a2.4 2.4 0 1 0 4.8 0a2.4 2.4 0 1 0 -4.8 0zM682.5 976.8a2.4 2.4 0 1 0 4.8 0a2.4 2.4 0 1 0 -4.8 0zM683.5 975.5a2.4 2.4 0 1 0 4.8 0a2.4 2.4 0 1 0 -4.8 0zM684.4 975.1a2.4 2.4 0 1 0 4.8 0a2.4 2.4 0 1 0 -4.8 0zM685.4 975.8a2.4 2.4 0 1 0 4.8 0a2.4 2.4 0 1 0 -4.8 0zM686.4 977.4a2.4 2.4 0 1 0 4.8 0a2.4 2.4 0 1 0 -4.8 0zM687.3 977.3a2.4 2.4 0 1 0 4.8 0a2.4 2.4 0 1 0 -4.8 0zM688.3 976.0a2.4 2.4 0 1 0 4.8 0a2.4 2.4 0 1 0 -4.8 0zM689.2 977.5a2.4 2.4 0 1 0 4.8 0a2.4 2.4 0 1 0 -4.8 0zM690.2 976.1a2.4 2.4 0 1 0 4.8 0a2.4 2.4 0 1 0 -4.8 0z" fill="#000080"/>
<polyline points="67.4,973.4 68.4,972.4 69.3,971.6 70.3,972.7 71.2,971.3 72.2,971.2 73.2,970.7 74.1,972.3 75.1,972.0 76.1,972.0 77.0,971.7 78.0,973.4 78.9,971.7 79.9,971.4 80.9,973.2 81.8,973.4 82.8,972.4 83.8,970.5 84.7,971.6 85.7,972.7 86.6,972.2 87.6,973.5 88.6,970.9 89.5,972.8 90.5,971.6 91.4,973.4 92.4,972.1 93.4,973.1 94.3,971.6 95.3,970.9 96.3,971.2 97.2,971.7 98.2,971.3 99.1,973.3 100.1,973.4 101.1,972.5 102.0,971.3 103.0,972.1 104.0,971.6 104.9,973.6 105.9,972.6 106.8,972.7 107.8,971.9 108.8,970.5 109.7,971.6 110.7,971.3 111.6,972.6 112.6,972.4 113.6,971.6 114.5,972.0 115.5,973.7 116.5,971.5 117.4,971.5 118.4,972.2 119.3,971.7 120.3,972.0 121.3,972.9 122.2,973.9 123.2,970.8 124.1,972.4 125.1,972.4 126.1,972.3 127.0,972.3 128.0,972.1 129.0,973.3 129.9,972.0 130.9,972.3 131.8,972.5 132.8,972.6 133.8,972.3 134.7,973.4 135.7,972.5 136.7,972.6 137.6,972.4 138.6,971.6 139.5,971.8 140.5,971.6 141.5,972.7 142.4,971.9 143.4,971.6 144.3,972.8 145.3,973.0 146.3,971.0 147.2,974.1 148.2,972.6 149.2,972.5 150.1,973.5 151.1,972.6 152.0,972.0 153.0,974.6 154.0,971.6 154.9,972.5 155.9,973.4 156.9,971.7 157.8,972.5 158.8,973.0 159.7,974.8 160.7,971.8 161.7,972.6 162.6,973.3 163.6,972.7 164.5,971.6 165.5,973.0 166.5,972.8 167.4,973.1 168.4,973.7 169.4,973.6 170.3,973.1 171.3,973.0 172.2,971.7 173.2,972.6 174.2,972.9 175.1,972.4 176.1,972.8 177.1,972.0 178.0,974.1 179.0,974.7 179.9,972.4 180.9,973.1 181.9,972.6 182.8,973.9 183.8,973.2 184.7,972.9 185.7,972.6 186.7,972.9 187.6,971.9 188.6,973.4 189.6,972.2 190.5,973.3 191.5,972.9 192.4,973.8 193.4,972.8 194.4,973.8 195.3,972.0 196.3,973.4 197.2,972.6 198.2,973.0 199.2,972.9 200.1,973.7 201.1,971.0 202.1,973.2 203.0,971.5 204.0,973.9 204.9,971.1 205.9,972.0 206.9,971.4 207.8,974.3 208.8,971.7 209.8,973.0 210.7,972.4 211.7,971.2 212.6,972.6 213.6,973.5 214.6,972.7 215.5,973.7 216.5,972.5 217.4,972.9 218.4,972.5 219.4,973.2 220.3,974.5 221.3,973.2 222.3,973.0 223.2,972.3 224.2,972.1 225.1,974.1 226.1,971.8 227.1,972.0 228.0,972.7 229.0,972.4 230.0,974.5 230.9,970.6 231.9,973.0 232.8,973.4 233.8,971.7 234.8,972.1 235.7,973.0 236.7,974.1 237.6,971.8 238.6,971.2 239.6,973.5 240.5,973.9 241.5,972.2 242.5,970.5 243.4,973.8 244.4,972.3 245.3,973.4 246.3,972.3 247.3,972.0 248.2,971.9 249.2,973.6 250.2,973.5 251.1,970.3 252.1,971.3 253.0,973.7 254.0,971.7 255.0,970.8 255.9,972.0 256.9,971.8 257.8,971.8 258.8,971.4 259.8,971.5 260.7,971.3 261.7,971.9 262.7,970.8 263.6,971.2 264.6,971.3 265.5,972.5 266.5,971.6 267.5,971.1 268.4,971.6 269.4,971.4 270.3,971.9 271.3,971.3 272.3,972.4 273.2,971.9 274.2,970.5 275.2,970.1 276.1,971.1 277.1,970.7 278.0,970.0 279.0,968.7 280.0,968.2 280.9,970.1 281.9,970.3 282.9,970.2 283.8,968.2 284.8,970.1 285.7,968.6 286.7,969.2 287.7,969.1 288.6,967.8 289.6,967.9 290.5,966.3 291.5,967.2 292.5,966.2 293.4,968.0 294.4,967.5 295.4,968.1 296.3,967.4 297.3,966.3 298.2,966.9 299.2,966.0 300.2,966.7 301.1,966.2 302.1,964.8 303.1,965.4 304.0,965.2 305.0,964.6 305.9,965.5 306.9,965.9 307.9,963.8 308.8,963.5 309.8,961.5 310.7,963.1 311.7,962.5 312.7,960.7 313.6,962.5 314.6,962.5 315.6,961.0 316.5,960.9 317.5,960.1 318.4,961.3 319.4,958.8 320.4,959.6 321.3,961.2 322.3,959.1 323.3,959.1 324.2,958.1 325.2,956.8 326.1,957.4 327.1,957.4 328.1,955.7 329.0,956.5 330.0,956.8 330.9,956.2 331.9,953.4 332.9,953.5 333.8,952.4 334.8,954.4 335.8,953.5 336.7,953.1 337.7,951.1 338.6,950.4 339.6,951.0 340.6,950.5 341.5,949.1 342.5,949.4 343.4,949.3 344.4,948.4 345.4,946.7 346.3,945.2 347.3,946.3 348.3,946.1 349.2,945.2 350.2,944.4 351.1,943.6 352.1,944.3 353.1,943.0 354.0,942.5 355.0,940.9 356.0,940.6 356.9,940.7 357.9,939.1 358.8,938.2 359.8,938.4 360.8,939.1 361.7,937.6 362.7,938.1 363.6,936.0 364.6,935.2 365.6,933.6 366.5,933.7 367.5,934.8 368.5,933.2 369.4,932.9 370.4,932.2 371.3,930.9 372.3,930.1 373.3,929.7 374.2,929.6 375.2,928.7 376.2,928.1 377.1,927.1 378.1,925.7 379.0,925.5 380.0,924.2 381.0,925.3 381.9,921.9 382.9,922.9 383.8,924.6 384.8,921.5 385.8,920.2 386.7,920.6 387.7,921.1 388.7,919.2 389.6,919.3 390.6,918.2 391.5,917.2 392.5,919.8 393.5,916.4 394.4,915.3 395.4,914.8 396.4,915.0 397.3,914.5 398.3,914.3 399.2,913.2 400.2,911.2 401.2,912.5 402.1,911.2 403.1,910.7 404.0,909.2 405.0,909.5 406.0,908.9 406.9,909.1 407.9,907.4 408.9,908.3 409.8,907.9 410.8,906.4 411.7,906.5 412.7,905.9 413.7,907.1 414.6,903.6 415.6,905.3 416.6,903.7 417.5,904.5 418.5,905.4 419.4,903.8 420.4,904.2 421.4,903.1 422.3,905.3 423.3,904.2 424.2,904.2 425.2,901.8 426.2,901.8 427.1,903.6 428.1,902.3 429.1,902.1 430.0,902.5 431.0,901.0 431.9,902.8 432.9,902.0 433.9,902.4 434.8,901.3 435.8,902.4 436.7,901.3 437.7,902.8 438.7,903.1 439.6,903.1 440.6,903.0 441.6,903.4 442.5,900.8 443.5,904.4 444.4,903.9 445.4,904.8 446.4,905.1 447.3,904.8 448.3,906.3 449.3,908.1 450.2,909.7 451.2,908.7 452.1,909.4 453.1,912.5 454.1,911.5 455.0,915.2 456.0,914.5 456.9,914.8 457.9,917.6 458.9,919.5 459.8,917.9 460.8,921.8 461.8,921.5 462.7,924.3 463.7,924.0 464.6,924.2 465.6,927.4 466.6,929.1 467.5,931.5 468.5,932.5 469.5,933.0 470.4,933.5 471.4,934.5 472.3,936.1 473.3,936.9 474.3,938.7 475.2,938.0 476.2,941.7 477.1,942.8 478.1,946.4 479.1,945.9 480.0,946.0 481.0,948.2 482.0,947.7 482.9,949.4 483.9,949.3 484.8,953.4 485.8,953.7 486.8,953.1 487.7,955.1 488.7,957.0 489.7,957.5 490.6,958.3 491.6,958.1 492.5,959.1 493.5,960.6 494.5,962.1 495.4,961.3 496.4,961.7 497.3,964.5 498.3,963.3 499.3,965.7 500.2,965.6 501.2,966.7 502.2,968.1 503.1,967.6 504.1,968.2 505.0,967.2 506.0,967.8 507.0,969.5 507.9,970.7 508.9,971.0 509.8,972.2 510.8,970.7 511.8,970.9 512.7,972.0 513.7,971.4 514.7,971.6 515.6,971.0 516.6,973.0 517.5,971.4 518.5,973.1 519.5,971.5 520.4,974.0 521.4,972.2 522.4,974.1 523.3,972.1 524.3,973.2 525.2,974.8 526.2,973.2 527.2,974.1 528.1,973.7 529.1,972.1 530.0,974.6 531.0,974.8 532.0,973.5 532.9,975.1 533.9,973.9 534.9,973.8 535.8,974.8 536.8,974.2 537.7,976.9 538.7,973.5 539.7,975.6 540.6,975.9 541.6,973.3 542.6,973.5 543.5,975.6 544.5,974.7 545.4,975.5 546.4,976.2 547.4,974.9 548.3,974.3 549.3,972.8 550.2,975.5 551.2,974.5 552.2,975.6 553.1,975.5 554.1,974.1 555.1,976.9 556.0,976.4 557.0,976.2 557.9,974.3 558.9,975.0 559.9,974.9 560.8,975.1 561.8,974.4 562.8,975.9 563.7,975.7 564.7,975.8 565.6,975.0 566.6,976.7 567.6,975.7 568.5,973.1 569.5,974.9 570.4,975.5 571.4,976.4 572.4,975.3 573.3,975.3 574.3,975.0 575.3,976.2 576.2,975.2 577.2,975.0 578.1,974.9 579.1,976.1 580.1,975.1 581.0,974.1 582.0,976.2 582.9,975.0 583.9,976.0 584.9,976.0 585.8,976.7 586.8,976.6 587.8,975.1 588.7,975.5 589.7,974.5 590.6,977.2 591.6,976.1 592.6,977.0 593.5,975.4 594.5,973.9 595.5,977.1 596.4,975.8 597.4,975.8 598.3,975.8 599.3,976.3 600.3,976.2 601.2,974.3 602.2,976.7 603.1,975.3 604.1,975.4 605.1,977.3 606.0,976.6 607.0,975.5 608.0,974.1 608.9,976.0 609.9,976.3 610.8,975.8 611.8,974.7 612.8,975.1 613.7,974.7 614.7,976.0 615.7,976.6 616.6,976.8 617.6,975.2 618.5,976.1 619.5,976.4 620.5,975.4 621.4,975.8 622.4,977.8 623.3,976.1 624.3,976.7 625.3,975.5 626.2,976.0 627.2,974.4 628.2,975.9 629.1,977.0 630.1,977.8 631.0,977.0 632.0,976.6 633.0,976.0 633.9,975.4 634.9,975.8 635.9,976.6 636.8,975.3 637.8,976.9 638.7,975.1 639.7,974.4 640.7,975.1 641.6,974.5 642.6,974.8 643.5,977.1 644.5,975.9 645.5,976.3 646.4,977.1 647.4,977.2 648.4,975.6 649.3,977.3 650.3,976.4 651.2,976.1 652.2,976.5 653.2,974.8 654.1,975.4 655.1,976.0 656.0,976.7 657.0,975.8 658.0,976.0 658.9,977.0 659.9,977.4 660.9,976.9 661.8,977.3 662.8,975.8 663.7,975.9 664.7,976.5 665.7,975.9 666.6,975.8 667.6,977.7 668.6,976.0 669.5,975.4 670.5,976.7 671.4,977.9 672.4,976.3 673.4,977.4 674.3,975.9 675.3,975.8 676.2,975.7 677.2,976.2 678.2,978.0 679.1,975.3 680.1,977.8 681.1,975.4 682.0,976.1 683.0,977.1 683.9,976.9 684.9,976.6 685.9,974.9 686.8,976.7 687.8,975.4 688.8,978.7 689.7,976.2 690.7,976.6 691.6,975.4 692.6,976.0" fill="none" stroke="#800080" stroke-width="1.2" stroke-linejoin="round"/>
<path d="M65.0 973.4a2.4 2.4 0 1 0 4.8 0a2.4 2.4 0 1 0 -4.8 0zM66.0 972.4a2.4 2.4 0 1 0 4.8 0a2.4 2.4 0 1 0 -4.8 0zM66.9 971.6a2.4 2.4 0 1 0 4.8 0a2.4 2.4 0 1 0 -4.8 0zM67.9 972.7a2.4 2.4 0 1 0 4.8 0a2.4 2.4 0 1 0 -4.8 0zM68.8 971.3a2.4 2.4 0 1 0 4.8 0a2.4 2.4 0 1 0 -4.8 0zM69.8 971.2a2.4 2.4 0 1 0 4.8 0a2.4 2.4 0 1 0 -4.8 0zM70.8 970.7a2.4 2.4 0 1 0 4.8 0a2.4 2.4 0 1 0 -4.8 0zM71.7 972.3a2.4 2.4 0 1 0 4.8 0a2.4 2.4 0 1 0 -4.8 0zM72.7 972.0a2.4 2.4 0 1 0 4.8 0a2.4 2.4 0 1 0 -4.8 0zM73.7 972.0a2.4 2.4 0 1 0 4.8 0a2.4 2.4 0 1 0 -4.8 0zM74.6 971.7a2.4 2.4 0 1 0 4.8 0a2.4 2.4 0 1 0 -4.8 0zM75.6 973.4a2.4 2.4 0 1 0 4.8 0a2.4 2.4 0 1 0 -4.8 0zM76.5 971.7a2.4 2.4 0 1 0 4.8 0a2.4 2.4 0 1 0 -4.8 0zM77.5 971.4a2.4 2.4 0 1 0 4.8 0a2.4 2.4 0 1 0 -4.8 0zM78.5 973.2a2.4 2.4 0 1 0 4.8 0a2.4 2.4 0 1 0 -4.8 0zM79.4 973.4a2.4 2.4 0 1 0 4.8 0a2.4 2.4 0 1 0 -4.8 0zM80.4 972.4a2.4 2.4 0 1 0 4.8 0a2.4 2.4 0 1 0 -4.8 0zM81.4 970.5a2.4 2.4 0 1 0 4.8 0a2.4 2.4 0 1 0 -4.8 0zM82.3 971.6a2.4 2.4 0 1 0 4.8 0a2.4 2.4 0 1 0 -4.8 0zM83.3 972.7a2.4 2.4 0 1 0 4.8 0a2.4 2.4 0 1 0 -4.8 0zM84.2 972.2a2.4 2.4 0 1 0 4.8 0a2.4 2.4 0 1 0 -4.8 0zM85.2 973.5a2.4 2.4 0 1 0 4.8 0a2.4 2.4 0 1 0 -4.8 0zM86.2 970.9a2.4 2.4 0 1 0 4.8 0a2.4 2.4 0 1 0 -4.8 0zM87.1 972.8a2.4 2.4 0 1 0 4.8 0a2.4 2.4 0 1 0 -4.8 0zM88.1 971.6a2.4 2.4 0 1 0 4.8 0a2.4 2.4 0 1 0 -4.8 0zM89.0 973.4a2.4 2.4 0 1 0 4.8 0a2.4 2.4 0 1 0 -4.8 0zM90.0 972.1a2.4 2.4 0 1 0 4.8 0a2.4 2.4 0 1 0 -4.8 0zM91.0 973.1a2.4 2.4 0 1 0 4.8 0a2.4 2.4 0 1 0 -4.8 0zM91.9 971.6a2.4 2.4 0 1 0 4.8 0a2.4 2.4 0 1 0 -4.8 0zM92.9 970.9a2.4 2.4 0 1 0 4.8 0a2.4 2.4 0 1 0 -4.8 0zM93.9 971.2a2.4 2.4 0 1 0 4.8 0a2.4 2.4 0 1 0 -4.8 0zM94.8 971.7a2.4 2.4 0 1 0 4.8 0a2.4 2.4 0 1 0 -4.8 0zM95.8 971.3a2.4 2.4 0 1 0 4.8 0a2.4 2.4 0 1 0 -4.8 0zM96.7 973.3a2.4 2.4 0 1 0 4.8 0a2.4 2.4 0 1 0 -4.8 0zM97.7 973.4a2.4 2.4 0 1 0 4.8 0a2.4 2.4 0 1 0 -4.8 0zM98.7 972.5a2.4 2.4 0 1 0 4.8 0a2.4 2.4 0 1 0 -4.8 0zM99.6 971.3a2.4 2.4 0 1 0 4.8 0a2.4 2.4 0 1 0 -4.8 0zM100.6 972.1a2.4 2.4 0 1 0 4.8 0a2.4 2.4 0 1 0 -4.8 0zM101.6 971.6a2.4 2.4 0 1 0 4.8 0a2.4 2.4 0 1 0 -4.8 0zM102.5 973.6a2.4 2.4 0 1 0 4.8 0a2.4 2.4 0 1 0 -4.8 0zM103.5 972.6a2.4 2.4 0 1 0 4.8 0a2.4 2.4 0 1 0 -4.8 0zM104.4 972.7a2.4 2.4 0 1 0 4.8 0a2.4 2.4 0 1 0 -4.8 0zM105.4 971.9a2.4 2.4 0 1 0 4.8 0a2.4 2.4 0 1 0 -4.8 0zM106.4 970.5a2.4 2.4 0 1 0 4.8 0a2.4 2.4 0 1 0 -4.8 0zM107.3 971.6a2.4 2.4 0 1 0 4.8 0a2.4 2.4 0 1 0 -4.8 0zM108.3 971.3a2.4 2.4 0 1 0 4.8 0a2.4 2.4 0 1 0 -4.8 0zM109.2 972.6a2.4 2.4 0 1 0 4.8 0a2.4 2.4 0 1 0 -4.8 0zM110.2 972.4a2.4 2.4 0 1 0 4.8 0a2.4 2.4 0 1 0 -4.8 0zM111.2 971.6a2.4 2.4 0 1 0 4.8 0a2.4 2.4 0 1 0 -4.8 0zM112.1 972.0a2.4 2.4 0 1 0 4.8 0a2.4 2.4 0 1 0 -4.8 0zM113.1 973.7a2.4 2.4 0 1 0 4.8 0a2.4 2.4 0 1 0 -4.8 0zM114.1 971.5a2.4 2.4 0 1 0 4.8 0a2.4 2.4 0 1 0 -4.8 0zM115.0 971.5a2.4 2.4 0 1 0 4.8 0a2.4 2.4 0 1 0 -4.8 0zM116.0 972.2a2.4 2.4 0 1 0 4.8 0a2.4 2.4 0 1 0 -4.8 0zM116.9 971.7a2.4 2.4 0 1 0 4.8 0a2.4 2.4 0 1 0 -4.8 0zM117.9 972.0a2.4 2.4 0 1 0 4.8 0a2.4 2.4 0 1 0 -4.8 0zM118.9 972.9a2.4 2.4 0 1 0 4.8 0a2.4 2.4 0 1 0 -4.8 0zM119.8 973.9a2.4 2.4 0 1 0 4.8 0a2.4 2.4 0 1 0 -4.8 0zM120.8 970.8a2.4 2.4 0 1 0 4.8 0a2.4 2.4 0 1 0 -4.8 0zM121.7 972.4a2.4 2.4 0 1 0 4.8 0a2.4 2.4 0 1 0 -4.8 0zM122.7 972.4a2.4 2.4 0 1 0 4.8 0a2.4 2.4 0 1 0 -4.8 0zM123.7 972.3a2.4 2.4 0 1 0 4.8 0a2.4 2.4 0 1 0 -4.8 0zM124.6 972.3a2.4 2.4 0 1 0 4.8 0a2.4 2.4 0 1 0 -4.8 0zM125.6 972.1a2.4 2.4 0 1 0 4.8 0a2.4 2.4 0 1 0 -4.8 0zM126.6 973.3a2.4 2.4 0 1 0 4.8 0a2.4 2.4 0 1 0 -4.8 0zM127.5 972.0a2.4 2.4 0 1 0 4.8 0a2.4 2.4 0 1 0 -4.8 0zM128.5 972.3a2.4 2.4 0 1 0 4.8 0a2.4 2.4 0 1 0 -4.8 0zM129.4 972.5a2.4 2.4 0 1 0 4.8 0a2.4 2.4 0 1 0 -4.8 0zM130.4 972.6a2.4 2.4 0 1 0 4.8 0a2.4 2.4 0 1 0 -4.8 0zM131.4 972.3a2.4 2.4 0 1 0 4.8 0a2.4 2.4 0 1 0 -4.8 0zM132.3 973.4a2.4 2.4 0 1 0 4.8 0a2.4 2.4 0 1 0 -4.8 0zM133.3 972.5a2.4 2.4 0 1 0 4.8 0a2.4 2.4 0 1 0 -4.8 0zM134.3 972.6a2.4 2.4 0 1 0 4.8 0a2.4 2.4 0 1 0 -4.8 0zM135.2 972.4a2.4 2.4 0 1 0 4.8 0a2.4 2.4 0 1 0 -4.8 0zM136.2 971.6a2.4 2.4 0 1 0 4.8 0a2.4 2.4 0 1 0 -4.8 0zM137.1 971.8a2.4 2.4 0 1 0 4.8 0a2.4 2.4 0 1 0 -4.8 0zM138.1 971.6a2.4 2.4 0 1 0 4.8 0a2.4 2.4 0 1 0 -4.8 0zM139.1 972.7a2.4 2.4 0 1 0 4.8 0a2.4 2.4 0 1 0 -4.8 0zM140.0 971.9a2.4 2.4 0 1 0 4.8 0a2.4 2.4 0 1 0 -4.8 0zM141.0 971.6a2.4 2.4 0 1 0 4.8 0a2.4 2.4 0 1 0 -4.8 0zM141.9 972.8a2.4 2.4 0 1 0 4.8 0a2.4 2.4 0 1 0 -4.8 0zM142.9 973.0a2.4 2.4 0 1 0 4.8 0a2.4 2.4 0 1 0 -4.8 0zM143.9 971.0a2.4 2.4 0 1 0 4.8 0a2.4 2.4 0 1 0 -4.8 0zM144.8 974.1a2.4 2.4 0 1 0 4.8 0a2.4 2.4 0 1 0 -4.8 0zM145.8 972.6a2.4 2.4 0 1 0 4.8 0a2.4 2.4 0 1 0 -4.8 0zM146.8 972.5a2.4 2.4 0 1 0 4.8 0a2.4 2.4 0 1 0 -4.8 0zM147.7 973.5a2.4 2.4 0 1 0 4.8 0a2.4 2.4 0 1 0 -4.8 0zM148.7 972.6a2.4 2.4 0 1 0 4.8 0a2.4 2.4 0 1 0 -4.8 0zM149.6 972.0a2.4 2.4 0 1 0 4.8 0a2.4 2.4 0 1 0 -4.8 0zM150.6 974.6a2.4 2.4 0 1 0 4.8 0a2.4 2.4 0 1 0 -4.8 0zM151.6 971.6a2.4 2.4 0 1 0 4.8 0a2.4 2.4 0 1 0 -4.8 0zM152.5 972.5a2.4 2.4 0 1 0 4.8 0a2.4 2.4 0 1 0 -4.8 0zM153.5 973.4a2.4 2.4 0 1 0 4.8 0a2.4 2.4 0 1 0 -4.8 0zM154.5 971.7a2.4 2.4 0 1 0 4.8 0a2.4 2.4 0 1 0 -4.8 0zM155.4 972.5a2.4 2.4 0 1 0 4.8 0a2.4 2.4 0 1 0 -4.8 0zM156.4 973.0a2.4 2.4 0 1 0 4.8 0a2.4 2.4 0 1 0 -4.8 0zM157.3 974.8a2.4 2.4 0 1 0 4.8 0a2.4 2.4 0 1 0 -4.8 0zM158.3 971.8a2.4 2.4 0 1 0 4.8 0a2.4 2.4 0 1 0 -4.8 0zM159.3 972.6a2.4 2.4 0 1 0 4.8 0a2.4 2.4 0 1 0 -4.8 0zM160.2 973.3a2.4 2.4 0 1 0 4.8 0a2.4 2.4 0 1 0 -4.8 0zM161.2 972.7a2.4 2.4 0 1 0 4.8 0a2.4 2.4 0 1 0 -4.8 0zM162.1 971.6a2.4 2.4 0 1 0 4.8 0a2.4 2.4 0 1 0 -4.8 0zM163.1 973.0a2.4 2.4 0 1 0 4.8 0a2.4 2.4 0 1 0 -4.8 0zM164.1 972.8a2.4 2.4 0 1 0 4.8 0a2.4 2.4 0 1 0 -4.8 0zM165.0 973.1a2.4 2.4 0 1 0 4.8 0a2.4 2.4 0 1 0 -4.8 0zM166.0 973.7a2.4 2.4 0 1 0 4.8 0a2.4 2.4 0 1 0 -4.8 0zM167.0 973.6a2.4 2.4 0 1 0 4.8 0a2.4 2.4 0 1 0 -4.8 0zM167.9 973.1a2.4 2.4 0 1 0 4.8 0a2.4 2.4 0 1 0 -4.8 0zM168.9 973.0a2.4 2.4 0 1 0 4.8 0a2.4 2.4 0 1 0 -4.8 0zM169.8 971.7a2.4 2.4 0 1 0 4.8 0a2.4 2.4 0 1 0 -4.8 0zM170.8 972.6a2.4 2.4 0 1 0 4.8 0a2.4 2.4 0 1 0 -4.8 0zM171.8 972.9a2.4 2.4 0 1 0 4.8 0a2.4 2.4 0 1 0 -4.8 0zM172.7 972.4a2.4 2.4 0 1 0 4.8 0a2.4 2.4 0 1 0 -4.8 0zM173.7 972.8a2.4 2.4 0 1 0 4.8 0a2.4 2.4 0 1 0 -4.8 0zM174.7 972.0a2.4 2.4 0 1 0 4.8 0a2.4 2.4 0 1 0 -4.8 0zM175.6 974.1a2.4 2.4 0 1 0 4.8 0a2.4 2.4 0 1 0 -4.8 0zM176.6 974.7a2.4 2.4 0 1 0 4.8 0a2.4 2.4 0 1 0 -4.8 0zM177.5 972.4a2.4 2.4 0 1 0 4.8 0a2.4 2.4 0 1 0 -4.8 0zM178.5 973.1a2.4 2.4 0 1 0 4.8 0a2.4 2.4 0 1 0 -4.8 0zM179.5 972.6a2.4 2.4 0 1 0 4.8 0a2.4 2.4 0 1 0 -4.8 0zM180.4 973.9a2.4 2.4 0 1 0 4.8 0a2.4 2.4 0 1 0 -4.8 0zM181.4 973.2a2.4 2.4 0 1 0 4.8 0a2.4 2.4 0 1 0 -4.8 0zM182.3 972.9a2.4 2.4 0 1 0 4.8 0a2.4 2.4 0 1 0 -4.8 0zM183.3 972.6a2.4 2.4 0 1 0 4.8 0a2.4 2.4 0 1 0 -4.8 0zM184.3 972.9a2.4 2.4 0 1 0 4.8 0a2.4 2.4 0 1 0 -4.8 0zM185.2 971.9a2.4 2.4 0 1 0 4.8 0a2.4 2.4 0 1 0 -4.8 0zM186.2 973.4a2.4 2.4 0 1 0 4.8 0a2.4 2.4 0 1 0 -4.8 0zM187.2 972.2a2.4 2.4 0 1 0 4.8 0a2.4 2.4 0 1 0 -4.8 0zM188.1 973.3a2.4 2.4 0 1 0 4.8 0a2.4 2.4 0 1 0 -4.8 0zM189.1 972.9a2.4 2.4 0 1 0 4.8 0a2.4 2.4 0 1 0 -4.8 0zM190.0 973.8a2.4 2.4 0 1 0 4.8 0a2.4 2.4 0 1 0 -4.8 0zM191.0 972.8a2.4 2.4 0 1 0 4.8 0a2.4 2.4 0 1 0 -4.8 0zM192.0 973.8a2.4 2.4 0 1 0 4.8 0a2.4 2.4 0 1 0 -4.8 0zM192.9 972.0a2.4 2.4 0 1 0 4.8 0a2.4 2.4 0 1 0 -4.8 0zM193.9 973.4a2.4 2.4 0 1 0 4.8 0a2.4 2.4 0 1 0 -4.8 0zM194.8 972.6a2.4 2.4 0 1 0 4.8 0a2.4 2.4 0 1 0 -4.8 0zM195.8 973.0a2.4 2.4 0 1 0 4.8 0a2.4 2.4 0 1 0 -4.8 0zM196.8 972.9a2.4 2.4 0 1 0 4.8 0a2.4 2.4 0 1 0 -4.8 0zM197.7 973.7a2.4 2.4 0 1 0 4.8 0a2.4 2.4 0 1 0 -4.8 0zM198.7 971.0a2.4 2.4 0 1 0 4.8 0a2.4 2.4 0 1 0 -4.8 0zM199.7 973.2a2.4 2.4 0 1 0 4.8 0a2.4 2.4 0 1 0 -4.8 0zM200.6 971.5a2.4 2.4 0 1 0 4.8 0a2.4 2.4 0 1 0 -4.8 0zM201.6 973.9a2.4 2.4 0 1 0 4.8 0a2.4 2.4 0 1 0 -4.8 0zM202.5 971.1a2.4 2.4 0 1 0 4.8 0a2.4 2.4 0 1 0 -4.8 0zM203.5 972.0a2.4 2.4 0 1 0 4.8 0a2.4 2.4 0 1 0 -4.8 0zM204.5 971.4a2.4 2.4 0 1 0 4.8 0a2.4 2.4 0 1 0 -4.8 0zM205.4 974.3a2.4 2.4 0 1 0 4.8 0a2.4 2.4 0 1 0 -4.8 0zM206.4 971.7a2.4 2.4 0 1 0 4.8 0a2.4 2.4 0 1 0 -4.8 0zM207.4 973.0a2.4 2.4 0 1 0 4.8 0a2.4 2.4 0 1 0 -4.8 0zM208.3 972.4a2.4 2.4 0 1 0 4.8 0a2.4 2.4 0 1 0 -4.8 0zM209.3 971.2a2.4 2.4 0 1 0 4.8 0a2.4 2.4 0 1 0 -4.8 0zM210.2 972.6a2.4 2.4 0 1 0 4.8 0a2.4 2.4 0 1 0 -4.8 0zM211.2 973.5a2.4 2.4 0 1 0 4.8 0a2.4 2.4 0 1 0 -4.8 0zM212.2 972.7a2.4 2.4 0 1 0 4.8 0a2.4 2.4 0 1 0 -4.8 0zM213.1 973.7a2.4 2.4 0 1 0 4.8 0a2.4 2.4 0 1 0 -4.8 0zM214.1 972.5a2.4 2.4 0 1 0 4.8 0a2.4 2.4 0 1 0 -4.8 0zM215.0 972.9a2.4 2.4 0 1 0 4.8 0a2.4 2.4 0 1 0 -4.8 0zM216.0 972.5a2.4 2.4 0 1 0 4.8 0a2.4 2.4 0 1 0 -4.8 0zM217.0 973.2a2.4 2.4 0 1 0 4.8 0a2.4 2.4 0 1 0 -4.8 0zM217.9 974.5a2.4 2.4 0 1 0 4.8 0a2.4 2.4 0 1 0 -4.8 0zM218.9 973.2a2.4 2.4 0 1 0 4.8 0a2.4 2.4 0 1 0 -4.8 0zM219.9 973.0a2.4 2.4 0 1 0 4.8 0a2.4 2.4 0 1 0 -4.8 0zM220.8 972.3a2.4 2.4 0 1 0 4.8 0a2.4 2.4 0 1 0 -4.8 0zM221.8 972.1a2.4 2.4 0 1 0 4.8 0a2.4 2.4 0 1 0 -4.8 0zM222.7 974.1a2.4 2.4 0 1 0 4.8 0a2.4 2.4 0 1 0 -4.8 0zM223.7 971.8a2.4 2.4 0 1 0 4.8 0a2.4 2.4 0 1 0 -4.8 0zM224.7 972.0a2.4 2.4 0 1 0 4.8 0a2.4 2.4 0 1 0 -4.8 0zM225.6 972.7a2.4 2.4 0 1 0 4.8 0a2.4 2.4 0 1 0 -4.8 0zM226.6 972.4a2.4 2.4 0 1 0 4.8 0a2.4 2.4 0 1 0 -4.8 0zM227.6 974.5a2.4 2.4 0 1 0 4.8 0a2.4 2.4 0 1 0 -4.8 0zM228.5 970.6a2.4 2.4 0 1 0 4.8 0a2.4 2.4 0 1 0 -4.8 0zM229.5 973.0a2.4 2.4 0 1 0 4.8 0a2.4 2.4 0 1 0 -4.8 0zM230.4 973.4a2.4 2.4 0 1 0 4.8 0a2.4 2.4 0 1 0 -4.8 0zM231.4 971.7a2.4 2.4 0 1 0 4.8 0a2.4 2.4 0 1 0 -4.8 0zM232.4 972.1a2.4 2.4 0 1 0 4.8 0a2.4 2.4 0 1 0 -4.8 0zM233.3 973.0a2.4 2.4 0 1 0 4.8 0a2.4 2.4 0 1 0 -4.8 0zM234.3 974.1a2.4 2.4 0 1 0 4.8 0a2.4 2.4 0 1 0 -4.8 0zM235.2 971.8a2.4 2.4 0 1 0 4.8 0a2.4 2.4 0 1 0 -4.8 0zM236.2 971.2a2.4 2.4 0 1 0 4.8 0a2.4 2.4 0 1 0 -4.8 0zM237.2 973.5a2.4 2.4 0 1 0 4.8 0a2.4 2.4 0 1 0 -4.8 0zM238.1 973.9a2.4 2.4 0 1 0 4.8 0a2.4 2.4 0 1 0 -4.8 0zM239.1 972.2a2.4 2.4 0 1 0 4.8 0a2.4 2.4 0 1 0 -4.8 0zM240.1 970.5a2.4 2.4 0 1 0 4.8 0a2.4 2.4 0 1 0 -4.8 0zM241.0 973.8a2.4 2.4 0 1 0 4.8 0a2.4 2.4 0 1 0 -4.8 0zM242.0 972.3a2.4 2.4 0 1 0 4.8 0a2.4 2.4 0 1 0 -4.8 0zM242.9 973.4a2.4 2.4 0 1 0 4.8 0a2.4 2.4 0 1 0 -4.8 0zM243.9 972.3a2.4 2.4 0 1 0 4.8 0a2.4 2.4 0 1 0 -4.8 0zM244.9 972.0a2.4 2.4 0 1 0 4.8 0a2.4 2.4 0 1 0 -4.8 0zM245.8 971.9a2.4 2.4 0 1 0 4.8 0a2.4 2.4 0 1 0 -4.8 0zM246.8 973.6a2.4 2.4 0 1 0 4.8 0a2.4 2.4 0 1 0 -4.8 0zM247.8 973.5a2.4 2.4 0 1 0 4.8 0a2.4 2.4 0 1 0 -4.8 0zM248.7 970.3a2.4 2.4 0 1 0 4.8 0a2.4 2.4 0 1 0 -4.8 0zM249.7 971.3a2.4 2.4 0 1 0 4.8 0a2.4 2.4 0 1 0 -4.8 0zM250.6 973.7a2.4 2.4 0 1 0 4.8 0a2.4 2.4 0 1 0 -4.8 0zM251.6 971.7a2.4 2.4 0 1 0 4.8 0a2.4 2.4 0 1 0 -4.8 0zM252.6 970.8a2.4 2.4 0 1 0 4.8 0a2.4 2.4 0 1 0 -4.8 0zM253.5 972.0a2.4 2.4 0 1 0 4.8 0a2.4 2.4 0 1 0 -4.8 0zM254.5 971.8a2.4 2.4 0 1 0 4.8 0a2.4 2.4 0 1 0 -4.8 0zM255.4 971.8a2.4 2.4 0 1 0 4.8 0a2.4 2.4 0 1 0 -4.8 0zM256.4 971.4a2.4 2.4 0 1 0 4.8 0a2.4 2.4 0 1 0 -4.8 0zM257.4 971.5a2.4 2.4 0 1 0 4.8 0a2.4 2.4 0 1 0 -4.8 0zM258.3 971.3a2.4 2.4 0 1 0 4.8 0a2.4 2.4 0 1 0 -4.8 0zM259.3 971.9a2.4 2.4 0 1 0 4.8 0a2.4 2.4 0 1 0 -4.8 0zM260.3 970.8a2.4 2.4 0 1 0 4.8 0a2.4 2.4 0 1 0 -4.8 0zM261.2 971.2a2.4 2.4 0 1 0 4.8 0a2.4 2.4 0 1 0 -4.8 0zM262.2 971.3a2.4 2.4 0 1 0 4.8 0a2.4 2.4 0 1 0 -4.8 0zM263.1 972.5a2.4 2.4 0 1 0 4.8 0a2.4 2.4 0 1 0 -4.8 0zM264.1 971.6a2.4 2.4 0 1 0 4.8 0a2.4 2.4 0 1 0 -4.8 0zM265.1 971.1a2.4 2.4 0 1 0 4.8 0a2.4 2.4 0 1 0 -4.8 0zM266.0 971.6a2.4 2.4 0 1 0 4.8 0a2.4 2.4 0 1 0 -4.8 0zM267.0 971.4a2.4 2.4 0 1 0 4.8 0a2.4 2.4 0 1 0 -4.8 0zM267.9 971.9a2.4 2.4 0 1 0 4.8 0a2.4 2.4 0 1 0 -4.8 0zM268.9 971.3a2.4 2.4 0 1 0 4.8 0a2.4 2.4 0 1 0 -4.8 0zM269.9 972.4a2.4 2.4 0 1 0 4.8 0a2.4 2.4 0 1 0 -4.8 0zM270.8 971.9a2.4 2.4 0 1 0 4.8 0a2.4 2.4 0 1 0 -4.8 0zM271.8 970.5a2.4 2.4 0 1 0 4.8 0a2.4 2.4 0 1 0 -4.8 0zM272.8 970.1a2.4 2.4 0 1 0 4.8 0a2.4 2.4 0 1 0 -4.8 0zM273.7 971.1a2.4 2.4 0 1 0 4.8 0a2.4 2.4 0 1 0 -4.8 0zM274.7 970.7a2.4 2.4 0 1 0 4.8 0a2.4 2.4 0 1 0 -4.8 0zM275.6 970.0a2.4 2.4 0 1 0 4.8 0a2.4 2.4 0 1 0 -4.8 0zM276.6 968.7a2.4 2.4 0 1 0 4.8 0a2.4 2.4 0 1 0 -4.8 0zM277.6 968.2a2.4 2.4 0 1 0 4.8 0a2.4 2.4 0 1 0 -4.8 0zM278.5 970.1a2.4 2.4 0 1 0 4.8 0a2.4 2.4 0 1 0 -4.8 0zM279.5 970.3a2.4 2.4 0 1 0 4.8 0a2.4 2.4 0 1 0 -4.8 0zM280.5 970.2a2.4 2.4 0 1 0 4.8 0a2.4 2.4 0 1 0 -4.8 0zM281.4 968.2a2.4 2.4 0 1 0 4.8 0a2.4 2.4 0 1 0 -4.8 0zM282.4 970.1a2.4 2.4 0 1 0 4.8 0a2.4 2.4 0 1 0 -4.8 0zM283.3 968.6a2.4 2.4 0 1 0 4.8 0a2.4 2.4 0 1 0 -4.8 0zM284.3 969.2a2.4 2.4 0 1 0 4.8 0a2.4 2.4 0 1 0 -4.8 0zM285.3 969.1a2.4 2.4 0 1 0 4.8 0a2.4 2.4 0 1 0 -4.8 0zM286.2 967.8a2.4 2.4 0 1 0 4.8 0a2.4 2.4 0 1 0 -4.8 0zM287.2 967.9a2.4 2.4 0 1 0 4.8 0a2.4 2.4 0 1 0 -4.8 0zM288.1 966.3a2.4 2.4 0 1 0 4.8 0a2.4 2.4 0 1 0 -4.8 0zM289.1 967.2a2.4 2.4 0 1 0 4.8 0a2.4 2.4 0 1 0 -4.8 0zM290.1 966.2a2.4 2.4 0 1 0 4.8 0a2.4 2.4 0 1 0 -4.8 0zM291.0 968.0a2.4 2.4 0 1 0 4.8 0a2.4 2.4 0 1 0 -4.8 0zM292.0 967.5a2.4 2.4 0 1 0 4.8 0a2.4 2.4 0 1 0 -4.8 0zM293.0 968.1a2.4 2.4 0 1 0 4.8 0a2.4 2.4 0 1 0 -4.8 0zM293.9 967.4a2.4 2.4 0 1 0 4.8 0a2.4 2.4 0 1 0 -4.8 0zM294.9 966.3a2.4 2.4 0 1 0 4.8 0a2.4 2.4 0 1 0 -4.8 0zM295.8 966.9a2.4 2.4 0 1 0 4.8 0a2.4 2.4 0 1 0 -4.8 0zM296.8 966.0a2.4 2.4 0 1 0 4.8 0a2.4 2.4 0 1 0 -4.8 0zM297.8 966.7a2.4 2.4 0 1 0 4.8 0a2.4 2.4 0 1 0 -4.8 0zM298.7 966.2a2.4 2.4 0 1 0 4.8 0a2.4 2.4 0 1 0 -4.8 0zM299.7 964.8a2.4 2.4 0 1 0 4.8 0a2.4 2.4 0 1 0 -4.8 0zM300.7 965.4a2.4 2.4 0 1 0 4.8 0a2.4 2.4 0 1 0 -4.8 0zM301.6 965.2a2.4 2.4 0 1 0 4.8 0a2.4 2.4 0 1 0 -4.8 0zM302.6 964.6a2.4 2.4 0 1 0 4.8 0a2.4 2.4 0 1 0 -4.8 0zM303.5 965.5a2.4 2.4 0 1 0 4.8 0a2.4 2.4 0 1 0 -4.8 0zM304.5 965.9a2.4 2.4 0 1 0 4.8 0a2.4 2.4 0 1 0 -4.8 0zM305.5 963.8a2.4 2.4 0 1 0 4.8 0a2.4 2.4 0 1 0 -4.8 0zM306.4 963.5a2.4 2.4 0 1 0 4.8 0a2.4 2.4 0 1 0 -4.8 0zM307.4 961.5a2.4 2.4 0 1 0 4.8 0a2.4 2.4 0 1 0 -4.8 0zM308.3 963.1a2.4 2.4 0 1 0 4.8 0a2.4 2.4 0 1 0 -4.8 0zM309.3 962.5a2.4 2.4 0 1 0 4.8 0a2.4 2.4 0 1 0 -4.8 0zM310.3 960.7a2.4 2.4 0 1 0 4.8 0a2.4 2.4 0 1 0 -4.8 0zM311.2 962.5a2.4 2.4 0 1 0 4.8 0a2.4 2.4 0 1 0 -4.8 0zM312.2 962.5a2.4 2.4 0 1 0 4.8 0a2.4 2.4 0 1 0 -4.8 0zM313.2 961.0a2.4 2.4 0 1 0 4.8 0a2.4 2.4 0 1 0 -4.8 0zM314.1 960.9a2.4 2.4 0 1 0 4.8 0a2.4 2.4 0 1 0 -4.8 0zM315.1 960.1a2.4 2.4 0 1 0 4.8 0a2.4 2.4 0 1 0 -4.8 0zM316.0 961.3a2.4 2.4 0 1 0 4.8 0a2.4 2.4 0 1 0 -4.8 0zM317.0 958.8a2.4 2.4 0 1 0 4.8 0a2.4 2.4 0 1 0 -4.8 0zM318.0 959.6a2.4 2.4 0 1 0 4.8 0a2.4 2.4 0 1 0 -4.8 0zM318.9 961.2a2.4 2.4 0 1 0 4.8 0a2.4 2.4 0 1 0 -4.8 0zM319.9 959.1a2.4 2.4 0 1 0 4.8 0a2.4 2.4 0 1 0 -4.8 0zM320.9 959.1a2.4 2.4 0 1 0 4.8 0a2.4 2.4 0 1 0 -4.8 0zM321.8 958.1a2.4 2.4 0 1 0 4.8 0a2.4 2.4 0 1 0 -4.8 0zM322.8 956.8a2.4 2.4 0 1 0 4.8 0a2.4 2.4 0 1 0 -4.8 0zM323.7 957.4a2.4 2.4 0 1 0 4.8 0a2.4 2.4 0 1 0 -4.8 0zM324.7 957.4a2.4 2.4 0 1 0 4.8 0a2.4 2.4 0 1 0 -4.8 0zM325.7 955.7a2.4 2.4 0 1 0 4.8 0a2.4 2.4 0 1 0 -4.8 0zM326.6 956.5a2.4 2.4 0 1 0 4.8 0a2.4 2.4 0 1 0 -4.8 0zM327.6 956.8a2.4 2.4 0 1 0 4.8 0a2.4 2.4 0 1 0 -4.8 0zM328.5 956.2a2.4 2.4 0 1 0 4.8 0a2.4 2.4 0 1 0 -4.8 0zM329.5 953.4a2.4 2.4 0 1 0 4.8 0a2.4 2.4 0 1 0 -4.8 0zM330.5 953.5a2.4 2.4 0 1 0 4.8 0a2.4 2.4 0 1 0 -4.8 0zM331.4 952.4a2.4 2.4 0 1 0 4.8 0a2.4 2.4 0 1 0 -4.8 0zM332.4 954.4a2.4 2.4 0 1 0 4.8 0a2.4 2.4 0 1 0 -4.8 0zM333.4 953.5a2.4 2.4 0 1 0 4.8 0a2.4 2.4 0 1 0 -4.8 0zM334.3 953.1a2.4 2.4 0 1 0 4.8 0a2.4 2.4 0 1 0 -4.8 0zM335.3 951.1a2.4 2.4 0 1 0 4.8 0a2.4 2.4 0 1 0 -4.8 0zM336.2 950.4a2.4 2.4 0 1 0 4.8 0a2.4 2.4 0 1 0 -4.8 0zM337.2 951.0a2.4 2.4 0 1 0 4.8 0a2.4 2.4 0 1 0 -4.8 0zM338.2 950.5a2.4 2.4 0 1 0 4.8 0a2.4 2.4 0 1 0 -4.8 0zM339.1 949.1a2.4 2.4 0 1 0 4.8 0a2.4 2.4 0 1 0 -4.8 0zM340.1 949.4a2.4 2.4 0 1 0 4.8 0a2.4 2.4 0 1 0 -4.8 0zM341.0 949.3a2.4 2.4 0 1 0 4.8 0a2.4 2.4 0 1 0 -4.8 0zM342.0 948.4a2.4 2.4 0 1 0 4.8 0a2.4 2.4 0 1 0 -4.8 0zM343.0 946.7a2.4 2.4 0 1 0 4.8 0a2.4 2.4 0 1 0 -4.8 0zM343.9 945.2a2.4 2.4 0 1 0 4.8 0a2.4 2.4 0 1 0 -4.8 0zM344.9 946.3a2.4 2.4 0 1 0 4.8 0a2.4 2.4 0 1 0 -4.8 0zM345.9 946.1a2.4 2.4 0 1 0 4.8 0a2.4 2.4 0 1 0 -4.8 0zM346.8 945.2a2.4 2.4 0 1 0 4.8 0a2.4 2.4 0 1 0 -4.8 0zM347.8 944.4a2.4 2.4 0 1 0 4.8 0a2.4 2.4 0 1 0 -4.8 0zM348.7 943.6a2.4 2.4 0 1 0 4.8 0a2.4 2.4 0 1 0 -4.8 0zM349.7 944.3a2.4 2.4 0 1 0 4.8 0a2.4 2.4 0 1 0 -4.8 0zM350.7 943.0a2.4 2.4 0 1 0 4.8 0a2.4 2.4 0 1 0 -4.8 0zM351.6 942.5a2.4 2.4 0 1 0 4.8 0a2.4 2.4 0 1 0 -4.8 0zM352.6 940.9a2.4 2.4 0 1 0 4.8 0a2.4 2.4 0 1 0 -4.8 0zM353.6 940.6a2.4 2.4 0 1 0 4.8 0a2.4 2.4 0 1 0 -4.8 0zM354.5 940.7a2.4 2.4 0 1 0 4.8 0a2.4 2.4 0 1 0 -4.8 0zM355.5 939.1a2.4 2.4 0 1 0 4.8 0a2.4 2.4 0 1 0 -4.8 0zM356.4 938.2a2.4 2.4 0 1 0 4.8 0a2.4 2.4 0 1 0 -4.8 0zM357.4 938.4a2.4 2.4 0 1 0 4.8 0a2.4 2.4 0 1 0 -4.8 0zM358.4 939.1a2.4 2.4 0 1 0 4.8 0a2.4 2.4 0 1 0 -4.8 0zM359.3 937.6a2.4 2.4 0 1 0 4.8 0a2.4 2.4 0 1 0 -4.8 0zM360.3 938.1a2.4 2.4 0 1 0 4.8 0a2.4 2.4 0 1 0 -4.8 0zM361.2 936.0a2.4 2.4 0 1 0 4.8 0a2.4 2.4 0 1 0 -4.8 0zM362.2 935.2a2.4 2.4 0 1 0 4.8 0a2.4 2.4 0 1 0 -4.8 0zM363.2 933.6a2.4 2.4 0 1 0 4.8 0a2.4 2.4 0 1 0 -4.8 0zM364.1 933.7a2.4 2.4 0 1 0 4.8 0a2.4 2.4 0 1 0 -4.8 0zM365.1 934.8a2.4 2.4 0 1 0 4.8 0a2.4 2.4 0 1 0 -4.8 0zM366.1 933.2a2.4 2.4 0 1 0 4.8 0a2.4 2.4 0 1 0 -4.8 0zM367.0 932.9a2.4 2.4 0 1 0 4.8 0a2.4 2.4 0 1 0 -4.8 0zM368.0 932.2a2.4 2.4 0 1 0 4.8 0a2.4 2.4 0 1 0 -4.8 0zM368.9 930.9a2.4 2.4 0 1 0 4.8 0a2.4 2.4 0 1 0 -4.8 0zM369.9 930.1a2.4 2.4 0 1 0 4.8 0a2.4 2.4 0 1 0 -4.8 0zM370.9 929.7a2.4 2.4 0 1 0 4.8 0a2.4 2.4 0 1 0 -4.8 0zM371.8 929.6a2.4 2.4 0 1 0 4.8 0a2.4 2.4 0 1 0 -4.8 0zM372.8 928.7a2.4 2.4 0 1 0 4.8 0a2.4 2.4 0 1 0 -4.8 0zM373.8 928.1a2.4 2.4 0 1 0 4.8 0a2.4 2.4 0 1 0 -4.8 0zM374.7 927.1a2.4 2.4 0 1 0 4.8 0a2.4 2.4 0 1 0 -4.8 0zM375.7 925.7a2.4 2.4 0 1 0 4.8 0a2.4 2.4 0 1 0 -4.8 0zM376.6 925.5a2.4 2.4 0 1 0 4.8 0a2.4 2.4 0 1 0 -4.8 0zM377.6 924.2a2.4 2.4 0 1 0 4.8 0a2.4 2.4 0 1 0 -4.8 0zM378.6 925.3a2.4 2.4 0 1 0 4.8 0a2.4 2.4 0 1 0 -4.8 0zM379.5 921.9a2.4 2.4 0 1 0 4.8 0a2.4 2.4 0 1 0 -4.8 0zM380.5 922.9a2.4 2.4 0 1 0 4.8 0a2.4 2.4 0 1 0 -4.8 0zM381.4 924.6a2.4 2.4 0 1 0 4.8 0a2.4 2.4 0 1 0 -4.8 0zM382.4 921.5a2.4 2.4 0 1 0 4.8 0a2.4 2.4 0 1 0 -4.8 0zM383.4 920.2a2.4 2.4 0 1 0 4.8 0a2.4 2.4 0 1 0 -4.8 0zM384.3 920.6a2.4 2.4 0 1 0 4.8 0a2.4 2.4 0 1 0 -4.8 0zM385.3 921.1a2.4 2.4 0 1 0 4.8 0a2.4 2.4 0 1 0 -4.8 0zM386.3 919.2a2.4 2.4 0 1 0 4.8 0a2.4 2.4 0 1 0 -4.8 0zM387.2 919.3a2.4 2.4 0 1 0 4.8 0a2.4 2.4 0 1 0 -4.8 0zM388.2 918.2a2.4 2.4 0 1 0 4.8 0a2.4 2.4 0 1 0 -4.8 0zM389.1 917.2a2.4 2.4 0 1 0 4.8 0a2.4 2.4 0 1 0 -4.8 0zM390.1 919.8a2.4 2.4 0 1 0 4.8 0a2.4 2.4 0 1 0 -4.8 0zM391.1 916.4a2.4 2.4 0 1 0 4.8 0a2.4 2.4 0 1 0 -4.8 0zM392.0 915.3a2.4 2.4 0 1 0 4.8 0a2.4 2.4 0 1 0 -4.8 0zM393.0 914.8a2.4 2.4 0 1 0 4.8 0a2.4 2.4 0 1 0 -4.8 0zM394.0 915.0a2.4 2.4 0 1 0 4.8 0a2.4 2.4 0 1 0 -4.8 0zM394.9 914.5a2.4 2.4 0 1 0 4.8 0a2.4 2.4 0 1 0 -4.8 0zM395.9 914.3a2.4 2.4 0 1 0 4.8 0a2.4 2.4 0 1 0 -4.8 0zM396.8 913.2a2.4 2.4 0 1 0 4.8 0a2.4 2.4 0 1 0 -4.8 0zM397.8 911.2a2.4 2.4 0 1 0 4.8 0a2.4 2.4 0 1 0 -4.8 0zM398.8 912.5a2.4 2.4 0 1 0 4.8 0a2.4 2.4 0 1 0 -4.8 0zM399.7 911.2a2.4 2.4 0 1 0 4.8 0a2.4 2.4 0 1 0 -4.8 0zM400.7 910.7a2.4 2.4 0 1 0 4.8 0a2.4 2.4 0 1 0 -4.8 0zM401.6 909.2a2.4 2.4 0 1 0 4.8 0a2.4 2.4 0 1 0 -4.8 0zM402.6 909.5a2.4 2.4 0 1 0 4.8 0a2.4 2.4 0 1 0 -4.8 0zM403.6 908.9a2.4 2.4 0 1 0 4.8 0a2.4 2.4 0 1 0 -4.8 0zM404.5 909.1a2.4 2.4 0 1 0 4.8 0a2.4 2.4 0 1 0 -4.8 0zM405.5 907.4a2.4 2.4 0 1 0 4.8 0a2.4 2.4 0 1 0 -4.8 0zM406.5 908.3a2.4 2.4 0 1 0 4.8 0a2.4 2.4 0 1 0 -4.8 0zM407.4 907.9a2.4 2.4 0 1 0 4.8 0a2.4 2.4 0 1 0 -4.8 0zM408.4 906.4a2.4 2.4 0 1 0 4.8 0a2.4 2.4 0 1 0 -4.8 0zM409.3 906.5a2.4 2.4 0 1 0 4.8 0a2.4 2.4 0 1 0 -4.8 0zM410.3 905.9a2.4 2.4 0 1 0 4.8 0a2.4 2.4 0 1 0 -4.8 0zM411.3 907.1a2.4 2.4 0 1 0 4.8 0a2.4 2.4 0 1 0 -4.8 0zM412.2 903.6a2.4 2.4 0 1 0 4.8 0a2.4 2.4 0 1 0 -4.8 0zM413.2 905.3a2.4 2.4 0 1 0 4.8 0a2.4 2.4 0 1 0 -4.8 0zM414.2 903.7a2.4 2.4 0 1 0 4.8 0a2.4 2.4 0 1 0 -4.8 0zM415.1 904.5a2.4 2.4 0 1 0 4.8 0a2.4 2.4 0 1 0 -4.8 0zM416.1 905.4a2.4 2.4 0 1 0 4.8 0a2.4 2.4 0 1 0 -4.8 0zM417.0 903.8a2.4 2.4 0 1 0 4.8 0a2.4 2.4 0 1 0 -4.8 0zM418.0 904.2a2.4 2.4 0 1 0 4.8 0a2.4 2.4 0 1 0 -4.8 0zM419.0 903.1a2.4 2.4 0 1 0 4.8 0a2.4 2.4 0 1 0 -4.8 0zM419.9 905.3a2.4 2.4 0 1 0 4.8 0a2.4 2.4 0 1 0 -4.8 0zM420.9 904.2a2.4 2.4 0 1 0 4.8 0a2.4 2.4 0 1 0 -4.8 0zM421.8 904.2a2.4 2.4 0 1 0 4.8 0a2.4 2.4 0 1 0 -4.8 0zM422.8 901.8a2.4 2.4 0 1 0 4.8 0a2.4 2.4 0 1 0 -4.8 0zM423.8 901.8a2.4 2.4 0 1 0 4.8 0a2.4 2.4 0 1 0 -4.8 0zM424.7 903.6a2.4 2.4 0 1 0 4.8 0a2.4 2.4 0 1 0 -4.8 0zM425.7 902.3a2.4 2.4 0 1 0 4.8 0a2.4 2.4 0 1 0 -4.8 0zM426.7 902.1a2.4 2.4 0 1 0 4.8 0a2.4 2.4 0 1 0 -4.8 0zM427.6 902.5a2.4 2.4 0 1 0 4.8 0a2.4 2.4 0 1 0 -4.8 0zM428.6 901.0a2.4 2.4 0 1 0 4.8 0a2.4 2.4 0 1 0 -4.8 0zM429.5 902.8a2.4 2.4 0 1 0 4.8 0a2.4 2.4 0 1 0 -4.8 0zM430.5 902.0a2.4 2.4 0 1 0 4.8 0a2.4 2.4 0 1 0 -4.8 0zM431.5 902.4a2.4 2.4 0 1 0 4.8 0a2.4 2.4 0 1 0 -4.8 0zM432.4 901.3a2.4 2.4 0 1 0 4.8 0a2.4 2.4 0 1 0 -4.8 0zM433.4 902.4a2.4 2.4 0 1 0 4.8 0a2.4 2.4 0 1 0 -4.8 0zM434.3 901.3a2.4 2.4 0 1 0 4.8 0a2.4 2.4 0 1 0 -4.8 0zM435.3 902.8a2.4 2.4 0 1 0 4.8 0a2.4 2.4 0 1 0 -4.8 0zM436.3 903.1a2.4 2.4 0 1 0 4.8 0a2.4 2.4 0 1 0 -4.8 0zM437.2 903.1a2.4 2.4 0 1 0 4.8 0a2.4 2.4 0 1 0 -4.8 0zM438.2 903.0a2.4 2.4 0 1 0 4.8 0a2.4 2.4 0 1 0 -4.8 0zM439.2 903.4a2.4 2.4 0 1 0 4.8 0a2.4 2.4 0 1 0 -4.8 0zM440.1 900.8a2.4 2.4 0 1 0 4.8 0a2.4 2.4 0 1 0 -4.8 0zM441.1 904.4a2.4 2.4 0 1 0 4.8 0a2.4 2.4 0 1 0 -4.8 0zM442.0 903.9a2.4 2.4 0 1 0 4.8 0a2.4 2.4 0 1 0 -4.8 0zM443.0 904.8a2.4 2.4 0 1 0 4.8 0a2.4 2.4 0 1 0 -4.8 0zM444.0 905.1a2.4 2.4 0 1 0 4.8 0a2.4 2.4 0 1 0 -4.8 0zM444.9 904.8a2.4 2.4 0 1 0 4.8 0a2.4 2.4 0 1 0 -4.8 0zM445.9 906.3a2.4 2.4 0 1 0 4.8 0a2.4 2.4 0 1 0 -4.8 0zM446.9 908.1a2.4 2.4 0 1 0 4.8 0a2.4 2.4 0 1 0 -4.8 0zM447.8 909.7a2.4 2.4 0 1 0 4.8 0a2.4 2.4 0 1 0 -4.8 0zM448.8 908.7a2.4 2.4 0 1 0 4.8 0a2.4 2.4 0 1 0 -4.8 0zM449.7 909.4a2.4 2.4 0 1 0 4.8 0a2.4 2.4 0 1 0 -4.8 0zM450.7 912.5a2.4 2.4 0 1 0 4.8 0a2.4 2.4 0 1 0 -4.8 0zM451.7 911.5a2.4 2.4 0 1 0 4.8 0a2.4 2.4 0 1 0 -4.8 0zM452.6 915.2a2.4 2.4 0 1 0 4.8 0a2.4 2.4 0 1 0 -4.8 0zM453.6 914.5a2.4 2.4 0 1 0 4.8 0a2.4 2.4 0 1 0 -4.8 0zM454.5 914.8a2.4 2.4 0 1 0 4.8 0a2.4 2.4 0 1 0 -4.8 0zM455.5 917.6a2.4 2.4 0 1 0 4.8 0a2.4 2.4 0 1 0 -4.8 0zM456.5 919.5a2.4 2.4 0 1 0 4.8 0a2.4 2.4 0 1 0 -4.8 0zM457.4 917.9a2.4 2.4 0 1 0 4.8 0a2.4 2.4 0 1 0 -4.8 0zM458.4 921.8a2.4 2.4 0 1 0 4.8 0a2.4 2.4 0 1 0 -4.8 0zM459.4 921.5a2.4 2.4 0 1 0 4.8 0a2.4 2.4 0 1 0 -4.8 0zM460.3 924.3a2.4 2.4 0 1 0 4.8 0a2.4 2.4 0 1 0 -4.8 0zM461.3 924.0a2.4 2.4 0 1 0 4.8 0a2.4 2.4 0 1 0 -4.8 0zM462.2 924.2a2.4 2.4 0 1 0 4.8 0a2.4 2.4 0 1 0 -4.8 0zM463.2 927.4a2.4 2.4 0 1 0 4.8 0a2.4 2.4 0 1 0 -4.8 0zM464.2 929.1a2.4 2.4 0 1 0 4.8 0a2.4 2.4 0 1 0 -4.8 0zM465.1 931.5a2.4 2.4 0 1 0 4.8 0a2.4 2.4 0 1 0 -4.8 0zM466.1 932.5a2.4 2.4 0 1 0 4.8 0a2.4 2.4 0 1 0 -4.8 0zM467.1 933.0a2.4 2.4 0 1 0 4.8 0a2.4 2.4 0 1 0 -4.8 0zM468.0 933.5a2.4 2.4 0 1 0 4.8 0a2.4 2.4 0 1 0 -4.8 0zM469.0 934.5a2.4 2.4 0 1 0 4.8 0a2.4 2.4 0 1 0 -4.8 0zM469.9 936.1a2.4 2.4 0 1 0 4.8 0a2.4 2.4 0 1 0 -4.8 0zM470.9 936.9a2.4 2.4 0 1 0 4.8 0a2.4 2.4 0 1 0 -4.8 0zM471.9 938.7a2.4 2.4 0 1 0 4.8 0a2.4 2.4 0 1 0 -4.8 0zM472.8 938.0a2.4 2.4 0 1 0 4.8 0a2.4 2.4 0 1 0 -4.8 0zM473.8 941.7a2.4 2.4 0 1 0 4.8 0a2.4 2.4 0 1 0 -4.8 0zM474.7 942.8a2.4 2.4 0 1 0 4.8 0a2.4 2.4 0 1 0 -4.8 0zM475.7 946.4a2.4 2.4 0 1 0 4.8 0a2.4 2.4 0 1 0 -4.8 0zM476.7 945.9a2.4 2.4 0 1 0 4.8 0a2.4 2.4 0 1 0 -4.8 0zM477.6 946.0a2.4 2.4 0 1 0 4.8 0a2.4 2.4 0 1 0 -4.8 0zM478.6 948.2a2.4 2.4 0 1 0 4.8 0a2.4 2.4 0 1 0 -4.8 0zM479.6 947.7a2.4 2.4 0 1 0 4.8 0a2.4 2.4 0 1 0 -4.8 0zM480.5 949.4a2.4 2.4 0 1 0 4.8 0a2.4 2.4 0 1 0 -4.8 0zM481.5 949.3a2.4 2.4 0 1 0 4.8 0a2.4 2.4 0 1 0 -4.8 0zM482.4 953.4a2.4 2.4 0 1 0 4.8 0a2.4 2.4 0 1 0 -4.8 0zM483.4 953.7a2.4 2.4 0 1 0 4.8 0a2.4 2.4 0 1 0 -4.8 0zM484.4 953.1a2.4 2.4 0 1 0 4.8 0a2.4 2.4 0 1 0 -4.8 0zM485.3 955.1a2.4 2.4 0 1 0 4.8 0a2.4 2.4 0 1 0 -4.8 0zM486.3 957.0a2.4 2.4 0 1 0 4.8 0a2.4 2.4 0 1 0 -4.8 0zM487.3 957.5a2.4 2.4 0 1 0 4.8 0a2.4 2.4 0 1 0 -4.8 0zM488.2 958.3a2.4 2.4 0 1 0 4.8 0a2.4 2.4 0 1 0 -4.8 0zM489.2 958.1a2.4 2.4 0 1 0 4.8 0a2.4 2.4 0 1 0 -4.8 0zM490.1 959.1a2.4 2.4 0 1 0 4.8 0a2.4 2.4 0 1 0 -4.8 0zM491.1 960.6a2.4 2.4 0 1 0 4.8 0a2.4 2.4 0 1 0 -4.8 0zM492.1 962.1a2.4 2.4 0 1 0 4.8 0a2.4 2.4 0 1 0 -4.8 0zM493.0 961.3a2.4 2.4 0 1 0 4.8 0a2.4 2.4 0 1 0 -4.8 0zM494.0 961.7a2.4 2.4 0 1 0 4.8 0a2.4 2.4 0 1 0 -4.8 0zM494.9 964.5a2.4 2.4 0 1 0 4.8 0a2.4 2.4 0 1 0 -4.8 0zM495.9 963.3a2.4 2.4 0 1 0 4.8 0a2.4 2.4 0 1 0 -4.8 0zM496.9 965.7a2.4 2.4 0 1 0 4.8 0a2.4 2.4 0 1 0 -4.8 0zM497.8 965.6a2.4 2.4 0 1 0 4.8 0a2.4 2.4 0 1 0 -4.8 0zM498.8 966.7a2.4 2.4 0 1 0 4.8 0a2.4 2.4 0 1 0 -4.8 0zM499.8 968.1a2.4 2.4 0 1 0 4.8 0a2.4 2.4 0 1 0 -4.8 0zM500.7 967.6a2.4 2.4 0 1 0 4.8 0a2.4 2.4 0 1 0 -4.8 0zM501.7 968.2a2.4 2.4 0 1 0 4.8 0a2.4 2.4 0 1 0 -4.8 0zM502.6 967.2a2.4 2.4 0 1 0 4.8 0a2.4 2.4 0 1 0 -4.8 0zM503.6 967.8a2.4 2.4 0 1 0 4.8 0a2.4 2.4 0 1 0 -4.8 0zM504.6 969.5a2.4 2.4 0 1 0 4.8 0a2.4 2.4 0 1 0 -4.8 0zM505.5 970.7a2.4 2.4 0 1 0 4.8 0a2.4 2.4 0 1 0 -4.8 0zM506.5 971.0a2.4 2.4 0 1 0 4.8 0a2.4 2.4 0 1 0 -4.8 0zM507.4 972.2a2.4 2.4 0 1 0 4.8 0a2.4 2.4 0 1 0 -4.8 0zM508.4 970.7a2.4 2.4 0 1 0 4.8 0a2.4 2.4 0 1 0 -4.8 0zM509.4 970.9a2.4 2.4 0 1 0 4.8 0a2.4 2.4 0 1 0 -4.8 0zM510.3 972.0a2.4 2.4 0 1 0 4.8 0a2.4 2.4 0 1 0 -4.8 0zM511.3 971.4a2.4 2.4 0 1 0 4.8 0a2.4 2.4 0 1 0 -4.8 0zM512.3 971.6a2.4 2.4 0 1 0 4.8 0a2.4 2.4 0 1 0 -4.8 0zM513.2 971.0a2.4 2.4 0 1 0 4.8 0a2.4 2.4 0 1 0 -4.8 0zM514.2 973.0a2.4 2.4 0 1 0 4.8 0a2.4 2.4 0 1 0 -4.8 0zM515.1 971.4a2.4 2.4 0 1 0 4.8 0a2.4 2.4 0 1 0 -4.8 0zM516.1 973.1a2.4 2.4 0 1 0 4.8 0a2.4 2.4 0 1 0 -4.8 0zM517.1 971.5a2.4 2.4 0 1 0 4.8 0a2.4 2.4 0 1 0 -4.8 0zM518.0 974.0a2.4 2.4 0 1 0 4.8 0a2.4 2.4 0 1 0 -4.8 0zM519.0 972.2a2.4 2.4 0 1 0 4.8 0a2.4 2.4 0 1 0 -4.8 0zM520.0 974.1a2.4 2.4 0 1 0 4.8 0a2.4 2.4 0 1 0 -4.8 0zM520.9 972.1a2.4 2.4 0 1 0 4.8 0a2.4 2.4 0 1 0 -4.8 0zM521.9 973.2a2.4 2.4 0 1 0 4.8 0a2.4 2.4 0 1 0 -4.8 0zM522.8 974.8a2.4 2.4 0 1 0 4.8 0a2.4 2.4 0 1 0 -4.8 0zM523.8 973.2a2.4 2.4 0 1 0 4.8 0a2.4 2.4 0 1 0 -4.8 0zM524.8 974.1a2.4 2.4 0 1 0 4.8 0a2.4 2.4 0 1 0 -4.8 0zM525.7 973.7a2.4 2.4 0 1 0 4.8 0a2.4 2.4 0 1 0 -4.8 0zM526.7 972.1a2.4 2.4 0 1 0 4.8 0a2.4 2.4 0 1 0 -4.8 0zM527.6 974.6a2.4 2.4 0 1 0 4.8 0a2.4 2.4 0 1 0 -4.8 0zM528.6 974.8a2.4 2.4 0 1 0 4.8 0a2.4 2.4 0 1 0 -4.8 0zM529.6 973.5a2.4 2.4 0 1 0 4.8 0a2.4 2.4 0 1 0 -4.8 0zM530.5 975.1a2.4 2.4 0 1 0 4.8 0a2.4 2.4 0 1 0 -4.8 0zM531.5 973.9a2.4 2.4 0 1 0 4.8 0a2.4 2.4 0 1 0 -4.8 0zM532.5 973.8a2.4 2.4 0 1 0 4.8 0a2.4 2.4 0 1 0 -4.8 0zM533.4 974.8a2.4 2.4 0 1 0 4.8 0a2.4 2.4 0 1 0 -4.8 0zM534.4 974.2a2.4 2.4 0 1 0 4.8 0a2.4 2.4 0 1 0 -4.8 0zM535.3 976.9a2.4 2.4 0 1 0 4.8 0a2.4 2.4 0 1 0 -4.8 0zM536.3 973.5a2.4 2.4 0 1 0 4.8 0a2.4 2.4 0 1 0 -4.8 0zM537.3 975.6a2.4 2.4 0 1 0 4.8 0a2.4 2.4 0 1 0 -4.8 0zM538.2 975.9a2.4 2.4 0 1 0 4.8 0a2.4 2.4 0 1 0 -4.8 0zM539.2 973.3a2.4 2.4 0 1 0 4.8 0a2.4 2.4 0 1 0 -4.8 0zM540.2 973.5a2.4 2.4 0 1 0 4.8 0a2.4 2.4 0 1 0 -4.8 0zM541.1 975.6a2.4 2.4 0 1 0 4.8 0a2.4 2.4 0 1 0 -4.8 0zM542.1 974.7a2.4 2.4 0 1 0 4.8 0a2.4 2.4 0 1 0 -4.8 0zM543.0 975.5a2.4 2.4 0 1 0 4.8 0a2.4 2.4 0 1 0 -4.8 0zM544.0 976.2a2.4 2.4 0 1 0 4.8 0a2.4 2.4 0 1 0 -4.8 0zM545.0 974.9a2.4 2.4 0 1 0 4.8 0a2.4 2.4 0 1 0 -4.8 0zM545.9 974.3a2.4 2.4 0 1 0 4.8 0a2.4 2.4 0 1 0 -4.8 0zM546.9 972.8a2.4 2.4 0 1 0 4.8 0a2.4 2.4 0 1 0 -4.8 0zM547.8 975.5a2.4 2.4 0 1 0 4.8 0a2.4 2.4 0 1 0 -4.8 0zM548.8 974.5a2.4 2.4 0 1 0 4.8 0a2.4 2.4 0 1 0 -4.8 0zM549.8 975.6a2.4 2.4 0 1 0 4.8 0a2.4 2.4 0 1 0 -4.8 0zM550.7 975.5a2.4 2.4 0 1 0 4.8 0a2.4 2.4 0 1 0 -4.8 0zM551.7 974.1a2.4 2.4 0 1 0 4.8 0a2.4 2.4 0 1 0 -4.8 0zM552.7 976.9a2.4 2.4 0 1 0 4.8 0a2.4 2.4 0 1 0 -4.8 0zM553.6 976.4a2.4 2.4 0 1 0 4.8 0a2.4 2.4 0 1 0 -4.8 0zM554.6 976.2a2.4 2.4 0 1 0 4.8 0a2.4 2.4 0 1 0 -4.8 0zM555.5 974.3a2.4 2.4 0 1 0 4.8 0a2.4 2.4 0 1 0 -4.8 0zM556.5 975.0a2.4 2.4 0 1 0 4.8 0a2.4 2.4 0 1 0 -4.8 0zM557.5 974.9a2.4 2.4 0 1 0 4.8 0a2.4 2.4 0 1 0 -4.8 0zM558.4 975.1a2.4 2.4 0 1 0 4.8 0a2.4 2.4 0 1 0 -4.8 0zM559.4 974.4a2.4 2.4 0 1 0 4.8 0a2.4 2.4 0 1 0 -4.8 0zM560.4 975.9a2.4 2.4 0 1 0 4.8 0a2.4 2.4 0 1 0 -4.8 0zM561.3 975.7a2.4 2.4 0 1 0 4.8 0a2.4 2.4 0 1 0 -4.8 0zM562.3 975.8a2.4 2.4 0 1 0 4.8 0a2.4 2.4 0 1 0 -4.8 0zM563.2 975.0a2.4 2.4 0 1 0 4.8 0a2.4 2.4 0 1 0 -4.8 0zM564.2 976.7a2.4 2.4 0 1 0 4.8 0a2.4 2.4 0 1 0 -4.8 0zM565.2 975.7a2.4 2.4 0 1 0 4.8 0a2.4 2.4 0 1 0 -4.8 0zM566.1 973.1a2.4 2.4 0 1 0 4.8 0a2.4 2.4 0 1 0 -4.8 0zM567.1 974.9a2.4 2.4 0 1 0 4.8 0a2.4 2.4 0 1 0 -4.8 0zM568.0 975.5a2.4 2.4 0 1 0 4.8 0a2.4 2.4 0 1 0 -4.8 0zM569.0 976.4a2.4 2.4 0 1 0 4.8 0a2.4 2.4 0 1 0 -4.8 0zM570.0 975.3a2.4 2.4 0 1 0 4.8 0a2.4 2.4 0 1 0 -4.8 0zM570.9 975.3a2.4 2.4 0 1 0 4.8 0a2.4 2.4 0 1 0 -4.8 0zM571.9 975.0a2.4 2.4 0 1 0 4.8 0a2.4 2.4 0 1 0 -4.8 0zM572.9 976.2a2.4 2.4 0 1 0 4.8 0a2.4 2.4 0 1 0 -4.8 0zM573.8 975.2a2.4 2.4 0 1 0 4.8 0a2.4 2.4 0 1 0 -4.8 0zM574.8 975.0a2.4 2.4 0 1 0 4.8 0a2.4 2.4 0 1 0 -4.8 0zM575.7 974.9a2.4 2.4 0 1 0 4.8 0a2.4 2.4 0 1 0 -4.8 0zM576.7 976.1a2.4 2.4 0 1 0 4.8 0a2.4 2.4 0 1 0 -4.8 0zM577.7 975.1a2.4 2.4 0 1 0 4.8 0a2.4 2.4 0 1 0 -4.8 0zM578.6 974.1a2.4 2.4 0 1 0 4.8 0a2.4 2.4 0 1 0 -4.8 0zM579.6 976.2a2.4 2.4 0 1 0 4.8 0a2.4 2.4 0 1 0 -4.8 0zM580.5 975.0a2.4 2.4 0 1 0 4.8 0a2.4 2.4 0 1 0 -4.8 0zM581.5 976.0a2.4 2.4 0 1 0 4.8 0a2.4 2.4 0 1 0 -4.8 0zM582.5 976.0a2.4 2.4 0 1 0 4.8 0a2.4 2.4 0 1 0 -4.8 0zM583.4 976.7a2.4 2.4 0 1 0 4.8 0a2.4 2.4 0 1 0 -4.8 0zM584.4 976.6a2.4 2.4 0 1 0 4.8 0a2.4 2.4 0 1 0 -4.8 0zM585.4 975.1a2.4 2.4 0 1 0 4.8 0a2.4 2.4 0 1 0 -4.8 0zM586.3 975.5a2.4 2.4 0 1 0 4.8 0a2.4 2.4 0 1 0 -4.8 0zM587.3 974.5a2.4 2.4 0 1 0 4.8 0a2.4 2.4 0 1 0 -4.8 0zM588.2 977.2a2.4 2.4 0 1 0 4.8 0a2.4 2.4 0 1 0 -4.8 0zM589.2 976.1a2.4 2.4 0 1 0 4.8 0a2.4 2.4 0 1 0 -4.8 0zM590.2 977.0a2.4 2.4 0 1 0 4.8 0a2.4 2.4 0 1 0 -4.8 0zM591.1 975.4a2.4 2.4 0 1 0 4.8 0a2.4 2.4 0 1 0 -4.8 0zM592.1 973.9a2.4 2.4 0 1 0 4.8 0a2.4 2.4 0 1 0 -4.8 0zM593.1 977.1a2.4 2.4 0 1 0 4.8 0a2.4 2.4 0 1 0 -4.8 0zM594.0 975.8a2.4 2.4 0 1 0 4.8 0a2.4 2.4 0 1 0 -4.8 0zM595.0 975.8a2.4 2.4 0 1 0 4.8 0a2.4 2.4 0 1 0 -4.8 0zM595.9 975.8a2.4 2.4 0 1 0 4.8 0a2.4 2.4 0 1 0 -4.8 0zM596.9 976.3a2.4 2.4 0 1 0 4.8 0a2.4 2.4 0 1 0 -4.8 0zM597.9 976.2a2.4 2.4 0 1 0 4.8 0a2.4 2.4 0 1 0 -4.8 0zM598.8 974.3a2.4 2.4 0 1 0 4.8 0a2.4 2.4 0 1 0 -4.8 0zM599.8 976.7a2.4 2.4 0 1 0 4.8 0a2.4 2.4 0 1 0 -4.8 0zM600.7 975.3a2.4 2.4 0 1 0 4.8 0a2.4 2.4 0 1 0 -4.8 0zM601.7 975.4a2.4 2.4 0 1 0 4.8 0a2.4 2.4 0 1 0 -4.8 0zM602.7 977.3a2.4 2.4 0 1 0 4.8 0a2.4 2.4 0 1 0 -4.8 0zM603.6 976.6a2.4 2.4 0 1 0 4.8 0a2.4 2.4 0 1 0 -4.8 0zM604.6 975.5a2.4 2.4 0 1 0 4.8 0a2.4 2.4 0 1 0 -4.8 0zM605.6 974.1a2.4 2.4 0 1 0 4.8 0a2.4 2.4 0 1 0 -4.8 0zM606.5 976.0a2.4 2.4 0 1 0 4.8 0a2.4 2.4 0 1 0 -4.8 0zM607.5 976.3a2.4 2.4 0 1 0 4.8 0a2.4 2.4 0 1 0 -4.8 0zM608.4 975.8a2.4 2.4 0 1 0 4.8 0a2.4 2.4 0 1 0 -4.8 0zM609.4 974.7a2.4 2.4 0 1 0 4.8 0a2.4 2.4 0 1 0 -4.8 0zM610.4 975.1a2.4 2.4 0 1 0 4.8 0a2.4 2.4 0 1 0 -4.8 0zM611.3 974.7a2.4 2.4 0 1 0 4.8 0a2.4 2.4 0 1 0 -4.8 0zM612.3 976.0a2.4 2.4 0 1 0 4.8 0a2.4 2.4 0 1 0 -4.8 0zM613.3 976.6a2.4 2.4 0 1 0 4.8 0a2.4 2.4 0 1 0 -4.8 0zM614.2 976.8a2.4 2.4 0 1 0 4.8 0a2.4 2.4 0 1 0 -4.8 0zM615.2 975.2a2.4 2.4 0 1 0 4.8 0a2.4 2.4 0 1 0 -4.8 0zM616.1 976.1a2.4 2.4 0 1 0 4.8 0a2.4 2.4 0 1 0 -4.8 0zM617.1 976.4a2.4 2.4 0 1 0 4.8 0a2.4 2.4 0 1 0 -4.8 0zM618.1 975.4a2.4 2.4 0 1 0 4.8 0a2.4 2.4 0 1 0 -4.8 0zM619.0 975.8a2.4 2.4 0 1 0 4.8 0a2.4 2.4 0 1 0 -4.8 0zM620.0 977.8a2.4 2.4 0 1 0 4.8 0a2.4 2.4 0 1 0 -4.8 0zM620.9 976.1a2.4 2.4 0 1 0 4.8 0a2.4 2.4 0 1 0 -4.8 0zM621.9 976.7a2.4 2.4 0 1 0 4.8 0a2.4 2.4 0 1 0 -4.8 0zM622.9 975.5a2.4 2.4 0 1 0 4.8 0a2.4 2.4 0 1 0 -4.8 0zM623.8 976.0a2.4 2.4 0 1 0 4.8 0a2.4 2.4 0 1 0 -4.8 0zM624.8 974.4a2.4 2.4 0 1 0 4.8 0a2.4 2.4 0 1 0 -4.8 0zM625.8 975.9a2.4 2.4 0 1 0 4.8 0a2.4 2.4 0 1 0 -4.8 0zM626.7 977.0a2.4 2.4 0 1 0 4.8 0a2.4 2.4 0 1 0 -4.8 0zM627.7 977.8a2.4 2.4 0 1 0 4.8 0a2.4 2.4 0 1 0 -4.8 0zM628.6 977.0a2.4 2.4 0 1 0 4.8 0a2.4 2.4 0 1 0 -4.8 0zM629.6 976.6a2.4 2.4 0 1 0 4.8 0a2.4 2.4 0 1 0 -4.8 0zM630.6 976.0a2.4 2.4 0 1 0 4.8 0a2.4 2.4 0 1 0 -4.8 0zM631.5 975.4a2.4 2.4 0 1 0 4.8 0a2.4 2.4 0 1 0 -4.8 0zM632.5 975.8a2.4 2.4 0 1 0 4.8 0a2.4 2.4 0 1 0 -4.8 0zM633.5 976.6a2.4 2.4 0 1 0 4.8 0a2.4 2.4 0 1 0 -4.8 0zM634.4 975.3a2.4 2.4 0 1 0 4.8 0a2.4 2.4 0 1 0 -4.8 0zM635.4 976.9a2.4 2.4 0 1 0 4.8 0a2.4 2.4 0 1 0 -4.8 0zM636.3 975.1a2.4 2.4 0 1 0 4.8 0a2.4 2.4 0 1 0 -4.8 0zM637.3 974.4a2.4 2.4 0 1 0 4.8 0a2.4 2.4 0 1 0 -4.8 0zM638.3 975.1a2.4 2.4 0 1 0 4.8 0a2.4 2.4 0 1 0 -4.8 0zM639.2 974.5a2.4 2.4 0 1 0 4.8 0a2.4 2.4 0 1 0 -4.8 0zM640.2 974.8a2.4 2.4 0 1 0 4.8 0a2.4 2.4 0 1 0 -4.8 0zM641.1 977.1a2.4 2.4 0 1 0 4.8 0a2.4 2.4 0 1 0 -4.8 0zM642.1 975.9a2.4 2.4 0 1 0 4.8 0a2.4 2.4 0 1 0 -4.8 0zM643.1 976.3a2.4 2.4 0 1 0 4.8 0a2.4 2.4 0 1 0 -4.8 0zM644.0 977.1a2.4 2.4 0 1 0 4.8 0a2.4 2.4 0 1 0 -4.8 0zM645.0 977.2a2.4 2.4 0 1 0 4.8 0a2.4 2.4 0 1 0 -4.8 0zM646.0 975.6a2.4 2.4 0 1 0 4.8 0a2.4 2.4 0 1 0 -4.8 0zM646.9 977.3a2.4 2.4 0 1 0 4.8 0a2.4 2.4 0 1 0 -4.8 0zM647.9 976.4a2.4 2.4 0 1 0 4.8 0a2.4 2.4 0 1 0 -4.8 0zM648.8 976.1a2.4 2.4 0 1 0 4.8 0a2.4 2.4 0 1 0 -4.8 0zM649.8 976.5a2.4 2.4 0 1 0 4.8 0a2.4 2.4 0 1 0 -4.8 0zM650.8 974.8a2.4 2.4 0 1 0 4.8 0a2.4 2.4 0 1 0 -4.8 0zM651.7 975.4a2.4 2.4 0 1 0 4.8 0a2.4 2.4 0 1 0 -4.8 0zM652.7 976.0a2.4 2.4 0 1 0 4.8 0a2.4 2.4 0 1 0 -4.8 0zM653.6 976.7a2.4 2.4 0 1 0 4.8 0a2.4 2.4 0 1 0 -4.8 0zM654.6 975.8a2.4 2.4 0 1 0 4.8 0a2.4 2.4 0 1 0 -4.8 0zM655.6 976.0a2.4 2.4 0 1 0 4.8 0a2.4 2.4 0 1 0 -4.8 0zM656.5 977.0a2.4 2.4 0 1 0 4.8 0a2.4 2.4 0 1 0 -4.8 0zM657.5 977.4a2.4 2.4 0 1 0 4.8 0a2.4 2.4 0 1 0 -4.8 0zM658.5 976.9a2.4 2.4 0 1 0 4.8 0a2.4 2.4 0 1 0 -4.8 0zM659.4 977.3a2.4 2.4 0 1 0 4.8 0a2.4 2.4 0 1 0 -4.8 0zM660.4 975.8a2.4 2.4 0 1 0 4.8 0a2.4 2.4 0 1 0 -4.8 0zM661.3 975.9a2.4 2.4 0 1 0 4.8 0a2.4 2.4 0 1 0 -4.8 0zM662.3 976.5a2.4 2.4 0 1 0 4.8 0a2.4 2.4 0 1 0 -4.8 0zM663.3 975.9a2.4 2.4 0 1 0 4.8 0a2.4 2.4 0 1 0 -4.8 0zM664.2 975.8a2.4 2.4 0 1 0 4.8 0a2.4 2.4 0 1 0 -4.8 0zM665.2 977.7a2.4 2.4 0 1 0 4.8 0a2.4 2.4 0 1 0 -4.8 0zM666.2 976.0a2.4 2.4 0 1 0 4.8 0a2.4 2.4 0 1 0 -4.8 0zM667.1 975.4a2.4 2.4 0 1 0 4.8 0a2.4 2.4 0 1 0 -4.8 0zM668.1 976.7a2.4 2.4 0 1 0 4.8 0a2.4 2.4 0 1 0 -4.8 0zM669.0 977.9a2.4 2.4 0 1 0 4.8 0a2.4 2.4 0 1 0 -4.8 0zM670.0 976.3a2.4 2.4 0 1 0 4.8 0a2.4 2.4 0 1 0 -4.8 0zM671.0 977.4a2.4 2.4 0 1 0 4.8 0a2.4 2.4 0 1 0 -4.8 0zM671.9 975.9a2.4 2.4 0 1 0 4.8 0a2.4 2.4 0 1 0 -4.8 0zM672.9 975.8a2.4 2.4 0 1 0 4.8 0a2.4 2.4 0 1 0 -4.8 0zM673.8 975.7a2.4 2.4 0 1 0 4.8 0a2.4 2.4 0 1 0 -4.8 0zM674.8 976.2a2.4 2.4 0 1 0 4.8 0a2.4 2.4 0 1 0 -4.8 0zM675.8 978.0a2.4 2.4 0 1 0 4.8 0a2.4 2.4 0 1 0 -4.8 0zM676.7 975.3a2.4 2.4 0 1 0 4.8 0a2.4 2.4 0 1 0 -4.8 0zM677.7 977.8a2.4 2.4 0 1 0 4.8 0a2.4 2.4 0 1 0 -4.8 0zM678.7 975.4a2.4 2.4 0 1 0 4.8 0a2.4 2.4 0 1 0 -4.8 0zM679.6 976.1a2.4 2.4 0 1 0 4.8 0a2.4 2.4 0 1 0 -4.8 0zM680.6 977.1a2.4 2.4 0 1 0 4.8 0a2.4 2.4 0 1 0 -4.8 0zM681.5 976.9a2.4 2.4 0 1 0 4.8 0a2.4 2.4 0 1 0 -4.8 0zM682.5 976.6a2.4 2.4 0 1 0 4.8 0a2.4 2.4 0 1 0 -4.8 0zM683.5 974.9a2.4 2.4 0 1 0 4.8 0a2.4 2.4 0 1 0 -4.8 0zM684.4 976.7a2.4 2.4 0 1 0 4.8 0a2.4 2.4 0 1 0 -4.8 0zM685.4 975.4a2.4 2.4 0 1 0 4.8 0a2.4 2.4 0 1 0 -4.8 0zM686.4 978.7a2.4 2.4 0 1 0 4.8 0a2.4 2.4 0 1 0 -4.8 0zM687.3 976.2a2.4 2.4 0 1 0 4.8 0a2.4 2.4 0 1 0 -4.8 0zM688.3 976.6a2.4 2.4 0 1 0 4.8 0a2.4 2.4 0 1 0 -4.8 0zM689.2 975.4a2.4 2.4 0 1 0 4.8 0a2.4 2.4 0 1 0 -4.8 0zM690.2 976.0a2.4 2.4 0 1 0 4.8 0a2.4 2.4 0 1 0 -4.8 0z" fill="#800080"/>
<polyline points="67.4,970.8 68.4,972.9 69.3,971.8 70.3,972.5 71.2,971.4 72.2,971.6 73.2,973.2 74.1,971.2 75.1,970.4 76.1,972.4 77.0,971.0 78.0,971.7 78.9,972.9 79.9,971.4 80.9,972.9 81.8,971.5 82.8,973.4 83.8,973.3 84.7,971.7 85.7,971.9 86.6,971.4 87.6,972.3 88.6,973.2 89.5,970.9 90.5,973.0 91.4,971.0 92.4,971.4 93.4,970.6 94.3,974.1 95.3,972.2 96.3,972.4 97.2,971.6 98.2,973.2 99.1,970.3 100.1,972.3 101.1,974.2 102.0,971.9 103.0,972.3 104.0,972.9 104.9,971.5 105.9,972.3 106.8,973.1 107.8,972.5 108.8,972.6 109.7,972.0 110.7,972.6 111.6,972.4 112.6,973.6 113.6,973.0 114.5,972.1 115.5,970.1 116.5,973.0 117.4,973.0 118.4,971.5 119.3,970.6 120.3,971.3 121.3,973.2 122.2,971.4 123.2,972.0 124.1,972.6 125.1,973.5 126.1,972.4 127.0,972.3 128.0,971.9 129.0,973.9 129.9,973.4 130.9,972.4 131.8,971.2 132.8,971.7 133.8,973.0 134.7,971.8 135.7,973.3 136.7,972.8 137.6,972.8 138.6,973.1 139.5,973.0 140.5,971.7 141.5,972.2 142.4,974.6 143.4,971.4 144.3,972.1 145.3,973.5 146.3,972.4 147.2,971.8 148.2,971.4 149.2,973.1 150.1,973.5 151.1,973.8 152.0,972.6 153.0,973.5 154.0,971.7 154.9,972.8 155.9,972.0 156.9,972.8 157.8,973.3 158.8,973.6 159.7,971.8 160.7,973.8 161.7,972.2 162.6,971.7 163.6,972.5 164.5,971.4 165.5,972.7 166.5,973.0 167.4,972.5 168.4,973.2 169.4,972.4 170.3,972.7 171.3,971.4 172.2,972.8 173.2,972.0 174.2,972.3 175.1,972.7 176.1,972.9 177.1,971.3 178.0,971.4 179.0,972.5 179.9,973.2 180.9,973.1 181.9,973.6 182.8,974.0 183.8,973.3 184.7,972.8 185.7,971.9 186.7,972.0 187.6,972.4 188.6,973.1 189.6,973.1 190.5,972.9 191.5,972.7 192.4,973.4 193.4,973.1 194.4,973.2 195.3,973.2 196.3,972.4 197.2,972.0 198.2,973.4 199.2,973.3 200.1,972.7 201.1,972.6 202.1,975.0 203.0,972.3 204.0,972.8 204.9,973.2 205.9,971.9 206.9,973.1 207.8,974.6 208.8,973.8 209.8,973.6 210.7,973.5 211.7,973.1 212.6,973.9 213.6,972.9 214.6,972.6 215.5,973.1 216.5,973.8 217.4,973.3 218.4,973.6 219.4,971.2 220.3,974.1 221.3,975.2 222.3,974.3 223.2,972.8 224.2,972.3 225.1,973.3 226.1,972.2 227.1,973.7 228.0,972.6 229.0,973.9 230.0,974.3 230.9,971.3 231.9,973.4 232.8,972.5 233.8,971.8 234.8,972.5 235.7,972.9 236.7,974.0 237.6,971.7 238.6,974.0 239.6,974.9 240.5,973.6 241.5,973.6 242.5,973.1 243.4,972.0 244.4,973.6 245.3,973.4 246.3,973.8 247.3,975.4 248.2,973.8 249.2,973.5 250.2,974.5 251.1,971.9 252.1,972.1 253.0,972.7 254.0,972.5 255.0,973.7 255.9,972.8 256.9,974.6 257.8,974.4 258.8,973.7 259.8,972.7 260.7,973.6 261.7,973.7 262.7,972.0 263.6,973.3 264.6,973.6 265.5,973.2 266.5,974.4 267.5,974.0 268.4,972.2 269.4,973.0 270.3,972.1 271.3,973.4 272.3,972.1 273.2,973.7 274.2,973.2 275.2,973.7 276.1,972.6 277.1,971.4 278.0,974.3 279.0,972.5 280.0,973.9 280.9,973.0 281.9,973.2 282.9,974.2 283.8,972.8 284.8,973.8 285.7,971.1 286.7,973.2 287.7,972.2 288.6,972.2 289.6,972.3 290.5,972.5 291.5,973.7 292.5,970.5 293.4,972.1 294.4,971.4 295.4,973.0 296.3,971.5 297.3,972.3 298.2,971.4 299.2,972.3 300.2,972.6 301.1,971.2 302.1,971.6 303.1,970.2 304.0,971.6 305.0,972.0 305.9,970.7 306.9,972.1 307.9,969.1 308.8,969.3 309.8,969.6 310.7,970.3 311.7,970.6 312.7,970.5 313.6,970.4 314.6,971.0 315.6,969.8 316.5,968.9 317.5,968.8 318.4,971.7 319.4,967.6 320.4,969.4 321.3,970.7 322.3,969.7 323.3,968.4 324.2,969.0 325.2,969.6 326.1,969.8 327.1,967.7 328.1,969.1 329.0,968.4 330.0,969.0 330.9,969.1 331.9,967.4 332.9,966.2 333.8,967.7 334.8,968.7 335.8,967.5 336.7,966.9 337.7,968.7 338.6,965.4 339.6,966.9 340.6,965.4 341.5,965.7 342.5,965.5 343.4,966.6 344.4,964.1 345.4,964.3 346.3,963.1 347.3,964.7 348.3,963.6 349.2,964.1 350.2,962.5 351.1,962.9 352.1,963.9 353.1,962.5 354.0,962.9 355.0,962.6 356.0,961.5 356.9,960.1 357.9,962.1 358.8,961.1 359.8,961.5 360.8,958.5 361.7,958.5 362.7,957.8 363.6,958.6 364.6,960.0 365.6,959.2 366.5,958.4 367.5,958.2 368.5,958.4 369.4,957.1 370.4,957.4 371.3,956.8 372.3,954.4 373.3,955.6 374.2,956.9 375.2,954.9 376.2,954.8 377.1,954.0 378.1,953.8 379.0,954.8 380.0,953.2 381.0,952.2 381.9,949.9 382.9,951.8 383.8,950.2 384.8,950.0 385.8,951.9 386.7,951.5 387.7,948.7 388.7,950.9 389.6,950.1 390.6,948.6 391.5,949.6 392.5,947.1 393.5,947.1 394.4,946.5 395.4,946.5 396.4,947.9 397.3,945.5 398.3,945.3 399.2,945.1 400.2,945.8 401.2,944.9 402.1,945.7 403.1,943.9 404.0,943.0 405.0,943.4 406.0,943.5 406.9,942.3 407.9,943.0 408.9,944.1 409.8,941.6 410.8,941.8 411.7,942.7 412.7,940.5 413.7,940.0 414.6,939.5 415.6,940.6 416.6,940.4 417.5,939.5 418.5,939.4 419.4,940.2 420.4,939.5 421.4,937.2 422.3,938.2 423.3,938.1 424.2,938.4 425.2,937.3 426.2,936.7 427.1,936.6 428.1,935.2 429.1,936.6 430.0,935.9 431.0,936.6 431.9,935.1 432.9,935.5 433.9,934.8 434.8,934.6 435.8,936.0 436.7,934.8 437.7,935.5 438.7,934.0 439.6,934.9 440.6,933.2 441.6,934.2 442.5,934.1 443.5,935.0 444.4,934.6 445.4,934.2 446.4,935.1 447.3,934.5 448.3,934.8 449.3,935.0 450.2,934.2 451.2,934.0 452.1,934.6 453.1,934.0 454.1,934.8 455.0,935.6 456.0,935.6 456.9,934.7 457.9,934.1 458.9,935.5 459.8,935.7 460.8,937.1 461.8,936.2 462.7,936.7 463.7,938.0 464.6,937.4 465.6,938.1 466.6,940.3 467.5,940.7 468.5,940.4 469.5,940.7 470.4,940.2 471.4,942.2 472.3,942.3 473.3,943.1 474.3,943.1 475.2,944.3 476.2,944.8 477.1,945.9 478.1,947.6 479.1,947.4 480.0,946.3 481.0,947.7 482.0,947.8 482.9,949.3 483.9,951.2 484.8,951.8 485.8,951.6 486.8,953.1 487.7,952.9 488.7,953.1 489.7,953.8 490.6,955.0 491.6,957.7 492.5,955.9 493.5,958.9 494.5,959.7 495.4,959.0 496.4,959.7 497.3,959.8 498.3,961.0 499.3,962.2 500.2,962.2 501.2,963.7 502.2,964.4 503.1,964.2 504.1,964.7 505.0,964.9 506.0,965.7 507.0,964.9 507.9,966.7 508.9,967.0 509.8,966.5 510.8,969.6 511.8,967.2 512.7,967.7 513.7,969.1 514.7,967.4 515.6,968.8 516.6,968.5 517.5,969.3 518.5,970.3 519.5,971.0 520.4,972.0 521.4,972.0 522.4,972.6 523.3,972.3 524.3,971.6 525.2,973.2 526.2,972.0 527.2,972.0 528.1,974.1 529.1,973.7 530.0,973.3 531.0,973.9 532.0,974.2 532.9,972.3 533.9,973.6 534.9,972.7 535.8,974.0 536.8,973.4 537.7,975.3 538.7,974.7 539.7,973.6 540.6,974.4 541.6,973.4 542.6,974.6 543.5,975.1 544.5,974.9 545.4,973.0 546.4,974.5 547.4,975.3 548.3,975.2 549.3,976.0 550.2,973.8 551.2,975.5 552.2,974.5 553.1,975.3 554.1,975.5 555.1,975.8 556.0,974.6 557.0,975.4 557.9,974.2 558.9,974.0 559.9,975.8 560.8,975.2 561.8,973.8 562.8,974.6 563.7,975.4 564.7,976.8 565.6,976.3 566.6,976.1 567.6,973.8 568.5,975.3 569.5,975.9 570.4,975.8 571.4,975.8 572.4,975.3 573.3,977.1 574.3,976.8 575.3,975.4 576.2,974.6 577.2,977.4 578.1,975.0 579.1,976.6 580.1,977.3 581.0,974.7 582.0,975.8 582.9,975.3 583.9,976.0 584.9,975.9 585.8,977.3 586.8,976.1 587.8,975.6 588.7,976.6 589.7,975.4 590.6,975.3 591.6,977.6 592.6,974.9 593.5,975.2 594.5,975.7 595.5,974.7 596.4,973.8 597.4,976.6 598.3,975.0 599.3,975.2 600.3,975.4 601.2,974.8 602.2,974.7 603.1,975.9 604.1,977.9 605.1,976.4 606.0,976.4 607.0,974.4 608.0,975.7 608.9,974.7 609.9,976.5 610.8,975.6 611.8,975.8 612.8,975.7 613.7,975.3 614.7,974.4 615.7,976.3 616.6,974.6 617.6,974.8 618.5,975.6 619.5,975.2 620.5,976.1 621.4,976.8 622.4,976.1 623.3,976.0 624.3,975.9 625.3,976.6 626.2,974.2 627.2,976.2 628.2,975.1 629.1,974.8 630.1,975.9 631.0,975.6 632.0,976.4 633.0,976.9 633.9,973.8 634.9,975.9 635.9,977.7 636.8,976.7 637.8,977.3 638.7,976.1 639.7,974.7 640.7,975.0 641.6,976.6 642.6,976.9 643.5,975.3 644.5,975.8 645.5,976.3 646.4,974.4 647.4,975.7 648.4,977.5 649.3,978.0 650.3,976.0 651.2,977.7 652.2,975.6 653.2,975.3 654.1,974.1 655.1,976.9 656.0,975.8 657.0,978.2 658.0,976.4 658.9,976.3 659.9,974.5 660.9,977.5 661.8,975.8 662.8,976.0 663.7,974.2 664.7,977.0 665.7,977.0 666.6,975.6 667.6,976.3 668.6,976.5 669.5,977.1 670.5,976.3 671.4,977.8 672.4,976.0 673.4,975.7 674.3,975.8 675.3,973.9 676.2,975.5 677.2,977.1 678.2,976.5 679.1,975.5 680.1,976.6 681.1,974.5 682.0,976.0 683.0,976.8 683.9,976.9 684.9,975.6 685.9,977.1 686.8,978.0 687.8,975.9 688.8,977.0 689.7,974.9 690.7,974.6 691.6,976.9 692.6,976.4" fill="none" stroke="#800000" stroke-width="1.2" stroke-linejoin="round"/>
<path d="M65.0 970.8a2.4 2.4 0 1 0 4.8 0a2.4 2.4 0 1 0 -4.8 0zM66.0 972.9a2.4 2.4 0 1 0 4.8 0a2.4 2.4 0 1 0 -4.8 0zM66.9 971.8a2.4 2.4 0 1 0 4.8 0a2.4 2.4 0 1 0 -4.8 0zM67.9 972.5a2.4 2.4 0 1 0 4.8 0a2.4 2.4 0 1 0 -4.8 0zM68.8 971.4a2.4 2.4 0 1 0 4.8 0a2.4 2.4 0 1 0 -4.8 0zM69.8 971.6a2.4 2.4 0 1 0 4.8 0a2.4 2.4 0 1 0 -4.8 0zM70.8 973.2a2.4 2.4 0 1 0 4.8 0a2.4 2.4 0 1 0 -4.8 0zM71.7 971.2a2.4 2.4 0 1 0 4.8 0a2.4 2.4 0 1 0 -4.8 0zM72.7 970.4a2.4 2.4 0 1 0 4.8 0a2.4 2.4 0 1 0 -4.8 0zM73.7 972.4a2.4 2.4 0 1 0 4.8 0a2.4 2.4 0 1 0 -4.8 0zM74.6 971.0a2.4 2.4 0 1 0 4.8 0a2.4 2.4 0 1 0 -4.8 0zM75.6 971.7a2.4 2.4 0 1 0 4.8 0a2.4 2.4 0 1 0 -4.8 0zM76.5 972.9a2.4 2.4 0 1 0 4.8 0a2.4 2.4 0 1 0 -4.8 0zM77.5 971.4a2.4 2.4 0 1 0 4.8 0a2.4 2.4 0 1 0 -4.8 0zM78.5 972.9a2.4 2.4 0 1 0 4.8 0a2.4 2.4 0 1 0 -4.8 0zM79.4 971.5a2.4 2.4 0 1 0 4.8 0a2.4 2.4 0 1 0 -4.8 0zM80.4 973.4a2.4 2.4 0 1 0 4.8 0a2.4 2.4 0 1 0 -4.8 0zM81.4 973.3a2.4 2.4 0 1 0 4.8 0a2.4 2.4 0 1 0 -4.8 0zM82.3 971.7a2.4 2.4 0 1 0 4.8 0a2.4 2.4 0 1 0 -4.8 0zM83.3 971.9a2.4 2.4 0 1 0 4.8 0a2.4 2.4 0 1 0 -4.8 0zM84.2 971.4a2.4 2.4 0 1 0 4.8 0a2.4 2.4 0 1 0 -4.8 0zM85.2 972.3a2.4 2.4 0 1 0 4.8 0a2.4 2.4 0 1 0 -4.8 0zM86.2 973.2a2.4 2.4 0 1 0 4.8 0a2.4 2.4 0 1 0 -4.8 0zM87.1 970.9a2.4 2.4 0 1 0 4.8 0a2.4 2.4 0 1 0 -4.8 0zM88.1 973.0a2.4 2.4 0 1 0 4.8 0a2.4 2.4 0 1 0 -4.8 0zM89.0 971.0a2.4 2.4 0 1 0 4.8 0a2.4 2.4 0 1 0 -4.8 0zM90.0 971.4a2.4 2.4 0 1 0 4.8 0a2.4 2.4 0 1 0 -4.8 0zM91.0 970.6a2.4 2.4 0 1 0 4.8 0a2.4 2.4 0 1 0 -4.8 0zM91.9 974.1a2.4 2.4 0 1 0 4.8 0a2.4 2.4 0 1 0 -4.8 0zM92.9 972.2a2.4 2.4 0 1 0 4.8 0a2.4 2.4 0 1 0 -4.8 0zM93.9 972.4a2.4 2.4 0 1 0 4.8 0a2.4 2.4 0 1 0 -4.8 0zM94.8 971.6a2.4 2.4 0 1 0 4.8 0a2.4 2.4 0 1 0 -4.8 0zM95.8 973.2a2.4 2.4 0 1 0 4.8 0a2.4 2.4 0 1 0 -4.8 0zM96.7 970.3a2.4 2.4 0 1 0 4.8 0a2.4 2.4 0 1 0 -4.8 0zM97.7 972.3a2.4 2.4 0 1 0 4.8 0a2.4 2.4 0 1 0 -4.8 0zM98.7 974.2a2.4 2.4 0 1 0 4.8 0a2.4 2.4 0 1 0 -4.8 0zM99.6 971.9a2.4 2.4 0 1 0 4.8 0a2.4 2.4 0 1 0 -4.8 0zM100.6 972.3a2.4 2.4 0 1 0 4.8 0a2.4 2.4 0 1 0 -4.8 0zM101.6 972.9a2.4 2.4 0 1 0 4.8 0a2.4 2.4 0 1 0 -4.8 0zM102.5 971.5a2.4 2.4 0 1 0 4.8 0a2.4 2.4 0 1 0 -4.8 0zM103.5 972.3a2.4 2.4 0 1 0 4.8 0a2.4 2.4 0 1 0 -4.8 0zM104.4 973.1a2.4 2.4 0 1 0 4.8 0a2.4 2.4 0 1 0 -4.8 0zM105.4 972.5a2.4 2.4 0 1 0 4.8 0a2.4 2.4 0 1 0 -4.8 0zM106.4 972.6a2.4 2.4 0 1 0 4.8 0a2.4 2.4 0 1 0 -4.8 0zM107.3 972.0a2.4 2.4 0 1 0 4.8 0a2.4 2.4 0 1 0 -4.8 0zM108.3 972.6a2.4 2.4 0 1 0 4.8 0a2.4 2.4 0 1 0 -4.8 0zM109.2 972.4a2.4 2.4 0 1 0 4.8 0a2.4 2.4 0 1 0 -4.8 0zM110.2 973.6a2.4 2.4 0 1 0 4.8 0a2.4 2.4 0 1 0 -4.8 0zM111.2 973.0a2.4 2.4 0 1 0 4.8 0a2.4 2.4 0 1 0 -4.8 0zM112.1 972.1a2.4 2.4 0 1 0 4.8 0a2.4 2.4 0 1 0 -4.8 0zM113.1 970.1a2.4 2.4 0 1 0 4.8 0a2.4 2.4 0 1 0 -4.8 0zM114.1 973.0a2.4 2.4 0 1 0 4.8 0a2.4 2.4 0 1 0 -4.8 0zM115.0 973.0a2.4 2.4 0 1 0 4.8 0a2.4 2.4 0 1 0 -4.8 0zM116.0 971.5a2.4 2.4 0 1 0 4.8 0a2.4 2.4 0 1 0 -4.8 0zM116.9 970.6a2.4 2.4 0 1 0 4.8 0a2.4 2.4 0 1 0 -4.8 0zM117.9 971.3a2.4 2.4 0 1 0 4.8 0a2.4 2.4 0 1 0 -4.8 0zM118.9 973.2a2.4 2.4 0 1 0 4.8 0a2.4 2.4 0 1 0 -4.8 0zM119.8 971.4a2.4 2.4 0 1 0 4.8 0a2.4 2.4 0 1 0 -4.8 0zM120.8 972.0a2.4 2.4 0 1 0 4.8 0a2.4 2.4 0 1 0 -4.8 0zM121.7 972.6a2.4 2.4 0 1 0 4.8 0a2.4 2.4 0 1 0 -4.8 0zM122.7 973.5a2.4 2.4 0 1 0 4.8 0a2.4 2.4 0 1 0 -4.8 0zM123.7 972.4a2.4 2.4 0 1 0 4.8 0a2.4 2.4 0 1 0 -4.8 0zM124.6 972.3a2.4 2.4 0 1 0 4.8 0a2.4 2.4 0 1 0 -4.8 0zM125.6 971.9a2.4 2.4 0 1 0 4.8 0a2.4 2.4 0 1 0 -4.8 0zM126.6 973.9a2.4 2.4 0 1 0 4.8 0a2.4 2.4 0 1 0 -4.8 0zM127.5 973.4a2.4 2.4 0 1 0 4.8 0a2.4 2.4 0 1 0 -4.8 0zM128.5 972.4a2.4 2.4 0 1 0 4.8 0a2.4 2.4 0 1 0 -4.8 0zM129.4 971.2a2.4 2.4 0 1 0 4.8 0a2.4 2.4 0 1 0 -4.8 0zM130.4 971.7a2.4 2.4 0 1 0 4.8 0a2.4 2.4 0 1 0 -4.8 0zM131.4 973.0a2.4 2.4 0 1 0 4.8 0a2.4 2.4 0 1 0 -4.8 0zM132.3 971.8a2.4 2.4 0 1 0 4.8 0a2.4 2.4 0 1 0 -4.8 0zM133.3 973.3a2.4 2.4 0 1 0 4.8 0a2.4 2.4 0 1 0 -4.8 0zM134.3 972.8a2.4 2.4 0 1 0 4.8 0a2.4 2.4 0 1 0 -4.8 0zM135.2 972.8a2.4 2.4 0 1 0 4.8 0a2.4 2.4 0 1 0 -4.8 0zM136.2 973.1a2.4 2.4 0 1 0 4.8 0a2.4 2.4 0 1 0 -4.8 0zM137.1 973.0a2.4 2.4 0 1 0 4.8 0a2.4 2.4 0 1 0 -4.8 0zM138.1 971.7a2.4 2.4 0 1 0 4.8 0a2.4 2.4 0 1 0 -4.8 0zM139.1 972.2a2.4 2.4 0 1 0 4.8 0a2.4 2.4 0 1 0 -4.8 0zM140.0 974.6a2.4 2.4 0 1 0 4.8 0a2.4 2.4 0 1 0 -4.8 0zM141.0 971.4a2.4 2.4 0 1 0 4.8 0a2.4 2.4 0 1 0 -4.8 0zM141.9 972.1a2.4 2.4 0 1 0 4.8 0a2.4 2.4 0 1 0 -4.8 0zM142.9 973.5a2.4 2.4 0 1 0 4.8 0a2.4 2.4 0 1 0 -4.8 0zM143.9 972.4a2.4 2.4 0 1 0 4.8 0a2.4 2.4 0 1 0 -4.8 0zM144.8 971.8a2.4 2.4 0 1 0 4.8 0a2.4 2.4 0 1 0 -4.8 0zM145.8 971.4a2.4 2.4 0 1 0 4.8 0a2.4 2.4 0 1 0 -4.8 0zM146.8 973.1a2.4 2.4 0 1 0 4.8 0a2.4 2.4 0 1 0 -4.8 0zM147.7 973.5a2.4 2.4 0 1 0 4.8 0a2.4 2.4 0 1 0 -4.8 0zM148.7 973.8a2.4 2.4 0 1 0 4.8 0a2.4 2.4 0 1 0 -4.8 0zM149.6 972.6a2.4 2.4 0 1 0 4.8 0a2.4 2.4 0 1 0 -4.8 0zM150.6 973.5a2.4 2.4 0 1 0 4.8 0a2.4 2.4 0 1 0 -4.8 0zM151.6 971.7a2.4 2.4 0 1 0 4.8 0a2.4 2.4 0 1 0 -4.8 0zM152.5 972.8a2.4 2.4 0 1 0 4.8 0a2.4 2.4 0 1 0 -4.8 0zM153.5 972.0a2.4 2.4 0 1 0 4.8 0a2.4 2.4 0 1 0 -4.8 0zM154.5 972.8a2.4 2.4 0 1 0 4.8 0a2.4 2.4 0 1 0 -4.8 0zM155.4 973.3a2.4 2.4 0 1 0 4.8 0a2.4 2.4 0 1 0 -4.8 0zM156.4 973.6a2.4 2.4 0 1 0 4.8 0a2.4 2.4 0 1 0 -4.8 0zM157.3 971.8a2.4 2.4 0 1 0 4.8 0a2.4 2.4 0 1 0 -4.8 0zM158.3 973.8a2.4 2.4 0 1 0 4.8 0a2.4 2.4 0 1 0 -4.8 0zM159.3 972.2a2.4 2.4 0 1 0 4.8 0a2.4 2.4 0 1 0 -4.8 0zM160.2 971.7a2.4 2.4 0 1 0 4.8 0a2.4 2.4 0 1 0 -4.8 0zM161.2 972.5a2.4 2.4 0 1 0 4.8 0a2.4 2.4 0 1 0 -4.8 0zM162.1 971.4a2.4 2.4 0 1 0 4.8 0a2.4 2.4 0 1 0 -4.8 0zM163.1 972.7a2.4 2.4 0 1 0 4.8 0a2.4 2.4 0 1 0 -4.8 0zM164.1 973.0a2.4 2.4 0 1 0 4.8 0a2.4 2.4 0 1 0 -4.8 0zM165.0 972.5a2.4 2.4 0 1 0 4.8 0a2.4 2.4 0 1 0 -4.8 0zM166.0 973.2a2.4 2.4 0 1 0 4.8 0a2.4 2.4 0 1 0 -4.8 0zM167.0 972.4a2.4 2.4 0 1 0 4.8 0a2.4 2.4 0 1 0 -4.8 0zM167.9 972.7a2.4 2.4 0 1 0 4.8 0a2.4 2.4 0 1 0 -4.8 0zM168.9 971.4a2.4 2.4 0 1 0 4.8 0a2.4 2.4 0 1 0 -4.8 0zM169.8 972.8a2.4 2.4 0 1 0 4.8 0a2.4 2.4 0 1 0 -4.8 0zM170.8 972.0a2.4 2.4 0 1 0 4.8 0a2.4 2.4 0 1 0 -4.8 0zM171.8 972.3a2.4 2.4 0 1 0 4.8 0a2.4 2.4 0 1 0 -4.8 0zM172.7 972.7a2.4 2.4 0 1 0 4.8 0a2.4 2.4 0 1 0 -4.8 0zM173.7 972.9a2.4 2.4 0 1 0 4.8 0a2.4 2.4 0 1 0 -4.8 0zM174.7 971.3a2.4 2.4 0 1 0 4.8 0a2.4 2.4 0 1 0 -4.8 0zM175.6 971.4a2.4 2.4 0 1 0 4.8 0a2.4 2.4 0 1 0 -4.8 0zM176.6 972.5a2.4 2.4 0 1 0 4.8 0a2.4 2.4 0 1 0 -4.8 0zM177.5 973.2a2.4 2.4 0 1 0 4.8 0a2.4 2.4 0 1 0 -4.8 0zM178.5 973.1a2.4 2.4 0 1 0 4.8 0a2.4 2.4 0 1 0 -4.8 0zM179.5 973.6a2.4 2.4 0 1 0 4.8 0a2.4 2.4 0 1 0 -4.8 0zM180.4 974.0a2.4 2.4 0 1 0 4.8 0a2.4 2.4 0 1 0 -4.8 0zM181.4 973.3a2.4 2.4 0 1 0 4.8 0a2.4 2.4 0 1 0 -4.8 0zM182.3 972.8a2.4 2.4 0 1 0 4.8 0a2.4 2.4 0 1 0 -4.8 0zM183.3 971.9a2.4 2.4 0 1 0 4.8 0a2.4 2.4 0 1 0 -4.8 0zM184.3 972.0a2.4 2.4 0 1 0 4.8 0a2.4 2.4 0 1 0 -4.8 0zM185.2 972.4a2.4 2.4 0 1 0 4.8 0a2.4 2.4 0 1 0 -4.8 0zM186.2 973.1a2.4 2.4 0 1 0 4.8 0a2.4 2.4 0 1 0 -4.8 0zM187.2 973.1a2.4 2.4 0 1 0 4.8 0a2.4 2.4 0 1 0 -4.8 0zM188.1 972.9a2.4 2.4 0 1 0 4.8 0a2.4 2.4 0 1 0 -4.8 0zM189.1 972.7a2.4 2.4 0 1 0 4.8 0a2.4 2.4 0 1 0 -4.8 0zM190.0 973.4a2.4 2.4 0 1 0 4.8 0a2.4 2.4 0 1 0 -4.8 0zM191.0 973.1a2.4 2.4 0 1 0 4.8 0a2.4 2.4 0 1 0 -4.8 0zM192.0 973.2a2.4 2.4 0 1 0 4.8 0a2.4 2.4 0 1 0 -4.8 0zM192.9 973.2a2.4 2.4 0 1 0 4.8 0a2.4 2.4 0 1 0 -4.8 0zM193.9 972.4a2.4 2.4 0 1 0 4.8 0a2.4 2.4 0 1 0 -4.8 0zM194.8 972.0a2.4 2.4 0 1 0 4.8 0a2.4 2.4 0 1 0 -4.8 0zM195.8 973.4a2.4 2.4 0 1 0 4.8 0a2.4 2.4 0 1 0 -4.8 0zM196.8 973.3a2.4 2.4 0 1 0 4.8 0a2.4 2.4 0 1 0 -4.8 0zM197.7 972.7a2.4 2.4 0 1 0 4.8 0a2.4 2.4 0 1 0 -4.8 0zM198.7 972.6a2.4 2.4 0 1 0 4.8 0a2.4 2.4 0 1 0 -4.8 0zM199.7 975.0a2.4 2.4 0 1 0 4.8 0a2.4 2.4 0 1 0 -4.8 0zM200.6 972.3a2.4 2.4 0 1 0 4.8 0a2.4 2.4 0 1 0 -4.8 0zM201.6 972.8a2.4 2.4 0 1 0 4.8 0a2.4 2.4 0 1 0 -4.8 0zM202.5 973.2a2.4 2.4 0 1 0 4.8 0a2.4 2.4 0 1 0 -4.8 0zM203.5 971.9a2.4 2.4 0 1 0 4.8 0a2.4 2.4 0 1 0 -4.8 0zM204.5 973.1a2.4 2.4 0 1 0 4.8 0a2.4 2.4 0 1 0 -4.8 0zM205.4 974.6a2.4 2.4 0 1 0 4.8 0a2.4 2.4 0 1 0 -4.8 0zM206.4 973.8a2.4 2.4 0 1 0 4.8 0a2.4 2.4 0 1 0 -4.8 0zM207.4 973.6a2.4 2.4 0 1 0 4.8 0a2.4 2.4 0 1 0 -4.8 0zM208.3 973.5a2.4 2.4 0 1 0 4.8 0a2.4 2.4 0 1 0 -4.8 0zM209.3 973.1a2.4 2.4 0 1 0 4.8 0a2.4 2.4 0 1 0 -4.8 0zM210.2 973.9a2.4 2.4 0 1 0 4.8 0a2.4 2.4 0 1 0 -4.8 0zM211.2 972.9a2.4 2.4 0 1 0 4.8 0a2.4 2.4 0 1 0 -4.8 0zM212.2 972.6a2.4 2.4 0 1 0 4.8 0a2.4 2.4 0 1 0 -4.8 0zM213.1 973.1a2.4 2.4 0 1 0 4.8 0a2.4 2.4 0 1 0 -4.8 0zM214.1 973.8a2.4 2.4 0 1 0 4.8 0a2.4 2.4 0 1 0 -4.8 0zM215.0 973.3a2.4 2.4 0 1 0 4.8 0a2.4 2.4 0 1 0 -4.8 0zM216.0 973.6a2.4 2.4 0 1 0 4.8 0a2.4 2.4 0 1 0 -4.8 0zM217.0 971.2a2.4 2.4 0 1 0 4.8 0a2.4 2.4 0 1 0 -4.8 0zM217.9 974.1a2.4 2.4 0 1 0 4.8 0a2.4 2.4 0 1 0 -4.8 0zM218.9 975.2a2.4 2.4 0 1 0 4.8 0a2.4 2.4 0 1 0 -4.8 0zM219.9 974.3a2.4 2.4 0 1 0 4.8 0a2.4 2.4 0 1 0 -4.8 0zM220.8 972.8a2.4 2.4 0 1 0 4.8 0a2.4 2.4 0 1 0 -4.8 0zM221.8 972.3a2.4 2.4 0 1 0 4.8 0a2.4 2.4 0 1 0 -4.8 0zM222.7 973.3a2.4 2.4 0 1 0 4.8 0a2.4 2.4 0 1 0 -4.8 0zM223.7 972.2a2.4 2.4 0 1 0 4.8 0a2.4 2.4 0 1 0 -4.8 0zM224.7 973.7a2.4 2.4 0 1 0 4.8 0a2.4 2.4 0 1 0 -4.8 0zM225.6 972.6a2.4 2.4 0 1 0 4.8 0a2.4 2.4 0 1 0 -4.8 0zM226.6 973.9a2.4 2.4 0 1 0 4.8 0a2.4 2.4 0 1 0 -4.8 0zM227.6 974.3a2.4 2.4 0 1 0 4.8 0a2.4 2.4 0 1 0 -4.8 0zM228.5 971.3a2.4 2.4 0 1 0 4.8 0a2.4 2.4 0 1 0 -4.8 0zM229.5 973.4a2.4 2.4 0 1 0 4.8 0a2.4 2.4 0 1 0 -4.8 0zM230.4 972.5a2.4 2.4 0 1 0 4.8 0a2.4 2.4 0 1 0 -4.8 0zM231.4 971.8a2.4 2.4 0 1 0 4.8 0a2.4 2.4 0 1 0 -4.8 0zM232.4 972.5a2.4 2.4 0 1 0 4.8 0a2.4 2.4 0 1 0 -4.8 0zM233.3 972.9a2.4 2.4 0 1 0 4.8 0a2.4 2.4 0 1 0 -4.8 0zM234.3 974.0a2.4 2.4 0 1 0 4.8 0a2.4 2.4 0 1 0 -4.8 0zM235.2 971.7a2.4 2.4 0 1 0 4.8 0a2.4 2.4 0 1 0 -4.8 0zM236.2 974.0a2.4 2.4 0 1 0 4.8 0a2.4 2.4 0 1 0 -4.8 0zM237.2 974.9a2.4 2.4 0 1 0 4.8 0a2.4 2.4 0 1 0 -4.8 0zM238.1 973.6a2.4 2.4 0 1 0 4.8 0a2.4 2.4 0 1 0 -4.8 0zM239.1 973.6a2.4 2.4 0 1 0 4.8 0a2.4 2.4 0 1 0 -4.8 0zM240.1 973.1a2.4 2.4 0 1 0 4.8 0a2.4 2.4 0 1 0 -4.8 0zM241.0 972.0a2.4 2.4 0 1 0 4.8 0a2.4 2.4 0 1 0 -4.8 0zM242.0 973.6a2.4 2.4 0 1 0 4.8 0a2.4 2.4 0 1 0 -4.8 0zM242.9 973.4a2.4 2.4 0 1 0 4.8 0a2.4 2.4 0 1 0 -4.8 0zM243.9 973.8a2.4 2.4 0 1 0 4.8 0a2.4 2.4 0 1 0 -4.8 0zM244.9 975.4a2.4 2.4 0 1 0 4.8 0a2.4 2.4 0 1 0 -4.8 0zM245.8 973.8a2.4 2.4 0 1 0 4.8 0a2.4 2.4 0 1 0 -4.8 0zM246.8 973.5a2.4 2.4 0 1 0 4.8 0a2.4 2.4 0 1 0 -4.8 0zM247.8 974.5a2.4 2.4 0 1 0 4.8 0a2.4 2.4 0 1 0 -4.8 0zM248.7 971.9a2.4 2.4 0 1 0 4.8 0a2.4 2.4 0 1 0 -4.8 0zM249.7 972.1a2.4 2.4 0 1 0 4.8 0a2.4 2.4 0 1 0 -4.8 0zM250.6 972.7a2.4 2.4 0 1 0 4.8 0a2.4 2.4 0 1 0 -4.8 0zM251.6 972.5a2.4 2.4 0 1 0 4.8 0a2.4 2.4 0 1 0 -4.8 0zM252.6 973.7a2.4 2.4 0 1 0 4.8 0a2.4 2.4 0 1 0 -4.8 0zM253.5 972.8a2.4 2.4 0 1 0 4.8 0a2.4 2.4 0 1 0 -4.8 0zM254.5 974.6a2.4 2.4 0 1 0 4.8 0a2.4 2.4 0 1 0 -4.8 0zM255.4 974.4a2.4 2.4 0 1 0 4.8 0a2.4 2.4 0 1 0 -4.8 0zM256.4 973.7a2.4 2.4 0 1 0 4.8 0a2.4 2.4 0 1 0 -4.8 0zM257.4 972.7a2.4 2.4 0 1 0 4.8 0a2.4 2.4 0 1 0 -4.8 0zM258.3 973.6a2.4 2.4 0 1 0 4.8 0a2.4 2.4 0 1 0 -4.8 0zM259.3 973.7a2.4 2.4 0 1 0 4.8 0a2.4 2.4 0 1 0 -4.8 0zM260.3 972.0a2.4 2.4 0 1 0 4.8 0a2.4 2.4 0 1 0 -4.8 0zM261.2 973.3a2.4 2.4 0 1 0 4.8 0a2.4 2.4 0 1 0 -4.8 0zM262.2 973.6a2.4 2.4 0 1 0 4.8 0a2.4 2.4 0 1 0 -4.8 0zM263.1 973.2a2.4 2.4 0 1 0 4.8 0a2.4 2.4 0 1 0 -4.8 0zM264.1 974.4a2.4 2.4 0 1 0 4.8 0a2.4 2.4 0 1 0 -4.8 0zM265.1 974.0a2.4 2.4 0 1 0 4.8 0a2.4 2.4 0 1 0 -4.8 0zM266.0 972.2a2.4 2.4 0 1 0 4.8 0a2.4 2.4 0 1 0 -4.8 0zM267.0 973.0a2.4 2.4 0 1 0 4.8 0a2.4 2.4 0 1 0 -4.8 0zM267.9 972.1a2.4 2.4 0 1 0 4.8 0a2.4 2.4 0 1 0 -4.8 0zM268.9 973.4a2.4 2.4 0 1 0 4.8 0a2.4 2.4 0 1 0 -4.8 0zM269.9 972.1a2.4 2.4 0 1 0 4.8 0a2.4 2.4 0 1 0 -4.8 0zM270.8 973.7a2.4 2.4 0 1 0 4.8 0a2.4 2.4 0 1 0 -4.8 0zM271.8 973.2a2.4 2.4 0 1 0 4.8 0a2.4 2.4 0 1 0 -4.8 0zM272.8 973.7a2.4 2.4 0 1 0 4.8 0a2.4 2.4 0 1 0 -4.8 0zM273.7 972.6a2.4 2.4 0 1 0 4.8 0a2.4 2.4 0 1 0 -4.8 0zM274.7 971.4a2.4 2.4 0 1 0 4.8 0a2.4 2.4 0 1 0 -4.8 0zM275.6 974.3a2.4 2.4 0 1 0 4.8 0a2.4 2.4 0 1 0 -4.8 0zM276.6 972.5a2.4 2.4 0 1 0 4.8 0a2.4 2.4 0 1 0 -4.8 0zM277.6 973.9a2.4 2.4 0 1 0 4.8 0a2.4 2.4 0 1 0 -4.8 0zM278.5 973.0a2.4 2.4 0 1 0 4.8 0a2.4 2.4 0 1 0 -4.8 0zM279.5 973.2a2.4 2.4 0 1 0 4.8 0a2.4 2.4 0 1 0 -4.8 0zM280.5 974.2a2.4 2.4 0 1 0 4.8 0a2.4 2.4 0 1 0 -4.8 0zM281.4 972.8a2.4 2.4 0 1 0 4.8 0a2.4 2.4 0 1 0 -4.8 0zM282.4 973.8a2.4 2.4 0 1 0 4.8 0a2.4 2.4 0 1 0 -4.8 0zM283.3 971.1a2.4 2.4 0 1 0 4.8 0a2.4 2.4 0 1 0 -4.8 0zM284.3 973.2a2.4 2.4 0 1 0 4.8 0a2.4 2.4 0 1 0 -4.8 0zM285.3 972.2a2.4 2.4 0 1 0 4.8 0a2.4 2.4 0 1 0 -4.8 0zM286.2 972.2a2.4 2.4 0 1 0 4.8 0a2.4 2.4 0 1 0 -4.8 0zM287.2 972.3a2.4 2.4 0 1 0 4.8 0a2.4 2.4 0 1 0 -4.8 0zM288.1 972.5a2.4 2.4 0 1 0 4.8 0a2.4 2.4 0 1 0 -4.8 0zM289.1 973.7a2.4 2.4 0 1 0 4.8 0a2.4 2.4 0 1 0 -4.8 0zM290.1 970.5a2.4 2.4 0 1 0 4.8 0a2.4 2.4 0 1 0 -4.8 0zM291.0 972.1a2.4 2.4 0 1 0 4.8 0a2.4 2.4 0 1 0 -4.8 0zM292.0 971.4a2.4 2.4 0 1 0 4.8 0a2.4 2.4 0 1 0 -4.8 0zM293.0 973.0a2.4 2.4 0 1 0 4.8 0a2.4 2.4 0 1 0 -4.8 0zM293.9 971.5a2.4 2.4 0 1 0 4.8 0a2.4 2.4 0 1 0 -4.8 0zM294.9 972.3a2.4 2.4 0 1 0 4.8 0a2.4 2.4 0 1 0 -4.8 0zM295.8 971.4a2.4 2.4 0 1 0 4.8 0a2.4 2.4 0 1 0 -4.8 0zM296.8 972.3a2.4 2.4 0 1 0 4.8 0a2.4 2.4 0 1 0 -4.8 0zM297.8 972.6a2.4 2.4 0 1 0 4.8 0a2.4 2.4 0 1 0 -4.8 0zM298.7 971.2a2.4 2.4 0 1 0 4.8 0a2.4 2.4 0 1 0 -4.8 0zM299.7 971.6a2.4 2.4 0 1 0 4.8 0a2.4 2.4 0 1 0 -4.8 0zM300.7 970.2a2.4 2.4 0 1 0 4.8 0a2.4 2.4 0 1 0 -4.8 0zM301.6 971.6a2.4 2.4 0 1 0 4.8 0a2.4 2.4 0 1 0 -4.8 0zM302.6 972.0a2.4 2.4 0 1 0 4.8 0a2.4 2.4 0 1 0 -4.8 0zM303.5 970.7a2.4 2.4 0 1 0 4.8 0a2.4 2.4 0 1 0 -4.8 0zM304.5 972.1a2.4 2.4 0 1 0 4.8 0a2.4 2.4 0 1 0 -4.8 0zM305.5 969.1a2.4 2.4 0 1 0 4.8 0a2.4 2.4 0 1 0 -4.8 0zM306.4 969.3a2.4 2.4 0 1 0 4.8 0a2.4 2.4 0 1 0 -4.8 0zM307.4 969.6a2.4 2.4 0 1 0 4.8 0a2.4 2.4 0 1 0 -4.8 0zM308.3 970.3a2.4 2.4 0 1 0 4.8 0a2.4 2.4 0 1 0 -4.8 0zM309.3 970.6a2.4 2.4 0 1 0 4.8 0a2.4 2.4 0 1 0 -4.8 0zM310.3 970.5a2.4 2.4 0 1 0 4.8 0a2.4 2.4 0 1 0 -4.8 0zM311.2 970.4a2.4 2.4 0 1 0 4.8 0a2.4 2.4 0 1 0 -4.8 0zM312.2 971.0a2.4 2.4 0 1 0 4.8 0a2.4 2.4 0 1 0 -4.8 0zM313.2 969.8a2.4 2.4 0 1 0 4.8 0a2.4 2.4 0 1 0 -4.8 0zM314.1 968.9a2.4 2.4 0 1 0 4.8 0a2.4 2.4 0 1 0 -4.8 0zM315.1 968.8a2.4 2.4 0 1 0 4.8 0a2.4 2.4 0 1 0 -4.8 0zM316.0 971.7a2.4 2.4 0 1 0 4.8 0a2.4 2.4 0 1 0 -4.8 0zM317.0 967.6a2.4 2.4 0 1 0 4.8 0a2.4 2.4 0 1 0 -4.8 0zM318.0 969.4a2.4 2.4 0 1 0 4.8 0a2.4 2.4 0 1 0 -4.8 0zM318.9 970.7a2.4 2.4 0 1 0 4.8 0a2.4 2.4 0 1 0 -4.8 0zM319.9 969.7a2.4 2.4 0 1 0 4.8 0a2.4 2.4 0 1 0 -4.8 0zM320.9 968.4a2.4 2.4 0 1 0 4.8 0a2.4 2.4 0 1 0 -4.8 0zM321.8 969.0a2.4 2.4 0 1 0 4.8 0a2.4 2.4 0 1 0 -4.8 0zM322.8 969.6a2.4 2.4 0 1 0 4.8 0a2.4 2.4 0 1 0 -4.8 0zM323.7 969.8a2.4 2.4 0 1 0 4.8 0a2.4 2.4 0 1 0 -4.8 0zM324.7 967.7a2.4 2.4 0 1 0 4.8 0a2.4 2.4 0 1 0 -4.8 0zM325.7 969.1a2.4 2.4 0 1 0 4.8 0a2.4 2.4 0 1 0 -4.8 0zM326.6 968.4a2.4 2.4 0 1 0 4.8 0a2.4 2.4 0 1 0 -4.8 0zM327.6 969.0a2.4 2.4 0 1 0 4.8 0a2.4 2.4 0 1 0 -4.8 0zM328.5 969.1a2.4 2.4 0 1 0 4.8 0a2.4 2.4 0 1 0 -4.8 0zM329.5 967.4a2.4 2.4 0 1 0 4.8 0a2.4 2.4 0 1 0 -4.8 0zM330.5 966.2a2.4 2.4 0 1 0 4.8 0a2.4 2.4 0 1 0 -4.8 0zM331.4 967.7a2.4 2.4 0 1 0 4.8 0a2.4 2.4 0 1 0 -4.8 0zM332.4 968.7a2.4 2.4 0 1 0 4.8 0a2.4 2.4 0 1 0 -4.8 0zM333.4 967.5a2.4 2.4 0 1 0 4.8 0a2.4 2.4 0 1 0 -4.8 0zM334.3 966.9a2.4 2.4 0 1 0 4.8 0a2.4 2.4 0 1 0 -4.8 0zM335.3 968.7a2.4 2.4 0 1 0 4.8 0a2.4 2.4 0 1 0 -4.8 0zM336.2 965.4a2.4 2.4 0 1 0 4.8 0a2.4 2.4 0 1 0 -4.8 0zM337.2 966.9a2.4 2.4 0 1 0 4.8 0a2.4 2.4 0 1 0 -4.8 0zM338.2 965.4a2.4 2.4 0 1 0 4.8 0a2.4 2.4 0 1 0 -4.8 0zM339.1 965.7a2.4 2.4 0 1 0 4.8 0a2.4 2.4 0 1 0 -4.8 0zM340.1 965.5a2.4 2.4 0 1 0 4.8 0a2.4 2.4 0 1 0 -4.8 0zM341.0 966.6a2.4 2.4 0 1 0 4.8 0a2.4 2.4 0 1 0 -4.8 0zM342.0 964.1a2.4 2.4 0 1 0 4.8 0a2.4 2.4 0 1 0 -4.8 0zM343.0 964.3a2.4 2.4 0 1 0 4.8 0a2.4 2.4 0 1 0 -4.8 0zM343.9 963.1a2.4 2.4 0 1 0 4.8 0a2.4 2.4 0 1 0 -4.8 0zM344.9 964.7a2.4 2.4 0 1 0 4.8 0a2.4 2.4 0 1 0 -4.8 0zM345.9 963.6a2.4 2.4 0 1 0 4.8 0a2.4 2.4 0 1 0 -4.8 0zM346.8 964.1a2.4 2.4 0 1 0 4.8 0a2.4 2.4 0 1 0 -4.8 0zM347.8 962.5a2.4 2.4 0 1 0 4.8 0a2.4 2.4 0 1 0 -4.8 0zM348.7 962.9a2.4 2.4 0 1 0 4.8 0a2.4 2.4 0 1 0 -4.8 0zM349.7 963.9a2.4 2.4 0 1 0 4.8 0a2.4 2.4 0 1 0 -4.8 0zM350.7 962.5a2.4 2.4 0 1 0 4.8 0a2.4 2.4 0 1 0 -4.8 0zM351.6 962.9a2.4 2.4 0 1 0 4.8 0a2.4 2.4 0 1 0 -4.8 0zM352.6 962.6a2.4 2.4 0 1 0 4.8 0a2.4 2.4 0 1 0 -4.8 0zM353.6 961.5a2.4 2.4 0 1 0 4.8 0a2.4 2.4 0 1 0 -4.8 0zM354.5 960.1a2.4 2.4 0 1 0 4.8 0a2.4 2.4 0 1 0 -4.8 0zM355.5 962.1a2.4 2.4 0 1 0 4.8 0a2.4 2.4 0 1 0 -4.8 0zM356.4 961.1a2.4 2.4 0 1 0 4.8 0a2.4 2.4 0 1 0 -4.8 0zM357.4 961.5a2.4 2.4 0 1 0 4.8 0a2.4 2.4 0 1 0 -4.8 0zM358.4 958.5a2.4 2.4 0 1 0 4.8 0a2.4 2.4 0 1 0 -4.8 0zM359.3 958.5a2.4 2.4 0 1 0 4.8 0a2.4 2.4 0 1 0 -4.8 0zM360.3 957.8a2.4 2.4 0 1 0 4.8 0a2.4 2.4 0 1 0 -4.8 0zM361.2 958.6a2.4 2.4 0 1 0 4.8 0a2.4 2.4 0 1 0 -4.8 0zM362.2 960.0a2.4 2.4 0 1 0 4.8 0a2.4 2.4 0 1 0 -4.8 0zM363.2 959.2a2.4 2.4 0 1 0 4.8 0a2.4 2.4 0 1 0 -4.8 0zM364.1 958.4a2.4 2.4 0 1 0 4.8 0a2.4 2.4 0 1 0 -4.8 0zM365.1 958.2a2.4 2.4 0 1 0 4.8 0a2.4 2.4 0 1 0 -4.8 0zM366.1 958.4a2.4 2.4 0 1 0 4.8 0a2.4 2.4 0 1 0 -4.8 0zM367.0 957.1a2.4 2.4 0 1 0 4.8 0a2.4 2.4 0 1 0 -4.8 0zM368.0 957.4a2.4 2.4 0 1 0 4.8 0a2.4 2.4 0 1 0 -4.8 0zM368.9 956.8a2.4 2.4 0 1 0 4.8 0a2.4 2.4 0 1 0 -4.8 0zM369.9 954.4a2.4 2.4 0 1 0 4.8 0a2.4 2.4 0 1 0 -4.8 0zM370.9 955.6a2.4 2.4 0 1 0 4.8 0a2.4 2.4 0 1 0 -4.8 0zM371.8 956.9a2.4 2.4 0 1 0 4.8 0a2.4 2.4 0 1 0 -4.8 0zM372.8 954.9a2.4 2.4 0 1 0 4.8 0a2.4 2.4 0 1 0 -4.8 0zM373.8 954.8a2.4 2.4 0 1 0 4.8 0a2.4 2.4 0 1 0 -4.8 0zM374.7 954.0a2.4 2.4 0 1 0 4.8 0a2.4 2.4 0 1 0 -4.8 0zM375.7 953.8a2.4 2.4 0 1 0 4.8 0a2.4 2.4 0 1 0 -4.8 0zM376.6 954.8a2.4 2.4 0 1 0 4.8 0a2.4 2.4 0 1 0 -4.8 0zM377.6 953.2a2.4 2.4 0 1 0 4.8 0a2.4 2.4 0 1 0 -4.8 0zM378.6 952.2a2.4 2.4 0 1 0 4.8 0a2.4 2.4 0 1 0 -4.8 0zM379.5 949.9a2.4 2.4 0 1 0 4.8 0a2.4 2.4 0 1 0 -4.8 0zM380.5 951.8a2.4 2.4 0 1 0 4.8 0a2.4 2.4 0 1 0 -4.8 0zM381.4 950.2a2.4 2.4 0 1 0 4.8 0a2.4 2.4 0 1 0 -4.8 0zM382.4 950.0a2.4 2.4 0 1 0 4.8 0a2.4 2.4 0 1 0 -4.8 0zM383.4 951.9a2.4 2.4 0 1 0 4.8 0a2.4 2.4 0 1 0 -4.8 0zM384.3 951.5a2.4 2.4 0 1 0 4.8 0a2.4 2.4 0 1 0 -4.8 0zM385.3 948.7a2.4 2.4 0 1 0 4.8 0a2.4 2.4 0 1 0 -4.8 0zM386.3 950.9a2.4 2.4 0 1 0 4.8 0a2.4 2.4 0 1 0 -4.8 0zM387.2 950.1a2.4 2.4 0 1 0 4.8 0a2.4 2.4 0 1 0 -4.8 0zM388.2 948.6a2.4 2.4 0 1 0 4.8 0a2.4 2.4 0 1 0 -4.8 0zM389.1 949.6a2.4 2.4 0 1 0 4.8 0a2.4 2.4 0 1 0 -4.8 0zM390.1 947.1a2.4 2.4 0 1 0 4.8 0a2.4 2.4 0 1 0 -4.8 0zM391.1 947.1a2.4 2.4 0 1 0 4.8 0a2.4 2.4 0 1 0 -4.8 0zM392.0 946.5a2.4 2.4 0 1 0 4.8 0a2.4 2.4 0 1 0 -4.8 0zM393.0 946.5a2.4 2.4 0 1 0 4.8 0a2.4 2.4 0 1 0 -4.8 0zM394.0 947.9a2.4 2.4 0 1 0 4.8 0a2.4 2.4 0 1 0 -4.8 0zM394.9 945.5a2.4 2.4 0 1 0 4.8 0a2.4 2.4 0 1 0 -4.8 0zM395.9 945.3a2.4 2.4 0 1 0 4.8 0a2.4 2.4 0 1 0 -4.8 0zM396.8 945.1a2.4 2.4 0 1 0 4.8 0a2.4 2.4 0 1 0 -4.8 0zM397.8 945.8a2.4 2.4 0 1 0 4.8 0a2.4 2.4 0 1 0 -4.8 0zM398.8 944.9a2.4 2.4 0 1 0 4.8 0a2.4 2.4 0 1 0 -4.8 0zM399.7 945.7a2.4 2.4 0 1 0 4.8 0a2.4 2.4 0 1 0 -4.8 0zM400.7 943.9a2.4 2.4 0 1 0 4.8 0a2.4 2.4 0 1 0 -4.8 0zM401.6 943.0a2.4 2.4 0 1 0 4.8 0a2.4 2.4 0 1 0 -4.8 0zM402.6 943.4a2.4 2.4 0 1 0 4.8 0a2.4 2.4 0 1 0 -4.8 0zM403.6 943.5a2.4 2.4 0 1 0 4.8 0a2.4 2.4 0 1 0 -4.8 0zM404.5 942.3a2.4 2.4 0 1 0 4.8 0a2.4 2.4 0 1 0 -4.8 0zM405.5 943.0a2.4 2.4 0 1 0 4.8 0a2.4 2.4 0 1 0 -4.8 0zM406.5 944.1a2.4 2.4 0 1 0 4.8 0a2.4 2.4 0 1 0 -4.8 0zM407.4 941.6a2.4 2.4 0 1 0 4.8 0a2.4 2.4 0 1 0 -4.8 0zM408.4 941.8a2.4 2.4 0 1 0 4.8 0a2.4 2.4 0 1 0 -4.8 0zM409.3 942.7a2.4 2.4 0 1 0 4.8 0a2.4 2.4 0 1 0 -4.8 0zM410.3 940.5a2.4 2.4 0 1 0 4.8 0a2.4 2.4 0 1 0 -4.8 0zM411.3 940.0a2.4 2.4 0 1 0 4.8 0a2.4 2.4 0 1 0 -4.8 0zM412.2 939.5a2.4 2.4 0 1 0 4.8 0a2.4 2.4 0 1 0 -4.8 0zM413.2 940.6a2.4 2.4 0 1 0 4.8 0a2.4 2.4 0 1 0 -4.8 0zM414.2 940.4a2.4 2.4 0 1 0 4.8 0a2.4 2.4 0 1 0 -4.8 0zM415.1 939.5a2.4 2.4 0 1 0 4.8 0a2.4 2.4 0 1 0 -4.8 0zM416.1 939.4a2.4 2.4 0 1 0 4.8 0a2.4 2.4 0 1 0 -4.8 0zM417.0 940.2a2.4 2.4 0 1 0 4.8 0a2.4 2.4 0 1 0 -4.8 0zM418.0 939.5a2.4 2.4 0 1 0 4.8 0a2.4 2.4 0 1 0 -4.8 0zM419.0 937.2a2.4 2.4 0 1 0 4.8 0a2.4 2.4 0 1 0 -4.8 0zM419.9 938.2a2.4 2.4 0 1 0 4.8 0a2.4 2.4 0 1 0 -4.8 0zM420.9 938.1a2.4 2.4 0 1 0 4.8 0a2.4 2.4 0 1 0 -4.8 0zM421.8 938.4a2.4 2.4 0 1 0 4.8 0a2.4 2.4 0 1 0 -4.8 0zM422.8 937.3a2.4 2.4 0 1 0 4.8 0a2.4 2.4 0 1 0 -4.8 0zM423.8 936.7a2.4 2.4 0 1 0 4.8 0a2.4 2.4 0 1 0 -4.8 0zM424.7 936.6a2.4 2.4 0 1 0 4.8 0a2.4 2.4 0 1 0 -4.8 0zM425.7 935.2a2.4 2.4 0 1 0 4.8 0a2.4 2.4 0 1 0 -4.8 0zM426.7 936.6a2.4 2.4 0 1 0 4.8 0a2.4 2.4 0 1 0 -4.8 0zM427.6 935.9a2.4 2.4 0 1 0 4.8 0a2.4 2.4 0 1 0 -4.8 0zM428.6 936.6a2.4 2.4 0 1 0 4.8 0a2.4 2.4 0 1 0 -4.8 0zM429.5 935.1a2.4 2.4 0 1 0 4.8 0a2.4 2.4 0 1 0 -4.8 0zM430.5 935.5a2.4 2.4 0 1 0 4.8 0a2.4 2.4 0 1 0 -4.8 0zM431.5 934.8a2.4 2.4 0 1 0 4.8 0a2.4 2.4 0 1 0 -4.8 0zM432.4 934.6a2.4 2.4 0 1 0 4.8 0a2.4 2.4 0 1 0 -4.8 0zM433.4 936.0a2.4 2.4 0 1 0 4.8 0a2.4 2.4 0 1 0 -4.8 0zM434.3 934.8a2.4 2.4 0 1 0 4.8 0a2.4 2.4 0 1 0 -4.8 0zM435.3 935.5a2.4 2.4 0 1 0 4.8 0a2.4 2.4 0 1 0 -4.8 0zM436.3 934.0a2.4 2.4 0 1 0 4.8 0a2.4 2.4 0 1 0 -4.8 0zM437.2 934.9a2.4 2.4 0 1 0 4.8 0a2.4 2.4 0 1 0 -4.8 0zM438.2 933.2a2.4 2.4 0 1 0 4.8 0a2.4 2.4 0 1 0 -4.8 0zM439.2 934.2a2.4 2.4 0 1 0 4.8 0a2.4 2.4 0 1 0 -4.8 0zM440.1 934.1a2.4 2.4 0 1 0 4.8 0a2.4 2.4 0 1 0 -4.8 0zM441.1 935.0a2.4 2.4 0 1 0 4.8 0a2.4 2.4 0 1 0 -4.8 0zM442.0 934.6a2.4 2.4 0 1 0 4.8 0a2.4 2.4 0 1 0 -4.8 0zM443.0 934.2a2.4 2.4 0 1 0 4.8 0a2.4 2.4 0 1 0 -4.8 0zM444.0 935.1a2.4 2.4 0 1 0 4.8 0a2.4 2.4 0 1 0 -4.8 0zM444.9 934.5a2.4 2.4 0 1 0 4.8 0a2.4 2.4 0 1 0 -4.8 0zM445.9 934.8a2.4 2.4 0 1 0 4.8 0a2.4 2.4 0 1 0 -4.8 0zM446.9 935.0a2.4 2.4 0 1 0 4.8 0a2.4 2.4 0 1 0 -4.8 0zM447.8 934.2a2.4 2.4 0 1 0 4.8 0a2.4 2.4 0 1 0 -4.8 0zM448.8 934.0a2.4 2.4 0 1 0 4.8 0a2.4 2.4 0 1 0 -4.8 0zM449.7 934.6a2.4 2.4 0 1 0 4.8 0a2.4 2.4 0 1 0 -4.8 0zM450.7 934.0a2.4 2.4 0 1 0 4.8 0a2.4 2.4 0 1 0 -4.8 0zM451.7 934.8a2.4 2.4 0 1 0 4.8 0a2.4 2.4 0 1 0 -4.8 0zM452.6 935.6a2.4 2.4 0 1 0 4.8 0a2.4 2.4 0 1 0 -4.8 0zM453.6 935.6a2.4 2.4 0 1 0 4.8 0a2.4 2.4 0 1 0 -4.8 0zM454.5 934.7a2.4 2.4 0 1 0 4.8 0a2.4 2.4 0 1 0 -4.8 0zM455.5 934.1a2.4 2.4 0 1 0 4.8 0a2.4 2.4 0 1 0 -4.8 0zM456.5 935.5a2.4 2.4 0 1 0 4.8 0a2.4 2.4 0 1 0 -4.8 0zM457.4 935.7a2.4 2.4 0 1 0 4.8 0a2.4 2.4 0 1 0 -4.8 0zM458.4 937.1a2.4 2.4 0 1 0 4.8 0a2.4 2.4 0 1 0 -4.8 0zM459.4 936.2a2.4 2.4 0 1 0 4.8 0a2.4 2.4 0 1 0 -4.8 0zM460.3 936.7a2.4 2.4 0 1 0 4.8 0a2.4 2.4 0 1 0 -4.8 0zM461.3 938.0a2.4 2.4 0 1 0 4.8 0a2.4 2.4 0 1 0 -4.8 0zM462.2 937.4a2.4 2.4 0 1 0 4.8 0a2.4 2.4 0 1 0 -4.8 0zM463.2 938.1a2.4 2.4 0 1 0 4.8 0a2.4 2.4 0 1 0 -4.8 0zM464.2 940.3a2.4 2.4 0 1 0 4.8 0a2.4 2.4 0 1 0 -4.8 0zM465.1 940.7a2.4 2.4 0 1 0 4.8 0a2.4 2.4 0 1 0 -4.8 0zM466.1 940.4a2.4 2.4 0 1 0 4.8 0a2.4 2.4 0 1 0 -4.8 0zM467.1 940.7a2.4 2.4 0 1 0 4.8 0a2.4 2.4 0 1 0 -4.8 0zM468.0 940.2a2.4 2.4 0 1 0 4.8 0a2.4 2.4 0 1 0 -4.8 0zM469.0 942.2a2.4 2.4 0 1 0 4.8 0a2.4 2.4 0 1 0 -4.8 0zM469.9 942.3a2.4 2.4 0 1 0 4.8 0a2.4 2.4 0 1 0 -4.8 0zM470.9 943.1a2.4 2.4 0 1 0 4.8 0a2.4 2.4 0 1 0 -4.8 0zM471.9 943.1a2.4 2.4 0 1 0 4.8 0a2.4 2.4 0 1 0 -4.8 0zM472.8 944.3a2.4 2.4 0 1 0 4.8 0a2.4 2.4 0 1 0 -4.8 0zM473.8 944.8a2.4 2.4 0 1 0 4.8 0a2.4 2.4 0 1 0 -4.8 0zM474.7 945.9a2.4 2.4 0 1 0 4.8 0a2.4 2.4 0 1 0 -4.8 0zM475.7 947.6a2.4 2.4 0 1 0 4.8 0a2.4 2.4 0 1 0 -4.8 0zM476.7 947.4a2.4 2.4 0 1 0 4.8 0a2.4 2.4 0 1 0 -4.8 0zM477.6 946.3a2.4 2.4 0 1 0 4.8 0a2.4 2.4 0 1 0 -4.8 0zM478.6 947.7a2.4 2.4 0 1 0 4.8 0a2.4 2.4 0 1 0 -4.8 0zM479.6 947.8a2.4 2.4 0 1 0 4.8 0a2.4 2.4 0 1 0 -4.8 0zM480.5 949.3a2.4 2.4 0 1 0 4.8 0a2.4 2.4 0 1 0 -4.8 0zM481.5 951.2a2.4 2.4 0 1 0 4.8 0a2.4 2.4 0 1 0 -4.8 0zM482.4 951.8a2.4 2.4 0 1 0 4.8 0a2.4 2.4 0 1 0 -4.8 0zM483.4 951.6a2.4 2.4 0 1 0 4.8 0a2.4 2.4 0 1 0 -4.8 0zM484.4 953.1a2.4 2.4 0 1 0 4.8 0a2.4 2.4 0 1 0 -4.8 0zM485.3 952.9a2.4 2.4 0 1 0 4.8 0a2.4 2.4 0 1 0 -4.8 0zM486.3 953.1a2.4 2.4 0 1 0 4.8 0a2.4 2.4 0 1 0 -4.8 0zM487.3 953.8a2.4 2.4 0 1 0 4.8 0a2.4 2.4 0 1 0 -4.8 0zM488.2 955.0a2.4 2.4 0 1 0 4.8 0a2.4 2.4 0 1 0 -4.8 0zM489.2 957.7a2.4 2.4 0 1 0 4.8 0a2.4 2.4 0 1 0 -4.8 0zM490.1 955.9a2.4 2.4 0 1 0 4.8 0a2.4 2.4 0 1 0 -4.8 0zM491.1 958.9a2.4 2.4 0 1 0 4.8 0a2.4 2.4 0 1 0 -4.8 0zM492.1 959.7a2.4 2.4 0 1 0 4.8 0a2.4 2.4 0 1 0 -4.8 0zM493.0 959.0a2.4 2.4 0 1 0 4.8 0a2.4 2.4 0 1 0 -4.8 0zM494.0 959.7a2.4 2.4 0 1 0 4.8 0a2.4 2.4 0 1 0 -4.8 0zM494.9 959.8a2.4 2.4 0 1 0 4.8 0a2.4 2.4 0 1 0 -4.8 0zM495.9 961.0a2.4 2.4 0 1 0 4.8 0a2.4 2.4 0 1 0 -4.8 0zM496.9 962.2a2.4 2.4 0 1 0 4.8 0a2.4 2.4 0 1 0 -4.8 0zM497.8 962.2a2.4 2.4 0 1 0 4.8 0a2.4 2.4 0 1 0 -4.8 0zM498.8 963.7a2.4 2.4 0 1 0 4.8 0a2.4 2.4 0 1 0 -4.8 0zM499.8 964.4a2.4 2.4 0 1 0 4.8 0a2.4 2.4 0 1 0 -4.8 0zM500.7 964.2a2.4 2.4 0 1 0 4.8 0a2.4 2.4 0 1 0 -4.8 0zM501.7 964.7a2.4 2.4 0 1 0 4.8 0a2.4 2.4 0 1 0 -4.8 0zM502.6 964.9a2.4 2.4 0 1 0 4.8 0a2.4 2.4 0 1 0 -4.8 0zM503.6 965.7a2.4 2.4 0 1 0 4.8 0a2.4 2.4 0 1 0 -4.8 0zM504.6 964.9a2.4 2.4 0 1 0 4.8 0a2.4 2.4 0 1 0 -4.8 0zM505.5 966.7a2.4 2.4 0 1 0 4.8 0a2.4 2.4 0 1 0 -4.8 0zM506.5 967.0a2.4 2.4 0 1 0 4.8 0a2.4 2.4 0 1 0 -4.8 0zM507.4 966.5a2.4 2.4 0 1 0 4.8 0a2.4 2.4 0 1 0 -4.8 0zM508.4 969.6a2.4 2.4 0 1 0 4.8 0a2.4 2.4 0 1 0 -4.8 0zM509.4 967.2a2.4 2.4 0 1 0 4.8 0a2.4 2.4 0 1 0 -4.8 0zM510.3 967.7a2.4 2.4 0 1 0 4.8 0a2.4 2.4 0 1 0 -4.8 0zM511.3 969.1a2.4 2.4 0 1 0 4.8 0a2.4 2.4 0 1 0 -4.8 0zM512.3 967.4a2.4 2.4 0 1 0 4.8 0a2.4 2.4 0 1 0 -4.8 0zM513.2 968.8a2.4 2.4 0 1 0 4.8 0a2.4 2.4 0 1 0 -4.8 0zM514.2 968.5a2.4 2.4 0 1 0 4.8 0a2.4 2.4 0 1 0 -4.8 0zM515.1 969.3a2.4 2.4 0 1 0 4.8 0a2.4 2.4 0 1 0 -4.8 0zM516.1 970.3a2.4 2.4 0 1 0 4.8 0a2.4 2.4 0 1 0 -4.8 0zM517.1 971.0a2.4 2.4 0 1 0 4.8 0a2.4 2.4 0 1 0 -4.8 0zM518.0 972.0a2.4 2.4 0 1 0 4.8 0a2.4 2.4 0 1 0 -4.8 0zM519.0 972.0a2.4 2.4 0 1 0 4.8 0a2.4 2.4 0 1 0 -4.8 0zM520.0 972.6a2.4 2.4 0 1 0 4.8 0a2.4 2.4 0 1 0 -4.8 0zM520.9 972.3a2.4 2.4 0 1 0 4.8 0a2.4 2.4 0 1 0 -4.8 0zM521.9 971.6a2.4 2.4 0 1 0 4.8 0a2.4 2.4 0 1 0 -4.8 0zM522.8 973.2a2.4 2.4 0 1 0 4.8 0a2.4 2.4 0 1 0 -4.8 0zM523.8 972.0a2.4 2.4 0 1 0 4.8 0a2.4 2.4 0 1 0 -4.8 0zM524.8 972.0a2.4 2.4 0 1 0 4.8 0a2.4 2.4 0 1 0 -4.8 0zM525.7 974.1a2.4 2.4 0 1 0 4.8 0a2.4 2.4 0 1 0 -4.8 0zM526.7 973.7a2.4 2.4 0 1 0 4.8 0a2.4 2.4 0 1 0 -4.8 0zM527.6 973.3a2.4 2.4 0 1 0 4.8 0a2.4 2.4 0 1 0 -4.8 0zM528.6 973.9a2.4 2.4 0 1 0 4.8 0a2.4 2.4 0 1 0 -4.8 0zM529.6 974.2a2.4 2.4 0 1 0 4.8 0a2.4 2.4 0 1 0 -4.8 0zM530.5 972.3a2.4 2.4 0 1 0 4.8 0a2.4 2.4 0 1 0 -4.8 0zM531.5 973.6a2.4 2.4 0 1 0 4.8 0a2.4 2.4 0 1 0 -4.8 0zM532.5 972.7a2.4 2.4 0 1 0 4.8 0a2.4 2.4 0 1 0 -4.8 0zM533.4 974.0a2.4 2.4 0 1 0 4.8 0a2.4 2.4 0 1 0 -4.8 0zM534.4 973.4a2.4 2.4 0 1 0 4.8 0a2.4 2.4 0 1 0 -4.8 0zM535.3 975.3a2.4 2.4 0 1 0 4.8 0a2.4 2.4 0 1 0 -4.8 0zM536.3 974.7a2.4 2.4 0 1 0 4.8 0a2.4 2.4 0 1 0 -4.8 0zM537.3 973.6a2.4 2.4 0 1 0 4.8 0a2.4 2.4 0 1 0 -4.8 0zM538.2 974.4a2.4 2.4 0 1 0 4.8 0a2.4 2.4 0 1 0 -4.8 0zM539.2 973.4a2.4 2.4 0 1 0 4.8 0a2.4 2.4 0 1 0 -4.8 0zM540.2 974.6a2.4 2.4 0 1 0 4.8 0a2.4 2.4 0 1 0 -4.8 0zM541.1 975.1a2.4 2.4 0 1 0 4.8 0a2.4 2.4 0 1 0 -4.8 0zM542.1 974.9a2.4 2.4 0 1 0 4.8 0a2.4 2.4 0 1 0 -4.8 0zM543.0 973.0a2.4 2.4 0 1 0 4.8 0a2.4 2.4 0 1 0 -4.8 0zM544.0 974.5a2.4 2.4 0 1 0 4.8 0a2.4 2.4 0 1 0 -4.8 0zM545.0 975.3a2.4 2.4 0 1 0 4.8 0a2.4 2.4 0 1 0 -4.8 0zM545.9 975.2a2.4 2.4 0 1 0 4.8 0a2.4 2.4 0 1 0 -4.8 0zM546.9 976.0a2.4 2.4 0 1 0 4.8 0a2.4 2.4 0 1 0 -4.8 0zM547.8 973.8a2.4 2.4 0 1 0 4.8 0a2.4 2.4 0 1 0 -4.8 0zM548.8 975.5a2.4 2.4 0 1 0 4.8 0a2.4 2.4 0 1 0 -4.8 0zM549.8 974.5a2.4 2.4 0 1 0 4.8 0a2.4 2.4 0 1 0 -4.8 0zM550.7 975.3a2.4 2.4 0 1 0 4.8 0a2.4 2.4 0 1 0 -4.8 0zM551.7 975.5a2.4 2.4 0 1 0 4.8 0a2.4 2.4 0 1 0 -4.8 0zM552.7 975.8a2.4 2.4 0 1 0 4.8 0a2.4 2.4 0 1 0 -4.8 0zM553.6 974.6a2.4 2.4 0 1 0 4.8 0a2.4 2.4 0 1 0 -4.8 0zM554.6 975.4a2.4 2.4 0 1 0 4.8 0a2.4 2.4 0 1 0 -4.8 0zM555.5 974.2a2.4 2.4 0 1 0 4.8 0a2.4 2.4 0 1 0 -4.8 0zM556.5 974.0a2.4 2.4 0 1 0 4.8 0a2.4 2.4 0 1 0 -4.8 0zM557.5 975.8a2.4 2.4 0 1 0 4.8 0a2.4 2.4 0 1 0 -4.8 0zM558.4 975.2a2.4 2.4 0 1 0 4.8 0a2.4 2.4 0 1 0 -4.8 0zM559.4 973.8a2.4 2.4 0 1 0 4.8 0a2.4 2.4 0 1 0 -4.8 0zM560.4 974.6a2.4 2.4 0 1 0 4.8 0a2.4 2.4 0 1 0 -4.8 0zM561.3 975.4a2.4 2.4 0 1 0 4.8 0a2.4 2.4 0 1 0 -4.8 0zM562.3 976.8a2.4 2.4 0 1 0 4.8 0a2.4 2.4 0 1 0 -4.8 0zM563.2 976.3a2.4 2.4 0 1 0 4.8 0a2.4 2.4 0 1 0 -4.8 0zM564.2 976.1a2.4 2.4 0 1 0 4.8 0a2.4 2.4 0 1 0 -4.8 0zM565.2 973.8a2.4 2.4 0 1 0 4.8 0a2.4 2.4 0 1 0 -4.8 0zM566.1 975.3a2.4 2.4 0 1 0 4.8 0a2.4 2.4 0 1 0 -4.8 0zM567.1 975.9a2.4 2.4 0 1 0 4.8 0a2.4 2.4 0 1 0 -4.8 0zM568.0 975.8a2.4 2.4 0 1 0 4.8 0a2.4 2.4 0 1 0 -4.8 0zM569.0 975.8a2.4 2.4 0 1 0 4.8 0a2.4 2.4 0 1 0 -4.8 0zM570.0 975.3a2.4 2.4 0 1 0 4.8 0a2.4 2.4 0 1 0 -4.8 0zM570.9 977.1a2.4 2.4 0 1 0 4.8 0a2.4 2.4 0 1 0 -4.8 0zM571.9 976.8a2.4 2.4 0 1 0 4.8 0a2.4 2.4 0 1 0 -4.8 0zM572.9 975.4a2.4 2.4 0 1 0 4.8 0a2.4 2.4 0 1 0 -4.8 0zM573.8 974.6a2.4 2.4 0 1 0 4.8 0a2.4 2.4 0 1 0 -4.8 0zM574.8 977.4a2.4 2.4 0 1 0 4.8 0a2.4 2.4 0 1 0 -4.8 0zM575.7 975.0a2.4 2.4 0 1 0 4.8 0a2.4 2.4 0 1 0 -4.8 0zM576.7 976.6a2.4 2.4 0 1 0 4.8 0a2.4 2.4 0 1 0 -4.8 0zM577.7 977.3a2.4 2.4 0 1 0 4.8 0a2.4 2.4 0 1 0 -4.8 0zM578.6 974.7a2.4 2.4 0 1 0 4.8 0a2.4 2.4 0 1 0 -4.8 0zM579.6 975.8a2.4 2.4 0 1 0 4.8 0a2.4 2.4 0 1 0 -4.8 0zM580.5 975.3a2.4 2.4 0 1 0 4.8 0a2.4 2.4 0 1 0 -4.8 0zM581.5 976.0a2.4 2.4 0 1 0 4.8 0a2.4 2.4 0 1 0 -4.8 0zM582.5 975.9a2.4 2.4 0 1 0 4.8 0a2.4 2.4 0 1 0 -4.8 0zM583.4 977.3a2.4 2.4 0 1 0 4.8 0a2.4 2.4 0 1 0 -4.8 0zM584.4 976.1a2.4 2.4 0 1 0 4.8 0a2.4 2.4 0 1 0 -4.8 0zM585.4 975.6a2.4 2.4 0 1 0 4.8 0a2.4 2.4 0 1 0 -4.8 0zM586.3 976.6a2.4 2.4 0 1 0 4.8 0a2.4 2.4 0 1 0 -4.8 0zM587.3 975.4a2.4 2.4 0 1 0 4.8 0a2.4 2.4 0 1 0 -4.8 0zM588.2 975.3a2.4 2.4 0 1 0 4.8 0a2.4 2.4 0 1 0 -4.8 0zM589.2 977.6a2.4 2.4 0 1 0 4.8 0a2.4 2.4 0 1 0 -4.8 0zM590.2 974.9a2.4 2.4 0 1 0 4.8 0a2.4 2.4 0 1 0 -4.8 0zM591.1 975.2a2.4 2.4 0 1 0 4.8 0a2.4 2.4 0 1 0 -4.8 0zM592.1 975.7a2.4 2.4 0 1 0 4.8 0a2.4 2.4 0 1 0 -4.8 0zM593.1 974.7a2.4 2.4 0 1 0 4.8 0a2.4 2.4 0 1 0 -4.8 0zM594.0 973.8a2.4 2.4 0 1 0 4.8 0a2.4 2.4 0 1 0 -4.8 0zM595.0 976.6a2.4 2.4 0 1 0 4.8 0a2.4 2.4 0 1 0 -4.8 0zM595.9 975.0a2.4 2.4 0 1 0 4.8 0a2.4 2.4 0 1 0 -4.8 0zM596.9 975.2a2.4 2.4 0 1 0 4.8 0a2.4 2.4 0 1 0 -4.8 0zM597.9 975.4a2.4 2.4 0 1 0 4.8 0a2.4 2.4 0 1 0 -4.8 0zM598.8 974.8a2.4 2.4 0 1 0 4.8 0a2.4 2.4 0 1 0 -4.8 0zM599.8 974.7a2.4 2.4 0 1 0 4.8 0a2.4 2.4 0 1 0 -4.8 0zM600.7 975.9a2.4 2.4 0 1 0 4.8 0a2.4 2.4 0 1 0 -4.8 0zM601.7 977.9a2.4 2.4 0 1 0 4.8 0a2.4 2.4 0 1 0 -4.8 0zM602.7 976.4a2.4 2.4 0 1 0 4.8 0a2.4 2.4 0 1 0 -4.8 0zM603.6 976.4a2.4 2.4 0 1 0 4.8 0a2.4 2.4 0 1 0 -4.8 0zM604.6 974.4a2.4 2.4 0 1 0 4.8 0a2.4 2.4 0 1 0 -4.8 0zM605.6 975.7a2.4 2.4 0 1 0 4.8 0a2.4 2.4 0 1 0 -4.8 0zM606.5 974.7a2.4 2.4 0 1 0 4.8 0a2.4 2.4 0 1 0 -4.8 0zM607.5 976.5a2.4 2.4 0 1 0 4.8 0a2.4 2.4 0 1 0 -4.8 0zM608.4 975.6a2.4 2.4 0 1 0 4.8 0a2.4 2.4 0 1 0 -4.8 0zM609.4 975.8a2.4 2.4 0 1 0 4.8 0a2.4 2.4 0 1 0 -4.8 0zM610.4 975.7a2.4 2.4 0 1 0 4.8 0a2.4 2.4 0 1 0 -4.8 0zM611.3 975.3a2.4 2.4 0 1 0 4.8 0a2.4 2.4 0 1 0 -4.8 0zM612.3 974.4a2.4 2.4 0 1 0 4.8 0a2.4 2.4 0 1 0 -4.8 0zM613.3 976.3a2.4 2.4 0 1 0 4.8 0a2.4 2.4 0 1 0 -4.8 0zM614.2 974.6a2.4 2.4 0 1 0 4.8 0a2.4 2.4 0 1 0 -4.8 0zM615.2 974.8a2.4 2.4 0 1 0 4.8 0a2.4 2.4 0 1 0 -4.8 0zM616.1 975.6a2.4 2.4 0 1 0 4.8 0a2.4 2.4 0 1 0 -4.8 0zM617.1 975.2a2.4 2.4 0 1 0 4.8 0a2.4 2.4 0 1 0 -4.8 0zM618.1 976.1a2.4 2.4 0 1 0 4.8 0a2.4 2.4 0 1 0 -4.8 0zM619.0 976.8a2.4 2.4 0 1 0 4.8 0a2.4 2.4 0 1 0 -4.8 0zM620.0 976.1a2.4 2.4 0 1 0 4.8 0a2.4 2.4 0 1 0 -4.8 0zM620.9 976.0a2.4 2.4 0 1 0 4.8 0a2.4 2.4 0 1 0 -4.8 0zM621.9 975.9a2.4 2.4 0 1 0 4.8 0a2.4 2.4 0 1 0 -4.8 0zM622.9 976.6a2.4 2.4 0 1 0 4.8 0a2.4 2.4 0 1 0 -4.8 0zM623.8 974.2a2.4 2.4 0 1 0 4.8 0a2.4 2.4 0 1 0 -4.8 0zM624.8 976.2a2.4 2.4 0 1 0 4.8 0a2.4 2.4 0 1 0 -4.8 0zM625.8 975.1a2.4 2.4 0 1 0 4.8 0a2.4 2.4 0 1 0 -4.8 0zM626.7 974.8a2.4 2.4 0 1 0 4.8 0a2.4 2.4 0 1 0 -4.8 0zM627.7 975.9a2.4 2.4 0 1 0 4.8 0a2.4 2.4 0 1 0 -4.8 0zM628.6 975.6a2.4 2.4 0 1 0 4.8 0a2.4 2.4 0 1 0 -4.8 0zM629.6 976.4a2.4 2.4 0 1 0 4.8 0a2.4 2.4 0 1 0 -4.8 0zM630.6 976.9a2.4 2.4 0 1 0 4.8 0a2.4 2.4 0 1 0 -4.8 0zM631.5 973.8a2.4 2.4 0 1 0 4.8 0a2.4 2.4 0 1 0 -4.8 0zM632.5 975.9a2.4 2.4 0 1 0 4.8 0a2.4 2.4 0 1 0 -4.8 0zM633.5 977.7a2.4 2.4 0 1 0 4.8 0a2.4 2.4 0 1 0 -4.8 0zM634.4 976.7a2.4 2.4 0 1 0 4.8 0a2.4 2.4 0 1 0 -4.8 0zM635.4 977.3a2.4 2.4 0 1 0 4.8 0a2.4 2.4 0 1 0 -4.8 0zM636.3 976.1a2.4 2.4 0 1 0 4.8 0a2.4 2.4 0 1 0 -4.8 0zM637.3 974.7a2.4 2.4 0 1 0 4.8 0a2.4 2.4 0 1 0 -4.8 0zM638.3 975.0a2.4 2.4 0 1 0 4.8 0a2.4 2.4 0 1 0 -4.8 0zM639.2 976.6a2.4 2.4 0 1 0 4.8 0a2.4 2.4 0 1 0 -4.8 0zM640.2 976.9a2.4 2.4 0 1 0 4.8 0a2.4 2.4 0 1 0 -4.8 0zM641.1 975.3a2.4 2.4 0 1 0 4.8 0a2.4 2.4 0 1 0 -4.8 0zM642.1 975.8a2.4 2.4 0 1 0 4.8 0a2.4 2.4 0 1 0 -4.8 0zM643.1 976.3a2.4 2.4 0 1 0 4.8 0a2.4 2.4 0 1 0 -4.8 0zM644.0 974.4a2.4 2.4 0 1 0 4.8 0a2.4 2.4 0 1 0 -4.8 0zM645.0 975.7a2.4 2.4 0 1 0 4.8 0a2.4 2.4 0 1 0 -4.8 0zM646.0 977.5a2.4 2.4 0 1 0 4.8 0a2.4 2.4 0 1 0 -4.8 0zM646.9 978.0a2.4 2.4 0 1 0 4.8 0a2.4 2.4 0 1 0 -4.8 0zM647.9 976.0a2.4 2.4 0 1 0 4.8 0a2.4 2.4 0 1 0 -4.8 0zM648.8 977.7a2.4 2.4 0 1 0 4.8 0a2.4 2.4 0 1 0 -4.8 0zM649.8 975.6a2.4 2.4 0 1 0 4.8 0a2.4 2.4 0 1 0 -4.8 0zM650.8 975.3a2.4 2.4 0 1 0 4.8 0a2.4 2.4 0 1 0 -4.8 0zM651.7 974.1a2.4 2.4 0 1 0 4.8 0a2.4 2.4 0 1 0 -4.8 0zM652.7 976.9a2.4 2.4 0 1 0 4.8 0a2.4 2.4 0 1 0 -4.8 0zM653.6 975.8a2.4 2.4 0 1 0 4.8 0a2.4 2.4 0 1 0 -4.8 0zM654.6 978.2a2.4 2.4 0 1 0 4.8 0a2.4 2.4 0 1 0 -4.8 0zM655.6 976.4a2.4 2.4 0 1 0 4.8 0a2.4 2.4 0 1 0 -4.8 0zM656.5 976.3a2.4 2.4 0 1 0 4.8 0a2.4 2.4 0 1 0 -4.8 0zM657.5 974.5a2.4 2.4 0 1 0 4.8 0a2.4 2.4 0 1 0 -4.8 0zM658.5 977.5a2.4 2.4 0 1 0 4.8 0a2.4 2.4 0 1 0 -4.8 0zM659.4 975.8a2.4 2.4 0 1 0 4.8 0a2.4 2.4 0 1 0 -4.8 0zM660.4 976.0a2.4 2.4 0 1 0 4.8 0a2.4 2.4 0 1 0 -4.8 0zM661.3 974.2a2.4 2.4 0 1 0 4.8 0a2.4 2.4 0 1 0 -4.8 0zM662.3 977.0a2.4 2.4 0 1 0 4.8 0a2.4 2.4 0 1 0 -4.8 0zM663.3 977.0a2.4 2.4 0 1 0 4.8 0a2.4 2.4 0 1 0 -4.8 0zM664.2 975.6a2.4 2.4 0 1 0 4.8 0a2.4 2.4 0 1 0 -4.8 0zM665.2 976.3a2.4 2.4 0 1 0 4.8 0a2.4 2.4 0 1 0 -4.8 0zM666.2 976.5a2.4 2.4 0 1 0 4.8 0a2.4 2.4 0 1 0 -4.8 0zM667.1 977.1a2.4 2.4 0 1 0 4.8 0a2.4 2.4 0 1 0 -4.8 0zM668.1 976.3a2.4 2.4 0 1 0 4.8 0a2.4 2.4 0 1 0 -4.8 0zM669.0 977.8a2.4 2.4 0 1 0 4.8 0a2.4 2.4 0 1 0 -4.8 0zM670.0 976.0a2.4 2.4 0 1 0 4.8 0a2.4 2.4 0 1 0 -4.8 0zM671.0 975.7a2.4 2.4 0 1 0 4.8 0a2.4 2.4 0 1 0 -4.8 0zM671.9 975.8a2.4 2.4 0 1 0 4.8 0a2.4 2.4 0 1 0 -4.8 0zM672.9 973.9a2.4 2.4 0 1 0 4.8 0a2.4 2.4 0 1 0 -4.8 0zM673.8 975.5a2.4 2.4 0 1 0 4.8 0a2.4 2.4 0 1 0 -4.8 0zM674.8 977.1a2.4 2.4 0 1 0 4.8 0a2.4 2.4 0 1 0 -4.8 0zM675.8 976.5a2.4 2.4 0 1 0 4.8 0a2.4 2.4 0 1 0 -4.8 0zM676.7 975.5a2.4 2.4 0 1 0 4.8 0a2.4 2.4 0 1 0 -4.8 0zM677.7 976.6a2.4 2.4 0 1 0 4.8 0a2.4 2.4 0 1 0 -4.8 0zM678.7 974.5a2.4 2.4 0 1 0 4.8 0a2.4 2.4 0 1 0 -4.8 0zM679.6 976.0a2.4 2.4 0 1 0 4.8 0a2.4 2.4 0 1 0 -4.8 0zM680.6 976.8a2.4 2.4 0 1 0 4.8 0a2.4 2.4 0 1 0 -4.8 0zM681.5 976.9a2.4 2.4 0 1 0 4.8 0a2.4 2.4 0 1 0 -4.8 0zM682.5 975.6a2.4 2.4 0 1 0 4.8 0a2.4 2.4 0 1 0 -4.8 0zM683.5 977.1a2.4 2.4 0 1 0 4.8 0a2.4 2.4 0 1 0 -4.8 0zM684.4 978.0a2.4 2.4 0 1 0 4.8 0a2.4 2.4 0 1 0 -4.8 0zM685.4 975.9a2.4 2.4 0 1 0 4.8 0a2.4 2.4 0 1 0 -4.8 0zM686.4 977.0a2.4 2.4 0 1 0 4.8 0a2.4 2.4 0 1 0 -4.8 0zM687.3 974.9a2.4 2.4 0 1 0 4.8 0a2.4 2.4 0 1 0 -4.8 0zM688.3 974.6a2.4 2.4 0 1 0 4.8 0a2.4 2.4 0 1 0 -4.8 0zM689.2 976.9a2.4 2.4 0 1 0 4.8 0a2.4 2.4 0 1 0 -4.8 0zM690.2 976.4a2.4 2.4 0 1 0 4.8 0a2.4 2.4 0 1 0 -4.8 0z" fill="#800000"/>
</g>
<path d="M1063.2 556.2V998" stroke="#000" stroke-width="3"/>
<g>
<polyline points="750.8,648.1 766.4,682.3 782.0,654.7 797.7,658.8 813.3,656.7 828.9,693.8 844.5,666.3 860.1,673.2 875.7,673.6 891.4,670.9 907.0,668.1 922.6,703.3 938.2,695.0 953.8,669.5 969.4,671.1 985.1,676.7 1000.7,702.3 1016.3,716.6 1031.9,734.6 1047.5,759.2 1063.2,793.7 1078.8,827.9 1094.4,867.0 1110.0,905.2 1125.6,933.7 1141.2,957.5 1156.9,970.6 1172.5,978.7 1188.1,985.9 1203.7,984.5 1219.3,985.2 1234.9,984.5 1250.6,984.3 1266.2,985.8 1281.8,986.6 1297.4,987.0 1313.0,988.7 1328.6,986.1 1344.3,987.8 1359.9,987.6 1375.5,991.3" fill="none" stroke="#000000" stroke-width="1.3" stroke-linejoin="round"/>
<path d="M747.0 648.1a3.8 3.8 0 1 0 7.6 0a3.8 3.8 0 1 0 -7.6 0zM762.6 682.3a3.8 3.8 0 1 0 7.6 0a3.8 3.8 0 1 0 -7.6 0zM778.2 654.7a3.8 3.8 0 1 0 7.6 0a3.8 3.8 0 1 0 -7.6 0zM793.9 658.8a3.8 3.8 0 1 0 7.6 0a3.8 3.8 0 1 0 -7.6 0zM809.5 656.7a3.8 3.8 0 1 0 7.6 0a3.8 3.8 0 1 0 -7.6 0zM825.1 693.8a3.8 3.8 0 1 0 7.6 0a3.8 3.8 0 1 0 -7.6 0zM840.7 666.3a3.8 3.8 0 1 0 7.6 0a3.8 3.8 0 1 0 -7.6 0zM856.3 673.2a3.8 3.8 0 1 0 7.6 0a3.8 3.8 0 1 0 -7.6 0zM871.9 673.6a3.8 3.8 0 1 0 7.6 0a3.8 3.8 0 1 0 -7.6 0zM887.6 670.9a3.8 3.8 0 1 0 7.6 0a3.8 3.8 0 1 0 -7.6 0zM903.2 668.1a3.8 3.8 0 1 0 7.6 0a3.8 3.8 0 1 0 -7.6 0zM918.8 703.3a3.8 3.8 0 1 0 7.6 0a3.8 3.8 0 1 0 -7.6 0zM934.4 695.0a3.8 3.8 0 1 0 7.6 0a3.8 3.8 0 1 0 -7.6 0zM950.0 669.5a3.8 3.8 0 1 0 7.6 0a3.8 3.8 0 1 0 -7.6 0zM965.6 671.1a3.8 3.8 0 1 0 7.6 0a3.8 3.8 0 1 0 -7.6 0zM981.3 676.7a3.8 3.8 0 1 0 7.6 0a3.8 3.8 0 1 0 -7.6 0zM996.9 702.3a3.8 3.8 0 1 0 7.6 0a3.8 3.8 0 1 0 -7.6 0zM1012.5 716.6a3.8 3.8 0 1 0 7.6 0a3.8 3.8 0 1 0 -7.6 0zM1028.1 734.6a3.8 3.8 0 1 0 7.6 0a3.8 3.8 0 1 0 -7.6 0zM1043.7 759.2a3.8 3.8 0 1 0 7.6 0a3.8 3.8 0 1 0 -7.6 0zM1059.4 793.7a3.8 3.8 0 1 0 7.6 0a3.8 3.8 0 1 0 -7.6 0zM1075.0 827.9a3.8 3.8 0 1 0 7.6 0a3.8 3.8 0 1 0 -7.6 0zM1090.6 867.0a3.8 3.8 0 1 0 7.6 0a3.8 3.8 0 1 0 -7.6 0zM1106.2 905.2a3.8 3.8 0 1 0 7.6 0a3.8 3.8 0 1 0 -7.6 0zM1121.8 933.7a3.8 3.8 0 1 0 7.6 0a3.8 3.8 0 1 0 -7.6 0zM1137.4 957.5a3.8 3.8 0 1 0 7.6 0a3.8 3.8 0 1 0 -7.6 0zM1153.1 970.6a3.8 3.8 0 1 0 7.6 0a3.8 3.8 0 1 0 -7.6 0zM1168.7 978.7a3.8 3.8 0 1 0 7.6 0a3.8 3.8 0 1 0 -7.6 0zM1184.3 985.9a3.8 3.8 0 1 0 7.6 0a3.8 3.8 0 1 0 -7.6 0zM1199.9 984.5a3.8 3.8 0 1 0 7.6 0a3.8 3.8 0 1 0 -7.6 0zM1215.5 985.2a3.8 3.8 0 1 0 7.6 0a3.8 3.8 0 1 0 -7.6 0zM1231.1 984.5a3.8 3.8 0 1 0 7.6 0a3.8 3.8 0 1 0 -7.6 0zM1246.8 984.3a3.8 3.8 0 1 0 7.6 0a3.8 3.8 0 1 0 -7.6 0zM1262.4 985.8a3.8 3.8 0 1 0 7.6 0a3.8 3.8 0 1 0 -7.6 0zM1278.0 986.6a3.8 3.8 0 1 0 7.6 0a3.8 3.8 0 1 0 -7.6 0zM1293.6 987.0a3.8 3.8 0 1 0 7.6 0a3.8 3.8 0 1 0 -7.6 0zM1309.2 988.7a3.8 3.8 0 1 0 7.6 0a3.8 3.8 0 1 0 -7.6 0zM1324.8 986.1a3.8 3.8 0 1 0 7.6 0a3.8 3.8 0 1 0 -7.6 0zM1340.5 987.8a3.8 3.8 0 1 0 7.6 0a3.8 3.8 0 1 0 -7.6 0zM1356.1 987.6a3.8 3.8 0 1 0 7.6 0a3.8 3.8 0 1 0 -7.6 0zM1371.7 991.3a3.8 3.8 0 1 0 7.6 0a3.8 3.8 0 1 0 -7.6 0z" fill="#000000"/>
<polyline points="750.8,659.1 766.4,666.2 782.0,668.4 797.7,680.6 813.3,678.6 828.9,683.5 844.5,675.7 860.1,676.3 875.7,676.0 891.4,696.5 907.0,690.4 922.6,687.3 938.2,691.7 953.8,697.5 969.4,702.0 985.1,709.9 1000.7,722.3 1016.3,735.5 1031.9,759.8 1047.5,786.0 1063.2,817.8 1078.8,866.4 1094.4,878.3 1110.0,912.1 1125.6,941.3 1141.2,957.4 1156.9,970.4 1172.5,983.2 1188.1,985.9 1203.7,986.0 1219.3,989.1 1234.9,987.8 1250.6,987.8 1266.2,988.9 1281.8,988.9 1297.4,988.6 1313.0,989.4 1328.6,989.1 1344.3,990.1 1359.9,990.2 1375.5,991.1" fill="none" stroke="#ff0000" stroke-width="1.3" stroke-linejoin="round"/>
<path d="M747.0 659.1a3.8 3.8 0 1 0 7.6 0a3.8 3.8 0 1 0 -7.6 0zM762.6 666.2a3.8 3.8 0 1 0 7.6 0a3.8 3.8 0 1 0 -7.6 0zM778.2 668.4a3.8 3.8 0 1 0 7.6 0a3.8 3.8 0 1 0 -7.6 0zM793.9 680.6a3.8 3.8 0 1 0 7.6 0a3.8 3.8 0 1 0 -7.6 0zM809.5 678.6a3.8 3.8 0 1 0 7.6 0a3.8 3.8 0 1 0 -7.6 0zM825.1 683.5a3.8 3.8 0 1 0 7.6 0a3.8 3.8 0 1 0 -7.6 0zM840.7 675.7a3.8 3.8 0 1 0 7.6 0a3.8 3.8 0 1 0 -7.6 0zM856.3 676.3a3.8 3.8 0 1 0 7.6 0a3.8 3.8 0 1 0 -7.6 0zM871.9 676.0a3.8 3.8 0 1 0 7.6 0a3.8 3.8 0 1 0 -7.6 0zM887.6 696.5a3.8 3.8 0 1 0 7.6 0a3.8 3.8 0 1 0 -7.6 0zM903.2 690.4a3.8 3.8 0 1 0 7.6 0a3.8 3.8 0 1 0 -7.6 0zM918.8 687.3a3.8 3.8 0 1 0 7.6 0a3.8 3.8 0 1 0 -7.6 0zM934.4 691.7a3.8 3.8 0 1 0 7.6 0a3.8 3.8 0 1 0 -7.6 0zM950.0 697.5a3.8 3.8 0 1 0 7.6 0a3.8 3.8 0 1 0 -7.6 0zM965.6 702.0a3.8 3.8 0 1 0 7.6 0a3.8 3.8 0 1 0 -7.6 0zM981.3 709.9a3.8 3.8 0 1 0 7.6 0a3.8 3.8 0 1 0 -7.6 0zM996.9 722.3a3.8 3.8 0 1 0 7.6 0a3.8 3.8 0 1 0 -7.6 0zM1012.5 735.5a3.8 3.8 0 1 0 7.6 0a3.8 3.8 0 1 0 -7.6 0zM1028.1 759.8a3.8 3.8 0 1 0 7.6 0a3.8 3.8 0 1 0 -7.6 0zM1043.7 786.0a3.8 3.8 0 1 0 7.6 0a3.8 3.8 0 1 0 -7.6 0zM1059.4 817.8a3.8 3.8 0 1 0 7.6 0a3.8 3.8 0 1 0 -7.6 0zM1075.0 866.4a3.8 3.8 0 1 0 7.6 0a3.8 3.8 0 1 0 -7.6 0zM1090.6 878.3a3.8 3.8 0 1 0 7.6 0a3.8 3.8 0 1 0 -7.6 0zM1106.2 912.1a3.8 3.8 0 1 0 7.6 0a3.8 3.8 0 1 0 -7.6 0zM1121.8 941.3a3.8 3.8 0 1 0 7.6 0a3.8 3.8 0 1 0 -7.6 0zM1137.4 957.4a3.8 3.8 0 1 0 7.6 0a3.8 3.8 0 1 0 -7.6 0zM1153.1 970.4a3.8 3.8 0 1 0 7.6 0a3.8 3.8 0 1 0 -7.6 0zM1168.7 983.2a3.8 3.8 0 1 0 7.6 0a3.8 3.8 0 1 0 -7.6 0zM1184.3 985.9a3.8 3.8 0 1 0 7.6 0a3.8 3.8 0 1 0 -7.6 0zM1199.9 986.0a3.8 3.8 0 1 0 7.6 0a3.8 3.8 0 1 0 -7.6 0zM1215.5 989.1a3.8 3.8 0 1 0 7.6 0a3.8 3.8 0 1 0 -7.6 0zM1231.1 987.8a3.8 3.8 0 1 0 7.6 0a3.8 3.8 0 1 0 -7.6 0zM1246.8 987.8a3.8 3.8 0 1 0 7.6 0a3.8 3.8 0 1 0 -7.6 0zM1262.4 988.9a3.8 3.8 0 1 0 7.6 0a3.8 3.8 0 1 0 -7.6 0zM1278.0 988.9a3.8 3.8 0 1 0 7.6 0a3.8 3.8 0 1 0 -7.6 0zM1293.6 988.6a3.8 3.8 0 1 0 7.6 0a3.8 3.8 0 1 0 -7.6 0zM1309.2 989.4a3.8 3.8 0 1 0 7.6 0a3.8 3.8 0 1 0 -7.6 0zM1324.8 989.1a3.8 3.8 0 1 0 7.6 0a3.8 3.8 0 1 0 -7.6 0zM1340.5 990.1a3.8 3.8 0 1 0 7.6 0a3.8 3.8 0 1 0 -7.6 0zM1356.1 990.2a3.8 3.8 0 1 0 7.6 0a3.8 3.8 0 1 0 -7.6 0zM1371.7 991.1a3.8 3.8 0 1 0 7.6 0a3.8 3.8 0 1 0 -7.6 0z" fill="#ff0000"/>
<polyline points="750.8,635.4 766.4,639.7 782.0,637.8 797.7,649.1 813.3,658.5 828.9,649.4 844.5,656.9 860.1,664.7 875.7,661.4 891.4,673.8 907.0,677.8 922.6,684.1 938.2,688.6 953.8,689.1 969.4,693.8 985.1,696.0 1000.7,703.7 1016.3,723.9 1031.9,752.0 1047.5,768.8 1063.2,810.2 1078.8,846.9 1094.4,890.9 1110.0,907.3 1125.6,936.3 1141.2,958.4 1156.9,970.8 1172.5,983.3 1188.1,986.4 1203.7,986.5 1219.3,988.0 1234.9,987.6 1250.6,987.7 1266.2,989.4 1281.8,989.8 1297.4,989.7 1313.0,989.9 1328.6,989.4 1344.3,990.4 1359.9,989.1 1375.5,990.5" fill="none" stroke="#14b432" stroke-width="1.3" stroke-linejoin="round"/>
<path d="M747.0 635.4a3.8 3.8 0 1 0 7.6 0a3.8 3.8 0 1 0 -7.6 0zM762.6 639.7a3.8 3.8 0 1 0 7.6 0a3.8 3.8 0 1 0 -7.6 0zM778.2 637.8a3.8 3.8 0 1 0 7.6 0a3.8 3.8 0 1 0 -7.6 0zM793.9 649.1a3.8 3.8 0 1 0 7.6 0a3.8 3.8 0 1 0 -7.6 0zM809.5 658.5a3.8 3.8 0 1 0 7.6 0a3.8 3.8 0 1 0 -7.6 0zM825.1 649.4a3.8 3.8 0 1 0 7.6 0a3.8 3.8 0 1 0 -7.6 0zM840.7 656.9a3.8 3.8 0 1 0 7.6 0a3.8 3.8 0 1 0 -7.6 0zM856.3 664.7a3.8 3.8 0 1 0 7.6 0a3.8 3.8 0 1 0 -7.6 0zM871.9 661.4a3.8 3.8 0 1 0 7.6 0a3.8 3.8 0 1 0 -7.6 0zM887.6 673.8a3.8 3.8 0 1 0 7.6 0a3.8 3.8 0 1 0 -7.6 0zM903.2 677.8a3.8 3.8 0 1 0 7.6 0a3.8 3.8 0 1 0 -7.6 0zM918.8 684.1a3.8 3.8 0 1 0 7.6 0a3.8 3.8 0 1 0 -7.6 0zM934.4 688.6a3.8 3.8 0 1 0 7.6 0a3.8 3.8 0 1 0 -7.6 0zM950.0 689.1a3.8 3.8 0 1 0 7.6 0a3.8 3.8 0 1 0 -7.6 0zM965.6 693.8a3.8 3.8 0 1 0 7.6 0a3.8 3.8 0 1 0 -7.6 0zM981.3 696.0a3.8 3.8 0 1 0 7.6 0a3.8 3.8 0 1 0 -7.6 0zM996.9 703.7a3.8 3.8 0 1 0 7.6 0a3.8 3.8 0 1 0 -7.6 0zM1012.5 723.9a3.8 3.8 0 1 0 7.6 0a3.8 3.8 0 1 0 -7.6 0zM1028.1 752.0a3.8 3.8 0 1 0 7.6 0a3.8 3.8 0 1 0 -7.6 0zM1043.7 768.8a3.8 3.8 0 1 0 7.6 0a3.8 3.8 0 1 0 -7.6 0zM1059.4 810.2a3.8 3.8 0 1 0 7.6 0a3.8 3.8 0 1 0 -7.6 0zM1075.0 846.9a3.8 3.8 0 1 0 7.6 0a3.8 3.8 0 1 0 -7.6 0zM1090.6 890.9a3.8 3.8 0 1 0 7.6 0a3.8 3.8 0 1 0 -7.6 0zM1106.2 907.3a3.8 3.8 0 1 0 7.6 0a3.8 3.8 0 1 0 -7.6 0zM1121.8 936.3a3.8 3.8 0 1 0 7.6 0a3.8 3.8 0 1 0 -7.6 0zM1137.4 958.4a3.8 3.8 0 1 0 7.6 0a3.8 3.8 0 1 0 -7.6 0zM1153.1 970.8a3.8 3.8 0 1 0 7.6 0a3.8 3.8 0 1 0 -7.6 0zM1168.7 983.3a3.8 3.8 0 1 0 7.6 0a3.8 3.8 0 1 0 -7.6 0zM1184.3 986.4a3.8 3.8 0 1 0 7.6 0a3.8 3.8 0 1 0 -7.6 0zM1199.9 986.5a3.8 3.8 0 1 0 7.6 0a3.8 3.8 0 1 0 -7.6 0zM1215.5 988.0a3.8 3.8 0 1 0 7.6 0a3.8 3.8 0 1 0 -7.6 0zM1231.1 987.6a3.8 3.8 0 1 0 7.6 0a3.8 3.8 0 1 0 -7.6 0zM1246.8 987.7a3.8 3.8 0 1 0 7.6 0a3.8 3.8 0 1 0 -7.6 0zM1262.4 989.4a3.8 3.8 0 1 0 7.6 0a3.8 3.8 0 1 0 -7.6 0zM1278.0 989.8a3.8 3.8 0 1 0 7.6 0a3.8 3.8 0 1 0 -7.6 0zM1293.6 989.7a3.8 3.8 0 1 0 7.6 0a3.8 3.8 0 1 0 -7.6 0zM1309.2 989.9a3.8 3.8 0 1 0 7.6 0a3.8 3.8 0 1 0 -7.6 0zM1324.8 989.4a3.8 3.8 0 1 0 7.6 0a3.8 3.8 0 1 0 -7.6 0zM1340.5 990.4a3.8 3.8 0 1 0 7.6 0a3.8 3.8 0 1 0 -7.6 0zM1356.1 989.1a3.8 3.8 0 1 0 7.6 0a3.8 3.8 0 1 0 -7.6 0zM1371.7 990.5a3.8 3.8 0 1 0 7.6 0a3.8 3.8 0 1 0 -7.6 0z" fill="#14b432"/>
<polyline points="750.8,646.4 766.4,653.0 782.0,658.4 797.7,653.8 813.3,663.0 828.9,665.3 844.5,659.4 860.1,665.6 875.7,670.6 891.4,679.4 907.0,681.5 922.6,688.7 938.2,691.0 953.8,702.5 969.4,703.1 985.1,711.5 1000.7,723.0 1016.3,741.8 1031.9,762.0 1047.5,779.8 1063.2,820.9 1078.8,849.6 1094.4,883.1 1110.0,909.0 1125.6,935.3 1141.2,957.1 1156.9,971.0 1172.5,982.4 1188.1,986.1 1203.7,986.8 1219.3,987.5 1234.9,989.3 1250.6,987.2 1266.2,987.5 1281.8,989.9 1297.4,990.0 1313.0,990.5 1328.6,989.7 1344.3,989.0 1359.9,989.9 1375.5,990.9" fill="none" stroke="#0000ff" stroke-width="1.3" stroke-linejoin="round"/>
<path d="M747.0 646.4a3.8 3.8 0 1 0 7.6 0a3.8 3.8 0 1 0 -7.6 0zM762.6 653.0a3.8 3.8 0 1 0 7.6 0a3.8 3.8 0 1 0 -7.6 0zM778.2 658.4a3.8 3.8 0 1 0 7.6 0a3.8 3.8 0 1 0 -7.6 0zM793.9 653.8a3.8 3.8 0 1 0 7.6 0a3.8 3.8 0 1 0 -7.6 0zM809.5 663.0a3.8 3.8 0 1 0 7.6 0a3.8 3.8 0 1 0 -7.6 0zM825.1 665.3a3.8 3.8 0 1 0 7.6 0a3.8 3.8 0 1 0 -7.6 0zM840.7 659.4a3.8 3.8 0 1 0 7.6 0a3.8 3.8 0 1 0 -7.6 0zM856.3 665.6a3.8 3.8 0 1 0 7.6 0a3.8 3.8 0 1 0 -7.6 0zM871.9 670.6a3.8 3.8 0 1 0 7.6 0a3.8 3.8 0 1 0 -7.6 0zM887.6 679.4a3.8 3.8 0 1 0 7.6 0a3.8 3.8 0 1 0 -7.6 0zM903.2 681.5a3.8 3.8 0 1 0 7.6 0a3.8 3.8 0 1 0 -7.6 0zM918.8 688.7a3.8 3.8 0 1 0 7.6 0a3.8 3.8 0 1 0 -7.6 0zM934.4 691.0a3.8 3.8 0 1 0 7.6 0a3.8 3.8 0 1 0 -7.6 0zM950.0 702.5a3.8 3.8 0 1 0 7.6 0a3.8 3.8 0 1 0 -7.6 0zM965.6 703.1a3.8 3.8 0 1 0 7.6 0a3.8 3.8 0 1 0 -7.6 0zM981.3 711.5a3.8 3.8 0 1 0 7.6 0a3.8 3.8 0 1 0 -7.6 0zM996.9 723.0a3.8 3.8 0 1 0 7.6 0a3.8 3.8 0 1 0 -7.6 0zM1012.5 741.8a3.8 3.8 0 1 0 7.6 0a3.8 3.8 0 1 0 -7.6 0zM1028.1 762.0a3.8 3.8 0 1 0 7.6 0a3.8 3.8 0 1 0 -7.6 0zM1043.7 779.8a3.8 3.8 0 1 0 7.6 0a3.8 3.8 0 1 0 -7.6 0zM1059.4 820.9a3.8 3.8 0 1 0 7.6 0a3.8 3.8 0 1 0 -7.6 0zM1075.0 849.6a3.8 3.8 0 1 0 7.6 0a3.8 3.8 0 1 0 -7.6 0zM1090.6 883.1a3.8 3.8 0 1 0 7.6 0a3.8 3.8 0 1 0 -7.6 0zM1106.2 909.0a3.8 3.8 0 1 0 7.6 0a3.8 3.8 0 1 0 -7.6 0zM1121.8 935.3a3.8 3.8 0 1 0 7.6 0a3.8 3.8 0 1 0 -7.6 0zM1137.4 957.1a3.8 3.8 0 1 0 7.6 0a3.8 3.8 0 1 0 -7.6 0zM1153.1 971.0a3.8 3.8 0 1 0 7.6 0a3.8 3.8 0 1 0 -7.6 0zM1168.7 982.4a3.8 3.8 0 1 0 7.6 0a3.8 3.8 0 1 0 -7.6 0zM1184.3 986.1a3.8 3.8 0 1 0 7.6 0a3.8 3.8 0 1 0 -7.6 0zM1199.9 986.8a3.8 3.8 0 1 0 7.6 0a3.8 3.8 0 1 0 -7.6 0zM1215.5 987.5a3.8 3.8 0 1 0 7.6 0a3.8 3.8 0 1 0 -7.6 0zM1231.1 989.3a3.8 3.8 0 1 0 7.6 0a3.8 3.8 0 1 0 -7.6 0zM1246.8 987.2a3.8 3.8 0 1 0 7.6 0a3.8 3.8 0 1 0 -7.6 0zM1262.4 987.5a3.8 3.8 0 1 0 7.6 0a3.8 3.8 0 1 0 -7.6 0zM1278.0 989.9a3.8 3.8 0 1 0 7.6 0a3.8 3.8 0 1 0 -7.6 0zM1293.6 990.0a3.8 3.8 0 1 0 7.6 0a3.8 3.8 0 1 0 -7.6 0zM1309.2 990.5a3.8 3.8 0 1 0 7.6 0a3.8 3.8 0 1 0 -7.6 0zM1324.8 989.7a3.8 3.8 0 1 0 7.6 0a3.8 3.8 0 1 0 -7.6 0zM1340.5 989.0a3.8 3.8 0 1 0 7.6 0a3.8 3.8 0 1 0 -7.6 0zM1356.1 989.9a3.8 3.8 0 1 0 7.6 0a3.8 3.8 0 1 0 -7.6 0zM1371.7 990.9a3.8 3.8 0 1 0 7.6 0a3.8 3.8 0 1 0 -7.6 0z" fill="#0000ff"/>
<polyline points="750.8,630.5 766.4,637.7 782.0,637.5 797.7,642.3 813.3,652.4 828.9,652.2 844.5,651.4 860.1,654.6 875.7,659.2 891.4,668.5 907.0,671.5 922.6,677.4 938.2,676.8 953.8,683.4 969.4,694.0 985.1,705.3 1000.7,714.8 1016.3,729.7 1031.9,754.4 1047.5,770.2 1063.2,810.9 1078.8,856.7 1094.4,886.7 1110.0,916.6 1125.6,939.5 1141.2,957.2 1156.9,971.8 1172.5,981.9 1188.1,984.3 1203.7,986.2 1219.3,989.3 1234.9,987.4 1250.6,989.7 1266.2,989.3 1281.8,989.2 1297.4,989.9 1313.0,990.1 1328.6,990.8 1344.3,989.7 1359.9,990.1 1375.5,990.3" fill="none" stroke="#e6c21e" stroke-width="1.3" stroke-linejoin="round"/>
<path d="M747.0 630.5a3.8 3.8 0 1 0 7.6 0a3.8 3.8 0 1 0 -7.6 0zM762.6 637.7a3.8 3.8 0 1 0 7.6 0a3.8 3.8 0 1 0 -7.6 0zM778.2 637.5a3.8 3.8 0 1 0 7.6 0a3.8 3.8 0 1 0 -7.6 0zM793.9 642.3a3.8 3.8 0 1 0 7.6 0a3.8 3.8 0 1 0 -7.6 0zM809.5 652.4a3.8 3.8 0 1 0 7.6 0a3.8 3.8 0 1 0 -7.6 0zM825.1 652.2a3.8 3.8 0 1 0 7.6 0a3.8 3.8 0 1 0 -7.6 0zM840.7 651.4a3.8 3.8 0 1 0 7.6 0a3.8 3.8 0 1 0 -7.6 0zM856.3 654.6a3.8 3.8 0 1 0 7.6 0a3.8 3.8 0 1 0 -7.6 0zM871.9 659.2a3.8 3.8 0 1 0 7.6 0a3.8 3.8 0 1 0 -7.6 0zM887.6 668.5a3.8 3.8 0 1 0 7.6 0a3.8 3.8 0 1 0 -7.6 0zM903.2 671.5a3.8 3.8 0 1 0 7.6 0a3.8 3.8 0 1 0 -7.6 0zM918.8 677.4a3.8 3.8 0 1 0 7.6 0a3.8 3.8 0 1 0 -7.6 0zM934.4 676.8a3.8 3.8 0 1 0 7.6 0a3.8 3.8 0 1 0 -7.6 0zM950.0 683.4a3.8 3.8 0 1 0 7.6 0a3.8 3.8 0 1 0 -7.6 0zM965.6 694.0a3.8 3.8 0 1 0 7.6 0a3.8 3.8 0 1 0 -7.6 0zM981.3 705.3a3.8 3.8 0 1 0 7.6 0a3.8 3.8 0 1 0 -7.6 0zM996.9 714.8a3.8 3.8 0 1 0 7.6 0a3.8 3.8 0 1 0 -7.6 0zM1012.5 729.7a3.8 3.8 0 1 0 7.6 0a3.8 3.8 0 1 0 -7.6 0zM1028.1 754.4a3.8 3.8 0 1 0 7.6 0a3.8 3.8 0 1 0 -7.6 0zM1043.7 770.2a3.8 3.8 0 1 0 7.6 0a3.8 3.8 0 1 0 -7.6 0zM1059.4 810.9a3.8 3.8 0 1 0 7.6 0a3.8 3.8 0 1 0 -7.6 0zM1075.0 856.7a3.8 3.8 0 1 0 7.6 0a3.8 3.8 0 1 0 -7.6 0zM1090.6 886.7a3.8 3.8 0 1 0 7.6 0a3.8 3.8 0 1 0 -7.6 0zM1106.2 916.6a3.8 3.8 0 1 0 7.6 0a3.8 3.8 0 1 0 -7.6 0zM1121.8 939.5a3.8 3.8 0 1 0 7.6 0a3.8 3.8 0 1 0 -7.6 0zM1137.4 957.2a3.8 3.8 0 1 0 7.6 0a3.8 3.8 0 1 0 -7.6 0zM1153.1 971.8a3.8 3.8 0 1 0 7.6 0a3.8 3.8 0 1 0 -7.6 0zM1168.7 981.9a3.8 3.8 0 1 0 7.6 0a3.8 3.8 0 1 0 -7.6 0zM1184.3 984.3a3.8 3.8 0 1 0 7.6 0a3.8 3.8 0 1 0 -7.6 0zM1199.9 986.2a3.8 3.8 0 1 0 7.6 0a3.8 3.8 0 1 0 -7.6 0zM1215.5 989.3a3.8 3.8 0 1 0 7.6 0a3.8 3.8 0 1 0 -7.6 0zM1231.1 987.4a3.8 3.8 0 1 0 7.6 0a3.8 3.8 0 1 0 -7.6 0zM1246.8 989.7a3.8 3.8 0 1 0 7.6 0a3.8 3.8 0 1 0 -7.6 0zM1262.4 989.3a3.8 3.8 0 1 0 7.6 0a3.8 3.8 0 1 0 -7.6 0zM1278.0 989.2a3.8 3.8 0 1 0 7.6 0a3.8 3.8 0 1 0 -7.6 0zM1293.6 989.9a3.8 3.8 0 1 0 7.6 0a3.8 3.8 0 1 0 -7.6 0zM1309.2 990.1a3.8 3.8 0 1 0 7.6 0a3.8 3.8 0 1 0 -7.6 0zM1324.8 990.8a3.8 3.8 0 1 0 7.6 0a3.8 3.8 0 1 0 -7.6 0zM1340.5 989.7a3.8 3.8 0 1 0 7.6 0a3.8 3.8 0 1 0 -7.6 0zM1356.1 990.1a3.8 3.8 0 1 0 7.6 0a3.8 3.8 0 1 0 -7.6 0zM1371.7 990.3a3.8 3.8 0 1 0 7.6 0a3.8 3.8 0 1 0 -7.6 0z" fill="#e6c21e"/>
<polyline points="750.8,638.7 766.4,642.8 782.0,627.0 797.7,644.8 813.3,647.7 828.9,650.9 844.5,655.5 860.1,664.7 875.7,655.5 891.4,669.9 907.0,676.1 922.6,675.9 938.2,682.5 953.8,685.5 969.4,693.0 985.1,705.6 1000.7,710.9 1016.3,736.5 1031.9,753.7 1047.5,787.1 1063.2,820.0 1078.8,862.8 1094.4,888.6 1110.0,916.5 1125.6,938.0 1141.2,956.9 1156.9,972.6 1172.5,982.6 1188.1,987.2 1203.7,985.3 1219.3,988.3 1234.9,989.5 1250.6,987.9 1266.2,988.9 1281.8,991.0 1297.4,990.6 1313.0,989.0 1328.6,991.0 1344.3,991.0 1359.9,990.9 1375.5,990.8" fill="none" stroke="#ff8000" stroke-width="1.3" stroke-linejoin="round"/>
<path d="M747.0 638.7a3.8 3.8 0 1 0 7.6 0a3.8 3.8 0 1 0 -7.6 0zM762.6 642.8a3.8 3.8 0 1 0 7.6 0a3.8 3.8 0 1 0 -7.6 0zM778.2 627.0a3.8 3.8 0 1 0 7.6 0a3.8 3.8 0 1 0 -7.6 0zM793.9 644.8a3.8 3.8 0 1 0 7.6 0a3.8 3.8 0 1 0 -7.6 0zM809.5 647.7a3.8 3.8 0 1 0 7.6 0a3.8 3.8 0 1 0 -7.6 0zM825.1 650.9a3.8 3.8 0 1 0 7.6 0a3.8 3.8 0 1 0 -7.6 0zM840.7 655.5a3.8 3.8 0 1 0 7.6 0a3.8 3.8 0 1 0 -7.6 0zM856.3 664.7a3.8 3.8 0 1 0 7.6 0a3.8 3.8 0 1 0 -7.6 0zM871.9 655.5a3.8 3.8 0 1 0 7.6 0a3.8 3.8 0 1 0 -7.6 0zM887.6 669.9a3.8 3.8 0 1 0 7.6 0a3.8 3.8 0 1 0 -7.6 0zM903.2 676.1a3.8 3.8 0 1 0 7.6 0a3.8 3.8 0 1 0 -7.6 0zM918.8 675.9a3.8 3.8 0 1 0 7.6 0a3.8 3.8 0 1 0 -7.6 0zM934.4 682.5a3.8 3.8 0 1 0 7.6 0a3.8 3.8 0 1 0 -7.6 0zM950.0 685.5a3.8 3.8 0 1 0 7.6 0a3.8 3.8 0 1 0 -7.6 0zM965.6 693.0a3.8 3.8 0 1 0 7.6 0a3.8 3.8 0 1 0 -7.6 0zM981.3 705.6a3.8 3.8 0 1 0 7.6 0a3.8 3.8 0 1 0 -7.6 0zM996.9 710.9a3.8 3.8 0 1 0 7.6 0a3.8 3.8 0 1 0 -7.6 0zM1012.5 736.5a3.8 3.8 0 1 0 7.6 0a3.8 3.8 0 1 0 -7.6 0zM1028.1 753.7a3.8 3.8 0 1 0 7.6 0a3.8 3.8 0 1 0 -7.6 0zM1043.7 787.1a3.8 3.8 0 1 0 7.6 0a3.8 3.8 0 1 0 -7.6 0zM1059.4 820.0a3.8 3.8 0 1 0 7.6 0a3.8 3.8 0 1 0 -7.6 0zM1075.0 862.8a3.8 3.8 0 1 0 7.6 0a3.8 3.8 0 1 0 -7.6 0zM1090.6 888.6a3.8 3.8 0 1 0 7.6 0a3.8 3.8 0 1 0 -7.6 0zM1106.2 916.5a3.8 3.8 0 1 0 7.6 0a3.8 3.8 0 1 0 -7.6 0zM1121.8 938.0a3.8 3.8 0 1 0 7.6 0a3.8 3.8 0 1 0 -7.6 0zM1137.4 956.9a3.8 3.8 0 1 0 7.6 0a3.8 3.8 0 1 0 -7.6 0zM1153.1 972.6a3.8 3.8 0 1 0 7.6 0a3.8 3.8 0 1 0 -7.6 0zM1168.7 982.6a3.8 3.8 0 1 0 7.6 0a3.8 3.8 0 1 0 -7.6 0zM1184.3 987.2a3.8 3.8 0 1 0 7.6 0a3.8 3.8 0 1 0 -7.6 0zM1199.9 985.3a3.8 3.8 0 1 0 7.6 0a3.8 3.8 0 1 0 -7.6 0zM1215.5 988.3a3.8 3.8 0 1 0 7.6 0a3.8 3.8 0 1 0 -7.6 0zM1231.1 989.5a3.8 3.8 0 1 0 7.6 0a3.8 3.8 0 1 0 -7.6 0zM1246.8 987.9a3.8 3.8 0 1 0 7.6 0a3.8 3.8 0 1 0 -7.6 0zM1262.4 988.9a3.8 3.8 0 1 0 7.6 0a3.8 3.8 0 1 0 -7.6 0zM1278.0 991.0a3.8 3.8 0 1 0 7.6 0a3.8 3.8 0 1 0 -7.6 0zM1293.6 990.6a3.8 3.8 0 1 0 7.6 0a3.8 3.8 0 1 0 -7.6 0zM1309.2 989.0a3.8 3.8 0 1 0 7.6 0a3.8 3.8 0 1 0 -7.6 0zM1324.8 991.0a3.8 3.8 0 1 0 7.6 0a3.8 3.8 0 1 0 -7.6 0zM1340.5 991.0a3.8 3.8 0 1 0 7.6 0a3.8 3.8 0 1 0 -7.6 0zM1356.1 990.9a3.8 3.8 0 1 0 7.6 0a3.8 3.8 0 1 0 -7.6 0zM1371.7 990.8a3.8 3.8 0 1 0 7.6 0a3.8 3.8 0 1 0 -7.6 0z" fill="#ff8000"/>
<polyline points="750.8,642.6 766.4,646.2 782.0,649.3 797.7,657.1 813.3,659.3 828.9,665.5 844.5,662.9 860.1,659.8 875.7,668.9 891.4,676.7 907.0,685.0 922.6,687.1 938.2,689.6 953.8,702.1 969.4,705.1 985.1,717.8 1000.7,729.2 1016.3,747.6 1031.9,769.4 1047.5,776.9 1063.2,816.3 1078.8,859.8 1094.4,884.1 1110.0,915.4 1125.6,937.8 1141.2,957.4 1156.9,974.1 1172.5,981.8 1188.1,985.3 1203.7,986.1 1219.3,987.9 1234.9,989.2 1250.6,989.3 1266.2,989.1 1281.8,988.7 1297.4,990.0 1313.0,988.3 1328.6,989.6 1344.3,989.9 1359.9,989.6 1375.5,990.6" fill="none" stroke="#000080" stroke-width="1.3" stroke-linejoin="round"/>
<path d="M747.0 642.6a3.8 3.8 0 1 0 7.6 0a3.8 3.8 0 1 0 -7.6 0zM762.6 646.2a3.8 3.8 0 1 0 7.6 0a3.8 3.8 0 1 0 -7.6 0zM778.2 649.3a3.8 3.8 0 1 0 7.6 0a3.8 3.8 0 1 0 -7.6 0zM793.9 657.1a3.8 3.8 0 1 0 7.6 0a3.8 3.8 0 1 0 -7.6 0zM809.5 659.3a3.8 3.8 0 1 0 7.6 0a3.8 3.8 0 1 0 -7.6 0zM825.1 665.5a3.8 3.8 0 1 0 7.6 0a3.8 3.8 0 1 0 -7.6 0zM840.7 662.9a3.8 3.8 0 1 0 7.6 0a3.8 3.8 0 1 0 -7.6 0zM856.3 659.8a3.8 3.8 0 1 0 7.6 0a3.8 3.8 0 1 0 -7.6 0zM871.9 668.9a3.8 3.8 0 1 0 7.6 0a3.8 3.8 0 1 0 -7.6 0zM887.6 676.7a3.8 3.8 0 1 0 7.6 0a3.8 3.8 0 1 0 -7.6 0zM903.2 685.0a3.8 3.8 0 1 0 7.6 0a3.8 3.8 0 1 0 -7.6 0zM918.8 687.1a3.8 3.8 0 1 0 7.6 0a3.8 3.8 0 1 0 -7.6 0zM934.4 689.6a3.8 3.8 0 1 0 7.6 0a3.8 3.8 0 1 0 -7.6 0zM950.0 702.1a3.8 3.8 0 1 0 7.6 0a3.8 3.8 0 1 0 -7.6 0zM965.6 705.1a3.8 3.8 0 1 0 7.6 0a3.8 3.8 0 1 0 -7.6 0zM981.3 717.8a3.8 3.8 0 1 0 7.6 0a3.8 3.8 0 1 0 -7.6 0zM996.9 729.2a3.8 3.8 0 1 0 7.6 0a3.8 3.8 0 1 0 -7.6 0zM1012.5 747.6a3.8 3.8 0 1 0 7.6 0a3.8 3.8 0 1 0 -7.6 0zM1028.1 769.4a3.8 3.8 0 1 0 7.6 0a3.8 3.8 0 1 0 -7.6 0zM1043.7 776.9a3.8 3.8 0 1 0 7.6 0a3.8 3.8 0 1 0 -7.6 0zM1059.4 816.3a3.8 3.8 0 1 0 7.6 0a3.8 3.8 0 1 0 -7.6 0zM1075.0 859.8a3.8 3.8 0 1 0 7.6 0a3.8 3.8 0 1 0 -7.6 0zM1090.6 884.1a3.8 3.8 0 1 0 7.6 0a3.8 3.8 0 1 0 -7.6 0zM1106.2 915.4a3.8 3.8 0 1 0 7.6 0a3.8 3.8 0 1 0 -7.6 0zM1121.8 937.8a3.8 3.8 0 1 0 7.6 0a3.8 3.8 0 1 0 -7.6 0zM1137.4 957.4a3.8 3.8 0 1 0 7.6 0a3.8 3.8 0 1 0 -7.6 0zM1153.1 974.1a3.8 3.8 0 1 0 7.6 0a3.8 3.8 0 1 0 -7.6 0zM1168.7 981.8a3.8 3.8 0 1 0 7.6 0a3.8 3.8 0 1 0 -7.6 0zM1184.3 985.3a3.8 3.8 0 1 0 7.6 0a3.8 3.8 0 1 0 -7.6 0zM1199.9 986.1a3.8 3.8 0 1 0 7.6 0a3.8 3.8 0 1 0 -7.6 0zM1215.5 987.9a3.8 3.8 0 1 0 7.6 0a3.8 3.8 0 1 0 -7.6 0zM1231.1 989.2a3.8 3.8 0 1 0 7.6 0a3.8 3.8 0 1 0 -7.6 0zM1246.8 989.3a3.8 3.8 0 1 0 7.6 0a3.8 3.8 0 1 0 -7.6 0zM1262.4 989.1a3.8 3.8 0 1 0 7.6 0a3.8 3.8 0 1 0 -7.6 0zM1278.0 988.7a3.8 3.8 0 1 0 7.6 0a3.8 3.8 0 1 0 -7.6 0zM1293.6 990.0a3.8 3.8 0 1 0 7.6 0a3.8 3.8 0 1 0 -7.6 0zM1309.2 988.3a3.8 3.8 0 1 0 7.6 0a3.8 3.8 0 1 0 -7.6 0zM1324.8 989.6a3.8 3.8 0 1 0 7.6 0a3.8 3.8 0 1 0 -7.6 0zM1340.5 989.9a3.8 3.8 0 1 0 7.6 0a3.8 3.8 0 1 0 -7.6 0zM1356.1 989.6a3.8 3.8 0 1 0 7.6 0a3.8 3.8 0 1 0 -7.6 0zM1371.7 990.6a3.8 3.8 0 1 0 7.6 0a3.8 3.8 0 1 0 -7.6 0z" fill="#000080"/>
<polyline points="750.8,629.9 766.4,637.0 782.0,647.5 797.7,653.2 813.3,658.6 828.9,656.2 844.5,663.0 860.1,665.5 875.7,669.8 891.4,679.2 907.0,679.7 922.6,684.2 938.2,688.4 953.8,682.8 969.4,694.8 985.1,708.7 1000.7,722.4 1016.3,734.2 1031.9,760.5 1047.5,787.3 1063.2,815.8 1078.8,864.1 1094.4,894.5 1110.0,914.5 1125.6,936.0 1141.2,959.9 1156.9,971.8 1172.5,981.7 1188.1,985.6 1203.7,986.6 1219.3,989.4 1234.9,989.3 1250.6,989.9 1266.2,989.6 1281.8,988.7 1297.4,989.4 1313.0,990.4 1328.6,989.6 1344.3,992.4 1359.9,990.1 1375.5,990.0" fill="none" stroke="#800080" stroke-width="1.3" stroke-linejoin="round"/>
<path d="M747.0 629.9a3.8 3.8 0 1 0 7.6 0a3.8 3.8 0 1 0 -7.6 0zM762.6 637.0a3.8 3.8 0 1 0 7.6 0a3.8 3.8 0 1 0 -7.6 0zM778.2 647.5a3.8 3.8 0 1 0 7.6 0a3.8 3.8 0 1 0 -7.6 0zM793.9 653.2a3.8 3.8 0 1 0 7.6 0a3.8 3.8 0 1 0 -7.6 0zM809.5 658.6a3.8 3.8 0 1 0 7.6 0a3.8 3.8 0 1 0 -7.6 0zM825.1 656.2a3.8 3.8 0 1 0 7.6 0a3.8 3.8 0 1 0 -7.6 0zM840.7 663.0a3.8 3.8 0 1 0 7.6 0a3.8 3.8 0 1 0 -7.6 0zM856.3 665.5a3.8 3.8 0 1 0 7.6 0a3.8 3.8 0 1 0 -7.6 0zM871.9 669.8a3.8 3.8 0 1 0 7.6 0a3.8 3.8 0 1 0 -7.6 0zM887.6 679.2a3.8 3.8 0 1 0 7.6 0a3.8 3.8 0 1 0 -7.6 0zM903.2 679.7a3.8 3.8 0 1 0 7.6 0a3.8 3.8 0 1 0 -7.6 0zM918.8 684.2a3.8 3.8 0 1 0 7.6 0a3.8 3.8 0 1 0 -7.6 0zM934.4 688.4a3.8 3.8 0 1 0 7.6 0a3.8 3.8 0 1 0 -7.6 0zM950.0 682.8a3.8 3.8 0 1 0 7.6 0a3.8 3.8 0 1 0 -7.6 0zM965.6 694.8a3.8 3.8 0 1 0 7.6 0a3.8 3.8 0 1 0 -7.6 0zM981.3 708.7a3.8 3.8 0 1 0 7.6 0a3.8 3.8 0 1 0 -7.6 0zM996.9 722.4a3.8 3.8 0 1 0 7.6 0a3.8 3.8 0 1 0 -7.6 0zM1012.5 734.2a3.8 3.8 0 1 0 7.6 0a3.8 3.8 0 1 0 -7.6 0zM1028.1 760.5a3.8 3.8 0 1 0 7.6 0a3.8 3.8 0 1 0 -7.6 0zM1043.7 787.3a3.8 3.8 0 1 0 7.6 0a3.8 3.8 0 1 0 -7.6 0zM1059.4 815.8a3.8 3.8 0 1 0 7.6 0a3.8 3.8 0 1 0 -7.6 0zM1075.0 864.1a3.8 3.8 0 1 0 7.6 0a3.8 3.8 0 1 0 -7.6 0zM1090.6 894.5a3.8 3.8 0 1 0 7.6 0a3.8 3.8 0 1 0 -7.6 0zM1106.2 914.5a3.8 3.8 0 1 0 7.6 0a3.8 3.8 0 1 0 -7.6 0zM1121.8 936.0a3.8 3.8 0 1 0 7.6 0a3.8 3.8 0 1 0 -7.6 0zM1137.4 959.9a3.8 3.8 0 1 0 7.6 0a3.8 3.8 0 1 0 -7.6 0zM1153.1 971.8a3.8 3.8 0 1 0 7.6 0a3.8 3.8 0 1 0 -7.6 0zM1168.7 981.7a3.8 3.8 0 1 0 7.6 0a3.8 3.8 0 1 0 -7.6 0zM1184.3 985.6a3.8 3.8 0 1 0 7.6 0a3.8 3.8 0 1 0 -7.6 0zM1199.9 986.6a3.8 3.8 0 1 0 7.6 0a3.8 3.8 0 1 0 -7.6 0zM1215.5 989.4a3.8 3.8 0 1 0 7.6 0a3.8 3.8 0 1 0 -7.6 0zM1231.1 989.3a3.8 3.8 0 1 0 7.6 0a3.8 3.8 0 1 0 -7.6 0zM1246.8 989.9a3.8 3.8 0 1 0 7.6 0a3.8 3.8 0 1 0 -7.6 0zM1262.4 989.6a3.8 3.8 0 1 0 7.6 0a3.8 3.8 0 1 0 -7.6 0zM1278.0 988.7a3.8 3.8 0 1 0 7.6 0a3.8 3.8 0 1 0 -7.6 0zM1293.6 989.4a3.8 3.8 0 1 0 7.6 0a3.8 3.8 0 1 0 -7.6 0zM1309.2 990.4a3.8 3.8 0 1 0 7.6 0a3.8 3.8 0 1 0 -7.6 0zM1324.8 989.6a3.8 3.8 0 1 0 7.6 0a3.8 3.8 0 1 0 -7.6 0zM1340.5 992.4a3.8 3.8 0 1 0 7.6 0a3.8 3.8 0 1 0 -7.6 0zM1356.1 990.1a3.8 3.8 0 1 0 7.6 0a3.8 3.8 0 1 0 -7.6 0zM1371.7 990.0a3.8 3.8 0 1 0 7.6 0a3.8 3.8 0 1 0 -7.6 0z" fill="#800080"/>
<polyline points="750.8,649.1 766.4,649.4 782.0,653.8 797.7,663.2 813.3,664.4 828.9,671.8 844.5,678.2 860.1,682.8 875.7,680.7 891.4,685.7 907.0,690.7 922.6,693.3 938.2,702.8 953.8,708.7 969.4,713.6 985.1,727.8 1000.7,743.6 1016.3,758.6 1031.9,772.3 1047.5,790.5 1063.2,815.8 1078.8,849.4 1094.4,885.3 1110.0,914.6 1125.6,939.3 1141.2,958.0 1156.9,971.4 1172.5,979.6 1188.1,984.9 1203.7,986.5 1219.3,986.3 1234.9,986.0 1250.6,987.6 1266.2,987.5 1281.8,987.6 1297.4,988.2 1313.0,988.6 1328.6,988.4 1344.3,988.7 1359.9,989.6 1375.5,989.0" fill="none" stroke="#800000" stroke-width="1.3" stroke-linejoin="round"/>
<path d="M747.0 649.1a3.8 3.8 0 1 0 7.6 0a3.8 3.8 0 1 0 -7.6 0zM762.6 649.4a3.8 3.8 0 1 0 7.6 0a3.8 3.8 0 1 0 -7.6 0zM778.2 653.8a3.8 3.8 0 1 0 7.6 0a3.8 3.8 0 1 0 -7.6 0zM793.9 663.2a3.8 3.8 0 1 0 7.6 0a3.8 3.8 0 1 0 -7.6 0zM809.5 664.4a3.8 3.8 0 1 0 7.6 0a3.8 3.8 0 1 0 -7.6 0zM825.1 671.8a3.8 3.8 0 1 0 7.6 0a3.8 3.8 0 1 0 -7.6 0zM840.7 678.2a3.8 3.8 0 1 0 7.6 0a3.8 3.8 0 1 0 -7.6 0zM856.3 682.8a3.8 3.8 0 1 0 7.6 0a3.8 3.8 0 1 0 -7.6 0zM871.9 680.7a3.8 3.8 0 1 0 7.6 0a3.8 3.8 0 1 0 -7.6 0zM887.6 685.7a3.8 3.8 0 1 0 7.6 0a3.8 3.8 0 1 0 -7.6 0zM903.2 690.7a3.8 3.8 0 1 0 7.6 0a3.8 3.8 0 1 0 -7.6 0zM918.8 693.3a3.8 3.8 0 1 0 7.6 0a3.8 3.8 0 1 0 -7.6 0zM934.4 702.8a3.8 3.8 0 1 0 7.6 0a3.8 3.8 0 1 0 -7.6 0zM950.0 708.7a3.8 3.8 0 1 0 7.6 0a3.8 3.8 0 1 0 -7.6 0zM965.6 713.6a3.8 3.8 0 1 0 7.6 0a3.8 3.8 0 1 0 -7.6 0zM981.3 727.8a3.8 3.8 0 1 0 7.6 0a3.8 3.8 0 1 0 -7.6 0zM996.9 743.6a3.8 3.8 0 1 0 7.6 0a3.8 3.8 0 1 0 -7.6 0zM1012.5 758.6a3.8 3.8 0 1 0 7.6 0a3.8 3.8 0 1 0 -7.6 0zM1028.1 772.3a3.8 3.8 0 1 0 7.6 0a3.8 3.8 0 1 0 -7.6 0zM1043.7 790.5a3.8 3.8 0 1 0 7.6 0a3.8 3.8 0 1 0 -7.6 0zM1059.4 815.8a3.8 3.8 0 1 0 7.6 0a3.8 3.8 0 1 0 -7.6 0zM1075.0 849.4a3.8 3.8 0 1 0 7.6 0a3.8 3.8 0 1 0 -7.6 0zM1090.6 885.3a3.8 3.8 0 1 0 7.6 0a3.8 3.8 0 1 0 -7.6 0zM1106.2 914.6a3.8 3.8 0 1 0 7.6 0a3.8 3.8 0 1 0 -7.6 0zM1121.8 939.3a3.8 3.8 0 1 0 7.6 0a3.8 3.8 0 1 0 -7.6 0zM1137.4 958.0a3.8 3.8 0 1 0 7.6 0a3.8 3.8 0 1 0 -7.6 0zM1153.1 971.4a3.8 3.8 0 1 0 7.6 0a3.8 3.8 0 1 0 -7.6 0zM1168.7 979.6a3.8 3.8 0 1 0 7.6 0a3.8 3.8 0 1 0 -7.6 0zM1184.3 984.9a3.8 3.8 0 1 0 7.6 0a3.8 3.8 0 1 0 -7.6 0zM1199.9 986.5a3.8 3.8 0 1 0 7.6 0a3.8 3.8 0 1 0 -7.6 0zM1215.5 986.3a3.8 3.8 0 1 0 7.6 0a3.8 3.8 0 1 0 -7.6 0zM1231.1 986.0a3.8 3.8 0 1 0 7.6 0a3.8 3.8 0 1 0 -7.6 0zM1246.8 987.6a3.8 3.8 0 1 0 7.6 0a3.8 3.8 0 1 0 -7.6 0zM1262.4 987.5a3.8 3.8 0 1 0 7.6 0a3.8 3.8 0 1 0 -7.6 0zM1278.0 987.6a3.8 3.8 0 1 0 7.6 0a3.8 3.8 0 1 0 -7.6 0zM1293.6 988.2a3.8 3.8 0 1 0 7.6 0a3.8 3.8 0 1 0 -7.6 0zM1309.2 988.6a3.8 3.8 0 1 0 7.6 0a3.8 3.8 0 1 0 -7.6 0zM1324.8 988.4a3.8 3.8 0 1 0 7.6 0a3.8 3.8 0 1 0 -7.6 0zM1340.5 988.7a3.8 3.8 0 1 0 7.6 0a3.8 3.8 0 1 0 -7.6 0zM1356.1 989.6a3.8 3.8 0 1 0 7.6 0a3.8 3.8 0 1 0 -7.6 0zM1371.7 989.0a3.8 3.8 0 1 0 7.6 0a3.8 3.8 0 1 0 -7.6 0z" fill="#800000"/>
</g>
<text x="65.1" y="503.8" font-size="44.5" text-anchor="middle" >80</text>
<text x="377.7" y="503.8" font-size="44.5" text-anchor="middle" >75</text>
<text x="690.2" y="503.8" font-size="44.5" text-anchor="middle" >70</text>
<text x="811.0" y="505.2" font-size="44.5" text-anchor="middle" >90</text>
<text x="1123.4" y="505.2" font-size="44.5" text-anchor="middle" >85</text>
<text x="66.6" y="1041.5" font-size="44.5" text-anchor="middle" letter-spacing="1.6">540</text>
<text x="307.1" y="1041.5" font-size="44.5" text-anchor="middle" letter-spacing="1.6">535</text>
<text x="547.5" y="1041.5" font-size="44.5" text-anchor="middle" letter-spacing="1.6">530</text>
<text x="748.8" y="1041.3" font-size="44.5" text-anchor="middle" >1.0</text>
<text x="905.0" y="1041.3" font-size="44.5" text-anchor="middle" >0.5</text>
<text x="1061.2" y="1041.3" font-size="44.5" text-anchor="middle" >0.0</text>
<text x="1217.3" y="1041.3" font-size="44.5" text-anchor="middle" >-0.5</text>
<text x="1373.5" y="1041.3" font-size="44.5" text-anchor="middle" >-1.0</text>
<text x="183.1" y="1092.8" font-size="44.4" text-anchor="start" >Binding Energy [eV]</text>
<text x="866.2" y="1092.8" font-size="44.4" text-anchor="start" >Binding Energy [eV]</text>
<text transform="translate(34.8 329.1) rotate(-90)" font-size="44.4">Intensity [a.u.]</text>
<text transform="translate(34.8 893.3) rotate(-90)" font-size="44.4">Intensity [a.u.]</text>
<text x="434.0" y="68.7" font-size="55" text-anchor="start" >Al 2p</text>
<text x="593.4" y="69.4" font-size="58.5" text-anchor="start" >(a)</text>
<text x="777.1" y="73.0" font-size="55.8" text-anchor="start" >Au 4f</text>
<text x="1275.5" y="65.1" font-size="58.5" text-anchor="start" >(b)</text>
<text x="93.8" y="608.8" font-size="55.6" text-anchor="start" >O 1s</text>
<text x="593.0" y="620.4" font-size="59.5" text-anchor="start" >(c)</text>
<text x="1118.2" y="612.4" font-size="55" text-anchor="start" >FE</text>
<text x="1275.1" y="619.1" font-size="58.5" text-anchor="start" >(d)</text>
<text x="280.7" y="88.7" font-size="42.7" text-anchor="start" >Al-O</text>
<text x="489.3" y="203.0" font-size="42.7" text-anchor="start" >Al-Al</text>
<text x="282.1" y="608.8" font-size="42.7" text-anchor="start" >Al-O</text>
<text x="393.0" y="608.8" font-size="42.7" text-anchor="start" >O-C=O</text>
<text x="946.1" y="113.0" font-size="35.5" text-anchor="start" >4f</text>
<text x="977.4" y="121.9" font-size="23.5" text-anchor="start" >5/2</text>
<text x="1107.8" y="74.6" font-size="35.5" text-anchor="start" >4f</text>
<text x="1140.1" y="82.5" font-size="23.5" text-anchor="start" >7/2</text>
<path d="M326.3 613.7L416.8 647.8V674.5M445 614.7V709.6" stroke="#000" stroke-width="2.3" fill="none"/>
<text x="88.6" y="39.4" font-size="28" text-anchor="start" letter-spacing="0.9">position:</text>
<path d="M89.4 67.3H156.5" stroke="#000000" stroke-width="2"/>
<path d="M122.6 63.8l3.5 3.5l-3.5 3.5l-3.5 -3.5z" fill="#000000"/>
<text x="163.0" y="76.5" font-size="28.5" text-anchor="start" letter-spacing="0.9">1 (Al)</text>
<path d="M89.4 103.5H156.5" stroke="#ff0000" stroke-width="2"/>
<path d="M122.6 100.0l3.5 3.5l-3.5 3.5l-3.5 -3.5z" fill="#ff0000"/>
<text x="163.0" y="112.7" font-size="28.5" text-anchor="start" letter-spacing="0.9">2</text>
<path d="M89.4 139.7H156.5" stroke="#14b432" stroke-width="2"/>
<path d="M122.6 136.2l3.5 3.5l-3.5 3.5l-3.5 -3.5z" fill="#14b432"/>
<text x="163.0" y="148.9" font-size="28.5" text-anchor="start" letter-spacing="0.9">3</text>
<path d="M89.4 175.9H156.5" stroke="#0000ff" stroke-width="2"/>
<path d="M122.6 172.4l3.5 3.5l-3.5 3.5l-3.5 -3.5z" fill="#0000ff"/>
<text x="163.0" y="185.1" font-size="28.5" text-anchor="start" letter-spacing="0.9">4</text>
<path d="M89.4 212.1H156.5" stroke="#e6c21e" stroke-width="2"/>
<path d="M122.6 208.6l3.5 3.5l-3.5 3.5l-3.5 -3.5z" fill="#e6c21e"/>
<text x="163.0" y="221.3" font-size="28.5" text-anchor="start" letter-spacing="0.9">5</text>
<path d="M89.4 248.3H156.5" stroke="#ff8000" stroke-width="2"/>
<path d="M122.6 244.8l3.5 3.5l-3.5 3.5l-3.5 -3.5z" fill="#ff8000"/>
<text x="163.0" y="257.5" font-size="28.5" text-anchor="start" letter-spacing="0.9">6</text>
<path d="M89.4 284.5H156.5" stroke="#000080" stroke-width="2"/>
<path d="M122.6 281.0l3.5 3.5l-3.5 3.5l-3.5 -3.5z" fill="#000080"/>
<text x="163.0" y="293.7" font-size="28.5" text-anchor="start" letter-spacing="0.9">7</text>
<path d="M89.4 320.7H156.5" stroke="#800080" stroke-width="2"/>
<path d="M122.6 317.2l3.5 3.5l-3.5 3.5l-3.5 -3.5z" fill="#800080"/>
<text x="163.0" y="329.9" font-size="28.5" text-anchor="start" letter-spacing="0.9">8</text>
<path d="M89.4 356.9H156.5" stroke="#800000" stroke-width="2"/>
<path d="M122.6 353.4l3.5 3.5l-3.5 3.5l-3.5 -3.5z" fill="#800000"/>
<text x="163.0" y="366.1" font-size="28.5" text-anchor="start" letter-spacing="0.9">9 (Au)</text>
</svg></body></html>
